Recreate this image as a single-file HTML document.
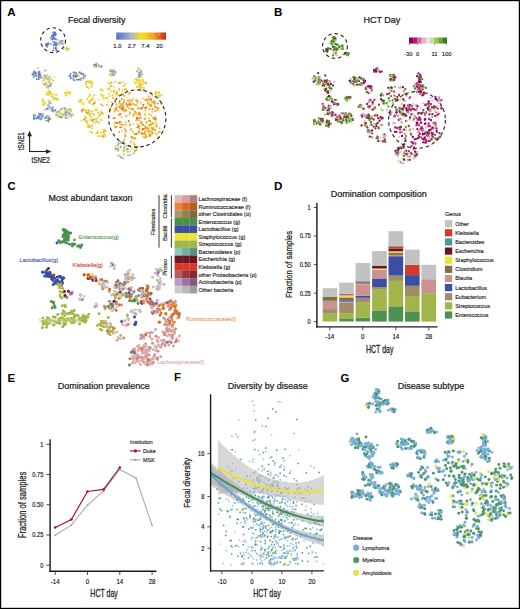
<!DOCTYPE html><html><head><meta charset="utf-8"><style>html,body{margin:0;padding:0;background:#fff;}svg{display:block;font-family:"Liberation Sans",sans-serif;}</style></head><body><svg width="520" height="609" viewBox="0 0 520 609">
<rect x="0.00" y="0.00" width="520.00" height="609.00" fill="#ffffff"/>
<text x="7.20" y="15.80" font-size="11.6" fill="#000" text-anchor="start" font-weight="bold">A</text>
<text x="68.00" y="23.30" font-size="9" fill="#222" text-anchor="start" font-weight="normal" stroke="#222" stroke-width="0.24">Fecal diversity</text>
<defs><linearGradient id="divg" x1="0" x2="1" y1="0" y2="0"><stop offset="0" stop-color="#4e72c2"/><stop offset="0.3" stop-color="#a9b4c4"/><stop offset="0.5" stop-color="#f3e21e"/><stop offset="0.75" stop-color="#f0a422"/><stop offset="1" stop-color="#d0201f"/></linearGradient></defs>
<rect x="116.20" y="32.50" width="49.80" height="7.20" fill="url(#divg)"/>
<line x1="116.80" y1="34.00" x2="116.80" y2="35.00" stroke="#ffffff" stroke-width="0.8" opacity="0.7"/>
<line x1="131.50" y1="34.00" x2="131.50" y2="35.00" stroke="#ffffff" stroke-width="0.8" opacity="0.7"/>
<line x1="145.50" y1="34.00" x2="145.50" y2="35.00" stroke="#ffffff" stroke-width="0.8" opacity="0.7"/>
<line x1="159.50" y1="34.00" x2="159.50" y2="35.00" stroke="#ffffff" stroke-width="0.8" opacity="0.7"/>
<text x="117.40" y="48.20" font-size="5.8" fill="#222" text-anchor="middle" font-weight="normal" stroke="#222" stroke-width="0.15">1.0</text>
<text x="131.70" y="48.20" font-size="5.8" fill="#222" text-anchor="middle" font-weight="normal" stroke="#222" stroke-width="0.15">2.7</text>
<text x="145.40" y="48.20" font-size="5.8" fill="#222" text-anchor="middle" font-weight="normal" stroke="#222" stroke-width="0.15">7.4</text>
<text x="159.50" y="48.20" font-size="5.8" fill="#222" text-anchor="middle" font-weight="normal" stroke="#222" stroke-width="0.15">20</text>
<g>
<circle cx="52.29" cy="39.56" r="0.95" fill="#5d7cc2"/>
<circle cx="52.99" cy="35.36" r="0.95" fill="#6683c2"/>
<circle cx="55.84" cy="34.17" r="0.95" fill="#5d7dc2"/>
<circle cx="53.22" cy="38.41" r="0.95" fill="#5c7cc2"/>
<circle cx="56.69" cy="50.15" r="0.95" fill="#5477c2"/>
<circle cx="52.67" cy="35.46" r="0.95" fill="#5d7dc2"/>
<circle cx="50.91" cy="38.29" r="0.95" fill="#6d88c2"/>
<circle cx="55.67" cy="48.81" r="0.95" fill="#6582c2"/>
<circle cx="53.43" cy="35.48" r="0.95" fill="#6c88c2"/>
<circle cx="56.07" cy="45.76" r="0.95" fill="#6381c2"/>
<circle cx="53.38" cy="45.07" r="0.95" fill="#6482c2"/>
<circle cx="51.94" cy="35.56" r="0.95" fill="#6280c2"/>
<circle cx="55.36" cy="35.23" r="0.95" fill="#4e72c2"/>
<circle cx="54.96" cy="34.75" r="0.95" fill="#6a86c2"/>
<circle cx="54.44" cy="34.73" r="0.95" fill="#6683c2"/>
<circle cx="53.18" cy="32.62" r="0.95" fill="#6683c2"/>
<circle cx="53.06" cy="50.39" r="0.95" fill="#4e72c2"/>
<circle cx="56.08" cy="43.92" r="0.95" fill="#4e72c2"/>
<circle cx="54.71" cy="32.60" r="0.95" fill="#5577c2"/>
<circle cx="56.20" cy="49.91" r="0.95" fill="#5a7bc2"/>
<circle cx="55.33" cy="45.13" r="0.95" fill="#6381c2"/>
<circle cx="51.68" cy="36.46" r="0.95" fill="#5f7ec2"/>
<circle cx="54.81" cy="42.11" r="0.95" fill="#6683c2"/>
<circle cx="53.81" cy="34.84" r="0.95" fill="#5879c2"/>
<circle cx="55.44" cy="33.67" r="0.95" fill="#6381c2"/>
<circle cx="57.59" cy="39.97" r="0.95" fill="#aab4c0"/>
<circle cx="54.98" cy="32.45" r="0.95" fill="#5879c2"/>
<circle cx="53.00" cy="41.83" r="0.95" fill="#758ec2"/>
<circle cx="55.21" cy="44.39" r="0.95" fill="#6684c2"/>
<circle cx="54.66" cy="43.48" r="0.95" fill="#6e89c2"/>
<circle cx="55.87" cy="47.84" r="0.95" fill="#5879c2"/>
<circle cx="55.40" cy="43.95" r="0.95" fill="#5778c2"/>
<circle cx="55.85" cy="39.22" r="0.95" fill="#5c7cc2"/>
<circle cx="54.59" cy="33.35" r="0.95" fill="#5e7ec2"/>
<circle cx="53.67" cy="32.14" r="0.95" fill="#6784c2"/>
<circle cx="53.57" cy="36.36" r="0.95" fill="#6381c2"/>
<circle cx="53.31" cy="37.19" r="0.95" fill="#5a7bc2"/>
<circle cx="55.78" cy="43.29" r="0.95" fill="#5476c2"/>
<circle cx="54.61" cy="43.10" r="0.95" fill="#597ac2"/>
<circle cx="54.00" cy="47.95" r="0.95" fill="#6f89c2"/>
<circle cx="55.37" cy="33.33" r="0.95" fill="#5678c2"/>
<circle cx="54.06" cy="33.09" r="0.95" fill="#6381c2"/>
<circle cx="53.98" cy="39.12" r="0.95" fill="#6582c2"/>
<circle cx="54.63" cy="38.17" r="0.95" fill="#4e72c2"/>
<circle cx="53.86" cy="33.38" r="0.95" fill="#607fc2"/>
<circle cx="50.54" cy="43.84" r="0.95" fill="#708ac2"/>
<circle cx="46.17" cy="43.86" r="0.95" fill="#4e72c2"/>
<circle cx="48.43" cy="43.44" r="0.95" fill="#5c7cc2"/>
<circle cx="47.99" cy="43.33" r="0.95" fill="#5e7ec2"/>
<circle cx="46.08" cy="45.12" r="0.95" fill="#5678c2"/>
<circle cx="47.50" cy="45.30" r="0.95" fill="#6683c2"/>
<circle cx="46.12" cy="45.63" r="0.95" fill="#5f7ec2"/>
<circle cx="46.58" cy="45.27" r="0.95" fill="#4e72c2"/>
<circle cx="47.27" cy="46.73" r="0.95" fill="#6a86c2"/>
<circle cx="47.73" cy="44.54" r="0.95" fill="#6885c2"/>
<circle cx="60.30" cy="41.14" r="0.95" fill="#b6bca5"/>
<circle cx="62.82" cy="40.90" r="0.95" fill="#c1c38c"/>
<circle cx="62.06" cy="41.22" r="0.95" fill="#a9b4c2"/>
<circle cx="61.90" cy="44.00" r="0.95" fill="#a5b1c3"/>
<circle cx="62.31" cy="40.88" r="0.95" fill="#8b9ec3"/>
<circle cx="62.75" cy="43.67" r="0.95" fill="#afb7b5"/>
<circle cx="63.00" cy="43.34" r="0.95" fill="#97a7c3"/>
<circle cx="61.93" cy="40.74" r="0.95" fill="#9aa9c3"/>
<circle cx="60.52" cy="41.19" r="0.95" fill="#8b9ec3"/>
<circle cx="61.02" cy="43.02" r="0.95" fill="#91a2c3"/>
<circle cx="66.52" cy="48.66" r="0.95" fill="#e6da38"/>
<circle cx="67.62" cy="50.23" r="0.95" fill="#f1c51f"/>
<circle cx="67.68" cy="49.86" r="0.95" fill="#babe9c"/>
<circle cx="67.24" cy="48.59" r="0.95" fill="#cbc976"/>
<circle cx="66.50" cy="49.69" r="0.95" fill="#f2da1e"/>
<circle cx="68.86" cy="48.41" r="0.95" fill="#f1c220"/>
<circle cx="66.71" cy="47.79" r="0.95" fill="#edde2a"/>
<circle cx="63.27" cy="48.84" r="0.95" fill="#b6bca6"/>
<circle cx="67.29" cy="48.38" r="0.95" fill="#acb5bc"/>
<circle cx="65.11" cy="47.93" r="0.95" fill="#e8db35"/>
<circle cx="56.21" cy="44.59" r="0.95" fill="#5778c2"/>
<circle cx="57.47" cy="44.11" r="0.95" fill="#8ea0c3"/>
<circle cx="58.18" cy="44.47" r="0.95" fill="#b7bca3"/>
<circle cx="56.34" cy="42.59" r="0.95" fill="#6d88c2"/>
<circle cx="59.08" cy="44.11" r="0.95" fill="#a5b1c3"/>
<circle cx="60.39" cy="42.46" r="0.95" fill="#a7b2c3"/>
<circle cx="58.95" cy="42.09" r="0.95" fill="#abb5be"/>
<circle cx="56.72" cy="43.64" r="0.95" fill="#738dc2"/>
<circle cx="35.66" cy="72.93" r="0.95" fill="#6c88c2"/>
<circle cx="34.32" cy="71.34" r="0.95" fill="#4e72c2"/>
<circle cx="38.87" cy="73.51" r="0.95" fill="#768fc2"/>
<circle cx="32.63" cy="74.57" r="0.95" fill="#4e72c2"/>
<circle cx="35.61" cy="72.85" r="0.95" fill="#597ac2"/>
<circle cx="33.32" cy="72.81" r="0.95" fill="#c8c77d"/>
<circle cx="36.51" cy="74.99" r="0.95" fill="#728cc2"/>
<circle cx="35.99" cy="73.78" r="0.95" fill="#ded54c"/>
<circle cx="34.33" cy="71.59" r="0.95" fill="#607fc2"/>
<circle cx="40.45" cy="75.95" r="0.95" fill="#6582c2"/>
<circle cx="36.79" cy="76.08" r="0.95" fill="#748ec2"/>
<circle cx="41.20" cy="75.46" r="0.95" fill="#bec192"/>
<circle cx="38.94" cy="75.16" r="0.95" fill="#6482c2"/>
<circle cx="39.95" cy="75.84" r="0.95" fill="#4e72c2"/>
<circle cx="35.39" cy="73.68" r="0.95" fill="#5476c2"/>
<circle cx="36.74" cy="79.09" r="0.95" fill="#5275c2"/>
<circle cx="32.54" cy="74.56" r="0.95" fill="#5376c2"/>
<circle cx="38.80" cy="74.85" r="0.95" fill="#d9d257"/>
<circle cx="38.21" cy="72.39" r="0.95" fill="#4e72c2"/>
<circle cx="33.76" cy="76.79" r="0.95" fill="#5d7dc2"/>
<circle cx="40.95" cy="76.77" r="0.95" fill="#6784c2"/>
<circle cx="41.52" cy="76.66" r="0.95" fill="#cfcc6c"/>
<circle cx="38.75" cy="75.26" r="0.95" fill="#6582c2"/>
<circle cx="39.57" cy="73.56" r="0.95" fill="#607fc2"/>
<circle cx="39.64" cy="77.08" r="0.95" fill="#6784c2"/>
<circle cx="35.35" cy="75.49" r="0.95" fill="#6e89c2"/>
<circle cx="35.53" cy="75.13" r="0.95" fill="#6b87c2"/>
<circle cx="37.59" cy="72.45" r="0.95" fill="#c1c38d"/>
<circle cx="33.99" cy="73.55" r="0.95" fill="#5d7dc2"/>
<circle cx="39.63" cy="73.21" r="0.95" fill="#5e7dc2"/>
<circle cx="39.12" cy="74.64" r="0.95" fill="#6985c2"/>
<circle cx="36.44" cy="74.83" r="0.95" fill="#acb6bb"/>
<circle cx="34.60" cy="72.12" r="0.95" fill="#6684c2"/>
<circle cx="39.42" cy="71.80" r="0.95" fill="#5c7cc2"/>
<circle cx="38.54" cy="77.46" r="0.95" fill="#6d88c2"/>
<circle cx="43.44" cy="78.47" r="0.95" fill="#c4c585"/>
<circle cx="49.64" cy="76.18" r="0.95" fill="#c8c77e"/>
<circle cx="50.91" cy="78.03" r="0.95" fill="#f2df1e"/>
<circle cx="48.50" cy="77.79" r="0.95" fill="#adb6ba"/>
<circle cx="45.56" cy="75.94" r="0.95" fill="#e3d840"/>
<circle cx="47.18" cy="75.41" r="0.95" fill="#efdf26"/>
<circle cx="47.04" cy="75.31" r="0.95" fill="#f2dd1e"/>
<circle cx="52.98" cy="80.52" r="0.95" fill="#c9c77b"/>
<circle cx="49.56" cy="81.13" r="0.95" fill="#f1c41f"/>
<circle cx="48.36" cy="79.76" r="0.95" fill="#b2b9af"/>
<circle cx="38.81" cy="79.19" r="0.95" fill="#6280c2"/>
<circle cx="42.85" cy="80.43" r="0.95" fill="#edde2b"/>
<circle cx="48.54" cy="79.63" r="0.95" fill="#e8db35"/>
<circle cx="41.49" cy="76.35" r="0.95" fill="#f2d41e"/>
<circle cx="45.24" cy="77.94" r="0.95" fill="#7890c2"/>
<circle cx="47.75" cy="79.32" r="0.95" fill="#aeb7b8"/>
<circle cx="45.38" cy="78.90" r="0.95" fill="#aeb7b6"/>
<circle cx="44.32" cy="80.92" r="0.95" fill="#ddd44e"/>
<circle cx="54.31" cy="77.04" r="0.95" fill="#f2e11e"/>
<circle cx="40.72" cy="77.76" r="0.95" fill="#869ac3"/>
<circle cx="46.47" cy="76.40" r="0.95" fill="#ddd44d"/>
<circle cx="44.57" cy="75.76" r="0.95" fill="#768fc2"/>
<circle cx="44.84" cy="78.39" r="0.95" fill="#bdc097"/>
<circle cx="47.70" cy="78.95" r="0.95" fill="#9eacc3"/>
<circle cx="45.92" cy="77.46" r="0.95" fill="#96a6c3"/>
<circle cx="51.51" cy="83.10" r="0.95" fill="#babe9d"/>
<circle cx="40.20" cy="75.18" r="0.95" fill="#6f8ac2"/>
<circle cx="50.85" cy="79.11" r="0.95" fill="#c6c682"/>
<circle cx="41.77" cy="77.57" r="0.95" fill="#babf9b"/>
<circle cx="46.45" cy="82.20" r="0.95" fill="#f2d31e"/>
<circle cx="45.07" cy="78.37" r="0.95" fill="#f1e121"/>
<circle cx="45.30" cy="77.00" r="0.95" fill="#b1b9b1"/>
<circle cx="48.38" cy="86.49" r="0.95" fill="#f0ac21"/>
<circle cx="49.18" cy="82.35" r="0.95" fill="#8da0c3"/>
<circle cx="46.27" cy="83.84" r="0.95" fill="#ebdd2f"/>
<circle cx="51.19" cy="84.01" r="0.95" fill="#b2b9ae"/>
<circle cx="50.31" cy="85.20" r="0.95" fill="#c5c583"/>
<circle cx="50.33" cy="83.96" r="0.95" fill="#e1d646"/>
<circle cx="48.10" cy="87.96" r="0.95" fill="#c9c87a"/>
<circle cx="50.70" cy="85.48" r="0.95" fill="#ddd44d"/>
<circle cx="47.79" cy="86.20" r="0.95" fill="#7e95c3"/>
<circle cx="46.02" cy="84.05" r="0.95" fill="#7f96c3"/>
<circle cx="46.76" cy="87.06" r="0.95" fill="#dcd44f"/>
<circle cx="43.93" cy="84.05" r="0.95" fill="#95a5c3"/>
<circle cx="50.23" cy="84.60" r="0.95" fill="#92a3c3"/>
<circle cx="50.08" cy="86.07" r="0.95" fill="#8197c3"/>
<circle cx="45.07" cy="85.55" r="0.95" fill="#f2db1e"/>
<circle cx="49.71" cy="83.03" r="0.95" fill="#e3d841"/>
<circle cx="38.12" cy="68.06" r="0.95" fill="#d7d15a"/>
<circle cx="45.30" cy="70.48" r="0.95" fill="#7a92c2"/>
<circle cx="46.90" cy="94.86" r="0.95" fill="#e4d83e"/>
<circle cx="47.83" cy="92.30" r="0.95" fill="#f2dd1e"/>
<circle cx="51.78" cy="94.49" r="0.95" fill="#f2db1e"/>
<circle cx="49.94" cy="91.77" r="0.95" fill="#dcd44f"/>
<circle cx="52.08" cy="94.21" r="0.95" fill="#f2ce1f"/>
<circle cx="49.02" cy="91.30" r="0.95" fill="#abb5be"/>
<circle cx="49.41" cy="95.24" r="0.95" fill="#ded54b"/>
<circle cx="50.19" cy="92.20" r="0.95" fill="#f2d31e"/>
<circle cx="46.27" cy="94.08" r="0.95" fill="#f1c120"/>
<circle cx="47.91" cy="92.75" r="0.95" fill="#e7da38"/>
<circle cx="50.51" cy="92.33" r="0.95" fill="#f2da1e"/>
<circle cx="48.37" cy="92.71" r="0.95" fill="#f2d61e"/>
<circle cx="48.84" cy="91.21" r="0.95" fill="#f1c61f"/>
<circle cx="50.41" cy="93.34" r="0.95" fill="#f1bc20"/>
<circle cx="48.01" cy="94.42" r="0.95" fill="#f2db1e"/>
<circle cx="49.33" cy="93.39" r="0.95" fill="#e7da38"/>
<circle cx="57.37" cy="98.92" r="0.95" fill="#f1c51f"/>
<circle cx="53.39" cy="97.43" r="0.95" fill="#adb6ba"/>
<circle cx="57.74" cy="99.66" r="0.95" fill="#e7da37"/>
<circle cx="58.18" cy="99.19" r="0.95" fill="#dfd649"/>
<circle cx="56.52" cy="94.82" r="0.95" fill="#e7db37"/>
<circle cx="54.19" cy="98.68" r="0.95" fill="#f1e120"/>
<circle cx="56.01" cy="99.01" r="0.95" fill="#f0aa21"/>
<circle cx="54.85" cy="94.86" r="0.95" fill="#f2da1e"/>
<circle cx="56.70" cy="99.72" r="0.95" fill="#e1d745"/>
<circle cx="55.41" cy="97.85" r="0.95" fill="#d9d257"/>
<circle cx="52.01" cy="96.49" r="0.95" fill="#f1cc1f"/>
<circle cx="56.00" cy="99.21" r="0.95" fill="#e9dc32"/>
<circle cx="53.86" cy="99.37" r="0.95" fill="#f1c51f"/>
<circle cx="43.43" cy="102.33" r="0.95" fill="#cecb6f"/>
<circle cx="43.63" cy="100.90" r="0.95" fill="#f2db1e"/>
<circle cx="43.72" cy="104.75" r="0.95" fill="#f2d01f"/>
<circle cx="44.27" cy="104.25" r="0.95" fill="#f0e022"/>
<circle cx="43.13" cy="100.92" r="0.95" fill="#f2d11f"/>
<circle cx="45.39" cy="102.96" r="0.95" fill="#e3d841"/>
<circle cx="42.58" cy="104.46" r="0.95" fill="#eadc30"/>
<circle cx="43.56" cy="104.70" r="0.95" fill="#e8db34"/>
<circle cx="42.65" cy="98.97" r="0.95" fill="#f2da1e"/>
<circle cx="42.66" cy="100.54" r="0.95" fill="#f2cf1f"/>
<circle cx="43.72" cy="104.37" r="0.95" fill="#e7db36"/>
<circle cx="52.49" cy="109.08" r="0.95" fill="#738cc2"/>
<circle cx="49.03" cy="104.99" r="0.95" fill="#a4b0c3"/>
<circle cx="48.59" cy="102.63" r="0.95" fill="#b6bca5"/>
<circle cx="52.19" cy="110.80" r="0.95" fill="#879bc3"/>
<circle cx="51.44" cy="110.63" r="0.95" fill="#bcc098"/>
<circle cx="52.86" cy="111.34" r="0.95" fill="#889cc3"/>
<circle cx="51.53" cy="108.61" r="0.95" fill="#758ec2"/>
<circle cx="53.02" cy="107.55" r="0.95" fill="#92a3c3"/>
<circle cx="52.23" cy="110.26" r="0.95" fill="#bec194"/>
<circle cx="51.59" cy="108.44" r="0.95" fill="#9dabc3"/>
<circle cx="50.06" cy="103.21" r="0.95" fill="#9aa9c3"/>
<circle cx="50.82" cy="103.13" r="0.95" fill="#9caac3"/>
<circle cx="51.92" cy="109.66" r="0.95" fill="#9fadc3"/>
<circle cx="50.64" cy="100.86" r="0.95" fill="#e5d93c"/>
<circle cx="49.69" cy="101.93" r="0.95" fill="#c7c77e"/>
<circle cx="52.23" cy="107.03" r="0.95" fill="#a1aec3"/>
<circle cx="48.72" cy="100.71" r="0.95" fill="#ded44d"/>
<circle cx="52.82" cy="111.22" r="0.95" fill="#90a2c3"/>
<circle cx="52.43" cy="109.80" r="0.95" fill="#738dc2"/>
<circle cx="48.61" cy="121.59" r="0.95" fill="#6481c2"/>
<circle cx="50.58" cy="118.70" r="0.95" fill="#f1cb1f"/>
<circle cx="46.12" cy="120.60" r="0.95" fill="#728cc2"/>
<circle cx="37.86" cy="116.67" r="0.95" fill="#6885c2"/>
<circle cx="40.49" cy="113.99" r="0.95" fill="#5476c2"/>
<circle cx="38.82" cy="113.52" r="0.95" fill="#748dc2"/>
<circle cx="35.22" cy="115.90" r="0.95" fill="#5d7dc2"/>
<circle cx="45.41" cy="117.67" r="0.95" fill="#4f72c2"/>
<circle cx="46.62" cy="117.41" r="0.95" fill="#6482c2"/>
<circle cx="48.97" cy="118.12" r="0.95" fill="#4e72c2"/>
<circle cx="41.33" cy="117.81" r="0.95" fill="#6b87c2"/>
<circle cx="40.15" cy="119.51" r="0.95" fill="#718bc2"/>
<circle cx="36.91" cy="118.26" r="0.95" fill="#6280c2"/>
<circle cx="48.30" cy="121.13" r="0.95" fill="#bbbf9a"/>
<circle cx="34.16" cy="117.65" r="0.95" fill="#6b87c2"/>
<circle cx="38.30" cy="118.16" r="0.95" fill="#6c87c2"/>
<circle cx="45.06" cy="117.92" r="0.95" fill="#6683c2"/>
<circle cx="37.78" cy="116.95" r="0.95" fill="#6c87c2"/>
<circle cx="43.01" cy="116.09" r="0.95" fill="#6d88c2"/>
<circle cx="36.36" cy="118.60" r="0.95" fill="#607fc2"/>
<circle cx="46.87" cy="115.98" r="0.95" fill="#7991c2"/>
<circle cx="47.01" cy="115.66" r="0.95" fill="#bbbf9a"/>
<circle cx="39.34" cy="116.46" r="0.95" fill="#7e95c3"/>
<circle cx="48.38" cy="118.22" r="0.95" fill="#bbbf9a"/>
<circle cx="39.07" cy="117.54" r="0.95" fill="#4e72c2"/>
<circle cx="39.08" cy="115.16" r="0.95" fill="#6986c2"/>
<circle cx="49.69" cy="118.84" r="0.95" fill="#5577c2"/>
<circle cx="49.17" cy="119.49" r="0.95" fill="#6d89c2"/>
<circle cx="48.12" cy="120.30" r="0.95" fill="#5c7cc2"/>
<circle cx="48.53" cy="117.46" r="0.95" fill="#7c93c3"/>
<circle cx="34.47" cy="118.50" r="0.95" fill="#6381c2"/>
<circle cx="38.00" cy="117.43" r="0.95" fill="#6784c2"/>
<circle cx="41.78" cy="118.87" r="0.95" fill="#607fc2"/>
<circle cx="49.10" cy="116.04" r="0.95" fill="#bbbf9a"/>
<circle cx="33.98" cy="115.00" r="0.95" fill="#6583c2"/>
<circle cx="40.28" cy="116.70" r="0.95" fill="#bbbf9a"/>
<circle cx="33.98" cy="115.78" r="0.95" fill="#6583c2"/>
<circle cx="41.05" cy="115.32" r="0.95" fill="#6a86c2"/>
<circle cx="42.78" cy="116.17" r="0.95" fill="#718bc2"/>
<circle cx="34.79" cy="114.81" r="0.95" fill="#bbbf9a"/>
<circle cx="33.95" cy="119.31" r="0.95" fill="#718bc2"/>
<circle cx="42.67" cy="113.80" r="0.95" fill="#7a92c2"/>
<circle cx="56.07" cy="114.91" r="0.95" fill="#d9d257"/>
<circle cx="65.57" cy="117.72" r="0.95" fill="#8399c3"/>
<circle cx="59.91" cy="109.95" r="0.95" fill="#a0aec3"/>
<circle cx="68.60" cy="116.55" r="0.95" fill="#cdca72"/>
<circle cx="72.89" cy="114.95" r="0.95" fill="#c8c77e"/>
<circle cx="60.34" cy="113.94" r="0.95" fill="#acb5bd"/>
<circle cx="65.42" cy="109.22" r="0.95" fill="#94a5c3"/>
<circle cx="64.66" cy="113.85" r="0.95" fill="#f1c020"/>
<circle cx="69.26" cy="109.74" r="0.95" fill="#f1e022"/>
<circle cx="65.42" cy="108.14" r="0.95" fill="#8c9fc3"/>
<circle cx="65.22" cy="109.55" r="0.95" fill="#869ac3"/>
<circle cx="60.12" cy="112.12" r="0.95" fill="#f2cd1f"/>
<circle cx="59.71" cy="110.53" r="0.95" fill="#eedf27"/>
<circle cx="60.77" cy="113.22" r="0.95" fill="#f1ca1f"/>
<circle cx="70.76" cy="109.27" r="0.95" fill="#e6da3a"/>
<circle cx="63.31" cy="115.16" r="0.95" fill="#98a8c3"/>
<circle cx="65.03" cy="115.85" r="0.95" fill="#cbc976"/>
<circle cx="66.19" cy="114.49" r="0.95" fill="#6683c2"/>
<circle cx="66.08" cy="112.58" r="0.95" fill="#9dabc3"/>
<circle cx="64.07" cy="108.51" r="0.95" fill="#bcc098"/>
<circle cx="66.25" cy="109.73" r="0.95" fill="#d8d159"/>
<circle cx="67.97" cy="112.15" r="0.95" fill="#9eacc3"/>
<circle cx="67.45" cy="110.54" r="0.95" fill="#b9be9f"/>
<circle cx="57.25" cy="115.08" r="0.95" fill="#d5cf60"/>
<circle cx="70.66" cy="109.96" r="0.95" fill="#d1cd69"/>
<circle cx="69.28" cy="116.24" r="0.95" fill="#ddd44d"/>
<circle cx="70.00" cy="112.29" r="0.95" fill="#c9c87b"/>
<circle cx="72.24" cy="113.96" r="0.95" fill="#afb8b5"/>
<circle cx="55.95" cy="114.24" r="0.95" fill="#b3baab"/>
<circle cx="64.35" cy="107.77" r="0.95" fill="#c1c38c"/>
<circle cx="60.88" cy="116.84" r="0.95" fill="#9aa9c3"/>
<circle cx="66.82" cy="118.08" r="0.95" fill="#a2afc3"/>
<circle cx="69.33" cy="109.68" r="0.95" fill="#bfc192"/>
<circle cx="71.50" cy="110.90" r="0.95" fill="#b9be9e"/>
<circle cx="69.07" cy="108.72" r="0.95" fill="#c6c681"/>
<circle cx="71.38" cy="116.81" r="0.95" fill="#bfc192"/>
<circle cx="64.67" cy="113.94" r="0.95" fill="#c7c77f"/>
<circle cx="59.07" cy="111.70" r="0.95" fill="#b8bda0"/>
<circle cx="57.70" cy="112.02" r="0.95" fill="#738dc2"/>
<circle cx="57.50" cy="114.74" r="0.95" fill="#a6b2c3"/>
<circle cx="64.30" cy="111.59" r="0.95" fill="#f1e120"/>
<circle cx="61.49" cy="118.33" r="0.95" fill="#d4ce63"/>
<circle cx="61.80" cy="108.51" r="0.95" fill="#b6bca6"/>
<circle cx="57.98" cy="117.30" r="0.95" fill="#d4cf62"/>
<circle cx="61.58" cy="109.24" r="0.95" fill="#95a5c3"/>
<circle cx="65.59" cy="112.25" r="0.95" fill="#708ac2"/>
<circle cx="57.51" cy="111.78" r="0.95" fill="#9baac3"/>
<circle cx="69.95" cy="113.71" r="0.95" fill="#96a6c3"/>
<circle cx="56.93" cy="112.46" r="0.95" fill="#b1b9b0"/>
<circle cx="67.15" cy="112.23" r="0.95" fill="#90a2c3"/>
<circle cx="60.15" cy="116.77" r="0.95" fill="#5376c2"/>
<circle cx="71.19" cy="114.91" r="0.95" fill="#92a3c3"/>
<circle cx="57.40" cy="115.95" r="0.95" fill="#f2d11f"/>
<circle cx="66.49" cy="115.88" r="0.95" fill="#acb6bb"/>
<circle cx="68.94" cy="113.94" r="0.95" fill="#859ac3"/>
<circle cx="62.22" cy="117.04" r="0.95" fill="#9dabc3"/>
<circle cx="60.67" cy="109.97" r="0.95" fill="#d8d159"/>
<circle cx="58.55" cy="115.27" r="0.95" fill="#d7d05c"/>
<circle cx="63.46" cy="113.74" r="0.95" fill="#c7c77f"/>
<circle cx="62.84" cy="113.78" r="0.95" fill="#f2d41e"/>
<circle cx="61.96" cy="114.21" r="0.95" fill="#e1d645"/>
<circle cx="55.33" cy="110.07" r="0.95" fill="#99a8c3"/>
<circle cx="46.91" cy="108.95" r="0.95" fill="#6f8ac2"/>
<circle cx="47.41" cy="105.29" r="0.95" fill="#bfc192"/>
<circle cx="55.15" cy="110.14" r="0.95" fill="#6683c2"/>
<circle cx="54.09" cy="110.46" r="0.95" fill="#8ea0c3"/>
<circle cx="47.01" cy="108.39" r="0.95" fill="#5b7bc2"/>
<circle cx="49.07" cy="106.84" r="0.95" fill="#90a2c3"/>
<circle cx="47.63" cy="108.77" r="0.95" fill="#768fc2"/>
<circle cx="55.47" cy="109.68" r="0.95" fill="#8398c3"/>
<circle cx="54.55" cy="111.55" r="0.95" fill="#a1aec3"/>
<circle cx="44.75" cy="109.69" r="0.95" fill="#bbbf9a"/>
<circle cx="48.34" cy="109.22" r="0.95" fill="#bbbf9a"/>
<circle cx="49.80" cy="107.55" r="0.95" fill="#8499c3"/>
<circle cx="69.59" cy="94.18" r="0.95" fill="#f0e024"/>
<circle cx="69.68" cy="91.86" r="0.95" fill="#f2ce1f"/>
<circle cx="67.03" cy="95.72" r="0.95" fill="#f1e021"/>
<circle cx="70.11" cy="92.98" r="0.95" fill="#f2e01e"/>
<circle cx="67.19" cy="92.13" r="0.95" fill="#f2de1e"/>
<circle cx="65.76" cy="95.33" r="0.95" fill="#ddd44d"/>
<circle cx="65.71" cy="93.65" r="0.95" fill="#f2d01f"/>
<circle cx="68.34" cy="92.35" r="0.95" fill="#e2d742"/>
<circle cx="66.45" cy="92.13" r="0.95" fill="#f2df1e"/>
<circle cx="70.46" cy="92.52" r="0.95" fill="#f2e11e"/>
<circle cx="67.54" cy="93.36" r="0.95" fill="#f2df1e"/>
<circle cx="68.13" cy="92.49" r="0.95" fill="#f2e01e"/>
<circle cx="64.77" cy="93.05" r="0.95" fill="#f2d61e"/>
<circle cx="84.84" cy="76.91" r="0.95" fill="#708ac2"/>
<circle cx="76.43" cy="74.14" r="0.95" fill="#6d88c2"/>
<circle cx="80.65" cy="72.72" r="0.95" fill="#597ac2"/>
<circle cx="79.01" cy="76.12" r="0.95" fill="#dfd648"/>
<circle cx="70.31" cy="76.14" r="0.95" fill="#6482c2"/>
<circle cx="76.39" cy="73.26" r="0.95" fill="#4e72c2"/>
<circle cx="70.92" cy="77.93" r="0.95" fill="#768fc2"/>
<circle cx="78.05" cy="75.07" r="0.95" fill="#eadc30"/>
<circle cx="80.45" cy="79.77" r="0.95" fill="#8da0c3"/>
<circle cx="75.05" cy="76.38" r="0.95" fill="#f2e01e"/>
<circle cx="83.43" cy="73.87" r="0.95" fill="#6885c2"/>
<circle cx="76.42" cy="76.00" r="0.95" fill="#4e72c2"/>
<circle cx="74.97" cy="76.71" r="0.95" fill="#4e72c2"/>
<circle cx="81.78" cy="79.73" r="0.95" fill="#eadc30"/>
<circle cx="75.80" cy="74.03" r="0.95" fill="#c9c87a"/>
<circle cx="81.46" cy="78.10" r="0.95" fill="#5879c2"/>
<circle cx="73.59" cy="75.58" r="0.95" fill="#6c88c2"/>
<circle cx="73.16" cy="76.36" r="0.95" fill="#708bc2"/>
<circle cx="73.44" cy="72.13" r="0.95" fill="#879bc3"/>
<circle cx="74.00" cy="74.47" r="0.95" fill="#8197c3"/>
<circle cx="74.17" cy="80.29" r="0.95" fill="#597ac2"/>
<circle cx="81.40" cy="73.82" r="0.95" fill="#5879c2"/>
<circle cx="83.65" cy="75.96" r="0.95" fill="#758ec2"/>
<circle cx="69.46" cy="75.83" r="0.95" fill="#4f73c2"/>
<circle cx="70.56" cy="73.95" r="0.95" fill="#6885c2"/>
<circle cx="84.54" cy="76.44" r="0.95" fill="#e5d93b"/>
<circle cx="84.93" cy="75.57" r="0.95" fill="#7991c2"/>
<circle cx="74.54" cy="73.51" r="0.95" fill="#f2e11f"/>
<circle cx="73.17" cy="78.76" r="0.95" fill="#6985c2"/>
<circle cx="78.64" cy="79.62" r="0.95" fill="#4e72c2"/>
<circle cx="76.87" cy="79.71" r="0.95" fill="#5074c2"/>
<circle cx="79.88" cy="72.01" r="0.95" fill="#efdf26"/>
<circle cx="74.85" cy="72.52" r="0.95" fill="#6784c2"/>
<circle cx="79.31" cy="72.49" r="0.95" fill="#6683c2"/>
<circle cx="70.62" cy="78.41" r="0.95" fill="#6b87c2"/>
<circle cx="80.04" cy="79.48" r="0.95" fill="#5c7cc2"/>
<circle cx="83.71" cy="78.19" r="0.95" fill="#7991c2"/>
<circle cx="82.44" cy="74.08" r="0.95" fill="#718bc2"/>
<circle cx="76.52" cy="76.57" r="0.95" fill="#6583c2"/>
<circle cx="75.56" cy="75.76" r="0.95" fill="#5e7ec2"/>
<circle cx="76.90" cy="76.30" r="0.95" fill="#6381c2"/>
<circle cx="81.53" cy="79.66" r="0.95" fill="#edde2a"/>
<circle cx="86.35" cy="81.78" r="0.95" fill="#96a6c3"/>
<circle cx="86.61" cy="87.35" r="0.95" fill="#edde2b"/>
<circle cx="88.61" cy="88.08" r="0.95" fill="#f1c91f"/>
<circle cx="89.12" cy="81.81" r="0.95" fill="#f2dd1e"/>
<circle cx="91.69" cy="81.84" r="0.95" fill="#f1c91f"/>
<circle cx="91.49" cy="86.87" r="0.95" fill="#b0b8b3"/>
<circle cx="88.44" cy="81.42" r="0.95" fill="#e0d647"/>
<circle cx="86.53" cy="87.20" r="0.95" fill="#f2da1e"/>
<circle cx="91.92" cy="85.14" r="0.95" fill="#f2d31e"/>
<circle cx="86.30" cy="84.44" r="0.95" fill="#f0b121"/>
<circle cx="92.55" cy="83.25" r="0.95" fill="#f2d91e"/>
<circle cx="89.65" cy="81.29" r="0.95" fill="#f1c61f"/>
<circle cx="87.26" cy="87.05" r="0.95" fill="#f2d01f"/>
<circle cx="90.75" cy="82.93" r="0.95" fill="#f1cc1f"/>
<circle cx="91.21" cy="81.44" r="0.95" fill="#f2d51e"/>
<circle cx="85.65" cy="83.26" r="0.95" fill="#f2e120"/>
<circle cx="89.33" cy="82.71" r="0.95" fill="#f2d51e"/>
<circle cx="87.88" cy="81.42" r="0.95" fill="#d7d15b"/>
<circle cx="89.55" cy="81.18" r="0.95" fill="#f0e023"/>
<circle cx="81.69" cy="102.87" r="0.95" fill="#f2e11e"/>
<circle cx="80.21" cy="99.94" r="0.95" fill="#f0b420"/>
<circle cx="78.67" cy="101.43" r="0.95" fill="#f2e11e"/>
<circle cx="81.70" cy="100.15" r="0.95" fill="#f1cb1f"/>
<circle cx="78.82" cy="102.09" r="0.95" fill="#f2cd1f"/>
<circle cx="83.51" cy="104.29" r="0.95" fill="#e4d83f"/>
<circle cx="80.79" cy="101.84" r="0.95" fill="#f1cc1f"/>
<circle cx="83.52" cy="103.54" r="0.95" fill="#f2d21e"/>
<circle cx="85.08" cy="110.05" r="0.95" fill="#f1bf20"/>
<circle cx="82.57" cy="109.92" r="0.95" fill="#f2db1e"/>
<circle cx="89.65" cy="111.02" r="0.95" fill="#f1ba20"/>
<circle cx="83.02" cy="110.15" r="0.95" fill="#f1cd1f"/>
<circle cx="88.65" cy="112.20" r="0.95" fill="#f2cf1f"/>
<circle cx="85.36" cy="110.73" r="0.95" fill="#f2cd1f"/>
<circle cx="87.42" cy="112.69" r="0.95" fill="#c2c48a"/>
<circle cx="87.24" cy="112.97" r="0.95" fill="#ee9d21"/>
<circle cx="86.15" cy="112.45" r="0.95" fill="#efa221"/>
<circle cx="86.19" cy="111.05" r="0.95" fill="#f2db1e"/>
<circle cx="88.24" cy="110.55" r="0.95" fill="#bbbf9a"/>
<circle cx="88.46" cy="109.63" r="0.95" fill="#f2d41e"/>
<circle cx="82.25" cy="111.70" r="0.95" fill="#f0b420"/>
<circle cx="83.15" cy="108.86" r="0.95" fill="#9eacc3"/>
<circle cx="81.65" cy="110.48" r="0.95" fill="#e57921"/>
<circle cx="85.58" cy="110.51" r="0.95" fill="#efe024"/>
<circle cx="88.39" cy="101.72" r="0.95" fill="#f2db1e"/>
<circle cx="89.67" cy="94.38" r="0.95" fill="#e1d745"/>
<circle cx="94.89" cy="102.47" r="0.95" fill="#f1c41f"/>
<circle cx="87.21" cy="98.98" r="0.95" fill="#f1c220"/>
<circle cx="89.81" cy="101.28" r="0.95" fill="#f1ca1f"/>
<circle cx="89.76" cy="101.77" r="0.95" fill="#f1c220"/>
<circle cx="92.95" cy="98.37" r="0.95" fill="#f2e11e"/>
<circle cx="94.59" cy="102.23" r="0.95" fill="#f1bb20"/>
<circle cx="89.76" cy="94.89" r="0.95" fill="#edde29"/>
<circle cx="92.87" cy="98.66" r="0.95" fill="#f2d11f"/>
<circle cx="94.71" cy="103.40" r="0.95" fill="#f0ad21"/>
<circle cx="88.72" cy="96.76" r="0.95" fill="#f2d81e"/>
<circle cx="92.64" cy="97.08" r="0.95" fill="#f2cd1f"/>
<circle cx="91.42" cy="99.89" r="0.95" fill="#e98921"/>
<circle cx="90.52" cy="95.27" r="0.95" fill="#e5d93b"/>
<circle cx="89.48" cy="103.03" r="0.95" fill="#f1bf20"/>
<circle cx="94.41" cy="95.02" r="0.95" fill="#d0cc6c"/>
<circle cx="93.40" cy="103.80" r="0.95" fill="#e98721"/>
<circle cx="92.61" cy="104.72" r="0.95" fill="#ded54b"/>
<circle cx="98.78" cy="65.49" r="0.95" fill="#7a91c2"/>
<circle cx="96.98" cy="66.05" r="0.95" fill="#e5d93b"/>
<circle cx="94.57" cy="64.80" r="0.95" fill="#7c93c3"/>
<circle cx="101.69" cy="66.55" r="0.95" fill="#5879c2"/>
<circle cx="96.09" cy="65.95" r="0.95" fill="#869bc3"/>
<circle cx="94.44" cy="65.03" r="0.95" fill="#758ec2"/>
<circle cx="96.29" cy="66.60" r="0.95" fill="#6f8ac2"/>
<circle cx="94.79" cy="65.97" r="0.95" fill="#f2d31e"/>
<circle cx="96.53" cy="63.59" r="0.95" fill="#708ac2"/>
<circle cx="95.88" cy="64.51" r="0.95" fill="#6a86c2"/>
<circle cx="100.10" cy="66.68" r="0.95" fill="#8298c3"/>
<circle cx="94.16" cy="65.16" r="0.95" fill="#889cc3"/>
<circle cx="97.20" cy="63.37" r="0.95" fill="#ded54b"/>
<circle cx="94.17" cy="66.82" r="0.95" fill="#ebdd2e"/>
<circle cx="99.73" cy="67.04" r="0.95" fill="#e1d744"/>
<circle cx="96.02" cy="66.40" r="0.95" fill="#7f95c3"/>
<circle cx="113.15" cy="70.74" r="0.95" fill="#8398c3"/>
<circle cx="113.95" cy="75.14" r="0.95" fill="#95a6c3"/>
<circle cx="112.61" cy="74.32" r="0.95" fill="#5174c2"/>
<circle cx="110.14" cy="74.72" r="0.95" fill="#6f8ac2"/>
<circle cx="110.53" cy="71.24" r="0.95" fill="#6a87c2"/>
<circle cx="112.39" cy="73.22" r="0.95" fill="#9dabc3"/>
<circle cx="111.61" cy="74.64" r="0.95" fill="#a1aec3"/>
<circle cx="113.91" cy="72.66" r="0.95" fill="#f1e021"/>
<circle cx="114.94" cy="71.86" r="0.95" fill="#5f7ec2"/>
<circle cx="111.00" cy="75.60" r="0.95" fill="#ebdd2f"/>
<circle cx="110.40" cy="70.13" r="0.95" fill="#879bc3"/>
<circle cx="114.71" cy="73.72" r="0.95" fill="#a1aec3"/>
<circle cx="110.45" cy="74.48" r="0.95" fill="#c8c77c"/>
<circle cx="113.30" cy="72.19" r="0.95" fill="#e1d745"/>
<circle cx="112.12" cy="75.40" r="0.95" fill="#bcc097"/>
<circle cx="112.20" cy="69.94" r="0.95" fill="#f1e121"/>
<circle cx="111.40" cy="71.23" r="0.95" fill="#8a9dc3"/>
<circle cx="115.54" cy="72.10" r="0.95" fill="#8a9dc3"/>
<circle cx="111.08" cy="74.21" r="0.95" fill="#f2db1e"/>
<circle cx="114.00" cy="69.79" r="0.95" fill="#cbc977"/>
<circle cx="113.32" cy="75.30" r="0.95" fill="#98a7c3"/>
<circle cx="112.53" cy="71.06" r="0.95" fill="#95a6c3"/>
<circle cx="111.80" cy="70.55" r="0.95" fill="#bbbf9b"/>
<circle cx="112.32" cy="71.86" r="0.95" fill="#7991c2"/>
<circle cx="140.51" cy="76.68" r="0.95" fill="#d5cf61"/>
<circle cx="137.07" cy="71.13" r="0.95" fill="#8ea0c3"/>
<circle cx="139.87" cy="73.02" r="0.95" fill="#f0e024"/>
<circle cx="138.08" cy="71.72" r="0.95" fill="#cfcb6e"/>
<circle cx="140.87" cy="70.57" r="0.95" fill="#94a5c3"/>
<circle cx="138.49" cy="68.43" r="0.95" fill="#95a5c3"/>
<circle cx="140.62" cy="75.27" r="0.95" fill="#8da0c3"/>
<circle cx="138.84" cy="77.08" r="0.95" fill="#f2da1e"/>
<circle cx="140.91" cy="71.93" r="0.95" fill="#6a86c2"/>
<circle cx="142.32" cy="74.10" r="0.95" fill="#758ec2"/>
<circle cx="139.67" cy="75.76" r="0.95" fill="#9eacc3"/>
<circle cx="140.84" cy="77.27" r="0.95" fill="#f2de1e"/>
<circle cx="139.17" cy="77.18" r="0.95" fill="#aeb7b8"/>
<circle cx="140.39" cy="74.68" r="0.95" fill="#97a7c3"/>
<circle cx="140.01" cy="70.40" r="0.95" fill="#ded54c"/>
<circle cx="139.11" cy="76.09" r="0.95" fill="#889cc3"/>
<circle cx="140.28" cy="69.65" r="0.95" fill="#e7da38"/>
<circle cx="139.12" cy="73.16" r="0.95" fill="#6b87c2"/>
<circle cx="138.99" cy="75.18" r="0.95" fill="#768fc2"/>
<circle cx="142.19" cy="90.40" r="0.95" fill="#f2ce1f"/>
<circle cx="143.37" cy="89.75" r="0.95" fill="#f2cf1f"/>
<circle cx="140.28" cy="86.10" r="0.95" fill="#f0a921"/>
<circle cx="139.76" cy="81.82" r="0.95" fill="#f1be20"/>
<circle cx="137.67" cy="82.44" r="0.95" fill="#f2d61e"/>
<circle cx="136.72" cy="80.02" r="0.95" fill="#f0b820"/>
<circle cx="140.19" cy="88.64" r="0.95" fill="#f1c91f"/>
<circle cx="135.38" cy="79.24" r="0.95" fill="#dfd549"/>
<circle cx="140.94" cy="88.01" r="0.95" fill="#f1bc20"/>
<circle cx="137.11" cy="86.85" r="0.95" fill="#f1bf20"/>
<circle cx="140.03" cy="83.39" r="0.95" fill="#f0a421"/>
<circle cx="133.93" cy="81.37" r="0.95" fill="#f2d01f"/>
<circle cx="137.18" cy="78.41" r="0.95" fill="#d3ce64"/>
<circle cx="143.69" cy="81.83" r="0.95" fill="#f1bb20"/>
<circle cx="145.80" cy="82.91" r="0.95" fill="#e57720"/>
<circle cx="142.10" cy="81.49" r="0.95" fill="#f2df1e"/>
<circle cx="142.73" cy="84.28" r="0.95" fill="#efa321"/>
<circle cx="138.82" cy="86.95" r="0.95" fill="#f1cc1f"/>
<circle cx="143.62" cy="87.65" r="0.95" fill="#f1bc20"/>
<circle cx="136.84" cy="86.65" r="0.95" fill="#f1cc1f"/>
<circle cx="136.87" cy="81.54" r="0.95" fill="#f1e120"/>
<circle cx="141.01" cy="86.42" r="0.95" fill="#f0b221"/>
<circle cx="140.71" cy="80.09" r="0.95" fill="#f2d61e"/>
<circle cx="137.34" cy="86.42" r="0.95" fill="#f1c71f"/>
<circle cx="140.25" cy="85.48" r="0.95" fill="#f1bd20"/>
<circle cx="135.68" cy="82.66" r="0.95" fill="#e1d646"/>
<circle cx="140.54" cy="84.08" r="0.95" fill="#f1bb20"/>
<circle cx="143.71" cy="89.17" r="0.95" fill="#f1c020"/>
<circle cx="138.31" cy="84.34" r="0.95" fill="#f2d21e"/>
<circle cx="135.00" cy="83.68" r="0.95" fill="#f2db1e"/>
<circle cx="138.71" cy="80.01" r="0.95" fill="#f1c31f"/>
<circle cx="142.84" cy="80.06" r="0.95" fill="#f1c020"/>
<circle cx="116.04" cy="107.52" r="0.95" fill="#f0b520"/>
<circle cx="129.80" cy="99.82" r="0.95" fill="#f0a721"/>
<circle cx="115.31" cy="110.23" r="0.95" fill="#f0af21"/>
<circle cx="114.29" cy="90.75" r="0.95" fill="#d2cd66"/>
<circle cx="115.50" cy="102.30" r="0.95" fill="#e57921"/>
<circle cx="106.96" cy="105.00" r="0.95" fill="#f0ad21"/>
<circle cx="111.84" cy="82.90" r="0.95" fill="#d6d05d"/>
<circle cx="123.21" cy="109.52" r="0.95" fill="#d5351f"/>
<circle cx="108.39" cy="82.81" r="0.95" fill="#f2e01e"/>
<circle cx="119.33" cy="103.30" r="0.95" fill="#f1ba20"/>
<circle cx="117.43" cy="94.25" r="0.95" fill="#f1c020"/>
<circle cx="101.11" cy="104.30" r="0.95" fill="#f0a421"/>
<circle cx="99.02" cy="99.65" r="0.95" fill="#f2df1e"/>
<circle cx="102.15" cy="95.66" r="0.95" fill="#f1c220"/>
<circle cx="119.15" cy="88.91" r="0.95" fill="#f1c61f"/>
<circle cx="125.20" cy="89.23" r="0.95" fill="#f2df1e"/>
<circle cx="129.11" cy="93.64" r="0.95" fill="#ee9f21"/>
<circle cx="122.83" cy="95.52" r="0.95" fill="#f1bc20"/>
<circle cx="109.95" cy="83.96" r="0.95" fill="#f2d41e"/>
<circle cx="120.19" cy="82.63" r="0.95" fill="#f1ba20"/>
<circle cx="115.16" cy="94.07" r="0.95" fill="#f2cd1f"/>
<circle cx="108.97" cy="89.08" r="0.95" fill="#cac878"/>
<circle cx="115.82" cy="109.39" r="0.95" fill="#db4e20"/>
<circle cx="126.59" cy="90.88" r="0.95" fill="#ee9c21"/>
<circle cx="119.59" cy="101.31" r="0.95" fill="#de5b20"/>
<circle cx="124.07" cy="101.13" r="0.95" fill="#f0aa21"/>
<circle cx="126.39" cy="89.43" r="0.95" fill="#f0b720"/>
<circle cx="118.67" cy="82.69" r="0.95" fill="#f2cf1f"/>
<circle cx="119.12" cy="90.26" r="0.95" fill="#d2cd66"/>
<circle cx="107.10" cy="97.61" r="0.95" fill="#f2d51e"/>
<circle cx="116.53" cy="91.78" r="0.95" fill="#f1ca1f"/>
<circle cx="120.03" cy="103.60" r="0.95" fill="#f1cc1f"/>
<circle cx="101.68" cy="88.95" r="0.95" fill="#f2dc1e"/>
<circle cx="129.21" cy="102.38" r="0.95" fill="#ed9b21"/>
<circle cx="104.58" cy="98.32" r="0.95" fill="#f2d61e"/>
<circle cx="111.48" cy="85.95" r="0.95" fill="#cdca72"/>
<circle cx="112.98" cy="98.08" r="0.95" fill="#f0a621"/>
<circle cx="121.78" cy="109.45" r="0.95" fill="#e78221"/>
<circle cx="111.63" cy="101.86" r="0.95" fill="#f1c81f"/>
<circle cx="112.60" cy="95.45" r="0.95" fill="#f1be20"/>
<circle cx="122.84" cy="104.90" r="0.95" fill="#f2db1e"/>
<circle cx="110.91" cy="91.21" r="0.95" fill="#f1c71f"/>
<circle cx="114.37" cy="111.45" r="0.95" fill="#f0b021"/>
<circle cx="109.28" cy="88.30" r="0.95" fill="#f0b620"/>
<circle cx="113.85" cy="91.71" r="0.95" fill="#f1b820"/>
<circle cx="113.17" cy="97.93" r="0.95" fill="#f2cf1f"/>
<circle cx="102.70" cy="105.37" r="0.95" fill="#ee9d21"/>
<circle cx="120.94" cy="105.28" r="0.95" fill="#ec9521"/>
<circle cx="114.18" cy="86.63" r="0.95" fill="#f2db1e"/>
<circle cx="124.78" cy="109.11" r="0.95" fill="#f0b820"/>
<circle cx="130.02" cy="104.26" r="0.95" fill="#d22a1f"/>
<circle cx="103.13" cy="90.42" r="0.95" fill="#e5d93c"/>
<circle cx="122.95" cy="82.26" r="0.95" fill="#f2db1e"/>
<circle cx="108.66" cy="93.44" r="0.95" fill="#f2d21e"/>
<circle cx="108.33" cy="101.52" r="0.95" fill="#edde29"/>
<circle cx="124.55" cy="95.97" r="0.95" fill="#f0b420"/>
<circle cx="124.77" cy="88.89" r="0.95" fill="#f1cc1f"/>
<circle cx="123.76" cy="86.03" r="0.95" fill="#f1cc1f"/>
<circle cx="120.81" cy="106.44" r="0.95" fill="#e1d745"/>
<circle cx="100.92" cy="90.03" r="0.95" fill="#c7c67f"/>
<circle cx="110.34" cy="109.48" r="0.95" fill="#edde2a"/>
<circle cx="101.14" cy="94.23" r="0.95" fill="#f2d11f"/>
<circle cx="117.79" cy="95.46" r="0.95" fill="#f1cb1f"/>
<circle cx="122.70" cy="90.18" r="0.95" fill="#b4bba9"/>
<circle cx="115.27" cy="108.93" r="0.95" fill="#f0a821"/>
<circle cx="106.58" cy="98.32" r="0.95" fill="#f0b420"/>
<circle cx="109.61" cy="96.14" r="0.95" fill="#f2d51e"/>
<circle cx="100.81" cy="90.69" r="0.95" fill="#f2df1e"/>
<circle cx="121.82" cy="98.94" r="0.95" fill="#e88621"/>
<circle cx="114.94" cy="81.79" r="0.95" fill="#b2baad"/>
<circle cx="125.34" cy="84.13" r="0.95" fill="#f1cb1f"/>
<circle cx="123.25" cy="94.09" r="0.95" fill="#ee9d21"/>
<circle cx="111.05" cy="82.32" r="0.95" fill="#f1be20"/>
<circle cx="131.61" cy="100.82" r="0.95" fill="#f0b320"/>
<circle cx="110.61" cy="86.17" r="0.95" fill="#bfc290"/>
<circle cx="129.99" cy="92.43" r="0.95" fill="#f0af21"/>
<circle cx="103.14" cy="96.09" r="0.95" fill="#cecb6f"/>
<circle cx="111.48" cy="107.38" r="0.95" fill="#f1c020"/>
<circle cx="122.57" cy="104.39" r="0.95" fill="#eb9221"/>
<circle cx="125.32" cy="108.98" r="0.95" fill="#f1cd1f"/>
<circle cx="115.12" cy="101.84" r="0.95" fill="#e57a21"/>
<circle cx="119.32" cy="95.20" r="0.95" fill="#f1bf20"/>
<circle cx="103.42" cy="98.48" r="0.95" fill="#f1c51f"/>
<circle cx="117.21" cy="92.12" r="0.95" fill="#f2cd1f"/>
<circle cx="124.32" cy="109.58" r="0.95" fill="#f1c31f"/>
<circle cx="116.59" cy="93.18" r="0.95" fill="#f1c81f"/>
<circle cx="116.59" cy="104.76" r="0.95" fill="#f0b021"/>
<circle cx="109.31" cy="107.59" r="0.95" fill="#eedf28"/>
<circle cx="121.91" cy="103.64" r="0.95" fill="#f1b920"/>
<circle cx="119.62" cy="83.14" r="0.95" fill="#eb9121"/>
<circle cx="121.42" cy="108.93" r="0.95" fill="#f0b620"/>
<circle cx="122.18" cy="108.13" r="0.95" fill="#eb8f21"/>
<circle cx="103.83" cy="95.64" r="0.95" fill="#f2e01e"/>
<circle cx="123.91" cy="111.51" r="0.95" fill="#efa321"/>
<circle cx="107.11" cy="89.17" r="0.95" fill="#f2db1e"/>
<circle cx="121.46" cy="94.21" r="0.95" fill="#d6d05e"/>
<circle cx="161.42" cy="103.99" r="0.95" fill="#f0b420"/>
<circle cx="158.15" cy="108.84" r="0.95" fill="#f1c51f"/>
<circle cx="154.25" cy="103.47" r="0.95" fill="#f0ab21"/>
<circle cx="158.55" cy="108.79" r="0.95" fill="#f2d31e"/>
<circle cx="151.11" cy="100.23" r="0.95" fill="#ed9921"/>
<circle cx="148.78" cy="98.74" r="0.95" fill="#f1c61f"/>
<circle cx="153.82" cy="103.16" r="0.95" fill="#f2da1e"/>
<circle cx="157.42" cy="107.80" r="0.95" fill="#eb9121"/>
<circle cx="152.21" cy="95.64" r="0.95" fill="#f2d51e"/>
<circle cx="156.71" cy="92.70" r="0.95" fill="#f0ab21"/>
<circle cx="159.06" cy="92.28" r="0.95" fill="#f0ad21"/>
<circle cx="160.17" cy="95.95" r="0.95" fill="#f2d61e"/>
<circle cx="161.53" cy="103.08" r="0.95" fill="#e78021"/>
<circle cx="159.22" cy="94.09" r="0.95" fill="#e6da3a"/>
<circle cx="157.81" cy="103.61" r="0.95" fill="#e78021"/>
<circle cx="153.91" cy="101.47" r="0.95" fill="#f0ac21"/>
<circle cx="155.87" cy="107.49" r="0.95" fill="#ec9721"/>
<circle cx="155.32" cy="91.96" r="0.95" fill="#f2cd1f"/>
<circle cx="157.24" cy="110.24" r="0.95" fill="#ee9f21"/>
<circle cx="151.25" cy="92.67" r="0.95" fill="#f0b520"/>
<circle cx="155.52" cy="94.06" r="0.95" fill="#f0e024"/>
<circle cx="160.67" cy="101.00" r="0.95" fill="#f2d91e"/>
<circle cx="154.60" cy="103.82" r="0.95" fill="#ea8e21"/>
<circle cx="153.99" cy="101.66" r="0.95" fill="#e67e21"/>
<circle cx="149.06" cy="101.36" r="0.95" fill="#f0b221"/>
<circle cx="156.21" cy="94.39" r="0.95" fill="#f1c81f"/>
<circle cx="150.75" cy="99.01" r="0.95" fill="#de5a20"/>
<circle cx="158.34" cy="96.73" r="0.95" fill="#cfcc6c"/>
<circle cx="152.89" cy="109.25" r="0.95" fill="#d7d05b"/>
<circle cx="151.99" cy="102.38" r="0.95" fill="#ea8c21"/>
<circle cx="158.53" cy="95.75" r="0.95" fill="#f1bd20"/>
<circle cx="161.47" cy="95.09" r="0.95" fill="#f1ba20"/>
<circle cx="155.74" cy="101.94" r="0.95" fill="#f2e120"/>
<circle cx="148.78" cy="96.51" r="0.95" fill="#f0ac21"/>
<circle cx="148.30" cy="98.69" r="0.95" fill="#f0b620"/>
<circle cx="99.61" cy="114.49" r="0.95" fill="#f2d11f"/>
<circle cx="97.33" cy="110.48" r="0.95" fill="#f1c020"/>
<circle cx="91.63" cy="113.47" r="0.95" fill="#f0b221"/>
<circle cx="92.43" cy="120.23" r="0.95" fill="#e26c20"/>
<circle cx="100.80" cy="113.06" r="0.95" fill="#bfc192"/>
<circle cx="101.72" cy="113.80" r="0.95" fill="#e1d744"/>
<circle cx="101.63" cy="120.03" r="0.95" fill="#d7d15a"/>
<circle cx="96.34" cy="121.22" r="0.95" fill="#f0a621"/>
<circle cx="100.94" cy="111.49" r="0.95" fill="#f2e11e"/>
<circle cx="102.69" cy="113.65" r="0.95" fill="#f1c71f"/>
<circle cx="100.82" cy="119.85" r="0.95" fill="#f1c220"/>
<circle cx="98.36" cy="122.00" r="0.95" fill="#afb8b4"/>
<circle cx="94.19" cy="114.79" r="0.95" fill="#f0b121"/>
<circle cx="98.20" cy="113.04" r="0.95" fill="#f0b720"/>
<circle cx="98.80" cy="123.24" r="0.95" fill="#f2dc1e"/>
<circle cx="95.50" cy="123.37" r="0.95" fill="#f2db1e"/>
<circle cx="100.54" cy="112.21" r="0.95" fill="#f2d81e"/>
<circle cx="89.44" cy="113.19" r="0.95" fill="#f1c31f"/>
<circle cx="97.86" cy="117.89" r="0.95" fill="#f1c81f"/>
<circle cx="90.94" cy="119.74" r="0.95" fill="#f1ba20"/>
<circle cx="93.44" cy="114.39" r="0.95" fill="#e0d647"/>
<circle cx="90.16" cy="120.18" r="0.95" fill="#eede29"/>
<circle cx="92.33" cy="111.18" r="0.95" fill="#f1cc1f"/>
<circle cx="102.64" cy="113.50" r="0.95" fill="#f1ca1f"/>
<circle cx="96.40" cy="119.04" r="0.95" fill="#f2e11e"/>
<circle cx="99.59" cy="115.82" r="0.95" fill="#f0a921"/>
<circle cx="91.11" cy="117.22" r="0.95" fill="#f1c41f"/>
<circle cx="102.45" cy="112.81" r="0.95" fill="#f0b820"/>
<circle cx="94.84" cy="119.36" r="0.95" fill="#f1c020"/>
<circle cx="93.96" cy="119.10" r="0.95" fill="#ed9a21"/>
<circle cx="95.01" cy="110.49" r="0.95" fill="#f2d71e"/>
<circle cx="95.98" cy="108.68" r="0.95" fill="#f2d11f"/>
<circle cx="89.63" cy="115.21" r="0.95" fill="#f0b820"/>
<circle cx="93.80" cy="121.82" r="0.95" fill="#f1bd20"/>
<circle cx="89.21" cy="113.73" r="0.95" fill="#d9d257"/>
<circle cx="140.94" cy="121.92" r="0.95" fill="#f0b520"/>
<circle cx="141.75" cy="122.21" r="0.95" fill="#eb9221"/>
<circle cx="136.48" cy="100.38" r="0.95" fill="#f0a621"/>
<circle cx="148.41" cy="120.98" r="0.95" fill="#f0b520"/>
<circle cx="137.96" cy="108.77" r="0.95" fill="#f1c51f"/>
<circle cx="132.50" cy="137.50" r="0.95" fill="#f0b520"/>
<circle cx="123.71" cy="102.87" r="0.95" fill="#ea8f21"/>
<circle cx="131.75" cy="108.90" r="0.95" fill="#e88521"/>
<circle cx="148.69" cy="128.14" r="0.95" fill="#f0b420"/>
<circle cx="125.26" cy="133.63" r="0.95" fill="#f1c71f"/>
<circle cx="120.96" cy="122.22" r="0.95" fill="#f1b920"/>
<circle cx="148.83" cy="128.33" r="0.95" fill="#f2dd1e"/>
<circle cx="120.50" cy="114.20" r="0.95" fill="#e78221"/>
<circle cx="150.97" cy="124.71" r="0.95" fill="#e78221"/>
<circle cx="148.58" cy="103.74" r="0.95" fill="#f0b021"/>
<circle cx="150.18" cy="104.55" r="0.95" fill="#ee9f21"/>
<circle cx="114.50" cy="117.99" r="0.95" fill="#e16920"/>
<circle cx="142.96" cy="124.70" r="0.95" fill="#f0a921"/>
<circle cx="135.56" cy="105.04" r="0.95" fill="#f0aa21"/>
<circle cx="139.30" cy="117.74" r="0.95" fill="#e57921"/>
<circle cx="130.84" cy="128.99" r="0.95" fill="#f1bd20"/>
<circle cx="139.34" cy="112.47" r="0.95" fill="#ec9621"/>
<circle cx="152.74" cy="131.93" r="0.95" fill="#f1ca1f"/>
<circle cx="142.90" cy="107.30" r="0.95" fill="#e88721"/>
<circle cx="145.00" cy="137.43" r="0.95" fill="#f1c51f"/>
<circle cx="150.21" cy="106.39" r="0.95" fill="#f0ad21"/>
<circle cx="122.90" cy="107.51" r="0.95" fill="#f0ab21"/>
<circle cx="135.08" cy="104.92" r="0.95" fill="#f2d21e"/>
<circle cx="128.89" cy="108.26" r="0.95" fill="#f1b920"/>
<circle cx="119.36" cy="106.10" r="0.95" fill="#f0a721"/>
<circle cx="125.71" cy="110.77" r="0.95" fill="#f0b320"/>
<circle cx="145.62" cy="99.72" r="0.95" fill="#f1c31f"/>
<circle cx="138.91" cy="132.34" r="0.95" fill="#f1bf20"/>
<circle cx="124.24" cy="124.63" r="0.95" fill="#f1bd20"/>
<circle cx="125.27" cy="136.06" r="0.95" fill="#f0b121"/>
<circle cx="136.23" cy="113.07" r="0.95" fill="#f0b021"/>
<circle cx="155.75" cy="119.46" r="0.95" fill="#e57821"/>
<circle cx="130.80" cy="105.24" r="0.95" fill="#efa021"/>
<circle cx="118.14" cy="110.73" r="0.95" fill="#f0b620"/>
<circle cx="135.38" cy="112.49" r="0.95" fill="#f2da1e"/>
<circle cx="126.38" cy="103.07" r="0.95" fill="#f0ad21"/>
<circle cx="126.39" cy="110.58" r="0.95" fill="#eb9221"/>
<circle cx="136.36" cy="105.37" r="0.95" fill="#f0b021"/>
<circle cx="137.34" cy="118.78" r="0.95" fill="#d9481f"/>
<circle cx="119.58" cy="122.29" r="0.95" fill="#dd5920"/>
<circle cx="154.97" cy="129.97" r="0.95" fill="#e67e21"/>
<circle cx="138.13" cy="107.85" r="0.95" fill="#f0b021"/>
<circle cx="146.21" cy="107.50" r="0.95" fill="#d63b1f"/>
<circle cx="152.31" cy="109.18" r="0.95" fill="#eb9021"/>
<circle cx="122.04" cy="130.99" r="0.95" fill="#f2dd1e"/>
<circle cx="122.82" cy="109.26" r="0.95" fill="#e26a20"/>
<circle cx="145.31" cy="113.78" r="0.95" fill="#f2d01f"/>
<circle cx="131.31" cy="136.94" r="0.95" fill="#f2d31e"/>
<circle cx="138.92" cy="113.56" r="0.95" fill="#e57821"/>
<circle cx="140.36" cy="114.90" r="0.95" fill="#dd5820"/>
<circle cx="151.31" cy="131.37" r="0.95" fill="#f0ab21"/>
<circle cx="125.98" cy="131.07" r="0.95" fill="#e78121"/>
<circle cx="145.11" cy="131.80" r="0.95" fill="#e67b21"/>
<circle cx="136.97" cy="103.31" r="0.95" fill="#f2d81e"/>
<circle cx="135.40" cy="138.68" r="0.95" fill="#f0a921"/>
<circle cx="155.03" cy="111.01" r="0.95" fill="#ed9921"/>
<circle cx="143.08" cy="98.35" r="0.95" fill="#f1cb1f"/>
<circle cx="146.40" cy="122.46" r="0.95" fill="#e98a21"/>
<circle cx="131.05" cy="108.91" r="0.95" fill="#f0b620"/>
<circle cx="116.92" cy="107.49" r="0.95" fill="#f0a921"/>
<circle cx="132.90" cy="115.59" r="0.95" fill="#f0a821"/>
<circle cx="120.22" cy="127.35" r="0.95" fill="#df6120"/>
<circle cx="126.22" cy="104.79" r="0.95" fill="#f0a921"/>
<circle cx="134.83" cy="111.69" r="0.95" fill="#f0ae21"/>
<circle cx="152.08" cy="130.08" r="0.95" fill="#f2da1e"/>
<circle cx="143.16" cy="137.30" r="0.95" fill="#f1c220"/>
<circle cx="116.50" cy="122.88" r="0.95" fill="#dc5420"/>
<circle cx="154.00" cy="119.13" r="0.95" fill="#efa121"/>
<circle cx="154.69" cy="117.49" r="0.95" fill="#e78221"/>
<circle cx="121.99" cy="124.65" r="0.95" fill="#e88621"/>
<circle cx="144.83" cy="108.65" r="0.95" fill="#f2d11f"/>
<circle cx="130.28" cy="123.85" r="0.95" fill="#f0b620"/>
<circle cx="148.68" cy="118.66" r="0.95" fill="#f0b620"/>
<circle cx="156.11" cy="125.59" r="0.95" fill="#e88621"/>
<circle cx="114.71" cy="123.87" r="0.95" fill="#f1cb1f"/>
<circle cx="137.82" cy="114.90" r="0.95" fill="#f0b620"/>
<circle cx="144.81" cy="114.86" r="0.95" fill="#f1ba20"/>
<circle cx="150.53" cy="121.18" r="0.95" fill="#f1c61f"/>
<circle cx="140.50" cy="123.86" r="0.95" fill="#f0af21"/>
<circle cx="136.31" cy="120.30" r="0.95" fill="#f0a521"/>
<circle cx="127.53" cy="107.04" r="0.95" fill="#f1c51f"/>
<circle cx="121.96" cy="127.25" r="0.95" fill="#f1c51f"/>
<circle cx="133.54" cy="104.13" r="0.95" fill="#f0a921"/>
<circle cx="143.37" cy="104.78" r="0.95" fill="#dd5720"/>
<circle cx="126.94" cy="105.83" r="0.95" fill="#f0a921"/>
<circle cx="144.43" cy="119.05" r="0.95" fill="#f1c71f"/>
<circle cx="121.38" cy="108.48" r="0.95" fill="#efa121"/>
<circle cx="117.84" cy="123.06" r="0.95" fill="#e88321"/>
<circle cx="138.82" cy="108.04" r="0.95" fill="#ee9d21"/>
<circle cx="119.25" cy="131.97" r="0.95" fill="#f0a921"/>
<circle cx="136.78" cy="117.36" r="0.95" fill="#f0b121"/>
<circle cx="141.09" cy="117.72" r="0.95" fill="#efa221"/>
<circle cx="133.10" cy="99.00" r="0.95" fill="#f2cf1f"/>
<circle cx="149.98" cy="121.07" r="0.95" fill="#ee9e21"/>
<circle cx="146.08" cy="99.65" r="0.95" fill="#e37020"/>
<circle cx="134.94" cy="112.01" r="0.95" fill="#ee9b21"/>
<circle cx="137.40" cy="127.36" r="0.95" fill="#df6020"/>
<circle cx="124.93" cy="129.09" r="0.95" fill="#ea8c21"/>
<circle cx="145.25" cy="100.19" r="0.95" fill="#f0ab21"/>
<circle cx="152.79" cy="124.33" r="0.95" fill="#f2cf1f"/>
<circle cx="125.52" cy="135.98" r="0.95" fill="#e77f21"/>
<circle cx="115.12" cy="122.11" r="0.95" fill="#f0a721"/>
<circle cx="152.53" cy="128.66" r="0.95" fill="#f2e01e"/>
<circle cx="155.31" cy="118.25" r="0.95" fill="#de5920"/>
<circle cx="151.27" cy="105.46" r="0.95" fill="#e47320"/>
<circle cx="136.15" cy="133.93" r="0.95" fill="#e06320"/>
<circle cx="144.61" cy="133.91" r="0.95" fill="#de5d20"/>
<circle cx="113.26" cy="118.28" r="0.95" fill="#f0b320"/>
<circle cx="143.16" cy="128.68" r="0.95" fill="#f0a521"/>
<circle cx="137.31" cy="124.18" r="0.95" fill="#f1b920"/>
<circle cx="131.53" cy="137.08" r="0.95" fill="#e67b21"/>
<circle cx="136.40" cy="100.31" r="0.95" fill="#f0b321"/>
<circle cx="142.74" cy="129.54" r="0.95" fill="#d63a1f"/>
<circle cx="145.42" cy="118.40" r="0.95" fill="#f1ba20"/>
<circle cx="134.71" cy="134.30" r="0.95" fill="#e88621"/>
<circle cx="145.56" cy="127.80" r="0.95" fill="#df5e20"/>
<circle cx="145.45" cy="134.35" r="0.95" fill="#f0a621"/>
<circle cx="131.36" cy="130.01" r="0.95" fill="#f0b121"/>
<circle cx="148.47" cy="129.63" r="0.95" fill="#f1c91f"/>
<circle cx="136.86" cy="118.08" r="0.95" fill="#de5b20"/>
<circle cx="127.76" cy="104.45" r="0.95" fill="#e57821"/>
<circle cx="152.14" cy="133.49" r="0.95" fill="#dd5820"/>
<circle cx="129.58" cy="114.52" r="0.95" fill="#f0b221"/>
<circle cx="149.54" cy="124.96" r="0.95" fill="#db4e20"/>
<circle cx="133.02" cy="138.52" r="0.95" fill="#ec9521"/>
<circle cx="137.61" cy="101.19" r="0.95" fill="#e88621"/>
<circle cx="130.08" cy="112.48" r="0.95" fill="#eb9021"/>
<circle cx="120.07" cy="124.36" r="0.95" fill="#f1b820"/>
<circle cx="138.65" cy="127.73" r="0.95" fill="#f0ad21"/>
<circle cx="155.05" cy="106.33" r="0.95" fill="#e67c21"/>
<circle cx="125.91" cy="124.88" r="0.95" fill="#f0b021"/>
<circle cx="147.21" cy="127.13" r="0.95" fill="#f0a621"/>
<circle cx="124.30" cy="100.27" r="0.95" fill="#f0ab21"/>
<circle cx="114.90" cy="126.81" r="0.95" fill="#f0a421"/>
<circle cx="133.16" cy="109.15" r="0.95" fill="#e06320"/>
<circle cx="132.82" cy="132.02" r="0.95" fill="#f1bd20"/>
<circle cx="134.65" cy="137.65" r="0.95" fill="#efa221"/>
<circle cx="156.43" cy="123.44" r="0.95" fill="#f1ba20"/>
<circle cx="138.00" cy="133.15" r="0.95" fill="#f0ab21"/>
<circle cx="140.46" cy="102.65" r="0.95" fill="#f1bb20"/>
<circle cx="145.51" cy="137.95" r="0.95" fill="#f2d71e"/>
<circle cx="125.74" cy="122.09" r="0.95" fill="#f0b420"/>
<circle cx="142.15" cy="123.43" r="0.95" fill="#f1cd1f"/>
<circle cx="128.67" cy="121.02" r="0.95" fill="#dd5820"/>
<circle cx="155.68" cy="121.11" r="0.95" fill="#f2d11f"/>
<circle cx="120.87" cy="121.98" r="0.95" fill="#f1bb20"/>
<circle cx="147.53" cy="100.47" r="0.95" fill="#f0a721"/>
<circle cx="152.96" cy="117.81" r="0.95" fill="#f0b720"/>
<circle cx="123.00" cy="106.80" r="0.95" fill="#e26b20"/>
<circle cx="150.97" cy="115.14" r="0.95" fill="#f0af21"/>
<circle cx="148.26" cy="105.01" r="0.95" fill="#f2d51e"/>
<circle cx="127.85" cy="100.59" r="0.95" fill="#e77f21"/>
<circle cx="138.83" cy="120.26" r="0.95" fill="#f0af21"/>
<circle cx="142.32" cy="133.79" r="0.95" fill="#d0201f"/>
<circle cx="152.26" cy="112.05" r="0.95" fill="#f1c51f"/>
<circle cx="132.49" cy="103.73" r="0.95" fill="#f1ba20"/>
<circle cx="140.09" cy="113.98" r="0.95" fill="#f0a621"/>
<circle cx="145.26" cy="110.33" r="0.95" fill="#f1c91f"/>
<circle cx="129.75" cy="125.42" r="0.95" fill="#e98921"/>
<circle cx="120.02" cy="107.40" r="0.95" fill="#e16920"/>
<circle cx="138.88" cy="126.05" r="0.95" fill="#da4b1f"/>
<circle cx="118.71" cy="114.97" r="0.95" fill="#ee9d21"/>
<circle cx="134.03" cy="114.78" r="0.95" fill="#f0a921"/>
<circle cx="116.25" cy="126.97" r="0.95" fill="#e36f20"/>
<circle cx="145.37" cy="107.83" r="0.95" fill="#e26b20"/>
<circle cx="137.87" cy="133.14" r="0.95" fill="#f0b121"/>
<circle cx="127.78" cy="106.74" r="0.95" fill="#f1ba20"/>
<circle cx="153.26" cy="127.54" r="0.95" fill="#f1c41f"/>
<circle cx="147.55" cy="103.27" r="0.95" fill="#f0a821"/>
<circle cx="121.61" cy="117.32" r="0.95" fill="#f0ae21"/>
<circle cx="141.19" cy="108.16" r="0.95" fill="#e88521"/>
<circle cx="152.95" cy="128.90" r="0.95" fill="#e67c21"/>
<circle cx="134.87" cy="113.07" r="0.95" fill="#f1c71f"/>
<circle cx="131.42" cy="101.45" r="0.95" fill="#efa021"/>
<circle cx="149.68" cy="134.95" r="0.95" fill="#f0a521"/>
<circle cx="128.04" cy="105.39" r="0.95" fill="#f0b720"/>
<circle cx="126.05" cy="115.89" r="0.95" fill="#f0a621"/>
<circle cx="141.45" cy="108.68" r="0.95" fill="#df6120"/>
<circle cx="147.31" cy="129.11" r="0.95" fill="#f0ac21"/>
<circle cx="149.14" cy="113.94" r="0.95" fill="#f0ac21"/>
<circle cx="156.78" cy="125.90" r="0.95" fill="#f1b920"/>
<circle cx="149.42" cy="109.30" r="0.95" fill="#f0a421"/>
<circle cx="126.72" cy="116.09" r="0.95" fill="#f0b820"/>
<circle cx="151.64" cy="127.94" r="0.95" fill="#ed9b21"/>
<circle cx="133.28" cy="124.04" r="0.95" fill="#f1c91f"/>
<circle cx="133.79" cy="114.05" r="0.95" fill="#f1bb20"/>
<circle cx="154.59" cy="119.26" r="0.95" fill="#f0a421"/>
<circle cx="120.12" cy="113.98" r="0.95" fill="#e36e20"/>
<circle cx="131.42" cy="109.54" r="0.95" fill="#f1ba20"/>
<circle cx="144.96" cy="118.82" r="0.95" fill="#f0a821"/>
<circle cx="159.16" cy="132.01" r="0.95" fill="#ee9d21"/>
<circle cx="149.41" cy="125.52" r="0.95" fill="#f0b520"/>
<circle cx="146.28" cy="136.34" r="0.95" fill="#f0a921"/>
<circle cx="147.93" cy="128.46" r="0.95" fill="#f0a421"/>
<circle cx="143.53" cy="134.54" r="0.95" fill="#f2d21e"/>
<circle cx="142.20" cy="125.55" r="0.95" fill="#f2d51e"/>
<circle cx="144.75" cy="128.98" r="0.95" fill="#f0a721"/>
<circle cx="151.60" cy="134.18" r="0.95" fill="#f1cc1f"/>
<circle cx="149.36" cy="132.98" r="0.95" fill="#f0b021"/>
<circle cx="139.49" cy="132.03" r="0.95" fill="#f0a921"/>
<circle cx="151.64" cy="123.30" r="0.95" fill="#f1c31f"/>
<circle cx="160.23" cy="131.73" r="0.95" fill="#f2cf1f"/>
<circle cx="149.32" cy="125.48" r="0.95" fill="#f1c41f"/>
<circle cx="150.21" cy="135.79" r="0.95" fill="#e67d21"/>
<circle cx="154.16" cy="123.49" r="0.95" fill="#e4d83e"/>
<circle cx="145.60" cy="136.95" r="0.95" fill="#eb9021"/>
<circle cx="141.01" cy="132.21" r="0.95" fill="#f0af21"/>
<circle cx="157.99" cy="133.09" r="0.95" fill="#f1c71f"/>
<circle cx="152.75" cy="122.71" r="0.95" fill="#f0a721"/>
<circle cx="144.94" cy="125.92" r="0.95" fill="#f0b021"/>
<circle cx="144.40" cy="132.78" r="0.95" fill="#f1c91f"/>
<circle cx="139.77" cy="128.74" r="0.95" fill="#f0b121"/>
<circle cx="148.24" cy="131.08" r="0.95" fill="#f0ae21"/>
<circle cx="145.65" cy="135.00" r="0.95" fill="#f0a621"/>
<circle cx="159.61" cy="128.19" r="0.95" fill="#f0b221"/>
<circle cx="148.59" cy="136.21" r="0.95" fill="#f0b520"/>
<circle cx="156.82" cy="127.05" r="0.95" fill="#dfd549"/>
<circle cx="138.67" cy="130.62" r="0.95" fill="#f1c120"/>
<circle cx="142.99" cy="125.12" r="0.95" fill="#ed9a21"/>
<circle cx="147.15" cy="128.65" r="0.95" fill="#ed9a21"/>
<circle cx="155.22" cy="133.32" r="0.95" fill="#f1cb1f"/>
<circle cx="156.57" cy="134.65" r="0.95" fill="#f1c71f"/>
<circle cx="147.53" cy="127.73" r="0.95" fill="#f1cd1f"/>
<circle cx="147.09" cy="130.55" r="0.95" fill="#f2d51e"/>
<circle cx="149.38" cy="131.26" r="0.95" fill="#f0a421"/>
<circle cx="134.09" cy="142.45" r="0.95" fill="#e4d83f"/>
<circle cx="124.49" cy="142.56" r="0.95" fill="#babe9c"/>
<circle cx="127.25" cy="149.59" r="0.95" fill="#cdca71"/>
<circle cx="128.94" cy="146.25" r="0.95" fill="#f2d91e"/>
<circle cx="115.38" cy="149.19" r="0.95" fill="#8fa1c3"/>
<circle cx="117.60" cy="145.01" r="0.95" fill="#bec194"/>
<circle cx="136.57" cy="148.63" r="0.95" fill="#f2d01f"/>
<circle cx="118.30" cy="147.15" r="0.95" fill="#ebdd2e"/>
<circle cx="124.34" cy="147.06" r="0.95" fill="#8599c3"/>
<circle cx="120.39" cy="141.86" r="0.95" fill="#7b93c3"/>
<circle cx="126.24" cy="145.77" r="0.95" fill="#d0cc6b"/>
<circle cx="127.63" cy="148.57" r="0.95" fill="#a0adc3"/>
<circle cx="123.63" cy="153.93" r="0.95" fill="#c9c87b"/>
<circle cx="118.30" cy="148.40" r="0.95" fill="#dad254"/>
<circle cx="134.34" cy="149.75" r="0.95" fill="#d4cf62"/>
<circle cx="116.76" cy="148.34" r="0.95" fill="#e9dc33"/>
<circle cx="123.28" cy="142.34" r="0.95" fill="#c9c87a"/>
<circle cx="131.58" cy="148.79" r="0.95" fill="#bfc192"/>
<circle cx="120.68" cy="146.82" r="0.95" fill="#7e95c3"/>
<circle cx="115.53" cy="145.90" r="0.95" fill="#e9dc32"/>
<circle cx="127.05" cy="148.87" r="0.95" fill="#879bc3"/>
<circle cx="135.18" cy="151.16" r="0.95" fill="#b9bd9f"/>
<circle cx="131.08" cy="148.12" r="0.95" fill="#f2db1e"/>
<circle cx="118.32" cy="149.97" r="0.95" fill="#7b92c2"/>
<circle cx="136.36" cy="150.37" r="0.95" fill="#f1bd20"/>
<circle cx="133.44" cy="153.54" r="0.95" fill="#9caac3"/>
<circle cx="131.51" cy="141.27" r="0.95" fill="#b9be9e"/>
<circle cx="127.73" cy="149.33" r="0.95" fill="#7b92c2"/>
<circle cx="135.02" cy="151.32" r="0.95" fill="#6b87c2"/>
<circle cx="134.40" cy="144.61" r="0.95" fill="#d3ce64"/>
<circle cx="133.53" cy="144.36" r="0.95" fill="#f1c31f"/>
<circle cx="123.67" cy="149.10" r="0.95" fill="#e4d83e"/>
<circle cx="124.28" cy="139.26" r="0.95" fill="#f0b121"/>
<circle cx="120.82" cy="157.42" r="0.95" fill="#c6c682"/>
<circle cx="135.05" cy="144.34" r="0.95" fill="#f2cf1f"/>
<circle cx="124.06" cy="154.75" r="0.95" fill="#f2d21e"/>
<circle cx="117.34" cy="149.40" r="0.95" fill="#a4b1c3"/>
<circle cx="115.95" cy="148.09" r="0.95" fill="#95a5c3"/>
<circle cx="137.36" cy="147.00" r="0.95" fill="#df5e20"/>
<circle cx="118.22" cy="142.89" r="0.95" fill="#aeb7b7"/>
<circle cx="130.77" cy="142.58" r="0.95" fill="#ded54b"/>
<circle cx="117.69" cy="151.25" r="0.95" fill="#f2de1e"/>
<circle cx="123.21" cy="158.24" r="0.95" fill="#9cabc3"/>
<circle cx="115.80" cy="149.33" r="0.95" fill="#a6b2c3"/>
<circle cx="118.47" cy="155.61" r="0.95" fill="#8499c3"/>
<circle cx="124.79" cy="148.54" r="0.95" fill="#f2e01e"/>
<circle cx="135.21" cy="146.82" r="0.95" fill="#b8bda2"/>
<circle cx="127.69" cy="155.18" r="0.95" fill="#e6da39"/>
<circle cx="129.76" cy="155.20" r="0.95" fill="#879bc3"/>
<circle cx="129.98" cy="151.52" r="0.95" fill="#dfd549"/>
<circle cx="123.20" cy="141.43" r="0.95" fill="#9aa9c3"/>
<circle cx="129.53" cy="154.83" r="0.95" fill="#b5bba8"/>
<circle cx="121.54" cy="157.42" r="0.95" fill="#889cc3"/>
<circle cx="120.30" cy="156.30" r="0.95" fill="#b3baac"/>
<circle cx="127.71" cy="155.43" r="0.95" fill="#ded54c"/>
<circle cx="119.44" cy="143.56" r="0.95" fill="#b1b9b1"/>
<circle cx="117.94" cy="144.98" r="0.95" fill="#b1b9b0"/>
<circle cx="126.48" cy="149.26" r="0.95" fill="#d5cf5f"/>
<circle cx="127.86" cy="151.74" r="0.95" fill="#b0b8b2"/>
<circle cx="135.12" cy="151.70" r="0.95" fill="#d5cf5f"/>
<circle cx="123.75" cy="149.22" r="0.95" fill="#c3c489"/>
<circle cx="122.00" cy="142.90" r="0.95" fill="#e7da38"/>
<circle cx="121.49" cy="143.28" r="0.95" fill="#acb5bd"/>
<circle cx="123.83" cy="150.63" r="0.95" fill="#c6c681"/>
<circle cx="136.73" cy="149.73" r="0.95" fill="#f1c91f"/>
<circle cx="123.29" cy="151.12" r="0.95" fill="#f2d41e"/>
<circle cx="124.17" cy="150.89" r="0.95" fill="#d2cd67"/>
<circle cx="105.27" cy="136.77" r="0.95" fill="#e6da39"/>
<circle cx="100.70" cy="132.53" r="0.95" fill="#e1d744"/>
<circle cx="97.56" cy="131.62" r="0.95" fill="#f2ce1f"/>
<circle cx="98.26" cy="136.00" r="0.95" fill="#f2d81e"/>
<circle cx="104.47" cy="135.71" r="0.95" fill="#f0e024"/>
<circle cx="96.46" cy="133.20" r="0.95" fill="#f2dc1e"/>
<circle cx="104.91" cy="131.14" r="0.95" fill="#f1b920"/>
<circle cx="103.20" cy="129.68" r="0.95" fill="#cbc975"/>
<circle cx="104.82" cy="134.21" r="0.95" fill="#f1c61f"/>
<circle cx="104.79" cy="129.68" r="0.95" fill="#f2d41e"/>
<circle cx="103.37" cy="132.28" r="0.95" fill="#f0a521"/>
<circle cx="103.05" cy="135.06" r="0.95" fill="#cdca71"/>
<circle cx="102.62" cy="136.54" r="0.95" fill="#f1c120"/>
<circle cx="97.90" cy="133.27" r="0.95" fill="#f2d21e"/>
<circle cx="105.60" cy="130.75" r="0.95" fill="#f1ca1f"/>
<circle cx="97.60" cy="133.30" r="0.95" fill="#f1c120"/>
<circle cx="103.24" cy="136.39" r="0.95" fill="#eb8f21"/>
<circle cx="104.76" cy="131.25" r="0.95" fill="#f1c220"/>
<circle cx="100.25" cy="136.07" r="0.95" fill="#f1bf20"/>
<circle cx="85.94" cy="118.25" r="0.95" fill="#dbd353"/>
<circle cx="85.76" cy="118.27" r="0.95" fill="#f1bc20"/>
<circle cx="88.36" cy="127.34" r="0.95" fill="#ddd44e"/>
<circle cx="86.34" cy="121.08" r="0.95" fill="#f2d11f"/>
<circle cx="86.01" cy="120.89" r="0.95" fill="#f1c120"/>
<circle cx="87.36" cy="122.45" r="0.95" fill="#f0a821"/>
<circle cx="89.25" cy="126.55" r="0.95" fill="#f0b320"/>
<circle cx="86.56" cy="120.58" r="0.95" fill="#f1c71f"/>
<circle cx="92.14" cy="128.31" r="0.95" fill="#f0b720"/>
<circle cx="87.47" cy="126.76" r="0.95" fill="#f2d31e"/>
<circle cx="88.08" cy="124.94" r="0.95" fill="#f1cb1f"/>
<circle cx="86.01" cy="121.17" r="0.95" fill="#f2cf1f"/>
<circle cx="91.99" cy="125.51" r="0.95" fill="#f0b720"/>
<circle cx="89.79" cy="131.67" r="0.95" fill="#f2d31e"/>
<circle cx="92.27" cy="132.92" r="0.95" fill="#eadc31"/>
<circle cx="86.71" cy="121.18" r="0.95" fill="#e3d840"/>
<circle cx="84.17" cy="119.54" r="0.95" fill="#e47620"/>
<circle cx="90.05" cy="127.36" r="0.95" fill="#c1c38d"/>
<circle cx="85.35" cy="117.90" r="0.95" fill="#f2cf1f"/>
<circle cx="91.91" cy="132.07" r="0.95" fill="#f2d31e"/>
<circle cx="81.55" cy="120.49" r="0.95" fill="#f2d21e"/>
<circle cx="85.11" cy="120.57" r="0.95" fill="#ebdd2f"/>
<circle cx="89.65" cy="125.65" r="0.95" fill="#f1be20"/>
<circle cx="84.93" cy="116.70" r="0.95" fill="#f1ca1f"/>
</g>
<circle cx="53.1" cy="40.2" r="12.4" fill="none" stroke="#222" stroke-width="1.1" stroke-dasharray="3.5 2.9"/>
<circle cx="137.3" cy="118.5" r="28.6" fill="none" stroke="#222" stroke-width="1.1" stroke-dasharray="3.6 2.8"/>
<line x1="29.60" y1="151.50" x2="29.60" y2="135.50" stroke="#222" stroke-width="1.1"/>
<line x1="29.10" y1="151.50" x2="47.00" y2="151.50" stroke="#222" stroke-width="1.1"/>
<path d="M29.6 130.8 L32 136.3 L27.2 136.3 Z" fill="#222"/>
<path d="M51.4 151.5 L46 149.2 L46 153.8 Z" fill="#222"/>
<text x="0.00" y="0.00" font-size="9.5" fill="#222" text-anchor="middle" font-weight="normal" stroke="#222" stroke-width="0.25" transform="translate(24.10,141.20) rotate(-90) scale(0.66,1)">tSNE1</text>
<text x="0.00" y="0.00" font-size="9.5" fill="#222" text-anchor="middle" font-weight="normal" stroke="#222" stroke-width="0.25" transform="translate(40.60,163.40) rotate(0) scale(0.67,1)">tSNE2</text>
<text x="274.00" y="15.80" font-size="11.6" fill="#000" text-anchor="start" font-weight="bold">B</text>
<text x="363.50" y="23.30" font-size="9" fill="#222" text-anchor="start" font-weight="normal" stroke="#222" stroke-width="0.24">HCT Day</text>
<rect x="409.00" y="37.50" width="4.40" height="6.10" fill="#8e0152"/>
<rect x="413.20" y="37.50" width="4.40" height="6.10" fill="#b5136f"/>
<rect x="417.40" y="37.50" width="4.40" height="6.10" fill="#cf6aa5"/>
<rect x="421.60" y="37.50" width="4.40" height="6.10" fill="#e4b1d3"/>
<rect x="425.80" y="37.50" width="4.40" height="6.10" fill="#f6dded"/>
<rect x="430.00" y="37.50" width="4.40" height="6.10" fill="#c6e09a"/>
<rect x="434.20" y="37.50" width="4.40" height="6.10" fill="#92c450"/>
<rect x="438.40" y="37.50" width="4.40" height="6.10" fill="#6ca43a"/>
<rect x="442.60" y="37.50" width="4.40" height="6.10" fill="#3f7a22"/>
<line x1="409.20" y1="43.60" x2="409.20" y2="45.20" stroke="#444" stroke-width="0.6"/>
<line x1="417.50" y1="43.60" x2="417.50" y2="45.20" stroke="#444" stroke-width="0.6"/>
<line x1="434.50" y1="43.60" x2="434.50" y2="45.20" stroke="#444" stroke-width="0.6"/>
<line x1="446.60" y1="43.60" x2="446.60" y2="45.20" stroke="#444" stroke-width="0.6"/>
<text x="408.30" y="56.00" font-size="5.8" fill="#222" text-anchor="middle" font-weight="normal" stroke="#222" stroke-width="0.15">-30</text>
<text x="417.50" y="56.00" font-size="5.8" fill="#222" text-anchor="middle" font-weight="normal" stroke="#222" stroke-width="0.15">0</text>
<text x="434.60" y="56.00" font-size="5.8" fill="#222" text-anchor="middle" font-weight="normal" stroke="#222" stroke-width="0.15">11</text>
<text x="446.70" y="56.00" font-size="5.8" fill="#222" text-anchor="middle" font-weight="normal" stroke="#222" stroke-width="0.15">100</text>
<g>
<circle cx="332.29" cy="44.56" r="1.15" fill="#3f7a22"/>
<circle cx="332.99" cy="40.36" r="1.15" fill="#3f7a22"/>
<circle cx="335.84" cy="39.17" r="1.15" fill="#c6e09a"/>
<circle cx="333.22" cy="43.41" r="1.15" fill="#de77ae"/>
<circle cx="336.69" cy="55.15" r="1.15" fill="#a6d068"/>
<circle cx="332.67" cy="40.46" r="1.15" fill="#7fbc41"/>
<circle cx="330.91" cy="43.29" r="1.15" fill="#6ca43a"/>
<circle cx="335.67" cy="53.81" r="1.15" fill="#7fbc41"/>
<circle cx="333.43" cy="40.48" r="1.15" fill="#c6e09a"/>
<circle cx="336.07" cy="50.76" r="1.15" fill="#6ca43a"/>
<circle cx="333.38" cy="50.07" r="1.15" fill="#3f7a22"/>
<circle cx="331.94" cy="40.56" r="1.15" fill="#a6d068"/>
<circle cx="335.36" cy="40.23" r="1.15" fill="#7fbc41"/>
<circle cx="334.96" cy="39.75" r="1.15" fill="#a6d068"/>
<circle cx="334.44" cy="39.73" r="1.15" fill="#c6e09a"/>
<circle cx="333.18" cy="37.62" r="1.15" fill="#c51b7d"/>
<circle cx="333.06" cy="55.39" r="1.15" fill="#4d9221"/>
<circle cx="336.08" cy="48.92" r="1.15" fill="#6ca43a"/>
<circle cx="334.71" cy="37.60" r="1.15" fill="#7fbc41"/>
<circle cx="336.20" cy="54.91" r="1.15" fill="#f1b6da"/>
<circle cx="335.33" cy="50.13" r="1.15" fill="#7fbc41"/>
<circle cx="331.68" cy="41.46" r="1.15" fill="#276419"/>
<circle cx="334.81" cy="47.11" r="1.15" fill="#3f7a22"/>
<circle cx="333.81" cy="39.84" r="1.15" fill="#a6d068"/>
<circle cx="335.44" cy="38.67" r="1.15" fill="#c6e09a"/>
<circle cx="337.59" cy="44.97" r="1.15" fill="#3f7a22"/>
<circle cx="334.98" cy="37.45" r="1.15" fill="#a6d068"/>
<circle cx="333.00" cy="46.83" r="1.15" fill="#276419"/>
<circle cx="335.21" cy="49.39" r="1.15" fill="#e9a8cf"/>
<circle cx="334.66" cy="48.48" r="1.15" fill="#6ca43a"/>
<circle cx="335.87" cy="52.84" r="1.15" fill="#de77ae"/>
<circle cx="335.40" cy="48.95" r="1.15" fill="#3f7a22"/>
<circle cx="335.85" cy="44.22" r="1.15" fill="#276419"/>
<circle cx="334.59" cy="38.35" r="1.15" fill="#3f7a22"/>
<circle cx="333.67" cy="37.14" r="1.15" fill="#3f7a22"/>
<circle cx="333.57" cy="41.36" r="1.15" fill="#276419"/>
<circle cx="333.31" cy="42.19" r="1.15" fill="#6ca43a"/>
<circle cx="335.78" cy="48.29" r="1.15" fill="#6ca43a"/>
<circle cx="334.61" cy="48.10" r="1.15" fill="#3f7a22"/>
<circle cx="334.00" cy="52.95" r="1.15" fill="#a6d068"/>
<circle cx="335.37" cy="38.33" r="1.15" fill="#276419"/>
<circle cx="334.06" cy="38.09" r="1.15" fill="#c6e09a"/>
<circle cx="333.98" cy="44.12" r="1.15" fill="#c6e09a"/>
<circle cx="334.63" cy="43.17" r="1.15" fill="#7fbc41"/>
<circle cx="333.86" cy="38.38" r="1.15" fill="#276419"/>
<circle cx="330.54" cy="48.84" r="1.15" fill="#9b0a5c"/>
<circle cx="326.17" cy="48.86" r="1.15" fill="#3f7a22"/>
<circle cx="328.43" cy="48.44" r="1.15" fill="#3f7a22"/>
<circle cx="327.99" cy="48.33" r="1.15" fill="#4d9221"/>
<circle cx="326.08" cy="50.12" r="1.15" fill="#c6e09a"/>
<circle cx="327.50" cy="50.30" r="1.15" fill="#4d9221"/>
<circle cx="326.12" cy="50.63" r="1.15" fill="#c51b7d"/>
<circle cx="326.58" cy="50.27" r="1.15" fill="#276419"/>
<circle cx="327.27" cy="51.73" r="1.15" fill="#276419"/>
<circle cx="327.73" cy="49.54" r="1.15" fill="#276419"/>
<circle cx="340.30" cy="46.14" r="1.15" fill="#6ca43a"/>
<circle cx="342.82" cy="45.90" r="1.15" fill="#c6e09a"/>
<circle cx="342.06" cy="46.22" r="1.15" fill="#6ca43a"/>
<circle cx="341.90" cy="49.00" r="1.15" fill="#4d9221"/>
<circle cx="342.31" cy="45.88" r="1.15" fill="#3f7a22"/>
<circle cx="342.75" cy="48.67" r="1.15" fill="#4d9221"/>
<circle cx="343.00" cy="48.34" r="1.15" fill="#6ca43a"/>
<circle cx="341.93" cy="45.74" r="1.15" fill="#3f7a22"/>
<circle cx="340.52" cy="46.19" r="1.15" fill="#a6d068"/>
<circle cx="341.02" cy="48.02" r="1.15" fill="#a6d068"/>
<circle cx="346.52" cy="53.66" r="1.15" fill="#c51b7d"/>
<circle cx="347.62" cy="55.23" r="1.15" fill="#b5136f"/>
<circle cx="347.68" cy="54.86" r="1.15" fill="#6ca43a"/>
<circle cx="347.24" cy="53.59" r="1.15" fill="#276419"/>
<circle cx="346.50" cy="54.69" r="1.15" fill="#6ca43a"/>
<circle cx="348.86" cy="53.41" r="1.15" fill="#4d9221"/>
<circle cx="346.71" cy="52.79" r="1.15" fill="#c51b7d"/>
<circle cx="343.27" cy="53.84" r="1.15" fill="#c6e09a"/>
<circle cx="347.29" cy="53.38" r="1.15" fill="#6ca43a"/>
<circle cx="345.11" cy="52.93" r="1.15" fill="#4d9221"/>
<circle cx="336.21" cy="49.59" r="1.15" fill="#4d9221"/>
<circle cx="337.47" cy="49.11" r="1.15" fill="#a6d068"/>
<circle cx="338.18" cy="49.47" r="1.15" fill="#3f7a22"/>
<circle cx="336.34" cy="47.59" r="1.15" fill="#a6d068"/>
<circle cx="339.08" cy="49.11" r="1.15" fill="#c6e09a"/>
<circle cx="340.39" cy="47.46" r="1.15" fill="#a6d068"/>
<circle cx="338.95" cy="47.09" r="1.15" fill="#3f7a22"/>
<circle cx="336.72" cy="48.64" r="1.15" fill="#3f7a22"/>
<circle cx="315.66" cy="77.93" r="1.15" fill="#a6d068"/>
<circle cx="314.32" cy="76.34" r="1.15" fill="#4d9221"/>
<circle cx="318.87" cy="78.51" r="1.15" fill="#3f7a22"/>
<circle cx="312.63" cy="79.57" r="1.15" fill="#a6d068"/>
<circle cx="315.61" cy="77.85" r="1.15" fill="#c51b7d"/>
<circle cx="313.32" cy="77.81" r="1.15" fill="#a6d068"/>
<circle cx="316.51" cy="79.99" r="1.15" fill="#a6d068"/>
<circle cx="315.99" cy="78.78" r="1.15" fill="#c51b7d"/>
<circle cx="314.33" cy="76.59" r="1.15" fill="#276419"/>
<circle cx="320.45" cy="80.95" r="1.15" fill="#f1b6da"/>
<circle cx="316.79" cy="81.08" r="1.15" fill="#f1b6da"/>
<circle cx="321.20" cy="80.46" r="1.15" fill="#9b0a5c"/>
<circle cx="318.94" cy="80.16" r="1.15" fill="#c6e09a"/>
<circle cx="319.95" cy="80.84" r="1.15" fill="#3f7a22"/>
<circle cx="315.39" cy="78.68" r="1.15" fill="#de77ae"/>
<circle cx="316.74" cy="84.09" r="1.15" fill="#7fbc41"/>
<circle cx="312.54" cy="79.56" r="1.15" fill="#c6e09a"/>
<circle cx="318.80" cy="79.85" r="1.15" fill="#c6e09a"/>
<circle cx="318.21" cy="77.39" r="1.15" fill="#4d9221"/>
<circle cx="313.76" cy="81.79" r="1.15" fill="#8e0152"/>
<circle cx="320.95" cy="81.77" r="1.15" fill="#c6e09a"/>
<circle cx="321.52" cy="81.66" r="1.15" fill="#8e0152"/>
<circle cx="318.75" cy="80.26" r="1.15" fill="#6ca43a"/>
<circle cx="319.57" cy="78.56" r="1.15" fill="#f1b6da"/>
<circle cx="319.64" cy="82.08" r="1.15" fill="#a6d068"/>
<circle cx="315.35" cy="80.49" r="1.15" fill="#4d9221"/>
<circle cx="315.53" cy="80.13" r="1.15" fill="#8e0152"/>
<circle cx="317.59" cy="77.45" r="1.15" fill="#c6e09a"/>
<circle cx="313.99" cy="78.55" r="1.15" fill="#c6e09a"/>
<circle cx="319.63" cy="78.21" r="1.15" fill="#e9a8cf"/>
<circle cx="319.12" cy="79.64" r="1.15" fill="#3f7a22"/>
<circle cx="316.44" cy="79.83" r="1.15" fill="#c6e09a"/>
<circle cx="314.60" cy="77.12" r="1.15" fill="#a6d068"/>
<circle cx="319.42" cy="76.80" r="1.15" fill="#7fbc41"/>
<circle cx="318.54" cy="82.46" r="1.15" fill="#3f7a22"/>
<circle cx="323.44" cy="83.47" r="1.15" fill="#3f7a22"/>
<circle cx="329.64" cy="81.18" r="1.15" fill="#de77ae"/>
<circle cx="330.91" cy="83.03" r="1.15" fill="#e9a8cf"/>
<circle cx="328.50" cy="82.79" r="1.15" fill="#a6d068"/>
<circle cx="325.56" cy="80.94" r="1.15" fill="#6ca43a"/>
<circle cx="327.18" cy="80.41" r="1.15" fill="#276419"/>
<circle cx="327.04" cy="80.31" r="1.15" fill="#6ca43a"/>
<circle cx="332.98" cy="85.52" r="1.15" fill="#276419"/>
<circle cx="329.56" cy="86.13" r="1.15" fill="#6ca43a"/>
<circle cx="328.36" cy="84.76" r="1.15" fill="#8e0152"/>
<circle cx="318.81" cy="84.19" r="1.15" fill="#7fbc41"/>
<circle cx="322.85" cy="85.43" r="1.15" fill="#8e0152"/>
<circle cx="328.54" cy="84.63" r="1.15" fill="#6ca43a"/>
<circle cx="321.49" cy="81.35" r="1.15" fill="#9b0a5c"/>
<circle cx="325.24" cy="82.94" r="1.15" fill="#276419"/>
<circle cx="327.75" cy="84.32" r="1.15" fill="#276419"/>
<circle cx="325.38" cy="83.90" r="1.15" fill="#3f7a22"/>
<circle cx="324.32" cy="85.92" r="1.15" fill="#4d9221"/>
<circle cx="334.31" cy="82.04" r="1.15" fill="#e9a8cf"/>
<circle cx="320.72" cy="82.76" r="1.15" fill="#de77ae"/>
<circle cx="326.47" cy="81.40" r="1.15" fill="#b5136f"/>
<circle cx="324.57" cy="80.76" r="1.15" fill="#9b0a5c"/>
<circle cx="324.84" cy="83.39" r="1.15" fill="#c51b7d"/>
<circle cx="327.70" cy="83.95" r="1.15" fill="#b5136f"/>
<circle cx="325.92" cy="82.46" r="1.15" fill="#3f7a22"/>
<circle cx="331.51" cy="88.10" r="1.15" fill="#a6d068"/>
<circle cx="320.20" cy="80.18" r="1.15" fill="#7fbc41"/>
<circle cx="330.85" cy="84.11" r="1.15" fill="#8e0152"/>
<circle cx="321.77" cy="82.57" r="1.15" fill="#c6e09a"/>
<circle cx="326.45" cy="87.20" r="1.15" fill="#f1b6da"/>
<circle cx="325.07" cy="83.37" r="1.15" fill="#f1b6da"/>
<circle cx="325.30" cy="82.00" r="1.15" fill="#3f7a22"/>
<circle cx="328.38" cy="91.49" r="1.15" fill="#c6e09a"/>
<circle cx="329.18" cy="87.35" r="1.15" fill="#7fbc41"/>
<circle cx="326.27" cy="88.84" r="1.15" fill="#7fbc41"/>
<circle cx="331.19" cy="89.01" r="1.15" fill="#8e0152"/>
<circle cx="330.31" cy="90.20" r="1.15" fill="#c6e09a"/>
<circle cx="330.33" cy="88.96" r="1.15" fill="#3f7a22"/>
<circle cx="328.10" cy="92.96" r="1.15" fill="#8e0152"/>
<circle cx="330.70" cy="90.48" r="1.15" fill="#f1b6da"/>
<circle cx="327.79" cy="91.20" r="1.15" fill="#276419"/>
<circle cx="326.02" cy="89.05" r="1.15" fill="#8e0152"/>
<circle cx="326.76" cy="92.06" r="1.15" fill="#3f7a22"/>
<circle cx="323.93" cy="89.05" r="1.15" fill="#a6d068"/>
<circle cx="330.23" cy="89.60" r="1.15" fill="#c6e09a"/>
<circle cx="330.08" cy="91.07" r="1.15" fill="#c6e09a"/>
<circle cx="325.07" cy="90.55" r="1.15" fill="#9b0a5c"/>
<circle cx="329.71" cy="88.03" r="1.15" fill="#4d9221"/>
<circle cx="318.12" cy="73.06" r="1.15" fill="#8e0152"/>
<circle cx="325.30" cy="75.48" r="1.15" fill="#276419"/>
<circle cx="326.90" cy="99.86" r="1.15" fill="#9b0a5c"/>
<circle cx="327.83" cy="97.30" r="1.15" fill="#8e0152"/>
<circle cx="331.78" cy="99.49" r="1.15" fill="#c6e09a"/>
<circle cx="329.94" cy="96.77" r="1.15" fill="#4d9221"/>
<circle cx="332.08" cy="99.21" r="1.15" fill="#de77ae"/>
<circle cx="329.02" cy="96.30" r="1.15" fill="#276419"/>
<circle cx="329.41" cy="100.24" r="1.15" fill="#7fbc41"/>
<circle cx="330.19" cy="97.20" r="1.15" fill="#c6e09a"/>
<circle cx="326.27" cy="99.08" r="1.15" fill="#4d9221"/>
<circle cx="327.91" cy="97.75" r="1.15" fill="#276419"/>
<circle cx="330.51" cy="97.33" r="1.15" fill="#4d9221"/>
<circle cx="328.37" cy="97.71" r="1.15" fill="#7fbc41"/>
<circle cx="328.84" cy="96.21" r="1.15" fill="#8e0152"/>
<circle cx="330.41" cy="98.34" r="1.15" fill="#4d9221"/>
<circle cx="328.01" cy="99.42" r="1.15" fill="#6ca43a"/>
<circle cx="329.33" cy="98.39" r="1.15" fill="#c6e09a"/>
<circle cx="337.37" cy="103.92" r="1.15" fill="#f1b6da"/>
<circle cx="333.39" cy="102.43" r="1.15" fill="#276419"/>
<circle cx="337.74" cy="104.66" r="1.15" fill="#c51b7d"/>
<circle cx="338.18" cy="104.19" r="1.15" fill="#8e0152"/>
<circle cx="336.52" cy="99.82" r="1.15" fill="#7fbc41"/>
<circle cx="334.19" cy="103.68" r="1.15" fill="#c6e09a"/>
<circle cx="336.01" cy="104.01" r="1.15" fill="#9b0a5c"/>
<circle cx="334.85" cy="99.86" r="1.15" fill="#276419"/>
<circle cx="336.70" cy="104.72" r="1.15" fill="#4d9221"/>
<circle cx="335.41" cy="102.85" r="1.15" fill="#de77ae"/>
<circle cx="332.01" cy="101.49" r="1.15" fill="#8e0152"/>
<circle cx="336.00" cy="104.21" r="1.15" fill="#6ca43a"/>
<circle cx="333.86" cy="104.37" r="1.15" fill="#b5136f"/>
<circle cx="323.43" cy="107.33" r="1.15" fill="#3f7a22"/>
<circle cx="323.63" cy="105.90" r="1.15" fill="#7fbc41"/>
<circle cx="323.72" cy="109.75" r="1.15" fill="#f1b6da"/>
<circle cx="324.27" cy="109.25" r="1.15" fill="#e9a8cf"/>
<circle cx="323.13" cy="105.92" r="1.15" fill="#8e0152"/>
<circle cx="325.39" cy="107.96" r="1.15" fill="#3f7a22"/>
<circle cx="322.58" cy="109.46" r="1.15" fill="#3f7a22"/>
<circle cx="323.56" cy="109.70" r="1.15" fill="#b5136f"/>
<circle cx="322.65" cy="103.97" r="1.15" fill="#c51b7d"/>
<circle cx="322.66" cy="105.54" r="1.15" fill="#f1b6da"/>
<circle cx="323.72" cy="109.37" r="1.15" fill="#7fbc41"/>
<circle cx="332.49" cy="114.08" r="1.15" fill="#c6e09a"/>
<circle cx="329.03" cy="109.99" r="1.15" fill="#3f7a22"/>
<circle cx="328.59" cy="107.63" r="1.15" fill="#b5136f"/>
<circle cx="332.19" cy="115.80" r="1.15" fill="#6ca43a"/>
<circle cx="331.44" cy="115.63" r="1.15" fill="#7fbc41"/>
<circle cx="332.86" cy="116.34" r="1.15" fill="#c51b7d"/>
<circle cx="331.53" cy="113.61" r="1.15" fill="#7fbc41"/>
<circle cx="333.02" cy="112.55" r="1.15" fill="#3f7a22"/>
<circle cx="332.23" cy="115.26" r="1.15" fill="#8e0152"/>
<circle cx="331.59" cy="113.44" r="1.15" fill="#6ca43a"/>
<circle cx="330.06" cy="108.21" r="1.15" fill="#b5136f"/>
<circle cx="330.82" cy="108.13" r="1.15" fill="#a6d068"/>
<circle cx="331.92" cy="114.66" r="1.15" fill="#c51b7d"/>
<circle cx="330.64" cy="105.86" r="1.15" fill="#a6d068"/>
<circle cx="329.69" cy="106.93" r="1.15" fill="#f1b6da"/>
<circle cx="332.23" cy="112.03" r="1.15" fill="#c51b7d"/>
<circle cx="328.72" cy="105.71" r="1.15" fill="#c51b7d"/>
<circle cx="332.82" cy="116.22" r="1.15" fill="#a6d068"/>
<circle cx="332.43" cy="114.80" r="1.15" fill="#c51b7d"/>
<circle cx="328.61" cy="126.59" r="1.15" fill="#8e0152"/>
<circle cx="330.58" cy="123.70" r="1.15" fill="#276419"/>
<circle cx="326.12" cy="125.60" r="1.15" fill="#3f7a22"/>
<circle cx="317.86" cy="121.67" r="1.15" fill="#c6e09a"/>
<circle cx="320.49" cy="118.99" r="1.15" fill="#276419"/>
<circle cx="318.82" cy="118.52" r="1.15" fill="#4d9221"/>
<circle cx="315.22" cy="120.90" r="1.15" fill="#3f7a22"/>
<circle cx="325.41" cy="122.67" r="1.15" fill="#c6e09a"/>
<circle cx="326.62" cy="122.41" r="1.15" fill="#8e0152"/>
<circle cx="328.97" cy="123.12" r="1.15" fill="#b5136f"/>
<circle cx="321.33" cy="122.81" r="1.15" fill="#4d9221"/>
<circle cx="320.15" cy="124.51" r="1.15" fill="#276419"/>
<circle cx="316.91" cy="123.26" r="1.15" fill="#6ca43a"/>
<circle cx="328.30" cy="126.13" r="1.15" fill="#de77ae"/>
<circle cx="314.16" cy="122.65" r="1.15" fill="#c51b7d"/>
<circle cx="318.30" cy="123.16" r="1.15" fill="#7fbc41"/>
<circle cx="325.06" cy="122.92" r="1.15" fill="#c6e09a"/>
<circle cx="317.78" cy="121.95" r="1.15" fill="#a6d068"/>
<circle cx="323.01" cy="121.09" r="1.15" fill="#c51b7d"/>
<circle cx="316.36" cy="123.60" r="1.15" fill="#4d9221"/>
<circle cx="326.87" cy="120.98" r="1.15" fill="#276419"/>
<circle cx="327.01" cy="120.66" r="1.15" fill="#3f7a22"/>
<circle cx="319.34" cy="121.46" r="1.15" fill="#8e0152"/>
<circle cx="328.38" cy="123.22" r="1.15" fill="#c51b7d"/>
<circle cx="319.07" cy="122.54" r="1.15" fill="#3f7a22"/>
<circle cx="319.08" cy="120.16" r="1.15" fill="#e9a8cf"/>
<circle cx="329.69" cy="123.84" r="1.15" fill="#7fbc41"/>
<circle cx="329.17" cy="124.49" r="1.15" fill="#276419"/>
<circle cx="328.12" cy="125.30" r="1.15" fill="#276419"/>
<circle cx="328.53" cy="122.46" r="1.15" fill="#4d9221"/>
<circle cx="314.47" cy="123.50" r="1.15" fill="#c6e09a"/>
<circle cx="318.00" cy="122.43" r="1.15" fill="#6ca43a"/>
<circle cx="321.78" cy="123.87" r="1.15" fill="#c6e09a"/>
<circle cx="329.10" cy="121.04" r="1.15" fill="#3f7a22"/>
<circle cx="313.98" cy="120.00" r="1.15" fill="#7fbc41"/>
<circle cx="320.28" cy="121.70" r="1.15" fill="#c6e09a"/>
<circle cx="313.98" cy="120.78" r="1.15" fill="#c51b7d"/>
<circle cx="321.05" cy="120.32" r="1.15" fill="#3f7a22"/>
<circle cx="322.78" cy="121.17" r="1.15" fill="#c51b7d"/>
<circle cx="314.79" cy="119.81" r="1.15" fill="#6ca43a"/>
<circle cx="313.95" cy="124.31" r="1.15" fill="#7fbc41"/>
<circle cx="322.67" cy="118.80" r="1.15" fill="#8e0152"/>
<circle cx="336.07" cy="119.91" r="1.15" fill="#8e0152"/>
<circle cx="345.57" cy="122.72" r="1.15" fill="#c6e09a"/>
<circle cx="339.91" cy="114.95" r="1.15" fill="#6ca43a"/>
<circle cx="348.60" cy="121.55" r="1.15" fill="#a6d068"/>
<circle cx="352.89" cy="119.95" r="1.15" fill="#276419"/>
<circle cx="340.34" cy="118.94" r="1.15" fill="#c51b7d"/>
<circle cx="345.42" cy="114.22" r="1.15" fill="#8e0152"/>
<circle cx="344.66" cy="118.85" r="1.15" fill="#de77ae"/>
<circle cx="349.26" cy="114.74" r="1.15" fill="#4d9221"/>
<circle cx="345.42" cy="113.14" r="1.15" fill="#9b0a5c"/>
<circle cx="345.22" cy="114.55" r="1.15" fill="#a6d068"/>
<circle cx="340.12" cy="117.12" r="1.15" fill="#9b0a5c"/>
<circle cx="339.71" cy="115.53" r="1.15" fill="#276419"/>
<circle cx="340.77" cy="118.22" r="1.15" fill="#9b0a5c"/>
<circle cx="350.76" cy="114.27" r="1.15" fill="#6ca43a"/>
<circle cx="343.31" cy="120.16" r="1.15" fill="#276419"/>
<circle cx="345.03" cy="120.85" r="1.15" fill="#f1b6da"/>
<circle cx="346.19" cy="119.49" r="1.15" fill="#9b0a5c"/>
<circle cx="346.08" cy="117.58" r="1.15" fill="#a6d068"/>
<circle cx="344.07" cy="113.51" r="1.15" fill="#8e0152"/>
<circle cx="346.25" cy="114.73" r="1.15" fill="#de77ae"/>
<circle cx="347.97" cy="117.15" r="1.15" fill="#c51b7d"/>
<circle cx="347.45" cy="115.54" r="1.15" fill="#3f7a22"/>
<circle cx="337.25" cy="120.08" r="1.15" fill="#c6e09a"/>
<circle cx="350.66" cy="114.96" r="1.15" fill="#4d9221"/>
<circle cx="349.28" cy="121.24" r="1.15" fill="#4d9221"/>
<circle cx="350.00" cy="117.29" r="1.15" fill="#a6d068"/>
<circle cx="352.24" cy="118.96" r="1.15" fill="#c51b7d"/>
<circle cx="335.95" cy="119.24" r="1.15" fill="#c51b7d"/>
<circle cx="344.35" cy="112.77" r="1.15" fill="#c6e09a"/>
<circle cx="340.88" cy="121.84" r="1.15" fill="#7fbc41"/>
<circle cx="346.82" cy="123.08" r="1.15" fill="#7fbc41"/>
<circle cx="349.33" cy="114.68" r="1.15" fill="#f1b6da"/>
<circle cx="351.50" cy="115.90" r="1.15" fill="#3f7a22"/>
<circle cx="349.07" cy="113.72" r="1.15" fill="#4d9221"/>
<circle cx="351.38" cy="121.81" r="1.15" fill="#a6d068"/>
<circle cx="344.67" cy="118.94" r="1.15" fill="#c6e09a"/>
<circle cx="339.07" cy="116.70" r="1.15" fill="#de77ae"/>
<circle cx="337.70" cy="117.02" r="1.15" fill="#e9a8cf"/>
<circle cx="337.50" cy="119.74" r="1.15" fill="#8e0152"/>
<circle cx="344.30" cy="116.59" r="1.15" fill="#8e0152"/>
<circle cx="341.49" cy="123.33" r="1.15" fill="#4d9221"/>
<circle cx="341.80" cy="113.51" r="1.15" fill="#9b0a5c"/>
<circle cx="337.98" cy="122.30" r="1.15" fill="#a6d068"/>
<circle cx="341.58" cy="114.24" r="1.15" fill="#f1b6da"/>
<circle cx="345.59" cy="117.25" r="1.15" fill="#3f7a22"/>
<circle cx="337.51" cy="116.78" r="1.15" fill="#8e0152"/>
<circle cx="349.95" cy="118.71" r="1.15" fill="#c6e09a"/>
<circle cx="336.93" cy="117.46" r="1.15" fill="#de77ae"/>
<circle cx="347.15" cy="117.23" r="1.15" fill="#276419"/>
<circle cx="340.15" cy="121.77" r="1.15" fill="#4d9221"/>
<circle cx="351.19" cy="119.91" r="1.15" fill="#7fbc41"/>
<circle cx="337.40" cy="120.95" r="1.15" fill="#4d9221"/>
<circle cx="346.49" cy="120.88" r="1.15" fill="#c51b7d"/>
<circle cx="348.94" cy="118.94" r="1.15" fill="#7fbc41"/>
<circle cx="342.22" cy="122.04" r="1.15" fill="#3f7a22"/>
<circle cx="340.67" cy="114.97" r="1.15" fill="#c6e09a"/>
<circle cx="338.55" cy="120.27" r="1.15" fill="#7fbc41"/>
<circle cx="343.46" cy="118.74" r="1.15" fill="#a6d068"/>
<circle cx="342.84" cy="118.78" r="1.15" fill="#3f7a22"/>
<circle cx="341.96" cy="119.21" r="1.15" fill="#7fbc41"/>
<circle cx="335.33" cy="115.07" r="1.15" fill="#f1b6da"/>
<circle cx="326.91" cy="113.95" r="1.15" fill="#7fbc41"/>
<circle cx="327.41" cy="110.29" r="1.15" fill="#8e0152"/>
<circle cx="335.15" cy="115.14" r="1.15" fill="#4d9221"/>
<circle cx="334.09" cy="115.46" r="1.15" fill="#de77ae"/>
<circle cx="327.01" cy="113.39" r="1.15" fill="#f1b6da"/>
<circle cx="329.07" cy="111.84" r="1.15" fill="#f1b6da"/>
<circle cx="327.63" cy="113.77" r="1.15" fill="#c51b7d"/>
<circle cx="335.47" cy="114.68" r="1.15" fill="#c51b7d"/>
<circle cx="334.55" cy="116.55" r="1.15" fill="#c6e09a"/>
<circle cx="324.75" cy="114.69" r="1.15" fill="#a6d068"/>
<circle cx="328.34" cy="114.22" r="1.15" fill="#276419"/>
<circle cx="329.80" cy="112.55" r="1.15" fill="#4d9221"/>
<circle cx="349.59" cy="99.18" r="1.15" fill="#a6d068"/>
<circle cx="349.68" cy="96.86" r="1.15" fill="#9b0a5c"/>
<circle cx="347.03" cy="100.72" r="1.15" fill="#6ca43a"/>
<circle cx="350.11" cy="97.98" r="1.15" fill="#c6e09a"/>
<circle cx="347.19" cy="97.13" r="1.15" fill="#6ca43a"/>
<circle cx="345.76" cy="100.33" r="1.15" fill="#a6d068"/>
<circle cx="345.71" cy="98.65" r="1.15" fill="#6ca43a"/>
<circle cx="348.34" cy="97.35" r="1.15" fill="#b5136f"/>
<circle cx="346.45" cy="97.13" r="1.15" fill="#4d9221"/>
<circle cx="350.46" cy="97.52" r="1.15" fill="#c51b7d"/>
<circle cx="347.54" cy="98.36" r="1.15" fill="#276419"/>
<circle cx="348.13" cy="97.49" r="1.15" fill="#4d9221"/>
<circle cx="344.77" cy="98.05" r="1.15" fill="#7fbc41"/>
<circle cx="364.84" cy="81.91" r="1.15" fill="#c51b7d"/>
<circle cx="356.43" cy="79.14" r="1.15" fill="#4d9221"/>
<circle cx="360.65" cy="77.72" r="1.15" fill="#9b0a5c"/>
<circle cx="359.01" cy="81.12" r="1.15" fill="#9b0a5c"/>
<circle cx="350.31" cy="81.14" r="1.15" fill="#8e0152"/>
<circle cx="356.39" cy="78.26" r="1.15" fill="#7fbc41"/>
<circle cx="350.92" cy="82.93" r="1.15" fill="#b5136f"/>
<circle cx="358.05" cy="80.07" r="1.15" fill="#7fbc41"/>
<circle cx="360.45" cy="84.77" r="1.15" fill="#c51b7d"/>
<circle cx="355.05" cy="81.38" r="1.15" fill="#6ca43a"/>
<circle cx="363.43" cy="78.87" r="1.15" fill="#c51b7d"/>
<circle cx="356.42" cy="81.00" r="1.15" fill="#e9a8cf"/>
<circle cx="354.97" cy="81.71" r="1.15" fill="#8e0152"/>
<circle cx="361.78" cy="84.73" r="1.15" fill="#c51b7d"/>
<circle cx="355.80" cy="79.03" r="1.15" fill="#f1b6da"/>
<circle cx="361.46" cy="83.10" r="1.15" fill="#3f7a22"/>
<circle cx="353.59" cy="80.58" r="1.15" fill="#c6e09a"/>
<circle cx="353.16" cy="81.36" r="1.15" fill="#c51b7d"/>
<circle cx="353.44" cy="77.13" r="1.15" fill="#3f7a22"/>
<circle cx="354.00" cy="79.47" r="1.15" fill="#4d9221"/>
<circle cx="354.17" cy="85.29" r="1.15" fill="#7fbc41"/>
<circle cx="361.40" cy="78.82" r="1.15" fill="#276419"/>
<circle cx="363.65" cy="80.96" r="1.15" fill="#b5136f"/>
<circle cx="349.46" cy="80.83" r="1.15" fill="#276419"/>
<circle cx="350.56" cy="78.95" r="1.15" fill="#a6d068"/>
<circle cx="364.54" cy="81.44" r="1.15" fill="#6ca43a"/>
<circle cx="364.93" cy="80.57" r="1.15" fill="#8e0152"/>
<circle cx="354.54" cy="78.51" r="1.15" fill="#8e0152"/>
<circle cx="353.17" cy="83.76" r="1.15" fill="#3f7a22"/>
<circle cx="358.64" cy="84.62" r="1.15" fill="#6ca43a"/>
<circle cx="356.87" cy="84.71" r="1.15" fill="#9b0a5c"/>
<circle cx="359.88" cy="77.01" r="1.15" fill="#c6e09a"/>
<circle cx="354.85" cy="77.52" r="1.15" fill="#4d9221"/>
<circle cx="359.31" cy="77.49" r="1.15" fill="#276419"/>
<circle cx="350.62" cy="83.41" r="1.15" fill="#a6d068"/>
<circle cx="360.04" cy="84.48" r="1.15" fill="#4d9221"/>
<circle cx="363.71" cy="83.19" r="1.15" fill="#8e0152"/>
<circle cx="362.44" cy="79.08" r="1.15" fill="#7fbc41"/>
<circle cx="356.52" cy="81.57" r="1.15" fill="#4d9221"/>
<circle cx="355.56" cy="80.76" r="1.15" fill="#6ca43a"/>
<circle cx="356.90" cy="81.30" r="1.15" fill="#4d9221"/>
<circle cx="361.53" cy="84.66" r="1.15" fill="#a6d068"/>
<circle cx="366.35" cy="86.78" r="1.15" fill="#a6d068"/>
<circle cx="366.61" cy="92.35" r="1.15" fill="#c6e09a"/>
<circle cx="368.61" cy="93.08" r="1.15" fill="#c51b7d"/>
<circle cx="369.12" cy="86.81" r="1.15" fill="#3f7a22"/>
<circle cx="371.69" cy="86.84" r="1.15" fill="#a6d068"/>
<circle cx="371.49" cy="91.87" r="1.15" fill="#f1b6da"/>
<circle cx="368.44" cy="86.42" r="1.15" fill="#8e0152"/>
<circle cx="366.53" cy="92.20" r="1.15" fill="#de77ae"/>
<circle cx="371.92" cy="90.14" r="1.15" fill="#4d9221"/>
<circle cx="366.30" cy="89.44" r="1.15" fill="#4d9221"/>
<circle cx="372.55" cy="88.25" r="1.15" fill="#f1b6da"/>
<circle cx="369.65" cy="86.29" r="1.15" fill="#8e0152"/>
<circle cx="367.26" cy="92.05" r="1.15" fill="#3f7a22"/>
<circle cx="370.75" cy="87.93" r="1.15" fill="#8e0152"/>
<circle cx="371.21" cy="86.44" r="1.15" fill="#b5136f"/>
<circle cx="365.65" cy="88.26" r="1.15" fill="#c51b7d"/>
<circle cx="369.33" cy="87.71" r="1.15" fill="#de77ae"/>
<circle cx="367.88" cy="86.42" r="1.15" fill="#c51b7d"/>
<circle cx="369.55" cy="86.18" r="1.15" fill="#9b0a5c"/>
<circle cx="361.69" cy="107.87" r="1.15" fill="#f1b6da"/>
<circle cx="360.21" cy="104.94" r="1.15" fill="#c51b7d"/>
<circle cx="358.67" cy="106.43" r="1.15" fill="#6ca43a"/>
<circle cx="361.70" cy="105.15" r="1.15" fill="#a6d068"/>
<circle cx="358.82" cy="107.09" r="1.15" fill="#4d9221"/>
<circle cx="363.51" cy="109.29" r="1.15" fill="#a6d068"/>
<circle cx="360.79" cy="106.84" r="1.15" fill="#7fbc41"/>
<circle cx="363.52" cy="108.54" r="1.15" fill="#9b0a5c"/>
<circle cx="365.08" cy="115.05" r="1.15" fill="#6ca43a"/>
<circle cx="362.57" cy="114.92" r="1.15" fill="#8e0152"/>
<circle cx="369.65" cy="116.02" r="1.15" fill="#6ca43a"/>
<circle cx="363.02" cy="115.15" r="1.15" fill="#c6e09a"/>
<circle cx="368.65" cy="117.20" r="1.15" fill="#c51b7d"/>
<circle cx="365.36" cy="115.73" r="1.15" fill="#b5136f"/>
<circle cx="367.42" cy="117.69" r="1.15" fill="#276419"/>
<circle cx="367.24" cy="117.97" r="1.15" fill="#b5136f"/>
<circle cx="366.15" cy="117.45" r="1.15" fill="#6ca43a"/>
<circle cx="366.19" cy="116.05" r="1.15" fill="#b5136f"/>
<circle cx="368.24" cy="115.55" r="1.15" fill="#3f7a22"/>
<circle cx="368.46" cy="114.63" r="1.15" fill="#9b0a5c"/>
<circle cx="362.25" cy="116.70" r="1.15" fill="#8e0152"/>
<circle cx="363.15" cy="113.86" r="1.15" fill="#e9a8cf"/>
<circle cx="361.65" cy="115.48" r="1.15" fill="#c51b7d"/>
<circle cx="365.58" cy="115.51" r="1.15" fill="#f1b6da"/>
<circle cx="368.39" cy="106.72" r="1.15" fill="#9b0a5c"/>
<circle cx="369.67" cy="99.38" r="1.15" fill="#a6d068"/>
<circle cx="374.89" cy="107.47" r="1.15" fill="#de77ae"/>
<circle cx="367.21" cy="103.98" r="1.15" fill="#9b0a5c"/>
<circle cx="369.81" cy="106.28" r="1.15" fill="#3f7a22"/>
<circle cx="369.76" cy="106.77" r="1.15" fill="#c51b7d"/>
<circle cx="372.95" cy="103.37" r="1.15" fill="#3f7a22"/>
<circle cx="374.59" cy="107.23" r="1.15" fill="#6ca43a"/>
<circle cx="369.76" cy="99.89" r="1.15" fill="#e9a8cf"/>
<circle cx="372.87" cy="103.66" r="1.15" fill="#6ca43a"/>
<circle cx="374.71" cy="108.40" r="1.15" fill="#4d9221"/>
<circle cx="368.72" cy="101.76" r="1.15" fill="#7fbc41"/>
<circle cx="372.64" cy="102.08" r="1.15" fill="#8e0152"/>
<circle cx="371.42" cy="104.89" r="1.15" fill="#e9a8cf"/>
<circle cx="370.52" cy="100.27" r="1.15" fill="#c51b7d"/>
<circle cx="369.48" cy="108.03" r="1.15" fill="#de77ae"/>
<circle cx="374.41" cy="100.02" r="1.15" fill="#c51b7d"/>
<circle cx="373.40" cy="108.80" r="1.15" fill="#a6d068"/>
<circle cx="372.61" cy="109.72" r="1.15" fill="#8e0152"/>
<circle cx="378.78" cy="70.49" r="1.15" fill="#7fbc41"/>
<circle cx="376.98" cy="71.05" r="1.15" fill="#f1b6da"/>
<circle cx="374.57" cy="69.80" r="1.15" fill="#c6e09a"/>
<circle cx="381.69" cy="71.55" r="1.15" fill="#9b0a5c"/>
<circle cx="376.09" cy="70.95" r="1.15" fill="#3f7a22"/>
<circle cx="374.44" cy="70.03" r="1.15" fill="#b5136f"/>
<circle cx="376.29" cy="71.60" r="1.15" fill="#4d9221"/>
<circle cx="374.79" cy="70.97" r="1.15" fill="#8e0152"/>
<circle cx="376.53" cy="68.59" r="1.15" fill="#c6e09a"/>
<circle cx="375.88" cy="69.51" r="1.15" fill="#b5136f"/>
<circle cx="380.10" cy="71.68" r="1.15" fill="#b5136f"/>
<circle cx="374.16" cy="70.16" r="1.15" fill="#8e0152"/>
<circle cx="377.20" cy="68.37" r="1.15" fill="#c51b7d"/>
<circle cx="374.17" cy="71.82" r="1.15" fill="#c51b7d"/>
<circle cx="379.73" cy="72.04" r="1.15" fill="#c51b7d"/>
<circle cx="376.02" cy="71.40" r="1.15" fill="#8e0152"/>
<circle cx="393.15" cy="75.74" r="1.15" fill="#276419"/>
<circle cx="393.95" cy="80.14" r="1.15" fill="#8e0152"/>
<circle cx="392.61" cy="79.32" r="1.15" fill="#3f7a22"/>
<circle cx="390.14" cy="79.72" r="1.15" fill="#6ca43a"/>
<circle cx="390.53" cy="76.24" r="1.15" fill="#4d9221"/>
<circle cx="392.39" cy="78.22" r="1.15" fill="#c6e09a"/>
<circle cx="391.61" cy="79.64" r="1.15" fill="#9b0a5c"/>
<circle cx="393.91" cy="77.66" r="1.15" fill="#6ca43a"/>
<circle cx="394.94" cy="76.86" r="1.15" fill="#c51b7d"/>
<circle cx="391.00" cy="80.60" r="1.15" fill="#6ca43a"/>
<circle cx="390.40" cy="75.13" r="1.15" fill="#276419"/>
<circle cx="394.71" cy="78.72" r="1.15" fill="#c51b7d"/>
<circle cx="390.45" cy="79.48" r="1.15" fill="#276419"/>
<circle cx="393.30" cy="77.19" r="1.15" fill="#8e0152"/>
<circle cx="392.12" cy="80.40" r="1.15" fill="#a6d068"/>
<circle cx="392.20" cy="74.94" r="1.15" fill="#4d9221"/>
<circle cx="391.40" cy="76.23" r="1.15" fill="#a6d068"/>
<circle cx="395.54" cy="77.10" r="1.15" fill="#c51b7d"/>
<circle cx="391.08" cy="79.21" r="1.15" fill="#c51b7d"/>
<circle cx="394.00" cy="74.79" r="1.15" fill="#4d9221"/>
<circle cx="393.32" cy="80.30" r="1.15" fill="#4d9221"/>
<circle cx="392.53" cy="76.06" r="1.15" fill="#b5136f"/>
<circle cx="391.80" cy="75.55" r="1.15" fill="#c6e09a"/>
<circle cx="392.32" cy="76.86" r="1.15" fill="#7fbc41"/>
<circle cx="420.51" cy="81.68" r="1.15" fill="#e9a8cf"/>
<circle cx="417.07" cy="76.13" r="1.15" fill="#8e0152"/>
<circle cx="419.87" cy="78.02" r="1.15" fill="#276419"/>
<circle cx="418.08" cy="76.72" r="1.15" fill="#c51b7d"/>
<circle cx="420.87" cy="75.57" r="1.15" fill="#c6e09a"/>
<circle cx="418.49" cy="73.43" r="1.15" fill="#9b0a5c"/>
<circle cx="420.62" cy="80.27" r="1.15" fill="#c6e09a"/>
<circle cx="418.84" cy="82.08" r="1.15" fill="#3f7a22"/>
<circle cx="420.91" cy="76.93" r="1.15" fill="#276419"/>
<circle cx="422.32" cy="79.10" r="1.15" fill="#4d9221"/>
<circle cx="419.67" cy="80.76" r="1.15" fill="#c51b7d"/>
<circle cx="420.84" cy="82.27" r="1.15" fill="#9b0a5c"/>
<circle cx="419.17" cy="82.18" r="1.15" fill="#8e0152"/>
<circle cx="420.39" cy="79.68" r="1.15" fill="#3f7a22"/>
<circle cx="420.01" cy="75.40" r="1.15" fill="#c51b7d"/>
<circle cx="419.11" cy="81.09" r="1.15" fill="#8e0152"/>
<circle cx="420.28" cy="74.65" r="1.15" fill="#c51b7d"/>
<circle cx="419.12" cy="78.16" r="1.15" fill="#3f7a22"/>
<circle cx="418.99" cy="80.18" r="1.15" fill="#b5136f"/>
<circle cx="422.19" cy="95.40" r="1.15" fill="#c51b7d"/>
<circle cx="423.37" cy="94.75" r="1.15" fill="#8e0152"/>
<circle cx="420.28" cy="91.10" r="1.15" fill="#276419"/>
<circle cx="419.76" cy="86.82" r="1.15" fill="#3f7a22"/>
<circle cx="417.67" cy="87.44" r="1.15" fill="#b5136f"/>
<circle cx="416.72" cy="85.02" r="1.15" fill="#de77ae"/>
<circle cx="420.19" cy="93.64" r="1.15" fill="#b5136f"/>
<circle cx="415.38" cy="84.24" r="1.15" fill="#de77ae"/>
<circle cx="420.94" cy="93.01" r="1.15" fill="#6ca43a"/>
<circle cx="417.11" cy="91.85" r="1.15" fill="#b5136f"/>
<circle cx="420.03" cy="88.39" r="1.15" fill="#b5136f"/>
<circle cx="413.93" cy="86.37" r="1.15" fill="#4d9221"/>
<circle cx="417.18" cy="83.41" r="1.15" fill="#b5136f"/>
<circle cx="423.69" cy="86.83" r="1.15" fill="#6ca43a"/>
<circle cx="425.80" cy="87.91" r="1.15" fill="#3f7a22"/>
<circle cx="422.10" cy="86.49" r="1.15" fill="#8e0152"/>
<circle cx="422.73" cy="89.28" r="1.15" fill="#b5136f"/>
<circle cx="418.82" cy="91.95" r="1.15" fill="#de77ae"/>
<circle cx="423.62" cy="92.65" r="1.15" fill="#8e0152"/>
<circle cx="416.84" cy="91.65" r="1.15" fill="#b5136f"/>
<circle cx="416.87" cy="86.54" r="1.15" fill="#8e0152"/>
<circle cx="421.01" cy="91.42" r="1.15" fill="#8e0152"/>
<circle cx="420.71" cy="85.09" r="1.15" fill="#4d9221"/>
<circle cx="417.34" cy="91.42" r="1.15" fill="#c6e09a"/>
<circle cx="420.25" cy="90.48" r="1.15" fill="#c51b7d"/>
<circle cx="415.68" cy="87.66" r="1.15" fill="#de77ae"/>
<circle cx="420.54" cy="89.08" r="1.15" fill="#6ca43a"/>
<circle cx="423.71" cy="94.17" r="1.15" fill="#b5136f"/>
<circle cx="418.31" cy="89.34" r="1.15" fill="#c51b7d"/>
<circle cx="415.00" cy="88.68" r="1.15" fill="#4d9221"/>
<circle cx="418.71" cy="85.01" r="1.15" fill="#c51b7d"/>
<circle cx="422.84" cy="85.06" r="1.15" fill="#4d9221"/>
<circle cx="396.04" cy="112.52" r="1.15" fill="#b5136f"/>
<circle cx="409.80" cy="104.82" r="1.15" fill="#8e0152"/>
<circle cx="395.31" cy="115.23" r="1.15" fill="#c51b7d"/>
<circle cx="394.29" cy="95.75" r="1.15" fill="#3f7a22"/>
<circle cx="395.50" cy="107.30" r="1.15" fill="#8e0152"/>
<circle cx="386.96" cy="110.00" r="1.15" fill="#f1b6da"/>
<circle cx="391.84" cy="87.90" r="1.15" fill="#b5136f"/>
<circle cx="403.21" cy="114.52" r="1.15" fill="#9b0a5c"/>
<circle cx="388.39" cy="87.81" r="1.15" fill="#8e0152"/>
<circle cx="399.33" cy="108.30" r="1.15" fill="#3f7a22"/>
<circle cx="397.43" cy="99.25" r="1.15" fill="#9b0a5c"/>
<circle cx="381.11" cy="109.30" r="1.15" fill="#c6e09a"/>
<circle cx="379.02" cy="104.65" r="1.15" fill="#c51b7d"/>
<circle cx="382.15" cy="100.66" r="1.15" fill="#b5136f"/>
<circle cx="399.15" cy="93.91" r="1.15" fill="#f1b6da"/>
<circle cx="405.20" cy="94.23" r="1.15" fill="#7fbc41"/>
<circle cx="409.11" cy="98.64" r="1.15" fill="#e9a8cf"/>
<circle cx="402.83" cy="100.52" r="1.15" fill="#e9a8cf"/>
<circle cx="389.95" cy="88.96" r="1.15" fill="#a6d068"/>
<circle cx="400.19" cy="87.63" r="1.15" fill="#4d9221"/>
<circle cx="395.16" cy="99.07" r="1.15" fill="#9b0a5c"/>
<circle cx="388.97" cy="94.08" r="1.15" fill="#a6d068"/>
<circle cx="395.82" cy="114.39" r="1.15" fill="#7fbc41"/>
<circle cx="406.59" cy="95.88" r="1.15" fill="#e9a8cf"/>
<circle cx="399.59" cy="106.31" r="1.15" fill="#c6e09a"/>
<circle cx="404.07" cy="106.13" r="1.15" fill="#8e0152"/>
<circle cx="406.39" cy="94.43" r="1.15" fill="#276419"/>
<circle cx="398.67" cy="87.69" r="1.15" fill="#a6d068"/>
<circle cx="399.12" cy="95.26" r="1.15" fill="#b5136f"/>
<circle cx="387.10" cy="102.61" r="1.15" fill="#7fbc41"/>
<circle cx="396.53" cy="96.78" r="1.15" fill="#de77ae"/>
<circle cx="400.03" cy="108.60" r="1.15" fill="#4d9221"/>
<circle cx="381.68" cy="93.95" r="1.15" fill="#4d9221"/>
<circle cx="409.21" cy="107.38" r="1.15" fill="#c51b7d"/>
<circle cx="384.58" cy="103.32" r="1.15" fill="#7fbc41"/>
<circle cx="391.48" cy="90.95" r="1.15" fill="#b5136f"/>
<circle cx="392.98" cy="103.08" r="1.15" fill="#a6d068"/>
<circle cx="401.78" cy="114.45" r="1.15" fill="#9b0a5c"/>
<circle cx="391.63" cy="106.86" r="1.15" fill="#a6d068"/>
<circle cx="392.60" cy="100.45" r="1.15" fill="#4d9221"/>
<circle cx="402.84" cy="109.90" r="1.15" fill="#e9a8cf"/>
<circle cx="390.91" cy="96.21" r="1.15" fill="#4d9221"/>
<circle cx="394.37" cy="116.45" r="1.15" fill="#b5136f"/>
<circle cx="389.28" cy="93.30" r="1.15" fill="#c51b7d"/>
<circle cx="393.85" cy="96.71" r="1.15" fill="#f1b6da"/>
<circle cx="393.17" cy="102.93" r="1.15" fill="#a6d068"/>
<circle cx="382.70" cy="110.37" r="1.15" fill="#a6d068"/>
<circle cx="400.94" cy="110.28" r="1.15" fill="#e9a8cf"/>
<circle cx="394.18" cy="91.63" r="1.15" fill="#c51b7d"/>
<circle cx="404.78" cy="114.11" r="1.15" fill="#9b0a5c"/>
<circle cx="410.02" cy="109.26" r="1.15" fill="#c51b7d"/>
<circle cx="383.13" cy="95.42" r="1.15" fill="#7fbc41"/>
<circle cx="402.95" cy="87.26" r="1.15" fill="#8e0152"/>
<circle cx="388.66" cy="98.44" r="1.15" fill="#276419"/>
<circle cx="388.33" cy="106.52" r="1.15" fill="#6ca43a"/>
<circle cx="404.55" cy="100.97" r="1.15" fill="#7fbc41"/>
<circle cx="404.77" cy="93.89" r="1.15" fill="#7fbc41"/>
<circle cx="403.76" cy="91.03" r="1.15" fill="#de77ae"/>
<circle cx="400.81" cy="111.44" r="1.15" fill="#c6e09a"/>
<circle cx="380.92" cy="95.03" r="1.15" fill="#3f7a22"/>
<circle cx="390.34" cy="114.48" r="1.15" fill="#b5136f"/>
<circle cx="381.14" cy="99.23" r="1.15" fill="#8e0152"/>
<circle cx="397.79" cy="100.46" r="1.15" fill="#276419"/>
<circle cx="402.70" cy="95.18" r="1.15" fill="#de77ae"/>
<circle cx="395.27" cy="113.93" r="1.15" fill="#f1b6da"/>
<circle cx="386.58" cy="103.32" r="1.15" fill="#6ca43a"/>
<circle cx="389.61" cy="101.14" r="1.15" fill="#7fbc41"/>
<circle cx="380.81" cy="95.69" r="1.15" fill="#276419"/>
<circle cx="401.82" cy="103.94" r="1.15" fill="#e9a8cf"/>
<circle cx="394.94" cy="86.79" r="1.15" fill="#7fbc41"/>
<circle cx="405.34" cy="89.13" r="1.15" fill="#3f7a22"/>
<circle cx="403.25" cy="99.09" r="1.15" fill="#8e0152"/>
<circle cx="391.05" cy="87.32" r="1.15" fill="#276419"/>
<circle cx="411.61" cy="105.82" r="1.15" fill="#8e0152"/>
<circle cx="390.61" cy="91.17" r="1.15" fill="#a6d068"/>
<circle cx="409.99" cy="97.43" r="1.15" fill="#c51b7d"/>
<circle cx="383.14" cy="101.09" r="1.15" fill="#3f7a22"/>
<circle cx="391.48" cy="112.38" r="1.15" fill="#7fbc41"/>
<circle cx="402.57" cy="109.39" r="1.15" fill="#8e0152"/>
<circle cx="405.32" cy="113.98" r="1.15" fill="#de77ae"/>
<circle cx="395.12" cy="106.84" r="1.15" fill="#6ca43a"/>
<circle cx="399.32" cy="100.20" r="1.15" fill="#c6e09a"/>
<circle cx="383.42" cy="103.48" r="1.15" fill="#3f7a22"/>
<circle cx="397.21" cy="97.12" r="1.15" fill="#8e0152"/>
<circle cx="404.32" cy="114.58" r="1.15" fill="#9b0a5c"/>
<circle cx="396.59" cy="98.18" r="1.15" fill="#a6d068"/>
<circle cx="396.59" cy="109.76" r="1.15" fill="#b5136f"/>
<circle cx="389.31" cy="112.59" r="1.15" fill="#c51b7d"/>
<circle cx="401.91" cy="108.64" r="1.15" fill="#276419"/>
<circle cx="399.62" cy="88.14" r="1.15" fill="#c6e09a"/>
<circle cx="401.42" cy="113.93" r="1.15" fill="#e9a8cf"/>
<circle cx="402.18" cy="113.13" r="1.15" fill="#f1b6da"/>
<circle cx="383.83" cy="100.64" r="1.15" fill="#276419"/>
<circle cx="403.91" cy="116.51" r="1.15" fill="#f1b6da"/>
<circle cx="387.11" cy="94.17" r="1.15" fill="#b5136f"/>
<circle cx="401.46" cy="99.21" r="1.15" fill="#c6e09a"/>
<circle cx="441.42" cy="108.99" r="1.15" fill="#7fbc41"/>
<circle cx="438.15" cy="113.84" r="1.15" fill="#c51b7d"/>
<circle cx="434.25" cy="108.47" r="1.15" fill="#6ca43a"/>
<circle cx="438.55" cy="113.79" r="1.15" fill="#b5136f"/>
<circle cx="431.11" cy="105.23" r="1.15" fill="#e9a8cf"/>
<circle cx="428.78" cy="103.74" r="1.15" fill="#c51b7d"/>
<circle cx="433.82" cy="108.16" r="1.15" fill="#c51b7d"/>
<circle cx="437.42" cy="112.80" r="1.15" fill="#f1b6da"/>
<circle cx="432.21" cy="100.64" r="1.15" fill="#e9a8cf"/>
<circle cx="436.71" cy="97.70" r="1.15" fill="#f1b6da"/>
<circle cx="439.06" cy="97.28" r="1.15" fill="#de77ae"/>
<circle cx="440.17" cy="100.95" r="1.15" fill="#a6d068"/>
<circle cx="441.53" cy="108.08" r="1.15" fill="#8e0152"/>
<circle cx="439.22" cy="99.09" r="1.15" fill="#de77ae"/>
<circle cx="437.81" cy="108.61" r="1.15" fill="#b5136f"/>
<circle cx="433.91" cy="106.47" r="1.15" fill="#b5136f"/>
<circle cx="435.87" cy="112.49" r="1.15" fill="#de77ae"/>
<circle cx="435.32" cy="96.96" r="1.15" fill="#b5136f"/>
<circle cx="437.24" cy="115.24" r="1.15" fill="#c51b7d"/>
<circle cx="431.25" cy="97.67" r="1.15" fill="#e9a8cf"/>
<circle cx="435.52" cy="99.06" r="1.15" fill="#b5136f"/>
<circle cx="440.67" cy="106.00" r="1.15" fill="#de77ae"/>
<circle cx="434.60" cy="108.82" r="1.15" fill="#a6d068"/>
<circle cx="433.99" cy="106.66" r="1.15" fill="#c51b7d"/>
<circle cx="429.06" cy="106.36" r="1.15" fill="#b5136f"/>
<circle cx="436.21" cy="99.39" r="1.15" fill="#8e0152"/>
<circle cx="430.75" cy="104.01" r="1.15" fill="#c51b7d"/>
<circle cx="438.34" cy="101.73" r="1.15" fill="#de77ae"/>
<circle cx="432.89" cy="114.25" r="1.15" fill="#a6d068"/>
<circle cx="431.99" cy="107.38" r="1.15" fill="#276419"/>
<circle cx="438.53" cy="100.75" r="1.15" fill="#f1b6da"/>
<circle cx="441.47" cy="100.09" r="1.15" fill="#c51b7d"/>
<circle cx="435.74" cy="106.94" r="1.15" fill="#c51b7d"/>
<circle cx="428.78" cy="101.51" r="1.15" fill="#8e0152"/>
<circle cx="428.30" cy="103.69" r="1.15" fill="#9b0a5c"/>
<circle cx="379.61" cy="119.49" r="1.15" fill="#a6d068"/>
<circle cx="377.33" cy="115.48" r="1.15" fill="#8e0152"/>
<circle cx="371.63" cy="118.47" r="1.15" fill="#c51b7d"/>
<circle cx="372.43" cy="125.23" r="1.15" fill="#7fbc41"/>
<circle cx="380.80" cy="118.06" r="1.15" fill="#a6d068"/>
<circle cx="381.72" cy="118.80" r="1.15" fill="#b5136f"/>
<circle cx="381.63" cy="125.03" r="1.15" fill="#276419"/>
<circle cx="376.34" cy="126.22" r="1.15" fill="#9b0a5c"/>
<circle cx="380.94" cy="116.49" r="1.15" fill="#e9a8cf"/>
<circle cx="382.69" cy="118.65" r="1.15" fill="#e9a8cf"/>
<circle cx="380.82" cy="124.85" r="1.15" fill="#e9a8cf"/>
<circle cx="378.36" cy="127.00" r="1.15" fill="#7fbc41"/>
<circle cx="374.19" cy="119.79" r="1.15" fill="#7fbc41"/>
<circle cx="378.20" cy="118.04" r="1.15" fill="#276419"/>
<circle cx="378.80" cy="128.24" r="1.15" fill="#3f7a22"/>
<circle cx="375.50" cy="128.37" r="1.15" fill="#b5136f"/>
<circle cx="380.54" cy="117.21" r="1.15" fill="#9b0a5c"/>
<circle cx="369.44" cy="118.19" r="1.15" fill="#276419"/>
<circle cx="377.86" cy="122.89" r="1.15" fill="#c51b7d"/>
<circle cx="370.94" cy="124.74" r="1.15" fill="#b5136f"/>
<circle cx="373.44" cy="119.39" r="1.15" fill="#c51b7d"/>
<circle cx="370.16" cy="125.18" r="1.15" fill="#e9a8cf"/>
<circle cx="372.33" cy="116.18" r="1.15" fill="#a6d068"/>
<circle cx="382.64" cy="118.50" r="1.15" fill="#a6d068"/>
<circle cx="376.40" cy="124.04" r="1.15" fill="#9b0a5c"/>
<circle cx="379.59" cy="120.82" r="1.15" fill="#8e0152"/>
<circle cx="371.11" cy="122.22" r="1.15" fill="#3f7a22"/>
<circle cx="382.45" cy="117.81" r="1.15" fill="#8e0152"/>
<circle cx="374.84" cy="124.36" r="1.15" fill="#de77ae"/>
<circle cx="373.96" cy="124.10" r="1.15" fill="#c6e09a"/>
<circle cx="375.01" cy="115.49" r="1.15" fill="#c51b7d"/>
<circle cx="375.98" cy="113.68" r="1.15" fill="#c6e09a"/>
<circle cx="369.63" cy="120.21" r="1.15" fill="#4d9221"/>
<circle cx="373.80" cy="126.82" r="1.15" fill="#3f7a22"/>
<circle cx="369.21" cy="118.73" r="1.15" fill="#3f7a22"/>
<circle cx="420.94" cy="126.92" r="1.15" fill="#c6e09a"/>
<circle cx="421.75" cy="127.21" r="1.15" fill="#c51b7d"/>
<circle cx="416.48" cy="105.38" r="1.15" fill="#c51b7d"/>
<circle cx="428.41" cy="125.98" r="1.15" fill="#c51b7d"/>
<circle cx="417.96" cy="113.77" r="1.15" fill="#3f7a22"/>
<circle cx="412.50" cy="142.50" r="1.15" fill="#3f7a22"/>
<circle cx="403.71" cy="107.87" r="1.15" fill="#c51b7d"/>
<circle cx="411.75" cy="113.90" r="1.15" fill="#8e0152"/>
<circle cx="428.69" cy="133.14" r="1.15" fill="#de77ae"/>
<circle cx="405.26" cy="138.63" r="1.15" fill="#c51b7d"/>
<circle cx="400.96" cy="127.22" r="1.15" fill="#e9a8cf"/>
<circle cx="428.83" cy="133.33" r="1.15" fill="#9b0a5c"/>
<circle cx="400.50" cy="119.20" r="1.15" fill="#4d9221"/>
<circle cx="430.97" cy="129.71" r="1.15" fill="#c51b7d"/>
<circle cx="428.58" cy="108.74" r="1.15" fill="#4d9221"/>
<circle cx="430.18" cy="109.55" r="1.15" fill="#6ca43a"/>
<circle cx="394.50" cy="122.99" r="1.15" fill="#e9a8cf"/>
<circle cx="422.96" cy="129.70" r="1.15" fill="#c51b7d"/>
<circle cx="415.56" cy="110.04" r="1.15" fill="#f1b6da"/>
<circle cx="419.30" cy="122.74" r="1.15" fill="#e9a8cf"/>
<circle cx="410.84" cy="133.99" r="1.15" fill="#276419"/>
<circle cx="419.34" cy="117.47" r="1.15" fill="#9b0a5c"/>
<circle cx="432.74" cy="136.93" r="1.15" fill="#8e0152"/>
<circle cx="422.90" cy="112.30" r="1.15" fill="#4d9221"/>
<circle cx="425.00" cy="142.43" r="1.15" fill="#f1b6da"/>
<circle cx="430.21" cy="111.39" r="1.15" fill="#de77ae"/>
<circle cx="402.90" cy="112.51" r="1.15" fill="#9b0a5c"/>
<circle cx="415.08" cy="109.92" r="1.15" fill="#c51b7d"/>
<circle cx="408.89" cy="113.26" r="1.15" fill="#e9a8cf"/>
<circle cx="399.36" cy="111.10" r="1.15" fill="#276419"/>
<circle cx="405.71" cy="115.77" r="1.15" fill="#276419"/>
<circle cx="425.62" cy="104.72" r="1.15" fill="#c51b7d"/>
<circle cx="418.91" cy="137.34" r="1.15" fill="#4d9221"/>
<circle cx="404.24" cy="129.63" r="1.15" fill="#8e0152"/>
<circle cx="405.27" cy="141.06" r="1.15" fill="#7fbc41"/>
<circle cx="416.23" cy="118.07" r="1.15" fill="#c51b7d"/>
<circle cx="435.75" cy="124.46" r="1.15" fill="#7fbc41"/>
<circle cx="410.80" cy="110.24" r="1.15" fill="#b5136f"/>
<circle cx="398.14" cy="115.73" r="1.15" fill="#de77ae"/>
<circle cx="415.38" cy="117.49" r="1.15" fill="#3f7a22"/>
<circle cx="406.38" cy="108.07" r="1.15" fill="#8e0152"/>
<circle cx="406.39" cy="115.58" r="1.15" fill="#276419"/>
<circle cx="416.36" cy="110.37" r="1.15" fill="#de77ae"/>
<circle cx="417.34" cy="123.78" r="1.15" fill="#c51b7d"/>
<circle cx="399.58" cy="127.29" r="1.15" fill="#b5136f"/>
<circle cx="434.97" cy="134.97" r="1.15" fill="#3f7a22"/>
<circle cx="418.13" cy="112.85" r="1.15" fill="#7fbc41"/>
<circle cx="426.21" cy="112.50" r="1.15" fill="#b5136f"/>
<circle cx="432.31" cy="114.18" r="1.15" fill="#276419"/>
<circle cx="402.04" cy="135.99" r="1.15" fill="#8e0152"/>
<circle cx="402.82" cy="114.26" r="1.15" fill="#8e0152"/>
<circle cx="425.31" cy="118.78" r="1.15" fill="#8e0152"/>
<circle cx="411.31" cy="141.94" r="1.15" fill="#a6d068"/>
<circle cx="418.92" cy="118.56" r="1.15" fill="#b5136f"/>
<circle cx="420.36" cy="119.90" r="1.15" fill="#8e0152"/>
<circle cx="431.31" cy="136.37" r="1.15" fill="#a6d068"/>
<circle cx="405.98" cy="136.07" r="1.15" fill="#4d9221"/>
<circle cx="425.11" cy="136.80" r="1.15" fill="#de77ae"/>
<circle cx="416.97" cy="108.31" r="1.15" fill="#de77ae"/>
<circle cx="415.40" cy="143.68" r="1.15" fill="#c51b7d"/>
<circle cx="435.03" cy="116.01" r="1.15" fill="#c51b7d"/>
<circle cx="423.08" cy="103.35" r="1.15" fill="#f1b6da"/>
<circle cx="426.40" cy="127.46" r="1.15" fill="#e9a8cf"/>
<circle cx="411.05" cy="113.91" r="1.15" fill="#f1b6da"/>
<circle cx="396.92" cy="112.49" r="1.15" fill="#b5136f"/>
<circle cx="412.90" cy="120.59" r="1.15" fill="#f1b6da"/>
<circle cx="400.22" cy="132.35" r="1.15" fill="#c51b7d"/>
<circle cx="406.22" cy="109.79" r="1.15" fill="#c51b7d"/>
<circle cx="414.83" cy="116.69" r="1.15" fill="#c51b7d"/>
<circle cx="432.08" cy="135.08" r="1.15" fill="#c51b7d"/>
<circle cx="423.16" cy="142.30" r="1.15" fill="#8e0152"/>
<circle cx="396.50" cy="127.88" r="1.15" fill="#c51b7d"/>
<circle cx="434.00" cy="124.13" r="1.15" fill="#a6d068"/>
<circle cx="434.69" cy="122.49" r="1.15" fill="#e9a8cf"/>
<circle cx="401.99" cy="129.65" r="1.15" fill="#c6e09a"/>
<circle cx="424.83" cy="113.65" r="1.15" fill="#9b0a5c"/>
<circle cx="410.28" cy="128.85" r="1.15" fill="#e9a8cf"/>
<circle cx="428.68" cy="123.66" r="1.15" fill="#b5136f"/>
<circle cx="436.11" cy="130.59" r="1.15" fill="#f1b6da"/>
<circle cx="394.71" cy="128.87" r="1.15" fill="#f1b6da"/>
<circle cx="417.82" cy="119.90" r="1.15" fill="#b5136f"/>
<circle cx="424.81" cy="119.86" r="1.15" fill="#8e0152"/>
<circle cx="430.53" cy="126.18" r="1.15" fill="#f1b6da"/>
<circle cx="420.50" cy="128.86" r="1.15" fill="#c51b7d"/>
<circle cx="416.31" cy="125.30" r="1.15" fill="#c51b7d"/>
<circle cx="407.53" cy="112.04" r="1.15" fill="#c51b7d"/>
<circle cx="401.96" cy="132.25" r="1.15" fill="#de77ae"/>
<circle cx="413.54" cy="109.13" r="1.15" fill="#8e0152"/>
<circle cx="423.37" cy="109.78" r="1.15" fill="#b5136f"/>
<circle cx="406.94" cy="110.83" r="1.15" fill="#8e0152"/>
<circle cx="424.43" cy="124.05" r="1.15" fill="#f1b6da"/>
<circle cx="401.38" cy="113.48" r="1.15" fill="#7fbc41"/>
<circle cx="397.84" cy="128.06" r="1.15" fill="#c51b7d"/>
<circle cx="418.82" cy="113.04" r="1.15" fill="#9b0a5c"/>
<circle cx="399.25" cy="136.97" r="1.15" fill="#c6e09a"/>
<circle cx="416.78" cy="122.36" r="1.15" fill="#4d9221"/>
<circle cx="421.09" cy="122.72" r="1.15" fill="#8e0152"/>
<circle cx="413.10" cy="104.00" r="1.15" fill="#f1b6da"/>
<circle cx="429.98" cy="126.07" r="1.15" fill="#c51b7d"/>
<circle cx="426.08" cy="104.65" r="1.15" fill="#b5136f"/>
<circle cx="414.94" cy="117.01" r="1.15" fill="#de77ae"/>
<circle cx="417.40" cy="132.36" r="1.15" fill="#f1b6da"/>
<circle cx="404.93" cy="134.09" r="1.15" fill="#de77ae"/>
<circle cx="425.25" cy="105.19" r="1.15" fill="#c51b7d"/>
<circle cx="432.79" cy="129.33" r="1.15" fill="#e9a8cf"/>
<circle cx="405.52" cy="140.98" r="1.15" fill="#276419"/>
<circle cx="395.12" cy="127.11" r="1.15" fill="#3f7a22"/>
<circle cx="432.53" cy="133.66" r="1.15" fill="#de77ae"/>
<circle cx="435.31" cy="123.25" r="1.15" fill="#8e0152"/>
<circle cx="431.27" cy="110.46" r="1.15" fill="#e9a8cf"/>
<circle cx="416.15" cy="138.93" r="1.15" fill="#c51b7d"/>
<circle cx="424.61" cy="138.91" r="1.15" fill="#de77ae"/>
<circle cx="393.26" cy="123.28" r="1.15" fill="#e9a8cf"/>
<circle cx="423.16" cy="133.68" r="1.15" fill="#8e0152"/>
<circle cx="417.31" cy="129.18" r="1.15" fill="#9b0a5c"/>
<circle cx="411.53" cy="142.08" r="1.15" fill="#c51b7d"/>
<circle cx="416.40" cy="105.31" r="1.15" fill="#e9a8cf"/>
<circle cx="422.74" cy="134.54" r="1.15" fill="#8e0152"/>
<circle cx="425.42" cy="123.40" r="1.15" fill="#c51b7d"/>
<circle cx="414.71" cy="139.30" r="1.15" fill="#8e0152"/>
<circle cx="425.56" cy="132.80" r="1.15" fill="#8e0152"/>
<circle cx="425.45" cy="139.35" r="1.15" fill="#c51b7d"/>
<circle cx="411.36" cy="135.01" r="1.15" fill="#de77ae"/>
<circle cx="428.47" cy="134.63" r="1.15" fill="#9b0a5c"/>
<circle cx="416.86" cy="123.08" r="1.15" fill="#8e0152"/>
<circle cx="407.76" cy="109.45" r="1.15" fill="#b5136f"/>
<circle cx="432.14" cy="138.49" r="1.15" fill="#a6d068"/>
<circle cx="409.58" cy="119.52" r="1.15" fill="#e9a8cf"/>
<circle cx="429.54" cy="129.96" r="1.15" fill="#c51b7d"/>
<circle cx="413.02" cy="143.52" r="1.15" fill="#8e0152"/>
<circle cx="417.61" cy="106.19" r="1.15" fill="#9b0a5c"/>
<circle cx="410.08" cy="117.48" r="1.15" fill="#8e0152"/>
<circle cx="400.07" cy="129.36" r="1.15" fill="#b5136f"/>
<circle cx="418.65" cy="132.73" r="1.15" fill="#f1b6da"/>
<circle cx="435.05" cy="111.33" r="1.15" fill="#c6e09a"/>
<circle cx="405.91" cy="129.88" r="1.15" fill="#f1b6da"/>
<circle cx="427.21" cy="132.13" r="1.15" fill="#8e0152"/>
<circle cx="404.30" cy="105.27" r="1.15" fill="#9b0a5c"/>
<circle cx="394.90" cy="131.81" r="1.15" fill="#8e0152"/>
<circle cx="413.16" cy="114.15" r="1.15" fill="#f1b6da"/>
<circle cx="412.82" cy="137.02" r="1.15" fill="#8e0152"/>
<circle cx="414.65" cy="142.65" r="1.15" fill="#de77ae"/>
<circle cx="436.43" cy="128.44" r="1.15" fill="#9b0a5c"/>
<circle cx="418.00" cy="138.15" r="1.15" fill="#c6e09a"/>
<circle cx="420.46" cy="107.65" r="1.15" fill="#c6e09a"/>
<circle cx="425.51" cy="142.95" r="1.15" fill="#b5136f"/>
<circle cx="405.74" cy="127.09" r="1.15" fill="#4d9221"/>
<circle cx="422.15" cy="128.43" r="1.15" fill="#276419"/>
<circle cx="408.67" cy="126.02" r="1.15" fill="#b5136f"/>
<circle cx="435.68" cy="126.11" r="1.15" fill="#de77ae"/>
<circle cx="400.87" cy="126.98" r="1.15" fill="#276419"/>
<circle cx="427.53" cy="105.47" r="1.15" fill="#7fbc41"/>
<circle cx="432.96" cy="122.81" r="1.15" fill="#7fbc41"/>
<circle cx="403.00" cy="111.80" r="1.15" fill="#f1b6da"/>
<circle cx="430.97" cy="120.14" r="1.15" fill="#8e0152"/>
<circle cx="428.26" cy="110.01" r="1.15" fill="#3f7a22"/>
<circle cx="407.85" cy="105.59" r="1.15" fill="#c51b7d"/>
<circle cx="418.83" cy="125.26" r="1.15" fill="#c51b7d"/>
<circle cx="422.32" cy="138.79" r="1.15" fill="#9b0a5c"/>
<circle cx="432.26" cy="117.05" r="1.15" fill="#de77ae"/>
<circle cx="412.49" cy="108.73" r="1.15" fill="#b5136f"/>
<circle cx="420.09" cy="118.98" r="1.15" fill="#b5136f"/>
<circle cx="425.26" cy="115.33" r="1.15" fill="#6ca43a"/>
<circle cx="409.75" cy="130.42" r="1.15" fill="#7fbc41"/>
<circle cx="400.02" cy="112.40" r="1.15" fill="#3f7a22"/>
<circle cx="418.88" cy="131.05" r="1.15" fill="#de77ae"/>
<circle cx="398.71" cy="119.97" r="1.15" fill="#c51b7d"/>
<circle cx="414.03" cy="119.78" r="1.15" fill="#f1b6da"/>
<circle cx="396.25" cy="131.97" r="1.15" fill="#9b0a5c"/>
<circle cx="425.37" cy="112.83" r="1.15" fill="#de77ae"/>
<circle cx="417.87" cy="138.14" r="1.15" fill="#8e0152"/>
<circle cx="407.78" cy="111.74" r="1.15" fill="#de77ae"/>
<circle cx="433.26" cy="132.54" r="1.15" fill="#f1b6da"/>
<circle cx="427.55" cy="108.27" r="1.15" fill="#8e0152"/>
<circle cx="401.61" cy="122.32" r="1.15" fill="#de77ae"/>
<circle cx="421.19" cy="113.16" r="1.15" fill="#276419"/>
<circle cx="432.95" cy="133.90" r="1.15" fill="#b5136f"/>
<circle cx="414.87" cy="118.07" r="1.15" fill="#e9a8cf"/>
<circle cx="411.42" cy="106.45" r="1.15" fill="#6ca43a"/>
<circle cx="429.68" cy="139.95" r="1.15" fill="#f1b6da"/>
<circle cx="408.04" cy="110.39" r="1.15" fill="#3f7a22"/>
<circle cx="406.05" cy="120.89" r="1.15" fill="#8e0152"/>
<circle cx="421.45" cy="113.68" r="1.15" fill="#9b0a5c"/>
<circle cx="427.31" cy="134.11" r="1.15" fill="#c51b7d"/>
<circle cx="429.14" cy="118.94" r="1.15" fill="#b5136f"/>
<circle cx="436.78" cy="130.90" r="1.15" fill="#b5136f"/>
<circle cx="429.42" cy="114.30" r="1.15" fill="#8e0152"/>
<circle cx="406.72" cy="121.09" r="1.15" fill="#a6d068"/>
<circle cx="431.64" cy="132.94" r="1.15" fill="#8e0152"/>
<circle cx="413.28" cy="129.04" r="1.15" fill="#a6d068"/>
<circle cx="413.79" cy="119.05" r="1.15" fill="#6ca43a"/>
<circle cx="434.59" cy="124.26" r="1.15" fill="#de77ae"/>
<circle cx="400.12" cy="118.98" r="1.15" fill="#de77ae"/>
<circle cx="411.42" cy="114.54" r="1.15" fill="#3f7a22"/>
<circle cx="424.96" cy="123.82" r="1.15" fill="#9b0a5c"/>
<circle cx="439.16" cy="137.01" r="1.15" fill="#a6d068"/>
<circle cx="429.41" cy="130.52" r="1.15" fill="#c51b7d"/>
<circle cx="426.28" cy="141.34" r="1.15" fill="#b5136f"/>
<circle cx="427.93" cy="133.46" r="1.15" fill="#8e0152"/>
<circle cx="423.53" cy="139.54" r="1.15" fill="#b5136f"/>
<circle cx="422.20" cy="130.55" r="1.15" fill="#8e0152"/>
<circle cx="424.75" cy="133.98" r="1.15" fill="#b5136f"/>
<circle cx="431.60" cy="139.18" r="1.15" fill="#9b0a5c"/>
<circle cx="429.36" cy="137.98" r="1.15" fill="#f1b6da"/>
<circle cx="419.49" cy="137.03" r="1.15" fill="#276419"/>
<circle cx="431.64" cy="128.30" r="1.15" fill="#3f7a22"/>
<circle cx="440.23" cy="136.73" r="1.15" fill="#c51b7d"/>
<circle cx="429.32" cy="130.48" r="1.15" fill="#8e0152"/>
<circle cx="430.21" cy="140.79" r="1.15" fill="#4d9221"/>
<circle cx="434.16" cy="128.49" r="1.15" fill="#e9a8cf"/>
<circle cx="425.60" cy="141.95" r="1.15" fill="#b5136f"/>
<circle cx="421.01" cy="137.21" r="1.15" fill="#6ca43a"/>
<circle cx="437.99" cy="138.09" r="1.15" fill="#6ca43a"/>
<circle cx="432.75" cy="127.71" r="1.15" fill="#8e0152"/>
<circle cx="424.94" cy="130.92" r="1.15" fill="#f1b6da"/>
<circle cx="424.40" cy="137.78" r="1.15" fill="#8e0152"/>
<circle cx="419.77" cy="133.74" r="1.15" fill="#9b0a5c"/>
<circle cx="428.24" cy="136.08" r="1.15" fill="#c51b7d"/>
<circle cx="425.65" cy="140.00" r="1.15" fill="#c51b7d"/>
<circle cx="439.61" cy="133.19" r="1.15" fill="#276419"/>
<circle cx="428.59" cy="141.21" r="1.15" fill="#9b0a5c"/>
<circle cx="436.82" cy="132.05" r="1.15" fill="#b5136f"/>
<circle cx="418.67" cy="135.62" r="1.15" fill="#c51b7d"/>
<circle cx="422.99" cy="130.12" r="1.15" fill="#de77ae"/>
<circle cx="427.15" cy="133.65" r="1.15" fill="#e9a8cf"/>
<circle cx="435.22" cy="138.32" r="1.15" fill="#3f7a22"/>
<circle cx="436.57" cy="139.65" r="1.15" fill="#c51b7d"/>
<circle cx="427.53" cy="132.73" r="1.15" fill="#276419"/>
<circle cx="427.09" cy="135.55" r="1.15" fill="#3f7a22"/>
<circle cx="429.38" cy="136.26" r="1.15" fill="#c6e09a"/>
<circle cx="414.09" cy="147.45" r="1.15" fill="#c51b7d"/>
<circle cx="404.49" cy="147.56" r="1.15" fill="#de77ae"/>
<circle cx="407.25" cy="154.59" r="1.15" fill="#276419"/>
<circle cx="408.94" cy="151.25" r="1.15" fill="#c51b7d"/>
<circle cx="395.38" cy="154.19" r="1.15" fill="#c6e09a"/>
<circle cx="397.60" cy="150.01" r="1.15" fill="#b5136f"/>
<circle cx="416.57" cy="153.63" r="1.15" fill="#c51b7d"/>
<circle cx="398.30" cy="152.15" r="1.15" fill="#c51b7d"/>
<circle cx="404.34" cy="152.06" r="1.15" fill="#7fbc41"/>
<circle cx="400.39" cy="146.86" r="1.15" fill="#6ca43a"/>
<circle cx="406.24" cy="150.77" r="1.15" fill="#b5136f"/>
<circle cx="407.63" cy="153.57" r="1.15" fill="#e9a8cf"/>
<circle cx="403.63" cy="158.93" r="1.15" fill="#de77ae"/>
<circle cx="398.30" cy="153.40" r="1.15" fill="#6ca43a"/>
<circle cx="414.34" cy="154.75" r="1.15" fill="#7fbc41"/>
<circle cx="396.76" cy="153.34" r="1.15" fill="#4d9221"/>
<circle cx="403.28" cy="147.34" r="1.15" fill="#8e0152"/>
<circle cx="411.58" cy="153.79" r="1.15" fill="#c51b7d"/>
<circle cx="400.68" cy="151.82" r="1.15" fill="#c6e09a"/>
<circle cx="395.53" cy="150.90" r="1.15" fill="#8e0152"/>
<circle cx="407.05" cy="153.87" r="1.15" fill="#276419"/>
<circle cx="415.18" cy="156.16" r="1.15" fill="#8e0152"/>
<circle cx="411.08" cy="153.12" r="1.15" fill="#c51b7d"/>
<circle cx="398.32" cy="154.97" r="1.15" fill="#c6e09a"/>
<circle cx="416.36" cy="155.37" r="1.15" fill="#c51b7d"/>
<circle cx="413.44" cy="158.54" r="1.15" fill="#e9a8cf"/>
<circle cx="411.51" cy="146.27" r="1.15" fill="#c51b7d"/>
<circle cx="407.73" cy="154.33" r="1.15" fill="#f1b6da"/>
<circle cx="415.02" cy="156.32" r="1.15" fill="#9b0a5c"/>
<circle cx="414.40" cy="149.61" r="1.15" fill="#8e0152"/>
<circle cx="413.53" cy="149.36" r="1.15" fill="#6ca43a"/>
<circle cx="403.67" cy="154.10" r="1.15" fill="#b5136f"/>
<circle cx="404.28" cy="144.26" r="1.15" fill="#8e0152"/>
<circle cx="400.82" cy="162.42" r="1.15" fill="#c51b7d"/>
<circle cx="415.05" cy="149.34" r="1.15" fill="#f1b6da"/>
<circle cx="404.06" cy="159.75" r="1.15" fill="#8e0152"/>
<circle cx="397.34" cy="154.40" r="1.15" fill="#4d9221"/>
<circle cx="395.95" cy="153.09" r="1.15" fill="#3f7a22"/>
<circle cx="417.36" cy="152.00" r="1.15" fill="#c6e09a"/>
<circle cx="398.22" cy="147.89" r="1.15" fill="#9b0a5c"/>
<circle cx="410.77" cy="147.58" r="1.15" fill="#7fbc41"/>
<circle cx="397.69" cy="156.25" r="1.15" fill="#e9a8cf"/>
<circle cx="403.21" cy="163.24" r="1.15" fill="#a6d068"/>
<circle cx="395.80" cy="154.33" r="1.15" fill="#f1b6da"/>
<circle cx="398.47" cy="160.61" r="1.15" fill="#c6e09a"/>
<circle cx="404.79" cy="153.54" r="1.15" fill="#3f7a22"/>
<circle cx="415.21" cy="151.82" r="1.15" fill="#8e0152"/>
<circle cx="407.69" cy="160.18" r="1.15" fill="#276419"/>
<circle cx="409.76" cy="160.20" r="1.15" fill="#f1b6da"/>
<circle cx="409.98" cy="156.52" r="1.15" fill="#de77ae"/>
<circle cx="403.20" cy="146.43" r="1.15" fill="#8e0152"/>
<circle cx="409.53" cy="159.83" r="1.15" fill="#8e0152"/>
<circle cx="401.54" cy="162.42" r="1.15" fill="#e9a8cf"/>
<circle cx="400.30" cy="161.30" r="1.15" fill="#c6e09a"/>
<circle cx="407.71" cy="160.43" r="1.15" fill="#c6e09a"/>
<circle cx="399.44" cy="148.56" r="1.15" fill="#9b0a5c"/>
<circle cx="397.94" cy="149.98" r="1.15" fill="#276419"/>
<circle cx="406.48" cy="154.26" r="1.15" fill="#b5136f"/>
<circle cx="407.86" cy="156.74" r="1.15" fill="#a6d068"/>
<circle cx="415.12" cy="156.70" r="1.15" fill="#6ca43a"/>
<circle cx="403.75" cy="154.22" r="1.15" fill="#c6e09a"/>
<circle cx="402.00" cy="147.90" r="1.15" fill="#f1b6da"/>
<circle cx="401.49" cy="148.28" r="1.15" fill="#8e0152"/>
<circle cx="403.83" cy="155.63" r="1.15" fill="#a6d068"/>
<circle cx="416.73" cy="154.73" r="1.15" fill="#c51b7d"/>
<circle cx="403.29" cy="156.12" r="1.15" fill="#c6e09a"/>
<circle cx="404.17" cy="155.89" r="1.15" fill="#4d9221"/>
<circle cx="385.27" cy="141.77" r="1.15" fill="#b5136f"/>
<circle cx="380.70" cy="137.53" r="1.15" fill="#f1b6da"/>
<circle cx="377.56" cy="136.62" r="1.15" fill="#276419"/>
<circle cx="378.26" cy="141.00" r="1.15" fill="#9b0a5c"/>
<circle cx="384.47" cy="140.71" r="1.15" fill="#4d9221"/>
<circle cx="376.46" cy="138.20" r="1.15" fill="#4d9221"/>
<circle cx="384.91" cy="136.14" r="1.15" fill="#a6d068"/>
<circle cx="383.20" cy="134.68" r="1.15" fill="#a6d068"/>
<circle cx="384.82" cy="139.21" r="1.15" fill="#3f7a22"/>
<circle cx="384.79" cy="134.68" r="1.15" fill="#b5136f"/>
<circle cx="383.37" cy="137.28" r="1.15" fill="#a6d068"/>
<circle cx="383.05" cy="140.06" r="1.15" fill="#f1b6da"/>
<circle cx="382.62" cy="141.54" r="1.15" fill="#7fbc41"/>
<circle cx="377.90" cy="138.27" r="1.15" fill="#a6d068"/>
<circle cx="385.60" cy="135.75" r="1.15" fill="#e9a8cf"/>
<circle cx="377.60" cy="138.30" r="1.15" fill="#c51b7d"/>
<circle cx="383.24" cy="141.39" r="1.15" fill="#c51b7d"/>
<circle cx="384.76" cy="136.25" r="1.15" fill="#e9a8cf"/>
<circle cx="380.25" cy="141.07" r="1.15" fill="#a6d068"/>
<circle cx="365.94" cy="123.25" r="1.15" fill="#7fbc41"/>
<circle cx="365.76" cy="123.27" r="1.15" fill="#b5136f"/>
<circle cx="368.36" cy="132.34" r="1.15" fill="#de77ae"/>
<circle cx="366.34" cy="126.08" r="1.15" fill="#c51b7d"/>
<circle cx="366.01" cy="125.89" r="1.15" fill="#e9a8cf"/>
<circle cx="367.36" cy="127.45" r="1.15" fill="#9b0a5c"/>
<circle cx="369.25" cy="131.55" r="1.15" fill="#de77ae"/>
<circle cx="366.56" cy="125.58" r="1.15" fill="#a6d068"/>
<circle cx="372.14" cy="133.31" r="1.15" fill="#c51b7d"/>
<circle cx="367.47" cy="131.76" r="1.15" fill="#de77ae"/>
<circle cx="368.08" cy="129.94" r="1.15" fill="#4d9221"/>
<circle cx="366.01" cy="126.17" r="1.15" fill="#a6d068"/>
<circle cx="371.99" cy="130.51" r="1.15" fill="#9b0a5c"/>
<circle cx="369.79" cy="136.67" r="1.15" fill="#9b0a5c"/>
<circle cx="372.27" cy="137.92" r="1.15" fill="#c6e09a"/>
<circle cx="366.71" cy="126.18" r="1.15" fill="#7fbc41"/>
<circle cx="364.17" cy="124.54" r="1.15" fill="#e9a8cf"/>
<circle cx="370.05" cy="132.36" r="1.15" fill="#a6d068"/>
<circle cx="365.35" cy="122.90" r="1.15" fill="#8e0152"/>
<circle cx="371.91" cy="137.07" r="1.15" fill="#7fbc41"/>
<circle cx="361.55" cy="125.49" r="1.15" fill="#8e0152"/>
<circle cx="365.11" cy="125.57" r="1.15" fill="#6ca43a"/>
<circle cx="369.65" cy="130.65" r="1.15" fill="#6ca43a"/>
<circle cx="364.93" cy="121.70" r="1.15" fill="#a6d068"/>
</g>
<circle cx="335" cy="46" r="12.4" fill="none" stroke="#222" stroke-width="1.1" stroke-dasharray="3.5 2.9"/>
<circle cx="417" cy="120" r="28.4" fill="none" stroke="#222" stroke-width="1.1" stroke-dasharray="3.6 2.8"/>
<text x="7.40" y="189.70" font-size="11.2" fill="#000" text-anchor="start" font-weight="bold">C</text>
<text x="48.50" y="201.00" font-size="9" fill="#222" text-anchor="start" font-weight="normal" stroke="#222" stroke-width="0.24">Most abundant taxon</text>
<g>
<circle cx="65.63" cy="236.15" r="1.45" fill="#4a9050"/>
<circle cx="67.19" cy="239.42" r="1.45" fill="#4a9050"/>
<circle cx="68.02" cy="240.25" r="1.45" fill="#4a9050"/>
<circle cx="70.68" cy="233.02" r="1.45" fill="#4a9050"/>
<circle cx="64.48" cy="239.43" r="1.45" fill="#4a9050"/>
<circle cx="68.29" cy="238.82" r="1.45" fill="#4a9050"/>
<circle cx="66.28" cy="232.11" r="1.45" fill="#4a9050"/>
<circle cx="63.83" cy="230.56" r="1.45" fill="#4a9050"/>
<circle cx="66.68" cy="234.43" r="1.45" fill="#4a9050"/>
<circle cx="65.02" cy="232.21" r="1.45" fill="#4a9050"/>
<circle cx="65.54" cy="230.56" r="1.45" fill="#4a9050"/>
<circle cx="69.29" cy="233.52" r="1.45" fill="#4a9050"/>
<circle cx="63.19" cy="235.07" r="1.45" fill="#4a9050"/>
<circle cx="66.73" cy="243.10" r="1.45" fill="#4a9050"/>
<circle cx="64.98" cy="235.91" r="1.45" fill="#4a9050"/>
<circle cx="65.22" cy="242.23" r="1.45" fill="#4a9050"/>
<circle cx="66.19" cy="231.61" r="1.45" fill="#4a9050"/>
<circle cx="65.27" cy="239.26" r="1.45" fill="#4a9050"/>
<circle cx="64.16" cy="229.53" r="1.45" fill="#4a9050"/>
<circle cx="65.26" cy="240.81" r="1.45" fill="#4a9050"/>
<circle cx="67.72" cy="233.24" r="1.45" fill="#4a9050"/>
<circle cx="65.70" cy="230.65" r="1.45" fill="#4a9050"/>
<circle cx="66.02" cy="238.48" r="1.45" fill="#4a9050"/>
<circle cx="64.10" cy="234.77" r="1.45" fill="#4a9050"/>
<circle cx="66.06" cy="233.43" r="1.45" fill="#4a9050"/>
<circle cx="68.60" cy="236.51" r="1.45" fill="#4a9050"/>
<circle cx="65.40" cy="238.60" r="1.45" fill="#4a9050"/>
<circle cx="63.12" cy="241.73" r="1.45" fill="#4a9050"/>
<circle cx="66.05" cy="236.29" r="1.45" fill="#4a9050"/>
<circle cx="67.52" cy="231.73" r="1.45" fill="#4a9050"/>
<circle cx="62.90" cy="236.77" r="1.45" fill="#4a9050"/>
<circle cx="67.16" cy="236.98" r="1.45" fill="#4a9050"/>
<circle cx="63.06" cy="229.60" r="1.45" fill="#4a9050"/>
<circle cx="67.67" cy="232.51" r="1.45" fill="#4a9050"/>
<circle cx="60.16" cy="242.64" r="1.45" fill="#4a9050"/>
<circle cx="62.46" cy="242.03" r="1.45" fill="#4a9050"/>
<circle cx="58.75" cy="240.82" r="1.45" fill="#4a9050"/>
<circle cx="61.20" cy="242.04" r="1.45" fill="#4a9050"/>
<circle cx="72.38" cy="243.92" r="1.45" fill="#4a9050"/>
<circle cx="73.50" cy="244.23" r="1.45" fill="#4a9050"/>
<circle cx="80.34" cy="247.45" r="1.45" fill="#4a9050"/>
<circle cx="72.87" cy="244.38" r="1.45" fill="#4a9050"/>
<circle cx="74.65" cy="244.18" r="1.45" fill="#4a9050"/>
<circle cx="77.71" cy="246.23" r="1.45" fill="#4a9050"/>
<circle cx="72.13" cy="244.36" r="1.45" fill="#4a9050"/>
<circle cx="81.88" cy="245.04" r="1.45" fill="#4a9050"/>
<circle cx="72.30" cy="246.04" r="1.45" fill="#4a9050"/>
<circle cx="80.81" cy="246.23" r="1.45" fill="#4a9050"/>
<circle cx="69.38" cy="244.25" r="1.45" fill="#4a9050"/>
<circle cx="78.87" cy="245.66" r="1.45" fill="#4a9050"/>
<circle cx="57.00" cy="243.00" r="1.45" fill="#3a4ca6"/>
<circle cx="74.50" cy="240.00" r="1.45" fill="#98865a"/>
<circle cx="46.42" cy="273.72" r="1.45" fill="#3a4ca6"/>
<circle cx="51.51" cy="275.14" r="1.45" fill="#3a4ca6"/>
<circle cx="50.44" cy="276.90" r="1.45" fill="#3a4ca6"/>
<circle cx="42.51" cy="271.92" r="1.45" fill="#3a4ca6"/>
<circle cx="47.46" cy="273.02" r="1.45" fill="#3a4ca6"/>
<circle cx="44.68" cy="275.96" r="1.45" fill="#3a4ca6"/>
<circle cx="47.03" cy="274.62" r="1.45" fill="#3a4ca6"/>
<circle cx="48.98" cy="275.07" r="1.45" fill="#3a4ca6"/>
<circle cx="47.10" cy="275.40" r="1.45" fill="#3a4ca6"/>
<circle cx="46.73" cy="270.09" r="1.45" fill="#3a4ca6"/>
<circle cx="48.80" cy="276.63" r="1.45" fill="#3a4ca6"/>
<circle cx="49.88" cy="276.66" r="1.45" fill="#3a4ca6"/>
<circle cx="46.43" cy="276.42" r="1.45" fill="#3a4ca6"/>
<circle cx="50.08" cy="272.41" r="1.45" fill="#3a4ca6"/>
<circle cx="49.79" cy="273.15" r="1.45" fill="#3a4ca6"/>
<circle cx="48.64" cy="272.66" r="1.45" fill="#3a4ca6"/>
<circle cx="53.10" cy="276.48" r="1.45" fill="#3a4ca6"/>
<circle cx="45.52" cy="272.16" r="1.45" fill="#3a4ca6"/>
<circle cx="42.69" cy="272.62" r="1.45" fill="#3a4ca6"/>
<circle cx="46.78" cy="276.11" r="1.45" fill="#3a4ca6"/>
<circle cx="60.00" cy="283.46" r="1.45" fill="#3a4ca6"/>
<circle cx="56.25" cy="282.55" r="1.45" fill="#3a4ca6"/>
<circle cx="61.02" cy="285.34" r="1.45" fill="#3a4ca6"/>
<circle cx="53.29" cy="277.17" r="1.45" fill="#3a4ca6"/>
<circle cx="51.85" cy="279.18" r="1.45" fill="#3a4ca6"/>
<circle cx="58.22" cy="284.07" r="1.45" fill="#3a4ca6"/>
<circle cx="53.17" cy="284.66" r="1.45" fill="#3a4ca6"/>
<circle cx="62.45" cy="279.45" r="1.45" fill="#3a4ca6"/>
<circle cx="58.33" cy="281.65" r="1.45" fill="#3a4ca6"/>
<circle cx="52.51" cy="278.28" r="1.45" fill="#3a4ca6"/>
<circle cx="58.11" cy="281.42" r="1.45" fill="#3a4ca6"/>
<circle cx="57.23" cy="283.78" r="1.45" fill="#3a4ca6"/>
<circle cx="61.95" cy="282.94" r="1.45" fill="#3a4ca6"/>
<circle cx="63.73" cy="278.17" r="1.45" fill="#3a4ca6"/>
<circle cx="57.14" cy="277.10" r="1.45" fill="#3a4ca6"/>
<circle cx="55.71" cy="281.99" r="1.45" fill="#3a4ca6"/>
<circle cx="61.13" cy="278.02" r="1.45" fill="#3a4ca6"/>
<circle cx="61.60" cy="285.36" r="1.45" fill="#3a4ca6"/>
<circle cx="53.26" cy="280.63" r="1.45" fill="#3a4ca6"/>
<circle cx="63.32" cy="277.68" r="1.45" fill="#3a4ca6"/>
<circle cx="57.59" cy="279.99" r="1.45" fill="#3a4ca6"/>
<circle cx="59.70" cy="276.36" r="1.45" fill="#3a4ca6"/>
<circle cx="60.15" cy="283.84" r="1.45" fill="#3a4ca6"/>
<circle cx="61.53" cy="281.24" r="1.45" fill="#3a4ca6"/>
<circle cx="59.86" cy="283.27" r="1.45" fill="#3a4ca6"/>
<circle cx="54.39" cy="283.66" r="1.45" fill="#3a4ca6"/>
<circle cx="54.86" cy="282.97" r="1.45" fill="#3a4ca6"/>
<circle cx="62.68" cy="283.01" r="1.45" fill="#3a4ca6"/>
<circle cx="56.58" cy="282.99" r="1.45" fill="#3a4ca6"/>
<circle cx="56.40" cy="280.39" r="1.45" fill="#3a4ca6"/>
<circle cx="59.01" cy="276.80" r="1.45" fill="#3a4ca6"/>
<circle cx="54.78" cy="278.38" r="1.45" fill="#3a4ca6"/>
<circle cx="60.33" cy="276.39" r="1.45" fill="#3a4ca6"/>
<circle cx="57.91" cy="281.89" r="1.45" fill="#3a4ca6"/>
<circle cx="48.50" cy="268.50" r="1.45" fill="#6e1428"/>
<circle cx="54.00" cy="275.00" r="1.45" fill="#d83a28"/>
<circle cx="60.32" cy="286.06" r="1.45" fill="#a2b444"/>
<circle cx="62.36" cy="292.13" r="1.45" fill="#a8bb48"/>
<circle cx="59.58" cy="285.86" r="1.45" fill="#a8bb48"/>
<circle cx="64.41" cy="296.78" r="1.45" fill="#a2b444"/>
<circle cx="63.04" cy="292.54" r="1.45" fill="#a8bb48"/>
<circle cx="60.46" cy="296.58" r="1.45" fill="#a8bb48"/>
<circle cx="57.97" cy="283.98" r="1.45" fill="#a8bb48"/>
<circle cx="62.57" cy="288.54" r="1.45" fill="#a2b444"/>
<circle cx="61.50" cy="298.12" r="1.45" fill="#a2b444"/>
<circle cx="60.87" cy="285.11" r="1.45" fill="#a8bb48"/>
<circle cx="59.42" cy="287.88" r="1.45" fill="#a2b444"/>
<circle cx="60.04" cy="294.99" r="1.45" fill="#a8bb48"/>
<circle cx="60.83" cy="284.05" r="1.45" fill="#a2b444"/>
<circle cx="60.09" cy="291.65" r="1.45" fill="#a2b444"/>
<circle cx="71.80" cy="293.02" r="1.45" fill="#6e1428"/>
<circle cx="70.38" cy="293.59" r="1.45" fill="#6e1428"/>
<circle cx="71.53" cy="293.29" r="1.45" fill="#6e1428"/>
<circle cx="70.35" cy="294.46" r="1.45" fill="#c79090"/>
<circle cx="72.42" cy="291.98" r="1.45" fill="#b898c0"/>
<circle cx="68.37" cy="291.28" r="1.45" fill="#6e1428"/>
<circle cx="65.00" cy="295.50" r="1.45" fill="#6e1428"/>
<circle cx="67.00" cy="297.50" r="1.45" fill="#9a70a0"/>
<circle cx="64.50" cy="291.50" r="1.45" fill="#6e1428"/>
<circle cx="51.28" cy="301.43" r="1.45" fill="#4a9050"/>
<circle cx="53.56" cy="302.75" r="1.45" fill="#4a9050"/>
<circle cx="54.22" cy="305.44" r="1.45" fill="#4a9050"/>
<circle cx="53.41" cy="302.21" r="1.45" fill="#4a9050"/>
<circle cx="52.21" cy="307.75" r="1.45" fill="#4a9050"/>
<circle cx="55.14" cy="307.56" r="1.45" fill="#4a9050"/>
<circle cx="72.66" cy="320.29" r="1.45" fill="#a8bb48"/>
<circle cx="83.54" cy="315.53" r="1.45" fill="#a2b444"/>
<circle cx="81.42" cy="320.73" r="1.45" fill="#a8bb48"/>
<circle cx="66.50" cy="320.91" r="1.45" fill="#a8bb48"/>
<circle cx="65.73" cy="323.69" r="1.45" fill="#a2b444"/>
<circle cx="56.38" cy="322.48" r="1.45" fill="#a2b444"/>
<circle cx="42.88" cy="318.03" r="1.45" fill="#a8bb48"/>
<circle cx="82.45" cy="316.83" r="1.45" fill="#a8bb48"/>
<circle cx="86.13" cy="320.32" r="1.45" fill="#a2b444"/>
<circle cx="43.23" cy="324.29" r="1.45" fill="#a2b444"/>
<circle cx="86.80" cy="316.88" r="1.45" fill="#a8bb48"/>
<circle cx="82.50" cy="317.90" r="1.45" fill="#a2b444"/>
<circle cx="43.50" cy="322.49" r="1.45" fill="#a8bb48"/>
<circle cx="42.60" cy="321.39" r="1.45" fill="#a2b444"/>
<circle cx="53.24" cy="316.91" r="1.45" fill="#a2b444"/>
<circle cx="64.07" cy="325.14" r="1.45" fill="#a8bb48"/>
<circle cx="69.71" cy="320.88" r="1.45" fill="#a8bb48"/>
<circle cx="79.28" cy="318.74" r="1.45" fill="#a8bb48"/>
<circle cx="84.94" cy="317.99" r="1.45" fill="#a8bb48"/>
<circle cx="87.85" cy="317.26" r="1.45" fill="#a8bb48"/>
<circle cx="79.66" cy="324.05" r="1.45" fill="#a2b444"/>
<circle cx="55.27" cy="317.30" r="1.45" fill="#a2b444"/>
<circle cx="58.47" cy="319.55" r="1.45" fill="#a8bb48"/>
<circle cx="61.75" cy="317.85" r="1.45" fill="#a8bb48"/>
<circle cx="78.18" cy="315.66" r="1.45" fill="#a2b444"/>
<circle cx="43.49" cy="321.37" r="1.45" fill="#a8bb48"/>
<circle cx="57.35" cy="322.69" r="1.45" fill="#a2b444"/>
<circle cx="85.53" cy="321.24" r="1.45" fill="#a2b444"/>
<circle cx="59.28" cy="318.75" r="1.45" fill="#a8bb48"/>
<circle cx="42.43" cy="327.73" r="1.45" fill="#a2b444"/>
<circle cx="46.48" cy="323.49" r="1.45" fill="#a2b444"/>
<circle cx="54.09" cy="325.12" r="1.45" fill="#a2b444"/>
<circle cx="47.12" cy="324.77" r="1.45" fill="#a8bb48"/>
<circle cx="43.36" cy="322.68" r="1.45" fill="#a2b444"/>
<circle cx="83.85" cy="319.80" r="1.45" fill="#a8bb48"/>
<circle cx="84.90" cy="320.38" r="1.45" fill="#a8bb48"/>
<circle cx="46.56" cy="321.33" r="1.45" fill="#a2b444"/>
<circle cx="59.78" cy="323.43" r="1.45" fill="#a2b444"/>
<circle cx="73.71" cy="322.21" r="1.45" fill="#a2b444"/>
<circle cx="85.32" cy="316.97" r="1.45" fill="#a2b444"/>
<circle cx="88.69" cy="314.18" r="1.45" fill="#a8bb48"/>
<circle cx="74.34" cy="317.01" r="1.45" fill="#a2b444"/>
<circle cx="73.73" cy="322.64" r="1.45" fill="#a2b444"/>
<circle cx="61.23" cy="318.02" r="1.45" fill="#a2b444"/>
<circle cx="63.88" cy="323.22" r="1.45" fill="#a2b444"/>
<circle cx="87.22" cy="316.80" r="1.45" fill="#a2b444"/>
<circle cx="46.40" cy="320.78" r="1.45" fill="#a2b444"/>
<circle cx="75.14" cy="315.99" r="1.45" fill="#a8bb48"/>
<circle cx="49.08" cy="318.46" r="1.45" fill="#a8bb48"/>
<circle cx="62.66" cy="318.45" r="1.45" fill="#a8bb48"/>
<circle cx="47.25" cy="321.21" r="1.45" fill="#a8bb48"/>
<circle cx="57.73" cy="314.50" r="1.45" fill="#a2b444"/>
<circle cx="60.02" cy="321.75" r="1.45" fill="#a2b444"/>
<circle cx="71.62" cy="322.68" r="1.45" fill="#a2b444"/>
<circle cx="70.96" cy="319.06" r="1.45" fill="#a8bb48"/>
<circle cx="53.68" cy="320.99" r="1.45" fill="#a8bb48"/>
<circle cx="65.22" cy="323.90" r="1.45" fill="#a8bb48"/>
<circle cx="78.95" cy="319.65" r="1.45" fill="#a2b444"/>
<circle cx="59.27" cy="320.57" r="1.45" fill="#a2b444"/>
<circle cx="85.16" cy="322.25" r="1.45" fill="#a8bb48"/>
<circle cx="71.19" cy="318.30" r="1.45" fill="#a2b444"/>
<circle cx="83.51" cy="321.28" r="1.45" fill="#a2b444"/>
<circle cx="46.19" cy="320.35" r="1.45" fill="#a8bb48"/>
<circle cx="47.20" cy="317.71" r="1.45" fill="#a8bb48"/>
<circle cx="86.92" cy="316.96" r="1.45" fill="#a8bb48"/>
<circle cx="45.50" cy="321.26" r="1.45" fill="#a8bb48"/>
<circle cx="67.76" cy="318.68" r="1.45" fill="#a2b444"/>
<circle cx="50.97" cy="320.43" r="1.45" fill="#a8bb48"/>
<circle cx="73.74" cy="317.91" r="1.45" fill="#a8bb48"/>
<circle cx="53.22" cy="324.62" r="1.45" fill="#a8bb48"/>
<circle cx="74.05" cy="319.68" r="1.45" fill="#a2b444"/>
<circle cx="47.14" cy="320.38" r="1.45" fill="#a8bb48"/>
<circle cx="46.73" cy="324.25" r="1.45" fill="#a8bb48"/>
<circle cx="82.74" cy="318.73" r="1.45" fill="#a8bb48"/>
<circle cx="49.45" cy="323.26" r="1.45" fill="#a8bb48"/>
<circle cx="76.67" cy="315.17" r="1.45" fill="#a2b444"/>
<circle cx="46.43" cy="327.32" r="1.45" fill="#a2b444"/>
<circle cx="55.37" cy="321.87" r="1.45" fill="#a8bb48"/>
<circle cx="64.99" cy="319.50" r="1.45" fill="#a2b444"/>
<circle cx="71.94" cy="313.19" r="1.45" fill="#a2b444"/>
<circle cx="64.33" cy="320.26" r="1.45" fill="#a2b444"/>
<circle cx="62.80" cy="326.77" r="1.45" fill="#a2b444"/>
<circle cx="83.27" cy="320.11" r="1.45" fill="#a2b444"/>
<circle cx="79.72" cy="318.09" r="1.45" fill="#a8bb48"/>
<circle cx="74.89" cy="320.80" r="1.45" fill="#a8bb48"/>
<circle cx="64.45" cy="315.64" r="1.45" fill="#a2b444"/>
<circle cx="64.91" cy="305.15" r="1.45" fill="#a8bb48"/>
<circle cx="61.96" cy="314.03" r="1.45" fill="#a2b444"/>
<circle cx="62.30" cy="305.74" r="1.45" fill="#a2b444"/>
<circle cx="65.58" cy="306.70" r="1.45" fill="#a2b444"/>
<circle cx="64.74" cy="312.48" r="1.45" fill="#a8bb48"/>
<circle cx="63.31" cy="310.79" r="1.45" fill="#a2b444"/>
<circle cx="65.10" cy="306.57" r="1.45" fill="#a8bb48"/>
<circle cx="66.87" cy="313.96" r="1.45" fill="#a2b444"/>
<circle cx="62.39" cy="313.59" r="1.45" fill="#a8bb48"/>
<circle cx="74.17" cy="310.57" r="1.45" fill="#a2b444"/>
<circle cx="70.60" cy="313.14" r="1.45" fill="#a2b444"/>
<circle cx="71.67" cy="311.26" r="1.45" fill="#a2b444"/>
<circle cx="68.81" cy="313.10" r="1.45" fill="#a2b444"/>
<circle cx="72.82" cy="311.57" r="1.45" fill="#a8bb48"/>
<circle cx="73.77" cy="314.55" r="1.45" fill="#a8bb48"/>
<circle cx="68.80" cy="313.74" r="1.45" fill="#a2b444"/>
<circle cx="101.29" cy="321.49" r="1.45" fill="#a2b444"/>
<circle cx="110.12" cy="334.84" r="1.45" fill="#c79090"/>
<circle cx="100.27" cy="329.14" r="1.45" fill="#a8bb48"/>
<circle cx="102.46" cy="322.06" r="1.45" fill="#a8bb48"/>
<circle cx="101.84" cy="330.11" r="1.45" fill="#a2b444"/>
<circle cx="102.48" cy="321.52" r="1.45" fill="#a2b444"/>
<circle cx="101.62" cy="325.85" r="1.45" fill="#a8bb48"/>
<circle cx="112.56" cy="330.37" r="1.45" fill="#a8bb48"/>
<circle cx="99.37" cy="324.42" r="1.45" fill="#a2b444"/>
<circle cx="108.18" cy="333.23" r="1.45" fill="#a2b444"/>
<circle cx="100.84" cy="324.89" r="1.45" fill="#a8bb48"/>
<circle cx="108.67" cy="330.84" r="1.45" fill="#a2b444"/>
<circle cx="109.57" cy="327.09" r="1.45" fill="#a2b444"/>
<circle cx="112.58" cy="330.59" r="1.45" fill="#e2a8a8"/>
<circle cx="108.42" cy="332.50" r="1.45" fill="#a2b444"/>
<circle cx="104.29" cy="322.69" r="1.45" fill="#bdbdbd"/>
<circle cx="99.08" cy="313.72" r="1.45" fill="#a2b444"/>
<circle cx="97.41" cy="325.67" r="1.45" fill="#a8bb48"/>
<circle cx="101.18" cy="325.20" r="1.45" fill="#a8bb48"/>
<circle cx="103.71" cy="326.70" r="1.45" fill="#a2b444"/>
<circle cx="113.55" cy="333.16" r="1.45" fill="#a8bb48"/>
<circle cx="106.01" cy="322.91" r="1.45" fill="#a2b444"/>
<circle cx="110.75" cy="331.79" r="1.45" fill="#a2b444"/>
<circle cx="100.51" cy="324.37" r="1.45" fill="#a8bb48"/>
<circle cx="96.13" cy="303.86" r="1.45" fill="#e8b4b4"/>
<circle cx="94.82" cy="306.71" r="1.45" fill="#c79090"/>
<circle cx="96.52" cy="306.19" r="1.45" fill="#e2a8a8"/>
<circle cx="96.70" cy="305.79" r="1.45" fill="#e2a8a8"/>
<circle cx="88.41" cy="275.60" r="1.45" fill="#6e1428"/>
<circle cx="88.09" cy="278.48" r="1.45" fill="#6e1428"/>
<circle cx="91.96" cy="274.85" r="1.45" fill="#6e1428"/>
<circle cx="89.17" cy="274.35" r="1.45" fill="#ece43a"/>
<circle cx="89.18" cy="276.08" r="1.45" fill="#6e1428"/>
<circle cx="91.95" cy="276.88" r="1.45" fill="#d83a28"/>
<circle cx="84.10" cy="275.65" r="1.45" fill="#ece43a"/>
<circle cx="89.89" cy="278.56" r="1.45" fill="#d83a28"/>
<circle cx="88.39" cy="276.10" r="1.45" fill="#ece43a"/>
<circle cx="84.12" cy="274.63" r="1.45" fill="#d83a28"/>
<circle cx="91.34" cy="275.12" r="1.45" fill="#ece43a"/>
<circle cx="87.99" cy="274.98" r="1.45" fill="#d83a28"/>
<circle cx="91.04" cy="277.55" r="1.45" fill="#7e6e48"/>
<circle cx="91.96" cy="278.62" r="1.45" fill="#d83a28"/>
<circle cx="92.96" cy="280.42" r="1.45" fill="#6e1428"/>
<circle cx="95.43" cy="276.72" r="1.45" fill="#b0b0b0"/>
<circle cx="95.86" cy="278.78" r="1.45" fill="#d83a28"/>
<circle cx="94.86" cy="280.46" r="1.45" fill="#8cc8b8"/>
<circle cx="91.63" cy="277.52" r="1.45" fill="#d83a28"/>
<circle cx="92.06" cy="274.41" r="1.45" fill="#ece43a"/>
<circle cx="96.30" cy="280.78" r="1.45" fill="#9a3535"/>
<circle cx="92.90" cy="277.54" r="1.45" fill="#b898c0"/>
<circle cx="100.20" cy="280.30" r="1.45" fill="#b0b0b0"/>
<circle cx="103.21" cy="280.90" r="1.45" fill="#dd9c9c"/>
<circle cx="99.47" cy="283.82" r="1.45" fill="#b0b0b0"/>
<circle cx="103.89" cy="285.19" r="1.45" fill="#6cb0a0"/>
<circle cx="101.59" cy="279.51" r="1.45" fill="#9a70a0"/>
<circle cx="103.43" cy="283.94" r="1.45" fill="#c79090"/>
<circle cx="104.01" cy="285.34" r="1.45" fill="#e8b4b4"/>
<circle cx="102.97" cy="285.18" r="1.45" fill="#8a6a98"/>
<circle cx="106.86" cy="281.16" r="1.45" fill="#dd9c9c"/>
<circle cx="99.08" cy="281.52" r="1.45" fill="#ece43a"/>
<circle cx="105.49" cy="281.31" r="1.45" fill="#98865a"/>
<circle cx="102.24" cy="287.46" r="1.45" fill="#dd9c9c"/>
<circle cx="107.63" cy="282.58" r="1.45" fill="#bdbdbd"/>
<circle cx="103.74" cy="285.21" r="1.45" fill="#c8c8c8"/>
<circle cx="100.96" cy="284.87" r="1.45" fill="#e8b4b4"/>
<circle cx="102.73" cy="288.95" r="1.45" fill="#a89870"/>
<circle cx="106.89" cy="287.19" r="1.45" fill="#bdbdbd"/>
<circle cx="104.36" cy="287.61" r="1.45" fill="#bdbdbd"/>
<circle cx="115.51" cy="285.28" r="1.45" fill="#98865a"/>
<circle cx="122.84" cy="289.19" r="1.45" fill="#98865a"/>
<circle cx="124.72" cy="282.29" r="1.45" fill="#8a6a98"/>
<circle cx="119.84" cy="283.47" r="1.45" fill="#7e6e48"/>
<circle cx="116.34" cy="282.43" r="1.45" fill="#98865a"/>
<circle cx="119.46" cy="288.65" r="1.45" fill="#a89870"/>
<circle cx="117.97" cy="280.76" r="1.45" fill="#7e6e48"/>
<circle cx="122.31" cy="284.20" r="1.45" fill="#a89870"/>
<circle cx="115.83" cy="287.67" r="1.45" fill="#98865a"/>
<circle cx="119.19" cy="286.57" r="1.45" fill="#98865a"/>
<circle cx="117.88" cy="285.17" r="1.45" fill="#8a6a98"/>
<circle cx="118.61" cy="286.39" r="1.45" fill="#b0b0b0"/>
<circle cx="125.55" cy="283.04" r="1.45" fill="#98865a"/>
<circle cx="125.32" cy="288.15" r="1.45" fill="#c8c8c8"/>
<circle cx="79.83" cy="298.88" r="1.45" fill="#bdbdbd"/>
<circle cx="79.67" cy="299.03" r="1.45" fill="#c8c8c8"/>
<circle cx="80.20" cy="299.76" r="1.45" fill="#c8c8c8"/>
<circle cx="80.43" cy="294.79" r="1.45" fill="#b0b0b0"/>
<circle cx="80.90" cy="295.54" r="1.45" fill="#c8c8c8"/>
<circle cx="84.07" cy="296.33" r="1.45" fill="#c8c8c8"/>
<circle cx="82.29" cy="299.77" r="1.45" fill="#c8c8c8"/>
<circle cx="82.54" cy="299.65" r="1.45" fill="#a89870"/>
<circle cx="113.47" cy="265.12" r="1.45" fill="#bdbdbd"/>
<circle cx="114.31" cy="268.61" r="1.45" fill="#b0b0b0"/>
<circle cx="112.54" cy="263.99" r="1.45" fill="#a89870"/>
<circle cx="112.29" cy="264.49" r="1.45" fill="#bdbdbd"/>
<circle cx="113.31" cy="265.16" r="1.45" fill="#7e6e48"/>
<circle cx="110.53" cy="266.40" r="1.45" fill="#c8c8c8"/>
<circle cx="114.50" cy="265.54" r="1.45" fill="#c8c8c8"/>
<circle cx="111.24" cy="263.10" r="1.45" fill="#b0b0b0"/>
<circle cx="129.90" cy="270.11" r="1.45" fill="#c8c8c8"/>
<circle cx="128.02" cy="272.02" r="1.45" fill="#bdbdbd"/>
<circle cx="127.35" cy="275.99" r="1.45" fill="#e8893a"/>
<circle cx="128.13" cy="278.56" r="1.45" fill="#e06a1a"/>
<circle cx="126.39" cy="277.06" r="1.45" fill="#e8b4b4"/>
<circle cx="132.96" cy="274.48" r="1.45" fill="#c8c8c8"/>
<circle cx="125.00" cy="274.73" r="1.45" fill="#b0b0b0"/>
<circle cx="130.97" cy="279.20" r="1.45" fill="#bdbdbd"/>
<circle cx="132.54" cy="278.48" r="1.45" fill="#b0b0b0"/>
<circle cx="127.19" cy="274.25" r="1.45" fill="#b0b0b0"/>
<circle cx="131.40" cy="280.20" r="1.45" fill="#c8c8c8"/>
<circle cx="128.00" cy="281.88" r="1.45" fill="#e8893a"/>
<circle cx="130.78" cy="277.10" r="1.45" fill="#b0b0b0"/>
<circle cx="128.87" cy="273.57" r="1.45" fill="#bdbdbd"/>
<circle cx="131.34" cy="276.95" r="1.45" fill="#b0b0b0"/>
<circle cx="126.94" cy="277.01" r="1.45" fill="#bdbdbd"/>
<circle cx="125.92" cy="279.97" r="1.45" fill="#c8c8c8"/>
<circle cx="129.96" cy="278.32" r="1.45" fill="#bdbdbd"/>
<circle cx="134.19" cy="277.95" r="1.45" fill="#bdbdbd"/>
<circle cx="125.41" cy="278.57" r="1.45" fill="#bdbdbd"/>
<circle cx="159.15" cy="285.44" r="1.45" fill="#c8c8c8"/>
<circle cx="152.56" cy="277.23" r="1.45" fill="#e8b4b4"/>
<circle cx="158.98" cy="282.95" r="1.45" fill="#b0b0b0"/>
<circle cx="164.28" cy="284.50" r="1.45" fill="#bdbdbd"/>
<circle cx="153.37" cy="287.07" r="1.45" fill="#bdbdbd"/>
<circle cx="161.49" cy="270.55" r="1.45" fill="#b0b0b0"/>
<circle cx="160.72" cy="281.35" r="1.45" fill="#c8c8c8"/>
<circle cx="158.12" cy="289.35" r="1.45" fill="#b0b0b0"/>
<circle cx="156.91" cy="288.69" r="1.45" fill="#b0b0b0"/>
<circle cx="159.09" cy="282.60" r="1.45" fill="#b0b0b0"/>
<circle cx="163.48" cy="273.03" r="1.45" fill="#bdbdbd"/>
<circle cx="159.59" cy="288.04" r="1.45" fill="#e8b4b4"/>
<circle cx="158.02" cy="286.18" r="1.45" fill="#e8b4b4"/>
<circle cx="159.36" cy="270.44" r="1.45" fill="#bdbdbd"/>
<circle cx="157.14" cy="273.15" r="1.45" fill="#8a6a98"/>
<circle cx="160.84" cy="269.30" r="1.45" fill="#b0b0b0"/>
<circle cx="157.57" cy="280.17" r="1.45" fill="#b0b0b0"/>
<circle cx="157.39" cy="269.75" r="1.45" fill="#b898c0"/>
<circle cx="160.26" cy="278.45" r="1.45" fill="#c8c8c8"/>
<circle cx="160.39" cy="268.53" r="1.45" fill="#c8c8c8"/>
<circle cx="157.32" cy="286.46" r="1.45" fill="#bdbdbd"/>
<circle cx="158.91" cy="286.58" r="1.45" fill="#bdbdbd"/>
<circle cx="158.00" cy="275.44" r="1.45" fill="#e2a8a8"/>
<circle cx="158.57" cy="286.51" r="1.45" fill="#c8c8c8"/>
<circle cx="156.17" cy="269.71" r="1.45" fill="#c8c8c8"/>
<circle cx="161.27" cy="284.16" r="1.45" fill="#c8c8c8"/>
<circle cx="158.30" cy="272.46" r="1.45" fill="#9a70a0"/>
<circle cx="155.28" cy="273.13" r="1.45" fill="#bdbdbd"/>
<circle cx="158.65" cy="289.15" r="1.45" fill="#bdbdbd"/>
<circle cx="155.80" cy="273.50" r="1.45" fill="#bdbdbd"/>
<circle cx="139.41" cy="310.23" r="1.45" fill="#bdbdbd"/>
<circle cx="134.46" cy="313.23" r="1.45" fill="#b0b0b0"/>
<circle cx="132.32" cy="310.35" r="1.45" fill="#bdbdbd"/>
<circle cx="139.40" cy="310.19" r="1.45" fill="#bdbdbd"/>
<circle cx="136.18" cy="313.94" r="1.45" fill="#b0b0b0"/>
<circle cx="131.18" cy="311.77" r="1.45" fill="#bdbdbd"/>
<circle cx="135.79" cy="309.82" r="1.45" fill="#c8c8c8"/>
<circle cx="132.29" cy="310.48" r="1.45" fill="#c8c8c8"/>
<circle cx="133.05" cy="312.27" r="1.45" fill="#c8c8c8"/>
<circle cx="140.40" cy="311.72" r="1.45" fill="#bdbdbd"/>
<circle cx="131.96" cy="293.93" r="1.45" fill="#9a70a0"/>
<circle cx="119.01" cy="298.47" r="1.45" fill="#98865a"/>
<circle cx="116.55" cy="293.16" r="1.45" fill="#ece43a"/>
<circle cx="123.86" cy="285.74" r="1.45" fill="#b0b0b0"/>
<circle cx="114.40" cy="291.15" r="1.45" fill="#bdbdbd"/>
<circle cx="127.74" cy="296.14" r="1.45" fill="#e06a1a"/>
<circle cx="127.85" cy="294.92" r="1.45" fill="#a2b444"/>
<circle cx="117.36" cy="284.36" r="1.45" fill="#bdbdbd"/>
<circle cx="118.64" cy="287.21" r="1.45" fill="#b0b0b0"/>
<circle cx="112.76" cy="294.87" r="1.45" fill="#c8c8c8"/>
<circle cx="115.95" cy="295.86" r="1.45" fill="#bdbdbd"/>
<circle cx="119.81" cy="297.63" r="1.45" fill="#e8893a"/>
<circle cx="109.31" cy="291.53" r="1.45" fill="#c79090"/>
<circle cx="115.31" cy="297.63" r="1.45" fill="#7e6e48"/>
<circle cx="121.59" cy="295.58" r="1.45" fill="#8a6a98"/>
<circle cx="117.96" cy="292.25" r="1.45" fill="#e8b4b4"/>
<circle cx="124.12" cy="284.50" r="1.45" fill="#9a70a0"/>
<circle cx="124.49" cy="295.57" r="1.45" fill="#ece43a"/>
<circle cx="119.28" cy="292.61" r="1.45" fill="#dd9c9c"/>
<circle cx="117.11" cy="294.17" r="1.45" fill="#d4722a"/>
<circle cx="115.36" cy="297.08" r="1.45" fill="#b0b0b0"/>
<circle cx="120.27" cy="291.97" r="1.45" fill="#3a4ca6"/>
<circle cx="119.60" cy="295.88" r="1.45" fill="#e8b4b4"/>
<circle cx="122.48" cy="295.14" r="1.45" fill="#b0b0b0"/>
<circle cx="125.42" cy="294.17" r="1.45" fill="#dd9c9c"/>
<circle cx="129.05" cy="289.19" r="1.45" fill="#d4722a"/>
<circle cx="126.51" cy="293.24" r="1.45" fill="#a2b444"/>
<circle cx="130.22" cy="288.09" r="1.45" fill="#bdbdbd"/>
<circle cx="126.31" cy="296.71" r="1.45" fill="#8a6a98"/>
<circle cx="122.70" cy="294.22" r="1.45" fill="#4a9050"/>
<circle cx="122.51" cy="286.17" r="1.45" fill="#b0b0b0"/>
<circle cx="113.31" cy="294.58" r="1.45" fill="#bdbdbd"/>
<circle cx="129.04" cy="289.03" r="1.45" fill="#d83a28"/>
<circle cx="114.30" cy="295.04" r="1.45" fill="#a2b444"/>
<circle cx="126.11" cy="293.34" r="1.45" fill="#98865a"/>
<circle cx="109.67" cy="289.23" r="1.45" fill="#e06a1a"/>
<circle cx="111.43" cy="295.07" r="1.45" fill="#c8c8c8"/>
<circle cx="121.40" cy="289.49" r="1.45" fill="#e2a8a8"/>
<circle cx="116.20" cy="285.38" r="1.45" fill="#b05a60"/>
<circle cx="130.02" cy="289.66" r="1.45" fill="#a89870"/>
<circle cx="130.63" cy="289.70" r="1.45" fill="#9a70a0"/>
<circle cx="123.31" cy="293.76" r="1.45" fill="#bdbdbd"/>
<circle cx="129.12" cy="296.18" r="1.45" fill="#e8893a"/>
<circle cx="120.66" cy="295.79" r="1.45" fill="#ece43a"/>
<circle cx="131.45" cy="287.35" r="1.45" fill="#bdbdbd"/>
<circle cx="114.58" cy="287.32" r="1.45" fill="#c8c8c8"/>
<circle cx="151.05" cy="293.36" r="1.45" fill="#9a3535"/>
<circle cx="140.07" cy="288.36" r="1.45" fill="#8a6a98"/>
<circle cx="141.10" cy="301.64" r="1.45" fill="#d83a28"/>
<circle cx="144.07" cy="303.18" r="1.45" fill="#bdbdbd"/>
<circle cx="143.18" cy="296.69" r="1.45" fill="#b0b0b0"/>
<circle cx="129.16" cy="292.80" r="1.45" fill="#3a4ca6"/>
<circle cx="138.42" cy="289.96" r="1.45" fill="#e06a1a"/>
<circle cx="146.05" cy="300.53" r="1.45" fill="#c79090"/>
<circle cx="131.09" cy="296.63" r="1.45" fill="#d4722a"/>
<circle cx="144.81" cy="300.94" r="1.45" fill="#e8b4b4"/>
<circle cx="132.49" cy="293.08" r="1.45" fill="#a89870"/>
<circle cx="137.25" cy="300.53" r="1.45" fill="#a8bb48"/>
<circle cx="132.06" cy="301.38" r="1.45" fill="#b0b0b0"/>
<circle cx="143.46" cy="291.61" r="1.45" fill="#dd9c9c"/>
<circle cx="137.44" cy="296.28" r="1.45" fill="#a89870"/>
<circle cx="129.77" cy="297.12" r="1.45" fill="#8a6a98"/>
<circle cx="142.50" cy="294.34" r="1.45" fill="#e8893a"/>
<circle cx="135.64" cy="296.68" r="1.45" fill="#e8893a"/>
<circle cx="133.97" cy="291.70" r="1.45" fill="#8a6a98"/>
<circle cx="130.48" cy="294.35" r="1.45" fill="#4a9050"/>
<circle cx="138.06" cy="303.53" r="1.45" fill="#4a9050"/>
<circle cx="139.06" cy="295.23" r="1.45" fill="#6cb0a0"/>
<circle cx="146.73" cy="289.38" r="1.45" fill="#7e6e48"/>
<circle cx="142.73" cy="302.01" r="1.45" fill="#6e1428"/>
<circle cx="142.30" cy="296.04" r="1.45" fill="#bdbdbd"/>
<circle cx="132.76" cy="292.86" r="1.45" fill="#bdbdbd"/>
<circle cx="148.19" cy="292.67" r="1.45" fill="#4fa0a0"/>
<circle cx="139.94" cy="291.04" r="1.45" fill="#a89870"/>
<circle cx="142.84" cy="289.86" r="1.45" fill="#c8c8c8"/>
<circle cx="144.64" cy="295.82" r="1.45" fill="#3a4ca6"/>
<circle cx="141.74" cy="303.47" r="1.45" fill="#3a4ca6"/>
<circle cx="145.52" cy="293.77" r="1.45" fill="#e2a8a8"/>
<circle cx="141.57" cy="297.43" r="1.45" fill="#dd9c9c"/>
<circle cx="142.91" cy="291.88" r="1.45" fill="#b898c0"/>
<circle cx="132.05" cy="292.05" r="1.45" fill="#c79090"/>
<circle cx="146.59" cy="290.59" r="1.45" fill="#d83a28"/>
<circle cx="144.71" cy="294.60" r="1.45" fill="#a8bb48"/>
<circle cx="131.36" cy="292.49" r="1.45" fill="#c8c8c8"/>
<circle cx="142.59" cy="288.31" r="1.45" fill="#7e6e48"/>
<circle cx="150.00" cy="298.87" r="1.45" fill="#9a3535"/>
<circle cx="130.22" cy="298.74" r="1.45" fill="#e8893a"/>
<circle cx="136.70" cy="297.97" r="1.45" fill="#b0b0b0"/>
<circle cx="112.05" cy="303.64" r="1.45" fill="#7e6e48"/>
<circle cx="110.40" cy="308.35" r="1.45" fill="#e8893a"/>
<circle cx="107.53" cy="306.19" r="1.45" fill="#bdbdbd"/>
<circle cx="113.06" cy="301.84" r="1.45" fill="#b0b0b0"/>
<circle cx="110.62" cy="304.45" r="1.45" fill="#4a9050"/>
<circle cx="112.26" cy="310.50" r="1.45" fill="#bdbdbd"/>
<circle cx="121.52" cy="305.04" r="1.45" fill="#e8893a"/>
<circle cx="105.24" cy="308.75" r="1.45" fill="#b0b0b0"/>
<circle cx="104.08" cy="305.84" r="1.45" fill="#bdbdbd"/>
<circle cx="115.87" cy="301.87" r="1.45" fill="#c8c8c8"/>
<circle cx="116.20" cy="310.44" r="1.45" fill="#d4722a"/>
<circle cx="116.85" cy="301.84" r="1.45" fill="#c79090"/>
<circle cx="118.96" cy="304.94" r="1.45" fill="#b0b0b0"/>
<circle cx="119.35" cy="304.95" r="1.45" fill="#d4722a"/>
<circle cx="114.38" cy="308.83" r="1.45" fill="#b0b0b0"/>
<circle cx="109.41" cy="301.33" r="1.45" fill="#9a70a0"/>
<circle cx="108.44" cy="306.76" r="1.45" fill="#4a9050"/>
<circle cx="114.25" cy="301.22" r="1.45" fill="#6e1428"/>
<circle cx="104.76" cy="307.05" r="1.45" fill="#e06a1a"/>
<circle cx="109.78" cy="308.12" r="1.45" fill="#e8893a"/>
<circle cx="116.18" cy="303.76" r="1.45" fill="#98865a"/>
<circle cx="112.99" cy="305.62" r="1.45" fill="#4a9050"/>
<circle cx="112.41" cy="306.78" r="1.45" fill="#b05a60"/>
<circle cx="116.70" cy="306.98" r="1.45" fill="#c8c8c8"/>
<circle cx="134.89" cy="325.03" r="1.45" fill="#c79090"/>
<circle cx="134.78" cy="324.42" r="1.45" fill="#3a4ca6"/>
<circle cx="125.35" cy="325.85" r="1.45" fill="#e8b4b4"/>
<circle cx="127.23" cy="315.85" r="1.45" fill="#bdbdbd"/>
<circle cx="121.71" cy="321.07" r="1.45" fill="#dd9c9c"/>
<circle cx="125.13" cy="320.75" r="1.45" fill="#e2a8a8"/>
<circle cx="134.74" cy="317.18" r="1.45" fill="#e8b4b4"/>
<circle cx="135.60" cy="324.11" r="1.45" fill="#3a4ca6"/>
<circle cx="134.52" cy="317.05" r="1.45" fill="#3a4ca6"/>
<circle cx="129.17" cy="323.95" r="1.45" fill="#e8b4b4"/>
<circle cx="128.18" cy="318.22" r="1.45" fill="#bdbdbd"/>
<circle cx="127.54" cy="324.73" r="1.45" fill="#c79090"/>
<circle cx="122.49" cy="324.55" r="1.45" fill="#e8b4b4"/>
<circle cx="128.76" cy="320.11" r="1.45" fill="#e8b4b4"/>
<circle cx="126.47" cy="325.17" r="1.45" fill="#e8b4b4"/>
<circle cx="127.29" cy="315.02" r="1.45" fill="#a8bb48"/>
<circle cx="135.79" cy="322.29" r="1.45" fill="#3a4ca6"/>
<circle cx="121.70" cy="321.62" r="1.45" fill="#3a4ca6"/>
<circle cx="122.88" cy="324.46" r="1.45" fill="#e8b4b4"/>
<circle cx="127.67" cy="324.60" r="1.45" fill="#c79090"/>
<circle cx="150.63" cy="301.76" r="1.45" fill="#c79090"/>
<circle cx="152.15" cy="307.03" r="1.45" fill="#e8893a"/>
<circle cx="153.53" cy="305.81" r="1.45" fill="#dd9c9c"/>
<circle cx="152.95" cy="302.73" r="1.45" fill="#b0b0b0"/>
<circle cx="154.37" cy="304.90" r="1.45" fill="#e06a1a"/>
<circle cx="147.34" cy="296.44" r="1.45" fill="#8a6a98"/>
<circle cx="150.44" cy="304.61" r="1.45" fill="#d4722a"/>
<circle cx="148.48" cy="302.62" r="1.45" fill="#e06a1a"/>
<circle cx="146.75" cy="298.82" r="1.45" fill="#d4722a"/>
<circle cx="150.98" cy="303.53" r="1.45" fill="#9a70a0"/>
<circle cx="143.24" cy="301.01" r="1.45" fill="#e8893a"/>
<circle cx="147.11" cy="298.82" r="1.45" fill="#b898c0"/>
<circle cx="145.75" cy="296.11" r="1.45" fill="#dd9c9c"/>
<circle cx="151.40" cy="301.28" r="1.45" fill="#9a70a0"/>
<circle cx="154.92" cy="303.54" r="1.45" fill="#9a70a0"/>
<circle cx="143.20" cy="301.98" r="1.45" fill="#e8893a"/>
<circle cx="152.93" cy="303.44" r="1.45" fill="#9a70a0"/>
<circle cx="157.27" cy="300.53" r="1.45" fill="#b0b0b0"/>
<circle cx="105.47" cy="321.05" r="1.45" fill="#e2a8a8"/>
<circle cx="119.98" cy="338.86" r="1.45" fill="#e2a8a8"/>
<circle cx="101.83" cy="322.50" r="1.45" fill="#a8bb48"/>
<circle cx="118.03" cy="337.76" r="1.45" fill="#e2a8a8"/>
<circle cx="110.46" cy="324.15" r="1.45" fill="#a8bb48"/>
<circle cx="123.12" cy="338.58" r="1.45" fill="#e8b4b4"/>
<circle cx="107.25" cy="330.87" r="1.45" fill="#e06a1a"/>
<circle cx="109.81" cy="323.53" r="1.45" fill="#bdbdbd"/>
<circle cx="123.74" cy="337.83" r="1.45" fill="#a2b444"/>
<circle cx="110.47" cy="326.98" r="1.45" fill="#a8bb48"/>
<circle cx="114.52" cy="328.58" r="1.45" fill="#a8bb48"/>
<circle cx="117.04" cy="340.33" r="1.45" fill="#b0b0b0"/>
<circle cx="112.42" cy="331.13" r="1.45" fill="#a2b444"/>
<circle cx="111.21" cy="326.72" r="1.45" fill="#a8bb48"/>
<circle cx="108.72" cy="328.83" r="1.45" fill="#dd9c9c"/>
<circle cx="106.65" cy="326.82" r="1.45" fill="#a8bb48"/>
<circle cx="103.60" cy="323.09" r="1.45" fill="#a2b444"/>
<circle cx="113.36" cy="327.99" r="1.45" fill="#d4722a"/>
<circle cx="116.88" cy="332.16" r="1.45" fill="#e8b4b4"/>
<circle cx="106.36" cy="324.23" r="1.45" fill="#e8893a"/>
<circle cx="108.32" cy="317.56" r="1.45" fill="#a2b444"/>
<circle cx="120.67" cy="335.46" r="1.45" fill="#a8bb48"/>
<circle cx="106.44" cy="325.83" r="1.45" fill="#a8bb48"/>
<circle cx="114.68" cy="332.72" r="1.45" fill="#c8c8c8"/>
<circle cx="106.22" cy="325.20" r="1.45" fill="#e8b4b4"/>
<circle cx="167.85" cy="319.78" r="1.45" fill="#98865a"/>
<circle cx="167.23" cy="303.17" r="1.45" fill="#7e6e48"/>
<circle cx="170.66" cy="308.96" r="1.45" fill="#c79090"/>
<circle cx="165.94" cy="314.16" r="1.45" fill="#e8893a"/>
<circle cx="162.82" cy="308.31" r="1.45" fill="#e06a1a"/>
<circle cx="169.40" cy="301.69" r="1.45" fill="#d4722a"/>
<circle cx="169.26" cy="309.99" r="1.45" fill="#dd9c9c"/>
<circle cx="170.93" cy="316.73" r="1.45" fill="#e06a1a"/>
<circle cx="174.85" cy="309.91" r="1.45" fill="#b0b0b0"/>
<circle cx="167.77" cy="305.79" r="1.45" fill="#e2a8a8"/>
<circle cx="169.63" cy="323.19" r="1.45" fill="#e2a8a8"/>
<circle cx="166.02" cy="320.48" r="1.45" fill="#e8b4b4"/>
<circle cx="157.03" cy="309.06" r="1.45" fill="#e8893a"/>
<circle cx="169.66" cy="322.89" r="1.45" fill="#9a70a0"/>
<circle cx="163.44" cy="317.87" r="1.45" fill="#b0b0b0"/>
<circle cx="158.86" cy="305.95" r="1.45" fill="#d4722a"/>
<circle cx="159.56" cy="322.23" r="1.45" fill="#e06a1a"/>
<circle cx="168.06" cy="306.38" r="1.45" fill="#dd9c9c"/>
<circle cx="173.24" cy="314.48" r="1.45" fill="#e06a1a"/>
<circle cx="166.85" cy="302.38" r="1.45" fill="#8a6a98"/>
<circle cx="156.34" cy="312.88" r="1.45" fill="#bdbdbd"/>
<circle cx="162.44" cy="304.30" r="1.45" fill="#d4722a"/>
<circle cx="164.57" cy="318.67" r="1.45" fill="#b898c0"/>
<circle cx="163.73" cy="308.55" r="1.45" fill="#d4722a"/>
<circle cx="159.05" cy="322.08" r="1.45" fill="#e06a1a"/>
<circle cx="165.98" cy="321.88" r="1.45" fill="#e8893a"/>
<circle cx="162.10" cy="303.95" r="1.45" fill="#dd9c9c"/>
<circle cx="176.80" cy="310.88" r="1.45" fill="#d4722a"/>
<circle cx="172.36" cy="314.80" r="1.45" fill="#e06a1a"/>
<circle cx="164.82" cy="324.77" r="1.45" fill="#e8893a"/>
<circle cx="165.73" cy="313.51" r="1.45" fill="#d4722a"/>
<circle cx="160.02" cy="315.24" r="1.45" fill="#d4722a"/>
<circle cx="178.54" cy="317.18" r="1.45" fill="#d4722a"/>
<circle cx="174.48" cy="322.15" r="1.45" fill="#e8893a"/>
<circle cx="161.05" cy="312.92" r="1.45" fill="#d4722a"/>
<circle cx="171.97" cy="301.83" r="1.45" fill="#e2a8a8"/>
<circle cx="174.97" cy="310.72" r="1.45" fill="#d4722a"/>
<circle cx="178.55" cy="317.42" r="1.45" fill="#d4722a"/>
<circle cx="176.83" cy="313.47" r="1.45" fill="#e06a1a"/>
<circle cx="173.43" cy="305.38" r="1.45" fill="#d4722a"/>
<circle cx="171.77" cy="317.80" r="1.45" fill="#d4722a"/>
<circle cx="163.90" cy="303.77" r="1.45" fill="#d4722a"/>
<circle cx="179.29" cy="313.93" r="1.45" fill="#e06a1a"/>
<circle cx="171.92" cy="319.76" r="1.45" fill="#c79090"/>
<circle cx="158.86" cy="309.36" r="1.45" fill="#d4722a"/>
<circle cx="179.25" cy="313.00" r="1.45" fill="#6cb0a0"/>
<circle cx="166.64" cy="322.71" r="1.45" fill="#e2a8a8"/>
<circle cx="177.79" cy="313.72" r="1.45" fill="#4fa0a0"/>
<circle cx="170.32" cy="308.01" r="1.45" fill="#e06a1a"/>
<circle cx="163.21" cy="303.72" r="1.45" fill="#c8c8c8"/>
<circle cx="179.09" cy="316.05" r="1.45" fill="#d4722a"/>
<circle cx="170.12" cy="306.73" r="1.45" fill="#d4722a"/>
<circle cx="163.13" cy="305.48" r="1.45" fill="#e06a1a"/>
<circle cx="159.86" cy="305.00" r="1.45" fill="#e8893a"/>
<circle cx="168.76" cy="318.10" r="1.45" fill="#e2a8a8"/>
<circle cx="174.61" cy="312.89" r="1.45" fill="#e06a1a"/>
<circle cx="160.06" cy="310.27" r="1.45" fill="#e8893a"/>
<circle cx="175.90" cy="305.18" r="1.45" fill="#e8893a"/>
<circle cx="173.00" cy="322.10" r="1.45" fill="#e8893a"/>
<circle cx="178.56" cy="314.27" r="1.45" fill="#e06a1a"/>
<circle cx="177.06" cy="318.24" r="1.45" fill="#e8b4b4"/>
<circle cx="169.69" cy="321.03" r="1.45" fill="#e06a1a"/>
<circle cx="172.63" cy="324.83" r="1.45" fill="#e06a1a"/>
<circle cx="172.35" cy="327.27" r="1.45" fill="#e2a8a8"/>
<circle cx="164.78" cy="334.86" r="1.45" fill="#e06a1a"/>
<circle cx="168.96" cy="329.07" r="1.45" fill="#e2a8a8"/>
<circle cx="167.47" cy="331.41" r="1.45" fill="#dd9c9c"/>
<circle cx="174.60" cy="333.70" r="1.45" fill="#e8b4b4"/>
<circle cx="162.49" cy="331.60" r="1.45" fill="#e8b4b4"/>
<circle cx="167.38" cy="325.32" r="1.45" fill="#b898c0"/>
<circle cx="168.95" cy="324.58" r="1.45" fill="#e8893a"/>
<circle cx="169.95" cy="325.26" r="1.45" fill="#e2a8a8"/>
<circle cx="172.22" cy="335.81" r="1.45" fill="#8a6a98"/>
<circle cx="170.45" cy="330.83" r="1.45" fill="#c79090"/>
<circle cx="165.19" cy="333.44" r="1.45" fill="#e2a8a8"/>
<circle cx="166.94" cy="328.25" r="1.45" fill="#dd9c9c"/>
<circle cx="175.53" cy="328.96" r="1.45" fill="#e8893a"/>
<circle cx="170.39" cy="335.46" r="1.45" fill="#e8b4b4"/>
<circle cx="157.06" cy="310.31" r="1.45" fill="#b898c0"/>
<circle cx="152.17" cy="312.17" r="1.45" fill="#9a70a0"/>
<circle cx="155.61" cy="303.57" r="1.45" fill="#b898c0"/>
<circle cx="157.86" cy="311.76" r="1.45" fill="#b898c0"/>
<circle cx="154.02" cy="305.11" r="1.45" fill="#b898c0"/>
<circle cx="151.60" cy="307.95" r="1.45" fill="#e2a8a8"/>
<circle cx="155.88" cy="304.67" r="1.45" fill="#e2a8a8"/>
<circle cx="153.20" cy="311.04" r="1.45" fill="#e8b4b4"/>
<circle cx="152.87" cy="313.62" r="1.45" fill="#9a70a0"/>
<circle cx="156.58" cy="303.53" r="1.45" fill="#8a6a98"/>
<circle cx="154.46" cy="311.63" r="1.45" fill="#d4722a"/>
<circle cx="153.43" cy="304.32" r="1.45" fill="#8a6a98"/>
<circle cx="150.43" cy="294.41" r="1.45" fill="#e06a1a"/>
<circle cx="146.54" cy="295.64" r="1.45" fill="#e06a1a"/>
<circle cx="148.07" cy="287.50" r="1.45" fill="#d4722a"/>
<circle cx="147.31" cy="286.65" r="1.45" fill="#d4722a"/>
<circle cx="147.65" cy="295.18" r="1.45" fill="#d4722a"/>
<circle cx="147.83" cy="301.86" r="1.45" fill="#d4722a"/>
<circle cx="146.60" cy="285.36" r="1.45" fill="#c8c8c8"/>
<circle cx="148.44" cy="301.86" r="1.45" fill="#e06a1a"/>
<circle cx="147.89" cy="286.09" r="1.45" fill="#e06a1a"/>
<circle cx="147.73" cy="288.62" r="1.45" fill="#e06a1a"/>
<circle cx="134.30" cy="299.76" r="1.45" fill="#4a9050"/>
<circle cx="129.52" cy="300.84" r="1.45" fill="#4a9050"/>
<circle cx="132.56" cy="300.87" r="1.45" fill="#4a9050"/>
<circle cx="134.48" cy="300.99" r="1.45" fill="#4a9050"/>
<circle cx="134.76" cy="300.28" r="1.45" fill="#4a9050"/>
<circle cx="170.18" cy="303.62" r="1.45" fill="#b0b0b0"/>
<circle cx="170.70" cy="300.74" r="1.45" fill="#d4722a"/>
<circle cx="169.64" cy="305.57" r="1.45" fill="#d4722a"/>
<circle cx="173.62" cy="303.15" r="1.45" fill="#e06a1a"/>
<circle cx="171.39" cy="306.31" r="1.45" fill="#e06a1a"/>
<circle cx="175.17" cy="307.31" r="1.45" fill="#e06a1a"/>
<circle cx="175.43" cy="301.53" r="1.45" fill="#b898c0"/>
<circle cx="170.00" cy="305.93" r="1.45" fill="#e8b4b4"/>
<circle cx="174.98" cy="303.81" r="1.45" fill="#dd9c9c"/>
<circle cx="171.10" cy="305.20" r="1.45" fill="#e8893a"/>
<circle cx="160.79" cy="347.19" r="1.45" fill="#dd9c9c"/>
<circle cx="169.26" cy="334.82" r="1.45" fill="#dd9c9c"/>
<circle cx="171.05" cy="342.40" r="1.45" fill="#8a6a98"/>
<circle cx="155.01" cy="345.91" r="1.45" fill="#e8b4b4"/>
<circle cx="152.50" cy="332.40" r="1.45" fill="#e8b4b4"/>
<circle cx="164.19" cy="333.57" r="1.45" fill="#dd9c9c"/>
<circle cx="172.86" cy="337.64" r="1.45" fill="#e8b4b4"/>
<circle cx="157.10" cy="340.02" r="1.45" fill="#e8b4b4"/>
<circle cx="158.58" cy="345.52" r="1.45" fill="#b898c0"/>
<circle cx="155.55" cy="329.48" r="1.45" fill="#dd9c9c"/>
<circle cx="172.99" cy="332.62" r="1.45" fill="#e8b4b4"/>
<circle cx="149.83" cy="336.54" r="1.45" fill="#dd9c9c"/>
<circle cx="164.29" cy="340.64" r="1.45" fill="#c79090"/>
<circle cx="173.27" cy="345.99" r="1.45" fill="#dd9c9c"/>
<circle cx="165.82" cy="343.09" r="1.45" fill="#e2a8a8"/>
<circle cx="174.66" cy="331.92" r="1.45" fill="#e2a8a8"/>
<circle cx="161.99" cy="344.77" r="1.45" fill="#b898c0"/>
<circle cx="140.83" cy="338.47" r="1.45" fill="#c79090"/>
<circle cx="166.47" cy="331.57" r="1.45" fill="#e2a8a8"/>
<circle cx="163.68" cy="332.14" r="1.45" fill="#e2a8a8"/>
<circle cx="172.41" cy="338.53" r="1.45" fill="#e8b4b4"/>
<circle cx="143.99" cy="338.65" r="1.45" fill="#e8b4b4"/>
<circle cx="145.01" cy="334.46" r="1.45" fill="#bdbdbd"/>
<circle cx="175.23" cy="342.14" r="1.45" fill="#dd9c9c"/>
<circle cx="159.04" cy="344.68" r="1.45" fill="#e8b4b4"/>
<circle cx="167.54" cy="335.91" r="1.45" fill="#e2a8a8"/>
<circle cx="141.09" cy="335.26" r="1.45" fill="#c79090"/>
<circle cx="173.45" cy="330.38" r="1.45" fill="#dd9c9c"/>
<circle cx="169.88" cy="341.12" r="1.45" fill="#dd9c9c"/>
<circle cx="141.14" cy="338.26" r="1.45" fill="#c79090"/>
<circle cx="142.59" cy="338.21" r="1.45" fill="#e8b4b4"/>
<circle cx="142.11" cy="335.12" r="1.45" fill="#c79090"/>
<circle cx="167.42" cy="342.27" r="1.45" fill="#8a6a98"/>
<circle cx="162.89" cy="340.08" r="1.45" fill="#dd9c9c"/>
<circle cx="171.92" cy="331.58" r="1.45" fill="#e8b4b4"/>
<circle cx="164.27" cy="334.24" r="1.45" fill="#c79090"/>
<circle cx="176.77" cy="338.80" r="1.45" fill="#e8b4b4"/>
<circle cx="145.63" cy="344.07" r="1.45" fill="#c79090"/>
<circle cx="169.90" cy="330.26" r="1.45" fill="#c79090"/>
<circle cx="166.83" cy="330.06" r="1.45" fill="#b898c0"/>
<circle cx="145.77" cy="335.02" r="1.45" fill="#e06a1a"/>
<circle cx="160.93" cy="340.51" r="1.45" fill="#e8b4b4"/>
<circle cx="157.63" cy="341.77" r="1.45" fill="#dd9c9c"/>
<circle cx="172.03" cy="338.04" r="1.45" fill="#dd9c9c"/>
<circle cx="158.55" cy="337.47" r="1.45" fill="#e2a8a8"/>
<circle cx="168.85" cy="345.12" r="1.45" fill="#dd9c9c"/>
<circle cx="151.20" cy="332.22" r="1.45" fill="#e8b4b4"/>
<circle cx="149.54" cy="333.03" r="1.45" fill="#dd9c9c"/>
<circle cx="176.43" cy="340.78" r="1.45" fill="#d4722a"/>
<circle cx="163.03" cy="342.75" r="1.45" fill="#e8b4b4"/>
<circle cx="152.55" cy="343.24" r="1.45" fill="#c79090"/>
<circle cx="155.91" cy="336.20" r="1.45" fill="#c79090"/>
<circle cx="179.55" cy="335.98" r="1.45" fill="#e2a8a8"/>
<circle cx="151.33" cy="333.08" r="1.45" fill="#dd9c9c"/>
<circle cx="151.91" cy="338.94" r="1.45" fill="#dd9c9c"/>
<circle cx="178.67" cy="341.12" r="1.45" fill="#e8b4b4"/>
<circle cx="165.10" cy="345.57" r="1.45" fill="#c79090"/>
<circle cx="163.02" cy="343.39" r="1.45" fill="#dd9c9c"/>
<circle cx="143.95" cy="336.76" r="1.45" fill="#dd9c9c"/>
<circle cx="142.61" cy="336.58" r="1.45" fill="#c79090"/>
<circle cx="170.41" cy="331.02" r="1.45" fill="#dd9c9c"/>
<circle cx="146.68" cy="332.84" r="1.45" fill="#dd9c9c"/>
<circle cx="143.56" cy="346.52" r="1.45" fill="#dd9c9c"/>
<circle cx="137.33" cy="356.50" r="1.45" fill="#c79090"/>
<circle cx="133.00" cy="358.72" r="1.45" fill="#dd9c9c"/>
<circle cx="143.93" cy="362.22" r="1.45" fill="#c79090"/>
<circle cx="145.70" cy="364.57" r="1.45" fill="#e8b4b4"/>
<circle cx="142.33" cy="351.15" r="1.45" fill="#c79090"/>
<circle cx="134.60" cy="353.41" r="1.45" fill="#e8b4b4"/>
<circle cx="149.08" cy="362.10" r="1.45" fill="#c79090"/>
<circle cx="157.40" cy="357.90" r="1.45" fill="#c79090"/>
<circle cx="138.08" cy="346.40" r="1.45" fill="#dd9c9c"/>
<circle cx="138.74" cy="355.61" r="1.45" fill="#e2a8a8"/>
<circle cx="134.95" cy="357.20" r="1.45" fill="#c79090"/>
<circle cx="146.18" cy="355.09" r="1.45" fill="#e2a8a8"/>
<circle cx="147.53" cy="361.26" r="1.45" fill="#c79090"/>
<circle cx="144.52" cy="351.58" r="1.45" fill="#e8b4b4"/>
<circle cx="139.21" cy="357.56" r="1.45" fill="#c79090"/>
<circle cx="156.76" cy="358.54" r="1.45" fill="#c79090"/>
<circle cx="149.67" cy="347.35" r="1.45" fill="#c79090"/>
<circle cx="152.11" cy="363.58" r="1.45" fill="#dd9c9c"/>
<circle cx="144.86" cy="346.22" r="1.45" fill="#c79090"/>
<circle cx="147.01" cy="358.79" r="1.45" fill="#e2a8a8"/>
<circle cx="147.55" cy="364.63" r="1.45" fill="#8a6a98"/>
<circle cx="158.04" cy="351.28" r="1.45" fill="#c79090"/>
<circle cx="147.45" cy="346.86" r="1.45" fill="#e8b4b4"/>
<circle cx="155.97" cy="347.29" r="1.45" fill="#e2a8a8"/>
<circle cx="160.62" cy="356.82" r="1.45" fill="#dd9c9c"/>
<circle cx="143.43" cy="352.09" r="1.45" fill="#e8b4b4"/>
<circle cx="140.56" cy="364.51" r="1.45" fill="#e2a8a8"/>
<circle cx="153.26" cy="349.64" r="1.45" fill="#bdbdbd"/>
<circle cx="134.49" cy="353.94" r="1.45" fill="#a89870"/>
<circle cx="134.99" cy="353.13" r="1.45" fill="#e8b4b4"/>
<circle cx="136.85" cy="358.85" r="1.45" fill="#e2a8a8"/>
<circle cx="139.08" cy="345.50" r="1.45" fill="#e8b4b4"/>
<circle cx="141.43" cy="357.82" r="1.45" fill="#e2a8a8"/>
<circle cx="150.46" cy="359.84" r="1.45" fill="#dd9c9c"/>
<circle cx="140.80" cy="348.72" r="1.45" fill="#dd9c9c"/>
<circle cx="138.53" cy="362.07" r="1.45" fill="#e8b4b4"/>
<circle cx="150.31" cy="348.22" r="1.45" fill="#c79090"/>
<circle cx="132.14" cy="356.62" r="1.45" fill="#e2a8a8"/>
<circle cx="142.34" cy="353.24" r="1.45" fill="#e2a8a8"/>
<circle cx="141.39" cy="349.63" r="1.45" fill="#e8b4b4"/>
<circle cx="155.87" cy="350.69" r="1.45" fill="#e2a8a8"/>
<circle cx="134.64" cy="348.66" r="1.45" fill="#e2a8a8"/>
<circle cx="149.88" cy="362.82" r="1.45" fill="#e2a8a8"/>
<circle cx="140.83" cy="348.32" r="1.45" fill="#c79090"/>
<circle cx="136.94" cy="355.29" r="1.45" fill="#b0b0b0"/>
<circle cx="148.31" cy="350.21" r="1.45" fill="#e8b4b4"/>
<circle cx="146.70" cy="356.86" r="1.45" fill="#c79090"/>
<circle cx="150.07" cy="362.56" r="1.45" fill="#e8b4b4"/>
<circle cx="146.51" cy="350.31" r="1.45" fill="#c79090"/>
<circle cx="156.46" cy="347.92" r="1.45" fill="#e8b4b4"/>
<circle cx="149.33" cy="363.33" r="1.45" fill="#e8b4b4"/>
<circle cx="153.13" cy="357.05" r="1.45" fill="#e8b4b4"/>
<circle cx="142.17" cy="357.22" r="1.45" fill="#c79090"/>
<circle cx="149.24" cy="365.13" r="1.45" fill="#e2a8a8"/>
<circle cx="142.82" cy="361.12" r="1.45" fill="#e2a8a8"/>
<circle cx="136.57" cy="354.32" r="1.45" fill="#e2a8a8"/>
<circle cx="140.94" cy="360.65" r="1.45" fill="#e2a8a8"/>
<circle cx="147.72" cy="363.26" r="1.45" fill="#dd9c9c"/>
<circle cx="134.32" cy="350.14" r="1.45" fill="#e2a8a8"/>
<circle cx="151.07" cy="359.00" r="1.45" fill="#e8b4b4"/>
<circle cx="132.95" cy="350.19" r="1.45" fill="#dd9c9c"/>
<circle cx="142.86" cy="348.97" r="1.45" fill="#d4722a"/>
<circle cx="144.27" cy="345.03" r="1.45" fill="#e8b4b4"/>
<circle cx="139.47" cy="348.20" r="1.45" fill="#e8893a"/>
<circle cx="143.87" cy="358.63" r="1.45" fill="#dd9c9c"/>
<circle cx="148.93" cy="349.33" r="1.45" fill="#dd9c9c"/>
<circle cx="149.05" cy="355.07" r="1.45" fill="#c79090"/>
<circle cx="137.26" cy="361.03" r="1.45" fill="#dd9c9c"/>
<circle cx="144.14" cy="349.10" r="1.45" fill="#e2a8a8"/>
<circle cx="144.52" cy="352.83" r="1.45" fill="#dd9c9c"/>
<circle cx="148.98" cy="351.07" r="1.45" fill="#bdbdbd"/>
<circle cx="154.58" cy="354.67" r="1.45" fill="#c79090"/>
<circle cx="153.20" cy="362.53" r="1.45" fill="#a89870"/>
<circle cx="148.57" cy="359.66" r="1.45" fill="#98865a"/>
<circle cx="132.16" cy="351.23" r="1.45" fill="#e8b4b4"/>
<circle cx="139.45" cy="348.87" r="1.45" fill="#c79090"/>
<circle cx="151.59" cy="362.16" r="1.45" fill="#e8b4b4"/>
<circle cx="154.60" cy="356.02" r="1.45" fill="#dd9c9c"/>
<circle cx="134.00" cy="352.97" r="1.45" fill="#e8893a"/>
<circle cx="153.12" cy="359.21" r="1.45" fill="#e2a8a8"/>
<circle cx="138.21" cy="350.62" r="1.45" fill="#e2a8a8"/>
<circle cx="138.47" cy="347.95" r="1.45" fill="#c8c8c8"/>
<circle cx="135.04" cy="350.89" r="1.45" fill="#e2a8a8"/>
<circle cx="133.53" cy="349.46" r="1.45" fill="#dd9c9c"/>
<circle cx="137.82" cy="346.56" r="1.45" fill="#e2a8a8"/>
<circle cx="157.42" cy="359.29" r="1.45" fill="#c79090"/>
<circle cx="145.35" cy="356.32" r="1.45" fill="#dd9c9c"/>
<circle cx="147.13" cy="353.19" r="1.45" fill="#e2a8a8"/>
<circle cx="141.63" cy="359.46" r="1.45" fill="#e2a8a8"/>
<circle cx="134.53" cy="362.87" r="1.45" fill="#e2a8a8"/>
<circle cx="134.86" cy="362.68" r="1.45" fill="#dd9c9c"/>
<circle cx="132.41" cy="363.09" r="1.45" fill="#e2a8a8"/>
<circle cx="137.47" cy="358.19" r="1.45" fill="#c79090"/>
<circle cx="129.95" cy="358.85" r="1.45" fill="#e06a1a"/>
<circle cx="135.53" cy="356.58" r="1.45" fill="#e8b4b4"/>
<circle cx="134.11" cy="360.18" r="1.45" fill="#e8b4b4"/>
<circle cx="133.25" cy="362.13" r="1.45" fill="#e2a8a8"/>
<circle cx="134.63" cy="362.47" r="1.45" fill="#e8b4b4"/>
<circle cx="136.92" cy="358.73" r="1.45" fill="#c79090"/>
<circle cx="129.50" cy="365.00" r="1.45" fill="#4a9050"/>
<circle cx="131.34" cy="352.42" r="1.45" fill="#8a6a98"/>
<circle cx="134.46" cy="352.59" r="1.45" fill="#9a70a0"/>
<circle cx="134.25" cy="352.48" r="1.45" fill="#9a70a0"/>
<circle cx="132.82" cy="351.37" r="1.45" fill="#8a6a98"/>
</g>
<text x="78.80" y="239.30" font-size="5.5" fill="#5aa05a" text-anchor="start" font-weight="normal" stroke="#5aa05a" stroke-width="0.15">Enterococcus(g)</text>
<text x="19.50" y="262.00" font-size="5.5" fill="#4a5ab0" text-anchor="start" font-weight="normal" stroke="#4a5ab0" stroke-width="0.15">Lactobacillus(g)</text>
<text x="72.60" y="267.00" font-size="5.5" fill="#d44a3a" text-anchor="start" font-weight="normal" stroke="#d44a3a" stroke-width="0.15">Klebsiella(g)</text>
<text x="38.50" y="322.30" font-size="5.5" fill="#c8d49a" text-anchor="start" font-weight="normal" stroke="#c8d49a" stroke-width="0.15" opacity="0.9">Streptococcus(g)</text>
<text x="185.70" y="321.30" font-size="5.5" fill="#e9a060" text-anchor="start" font-weight="normal" stroke="#e9a060" stroke-width="0.15">Ruminococcaceae(f)</text>
<text x="157.30" y="363.50" font-size="5.5" fill="#e0b0b0" text-anchor="start" font-weight="normal" stroke="#e0b0b0" stroke-width="0.15">Lachnospiraceae(f)</text>
<rect x="174.60" y="195.20" width="7.60" height="7.65" fill="#e6b4b6"/>
<rect x="182.10" y="195.20" width="7.60" height="7.65" fill="#dc9a9a"/>
<rect x="189.60" y="195.20" width="7.60" height="7.65" fill="#b07e7e"/>
<text x="198.50" y="201.00" font-size="5.5" fill="#222" text-anchor="start" font-weight="normal" stroke="#222" stroke-width="0.15">Lachnospiraceae (f)</text>
<rect x="174.60" y="202.75" width="7.60" height="7.65" fill="#e3873e"/>
<rect x="182.10" y="202.75" width="7.60" height="7.65" fill="#dc6a1e"/>
<rect x="189.60" y="202.75" width="7.60" height="7.65" fill="#b85e22"/>
<text x="198.50" y="208.55" font-size="5.5" fill="#222" text-anchor="start" font-weight="normal" stroke="#222" stroke-width="0.15">Ruminococcaceae (f)</text>
<rect x="174.60" y="210.30" width="7.60" height="7.65" fill="#a8976f"/>
<rect x="182.10" y="210.30" width="7.60" height="7.65" fill="#947f52"/>
<rect x="189.60" y="210.30" width="7.60" height="7.65" fill="#786a45"/>
<text x="198.50" y="216.10" font-size="5.5" fill="#222" text-anchor="start" font-weight="normal" stroke="#222" stroke-width="0.15">other Clostridiales (o)</text>
<rect x="174.60" y="217.85" width="7.60" height="7.65" fill="#4b8f4b"/>
<rect x="182.10" y="217.85" width="7.60" height="7.65" fill="#4b8f4b"/>
<rect x="189.60" y="217.85" width="7.60" height="7.65" fill="#4b8f4b"/>
<text x="198.50" y="223.65" font-size="5.5" fill="#222" text-anchor="start" font-weight="normal" stroke="#222" stroke-width="0.15">Enterococcus (g)</text>
<rect x="174.60" y="225.40" width="7.60" height="7.65" fill="#3d4ea3"/>
<rect x="182.10" y="225.40" width="7.60" height="7.65" fill="#3d4ea3"/>
<rect x="189.60" y="225.40" width="7.60" height="7.65" fill="#3d4ea3"/>
<text x="198.50" y="231.20" font-size="5.5" fill="#222" text-anchor="start" font-weight="normal" stroke="#222" stroke-width="0.15">Lactobacillus (g)</text>
<rect x="174.60" y="232.95" width="7.60" height="7.65" fill="#ebe33a"/>
<rect x="182.10" y="232.95" width="7.60" height="7.65" fill="#ebe33a"/>
<rect x="189.60" y="232.95" width="7.60" height="7.65" fill="#ebe33a"/>
<text x="198.50" y="238.75" font-size="5.5" fill="#222" text-anchor="start" font-weight="normal" stroke="#222" stroke-width="0.15">Staphylococcus (g)</text>
<rect x="174.60" y="240.50" width="7.60" height="7.65" fill="#a3b64a"/>
<rect x="182.10" y="240.50" width="7.60" height="7.65" fill="#a3b64a"/>
<rect x="189.60" y="240.50" width="7.60" height="7.65" fill="#a3b64a"/>
<text x="198.50" y="246.30" font-size="5.5" fill="#222" text-anchor="start" font-weight="normal" stroke="#222" stroke-width="0.15">Streptococcus (g)</text>
<rect x="174.60" y="248.05" width="7.60" height="7.65" fill="#8ecab9"/>
<rect x="182.10" y="248.05" width="7.60" height="7.65" fill="#6fb19e"/>
<rect x="189.60" y="248.05" width="7.60" height="7.65" fill="#5a8f80"/>
<text x="198.50" y="253.85" font-size="5.5" fill="#222" text-anchor="start" font-weight="normal" stroke="#222" stroke-width="0.15">Bacteroidetes (p)</text>
<rect x="174.60" y="255.60" width="7.60" height="7.65" fill="#6e1429"/>
<rect x="182.10" y="255.60" width="7.60" height="7.65" fill="#6e1429"/>
<rect x="189.60" y="255.60" width="7.60" height="7.65" fill="#6e1429"/>
<text x="198.50" y="261.40" font-size="5.5" fill="#222" text-anchor="start" font-weight="normal" stroke="#222" stroke-width="0.15">Escherichia (g)</text>
<rect x="174.60" y="263.15" width="7.60" height="7.65" fill="#d7392a"/>
<rect x="182.10" y="263.15" width="7.60" height="7.65" fill="#d7392a"/>
<rect x="189.60" y="263.15" width="7.60" height="7.65" fill="#d7392a"/>
<text x="198.50" y="268.95" font-size="5.5" fill="#222" text-anchor="start" font-weight="normal" stroke="#222" stroke-width="0.15">Klebsiella (g)</text>
<rect x="174.60" y="270.70" width="7.60" height="7.65" fill="#b05e62"/>
<rect x="182.10" y="270.70" width="7.60" height="7.65" fill="#9a3838"/>
<rect x="189.60" y="270.70" width="7.60" height="7.65" fill="#7e2c30"/>
<text x="198.50" y="276.50" font-size="5.5" fill="#222" text-anchor="start" font-weight="normal" stroke="#222" stroke-width="0.15">other Proteobacteria (p)</text>
<rect x="174.60" y="278.25" width="7.60" height="7.65" fill="#bb9ac2"/>
<rect x="182.10" y="278.25" width="7.60" height="7.65" fill="#9b72a1"/>
<rect x="189.60" y="278.25" width="7.60" height="7.65" fill="#7d5b83"/>
<text x="198.50" y="284.05" font-size="5.5" fill="#222" text-anchor="start" font-weight="normal" stroke="#222" stroke-width="0.15">Actinobacteria (p)</text>
<rect x="174.60" y="285.80" width="7.60" height="7.65" fill="#cdcdcd"/>
<rect x="182.10" y="285.80" width="7.60" height="7.65" fill="#b9b9b9"/>
<rect x="189.60" y="285.80" width="7.60" height="7.65" fill="#9c9c9c"/>
<text x="198.50" y="291.60" font-size="5.5" fill="#222" text-anchor="start" font-weight="normal" stroke="#222" stroke-width="0.15">Other bacteria</text>
<line x1="159.00" y1="195.20" x2="159.00" y2="247.70" stroke="#222" stroke-width="0.9"/>
<line x1="171.40" y1="195.20" x2="171.40" y2="217.30" stroke="#222" stroke-width="0.9"/>
<line x1="171.40" y1="218.50" x2="171.40" y2="247.70" stroke="#222" stroke-width="0.9"/>
<line x1="171.40" y1="255.80" x2="171.40" y2="278.60" stroke="#222" stroke-width="0.9"/>
<text x="0.00" y="0.00" font-size="5.8" fill="#222" text-anchor="middle" font-weight="normal" stroke="#222" stroke-width="0.15" transform="translate(155.30,222.00) rotate(-90) scale(1.0,1)">Firmicutes</text>
<text x="0.00" y="0.00" font-size="5.8" fill="#222" text-anchor="middle" font-weight="normal" stroke="#222" stroke-width="0.15" transform="translate(167.30,206.30) rotate(-90) scale(1.0,1)">Clostridia</text>
<text x="0.00" y="0.00" font-size="5.8" fill="#222" text-anchor="middle" font-weight="normal" stroke="#222" stroke-width="0.15" transform="translate(167.30,233.50) rotate(-90) scale(1.0,1)">Bacilli</text>
<text x="0.00" y="0.00" font-size="5.8" fill="#222" text-anchor="middle" font-weight="normal" stroke="#222" stroke-width="0.15" transform="translate(167.30,267.30) rotate(-90) scale(1.0,1)">Proteo</text>
<text x="274.00" y="189.70" font-size="11.6" fill="#000" text-anchor="start" font-weight="bold">D</text>
<text x="330.70" y="197.10" font-size="9" fill="#222" text-anchor="start" font-weight="normal" stroke="#222" stroke-width="0.24">Domination composition</text>
<rect x="322.70" y="313.10" width="14.60" height="8.40" fill="#a2b54a"/>
<rect x="322.70" y="309.10" width="14.60" height="4.00" fill="#a08c6a"/>
<rect x="322.70" y="300.80" width="14.60" height="8.30" fill="#cc9191"/>
<rect x="322.70" y="296.60" width="14.60" height="4.20" fill="#7a7444"/>
<rect x="322.70" y="288.20" width="14.60" height="8.40" fill="#c2c2c2"/>
<rect x="339.20" y="319.00" width="14.50" height="2.50" fill="#4c9150"/>
<rect x="339.20" y="313.10" width="14.50" height="5.90" fill="#a2b54a"/>
<rect x="339.20" y="302.70" width="14.50" height="10.40" fill="#a08c6a"/>
<rect x="339.20" y="301.70" width="14.50" height="1.00" fill="#cc9191"/>
<rect x="339.20" y="300.30" width="14.50" height="1.40" fill="#3d4da2"/>
<rect x="339.20" y="297.40" width="14.50" height="2.90" fill="#7a7444"/>
<rect x="339.20" y="295.80" width="14.50" height="1.60" fill="#ebe236"/>
<rect x="339.20" y="294.80" width="14.50" height="1.00" fill="#cc9191"/>
<rect x="339.20" y="293.70" width="14.50" height="1.10" fill="#d23a2a"/>
<rect x="339.20" y="282.60" width="14.50" height="11.10" fill="#c2c2c2"/>
<rect x="355.60" y="317.80" width="14.60" height="3.70" fill="#4c9150"/>
<rect x="355.60" y="302.70" width="14.60" height="15.10" fill="#a2b54a"/>
<rect x="355.60" y="297.80" width="14.60" height="4.90" fill="#a08c6a"/>
<rect x="355.60" y="295.60" width="14.60" height="2.20" fill="#3d4da2"/>
<rect x="355.60" y="284.20" width="14.60" height="11.40" fill="#cc9191"/>
<rect x="355.60" y="283.50" width="14.60" height="0.70" fill="#ebe236"/>
<rect x="355.60" y="282.40" width="14.60" height="1.10" fill="#6e1428"/>
<rect x="355.60" y="281.20" width="14.60" height="1.20" fill="#4d9898"/>
<rect x="355.60" y="262.90" width="14.60" height="18.30" fill="#c2c2c2"/>
<rect x="372.10" y="310.40" width="14.70" height="11.20" fill="#4c9150"/>
<rect x="372.10" y="289.10" width="14.70" height="21.30" fill="#a2b54a"/>
<rect x="372.10" y="287.10" width="14.70" height="2.00" fill="#a08c6a"/>
<rect x="372.10" y="278.40" width="14.70" height="8.70" fill="#3d4da2"/>
<rect x="372.10" y="269.70" width="14.70" height="8.70" fill="#cc9191"/>
<rect x="372.10" y="268.50" width="14.70" height="1.20" fill="#ebe236"/>
<rect x="372.10" y="265.70" width="14.70" height="2.80" fill="#6e1428"/>
<rect x="372.10" y="251.00" width="14.70" height="14.70" fill="#c2c2c2"/>
<rect x="388.50" y="306.30" width="14.70" height="15.30" fill="#4c9150"/>
<rect x="388.50" y="280.90" width="14.70" height="25.40" fill="#a2b54a"/>
<rect x="388.50" y="275.60" width="14.70" height="5.30" fill="#a08c6a"/>
<rect x="388.50" y="256.20" width="14.70" height="19.40" fill="#3d4da2"/>
<rect x="388.50" y="254.90" width="14.70" height="1.30" fill="#cc9191"/>
<rect x="388.50" y="252.60" width="14.70" height="2.30" fill="#7a7444"/>
<rect x="388.50" y="251.30" width="14.70" height="1.30" fill="#ebe236"/>
<rect x="388.50" y="248.80" width="14.70" height="2.50" fill="#6e1428"/>
<rect x="388.50" y="246.70" width="14.70" height="2.10" fill="#d23a2a"/>
<rect x="388.50" y="245.60" width="14.70" height="1.10" fill="#4d9898"/>
<rect x="388.50" y="231.20" width="14.70" height="14.40" fill="#c2c2c2"/>
<rect x="405.00" y="311.30" width="14.60" height="10.30" fill="#4c9150"/>
<rect x="405.00" y="296.00" width="14.60" height="15.30" fill="#a2b54a"/>
<rect x="405.00" y="285.80" width="14.60" height="10.20" fill="#a08c6a"/>
<rect x="405.00" y="275.10" width="14.60" height="10.70" fill="#3d4da2"/>
<rect x="405.00" y="264.80" width="14.60" height="10.30" fill="#d23a2a"/>
<rect x="405.00" y="249.60" width="14.60" height="15.20" fill="#c2c2c2"/>
<rect x="421.40" y="293.20" width="14.70" height="28.40" fill="#a2b54a"/>
<rect x="421.40" y="279.20" width="14.70" height="14.00" fill="#cc9191"/>
<rect x="421.40" y="264.80" width="14.70" height="14.40" fill="#c2c2c2"/>
<line x1="316.90" y1="202.70" x2="316.90" y2="327.60" stroke="#1a1a1a" stroke-width="1.4"/>
<line x1="316.20" y1="326.90" x2="437.50" y2="326.90" stroke="#1a1a1a" stroke-width="1.4"/>
<line x1="313.80" y1="207.50" x2="316.90" y2="207.50" stroke="#222" stroke-width="0.8"/>
<text x="0.00" y="0.00" font-size="6.8" fill="#1a1a1a" text-anchor="end" font-weight="normal" stroke="#1a1a1a" stroke-width="0.18" transform="translate(310.80,209.90) rotate(0) scale(0.84,1)">1</text>
<line x1="313.80" y1="236.05" x2="316.90" y2="236.05" stroke="#222" stroke-width="0.8"/>
<text x="0.00" y="0.00" font-size="6.8" fill="#1a1a1a" text-anchor="end" font-weight="normal" stroke="#1a1a1a" stroke-width="0.18" transform="translate(310.80,238.45) rotate(0) scale(0.84,1)">0.75</text>
<line x1="313.80" y1="264.60" x2="316.90" y2="264.60" stroke="#222" stroke-width="0.8"/>
<text x="0.00" y="0.00" font-size="6.8" fill="#1a1a1a" text-anchor="end" font-weight="normal" stroke="#1a1a1a" stroke-width="0.18" transform="translate(310.80,267.00) rotate(0) scale(0.84,1)">0.50</text>
<line x1="313.80" y1="293.15" x2="316.90" y2="293.15" stroke="#222" stroke-width="0.8"/>
<text x="0.00" y="0.00" font-size="6.8" fill="#1a1a1a" text-anchor="end" font-weight="normal" stroke="#1a1a1a" stroke-width="0.18" transform="translate(310.80,295.55) rotate(0) scale(0.84,1)">0.25</text>
<line x1="313.80" y1="321.70" x2="316.90" y2="321.70" stroke="#222" stroke-width="0.8"/>
<text x="0.00" y="0.00" font-size="6.8" fill="#1a1a1a" text-anchor="end" font-weight="normal" stroke="#1a1a1a" stroke-width="0.18" transform="translate(310.80,324.10) rotate(0) scale(0.84,1)">0</text>
<line x1="329.80" y1="327.00" x2="329.80" y2="330.40" stroke="#222" stroke-width="0.8"/>
<text x="0.00" y="0.00" font-size="6.5" fill="#1a1a1a" text-anchor="middle" font-weight="normal" stroke="#1a1a1a" stroke-width="0.17" transform="translate(329.80,339.20) rotate(0) scale(0.95,1)">-14</text>
<line x1="362.80" y1="327.00" x2="362.80" y2="330.40" stroke="#222" stroke-width="0.8"/>
<text x="0.00" y="0.00" font-size="6.5" fill="#1a1a1a" text-anchor="middle" font-weight="normal" stroke="#1a1a1a" stroke-width="0.17" transform="translate(362.80,339.20) rotate(0) scale(0.95,1)">0</text>
<line x1="395.80" y1="327.00" x2="395.80" y2="330.40" stroke="#222" stroke-width="0.8"/>
<text x="0.00" y="0.00" font-size="6.5" fill="#1a1a1a" text-anchor="middle" font-weight="normal" stroke="#1a1a1a" stroke-width="0.17" transform="translate(395.80,339.20) rotate(0) scale(0.95,1)">14</text>
<line x1="428.80" y1="327.00" x2="428.80" y2="330.40" stroke="#222" stroke-width="0.8"/>
<text x="0.00" y="0.00" font-size="6.5" fill="#1a1a1a" text-anchor="middle" font-weight="normal" stroke="#1a1a1a" stroke-width="0.17" transform="translate(428.80,339.20) rotate(0) scale(0.95,1)">28</text>
<text x="0.00" y="0.00" font-size="10" fill="#222" text-anchor="middle" font-weight="normal" stroke="#222" stroke-width="0.27" transform="translate(379.70,352.60) rotate(0) scale(0.7,1)">HCT day</text>
<text x="0.00" y="0.00" font-size="9.6" fill="#222" text-anchor="middle" font-weight="normal" stroke="#222" stroke-width="0.26" transform="translate(291.80,264.50) rotate(-90) scale(0.8,1)">Fraction of samples</text>
<text x="444.90" y="216.00" font-size="5.5" fill="#222" text-anchor="start" font-weight="normal" stroke="#222" stroke-width="0.15">Genus</text>
<rect x="444.90" y="220.10" width="7.30" height="7.20" fill="#c2c2c2"/>
<text x="455.20" y="225.70" font-size="5.5" fill="#222" text-anchor="start" font-weight="normal" stroke="#222" stroke-width="0.15">Other</text>
<rect x="444.90" y="229.23" width="7.30" height="7.20" fill="#d23a2a"/>
<text x="455.20" y="234.83" font-size="5.5" fill="#222" text-anchor="start" font-weight="normal" stroke="#222" stroke-width="0.15">Klebsiella</text>
<rect x="444.90" y="238.36" width="7.30" height="7.20" fill="#4d9898"/>
<text x="455.20" y="243.96" font-size="5.5" fill="#222" text-anchor="start" font-weight="normal" stroke="#222" stroke-width="0.15">Bacteroides</text>
<rect x="444.90" y="247.49" width="7.30" height="7.20" fill="#6e1428"/>
<text x="455.20" y="253.09" font-size="5.5" fill="#222" text-anchor="start" font-weight="normal" stroke="#222" stroke-width="0.15">Escherichia</text>
<rect x="444.90" y="256.62" width="7.30" height="7.20" fill="#ebe236"/>
<text x="455.20" y="262.22" font-size="5.5" fill="#222" text-anchor="start" font-weight="normal" stroke="#222" stroke-width="0.15">Staphylococcus</text>
<rect x="444.90" y="265.75" width="7.30" height="7.20" fill="#7a7444"/>
<text x="455.20" y="271.35" font-size="5.5" fill="#222" text-anchor="start" font-weight="normal" stroke="#222" stroke-width="0.15">Clostridium</text>
<rect x="444.90" y="274.88" width="7.30" height="7.20" fill="#cc9191"/>
<text x="455.20" y="280.48" font-size="5.5" fill="#222" text-anchor="start" font-weight="normal" stroke="#222" stroke-width="0.15">Blautia</text>
<rect x="444.90" y="284.01" width="7.30" height="7.20" fill="#3d4da2"/>
<text x="455.20" y="289.61" font-size="5.5" fill="#222" text-anchor="start" font-weight="normal" stroke="#222" stroke-width="0.15">Lactobacillus</text>
<rect x="444.90" y="293.14" width="7.30" height="7.20" fill="#a08c6a"/>
<text x="455.20" y="298.74" font-size="5.5" fill="#222" text-anchor="start" font-weight="normal" stroke="#222" stroke-width="0.15">Eubacterium</text>
<rect x="444.90" y="302.27" width="7.30" height="7.20" fill="#a2b54a"/>
<text x="455.20" y="307.87" font-size="5.5" fill="#222" text-anchor="start" font-weight="normal" stroke="#222" stroke-width="0.15">Streptococcus</text>
<rect x="444.90" y="311.40" width="7.30" height="7.20" fill="#4c9150"/>
<text x="455.20" y="317.00" font-size="5.5" fill="#222" text-anchor="start" font-weight="normal" stroke="#222" stroke-width="0.15">Enterococcus</text>
<text x="7.60" y="381.80" font-size="11.4" fill="#000" text-anchor="start" font-weight="bold">E</text>
<text x="57.80" y="389.40" font-size="9" fill="#222" text-anchor="start" font-weight="normal" stroke="#222" stroke-width="0.24">Domination prevalence</text>
<line x1="50.10" y1="439.20" x2="50.10" y2="571.90" stroke="#1a1a1a" stroke-width="1.4"/>
<line x1="49.40" y1="571.20" x2="156.50" y2="571.20" stroke="#1a1a1a" stroke-width="1.4"/>
<line x1="46.30" y1="444.30" x2="50.10" y2="444.30" stroke="#222" stroke-width="0.8"/>
<text x="0.00" y="0.00" font-size="6.8" fill="#1a1a1a" text-anchor="end" font-weight="normal" stroke="#1a1a1a" stroke-width="0.18" transform="translate(43.40,446.70) rotate(0) scale(0.84,1)">1</text>
<line x1="46.30" y1="474.53" x2="50.10" y2="474.53" stroke="#222" stroke-width="0.8"/>
<text x="0.00" y="0.00" font-size="6.8" fill="#1a1a1a" text-anchor="end" font-weight="normal" stroke="#1a1a1a" stroke-width="0.18" transform="translate(43.40,476.93) rotate(0) scale(0.84,1)">0.75</text>
<line x1="46.30" y1="504.75" x2="50.10" y2="504.75" stroke="#222" stroke-width="0.8"/>
<text x="0.00" y="0.00" font-size="6.8" fill="#1a1a1a" text-anchor="end" font-weight="normal" stroke="#1a1a1a" stroke-width="0.18" transform="translate(43.40,507.15) rotate(0) scale(0.84,1)">0.50</text>
<line x1="46.30" y1="534.98" x2="50.10" y2="534.98" stroke="#222" stroke-width="0.8"/>
<text x="0.00" y="0.00" font-size="6.8" fill="#1a1a1a" text-anchor="end" font-weight="normal" stroke="#1a1a1a" stroke-width="0.18" transform="translate(43.40,537.38) rotate(0) scale(0.84,1)">0.25</text>
<line x1="46.30" y1="565.20" x2="50.10" y2="565.20" stroke="#222" stroke-width="0.8"/>
<text x="0.00" y="0.00" font-size="6.8" fill="#1a1a1a" text-anchor="end" font-weight="normal" stroke="#1a1a1a" stroke-width="0.18" transform="translate(43.40,567.60) rotate(0) scale(0.84,1)">0</text>
<line x1="55.20" y1="571.50" x2="55.20" y2="575.00" stroke="#222" stroke-width="0.8"/>
<text x="0.00" y="0.00" font-size="6.5" fill="#1a1a1a" text-anchor="middle" font-weight="normal" stroke="#1a1a1a" stroke-width="0.17" transform="translate(55.20,583.70) rotate(0) scale(0.95,1)">-14</text>
<line x1="87.50" y1="571.50" x2="87.50" y2="575.00" stroke="#222" stroke-width="0.8"/>
<text x="0.00" y="0.00" font-size="6.5" fill="#1a1a1a" text-anchor="middle" font-weight="normal" stroke="#1a1a1a" stroke-width="0.17" transform="translate(87.50,583.70) rotate(0) scale(0.95,1)">0</text>
<line x1="119.80" y1="571.50" x2="119.80" y2="575.00" stroke="#222" stroke-width="0.8"/>
<text x="0.00" y="0.00" font-size="6.5" fill="#1a1a1a" text-anchor="middle" font-weight="normal" stroke="#1a1a1a" stroke-width="0.17" transform="translate(119.80,583.70) rotate(0) scale(0.95,1)">14</text>
<line x1="152.10" y1="571.50" x2="152.10" y2="575.00" stroke="#222" stroke-width="0.8"/>
<text x="0.00" y="0.00" font-size="6.5" fill="#1a1a1a" text-anchor="middle" font-weight="normal" stroke="#1a1a1a" stroke-width="0.17" transform="translate(152.10,583.70) rotate(0) scale(0.95,1)">28</text>
<text x="0.00" y="0.00" font-size="10" fill="#222" text-anchor="middle" font-weight="normal" stroke="#222" stroke-width="0.27" transform="translate(104.10,596.60) rotate(0) scale(0.7,1)">HCT day</text>
<text x="0.00" y="0.00" font-size="10" fill="#222" text-anchor="middle" font-weight="normal" stroke="#222" stroke-width="0.27" transform="translate(25.60,504.90) rotate(-90) scale(0.76,1)">Fraction of samples</text>
<polyline points="55.20,535.20 71.35,525.10 87.50,505.10 103.65,490.90 119.80,469.40 135.95,478.00 152.10,525.40" fill="none" stroke="#a4abbb" stroke-width="1.1"/>
<circle cx="55.20" cy="535.20" r="1.00" fill="#a4abbb"/>
<circle cx="71.35" cy="525.10" r="1.00" fill="#a4abbb"/>
<circle cx="87.50" cy="505.10" r="1.00" fill="#a4abbb"/>
<circle cx="103.65" cy="490.90" r="1.00" fill="#a4abbb"/>
<circle cx="119.80" cy="469.40" r="1.00" fill="#a4abbb"/>
<circle cx="135.95" cy="478.00" r="1.00" fill="#a4abbb"/>
<circle cx="152.10" cy="525.40" r="1.00" fill="#a4abbb"/>
<polyline points="55.20,527.50 71.35,519.50 87.50,491.50 103.65,489.40 119.80,467.50" fill="none" stroke="#a3162d" stroke-width="1.2"/>
<circle cx="55.20" cy="527.50" r="1.30" fill="#a3162d"/>
<circle cx="71.35" cy="519.50" r="1.30" fill="#a3162d"/>
<circle cx="87.50" cy="491.50" r="1.30" fill="#a3162d"/>
<circle cx="103.65" cy="489.40" r="1.30" fill="#a3162d"/>
<circle cx="119.80" cy="467.50" r="1.30" fill="#a3162d"/>
<text x="130.00" y="443.60" font-size="5.3" fill="#222" text-anchor="start" font-weight="normal" stroke="#222" stroke-width="0.14">Institution</text>
<line x1="130.00" y1="450.90" x2="140.80" y2="450.90" stroke="#a3162d" stroke-width="1.1"/>
<circle cx="135.40" cy="450.90" r="1.60" fill="#a3162d"/>
<text x="142.90" y="452.90" font-size="5.5" fill="#222" text-anchor="start" font-weight="normal" stroke="#222" stroke-width="0.15">Duke</text>
<line x1="130.00" y1="459.80" x2="140.80" y2="459.80" stroke="#a4abbb" stroke-width="1.1"/>
<circle cx="135.40" cy="459.80" r="1.30" fill="#a4abbb"/>
<text x="142.90" y="461.80" font-size="5.5" fill="#222" text-anchor="start" font-weight="normal" stroke="#222" stroke-width="0.15">MSK</text>
<text x="174.00" y="381.20" font-size="11.4" fill="#000" text-anchor="start" font-weight="bold">F</text>
<text x="227.70" y="389.40" font-size="9" fill="#222" text-anchor="start" font-weight="normal" stroke="#222" stroke-width="0.24">Diversity by disease</text>
<defs><clipPath id="fclip"><rect x="211" y="394" width="113" height="176.5"/></clipPath></defs>
<g clip-path="url(#fclip)">
<rect x="281.39" y="554.67" width="1.50" height="1.50" fill="#8bb9e8"/>
<rect x="268.38" y="478.17" width="1.50" height="1.50" fill="#8bb9e8"/>
<rect x="292.18" y="537.61" width="1.50" height="1.50" fill="#4f9d72"/>
<rect x="259.29" y="491.83" width="1.50" height="1.50" fill="#4f9d72"/>
<rect x="294.83" y="514.46" width="1.50" height="1.50" fill="#8bb9e8"/>
<rect x="231.07" y="489.56" width="1.50" height="1.50" fill="#8bb9e8"/>
<rect x="242.78" y="525.92" width="1.50" height="1.50" fill="#4f9d72"/>
<rect x="292.09" y="543.72" width="1.50" height="1.50" fill="#8bb9e8"/>
<rect x="278.25" y="532.49" width="1.50" height="1.50" fill="#8bb9e8"/>
<rect x="221.28" y="490.97" width="1.50" height="1.50" fill="#8bb9e8"/>
<rect x="250.64" y="546.28" width="1.50" height="1.50" fill="#4f9d72"/>
<rect x="250.30" y="507.59" width="1.50" height="1.50" fill="#8bb9e8"/>
<rect x="237.97" y="480.72" width="1.50" height="1.50" fill="#8bb9e8"/>
<rect x="295.97" y="418.79" width="1.50" height="1.50" fill="#4f9d72"/>
<rect x="230.94" y="553.23" width="1.50" height="1.50" fill="#4f9d72"/>
<rect x="231.65" y="449.15" width="1.50" height="1.50" fill="#4f9d72"/>
<rect x="255.02" y="529.05" width="1.50" height="1.50" fill="#4f9d72"/>
<rect x="277.47" y="475.78" width="1.50" height="1.50" fill="#8bb9e8"/>
<rect x="316.40" y="528.54" width="1.50" height="1.50" fill="#8bb9e8"/>
<rect x="316.74" y="513.07" width="1.50" height="1.50" fill="#8bb9e8"/>
<rect x="278.19" y="520.61" width="1.50" height="1.50" fill="#4f9d72"/>
<rect x="249.65" y="526.51" width="1.50" height="1.50" fill="#8bb9e8"/>
<rect x="261.88" y="488.73" width="1.50" height="1.50" fill="#4f9d72"/>
<rect x="256.57" y="513.95" width="1.50" height="1.50" fill="#4f9d72"/>
<rect x="218.71" y="543.41" width="1.50" height="1.50" fill="#e6d94a"/>
<rect x="291.67" y="522.37" width="1.50" height="1.50" fill="#8bb9e8"/>
<rect x="286.56" y="510.63" width="1.50" height="1.50" fill="#8bb9e8"/>
<rect x="246.48" y="475.25" width="1.50" height="1.50" fill="#4f9d72"/>
<rect x="317.71" y="540.27" width="1.50" height="1.50" fill="#4f9d72"/>
<rect x="237.83" y="545.90" width="1.50" height="1.50" fill="#8bb9e8"/>
<rect x="231.58" y="508.57" width="1.50" height="1.50" fill="#8bb9e8"/>
<rect x="264.49" y="540.16" width="1.50" height="1.50" fill="#4f9d72"/>
<rect x="283.51" y="466.26" width="1.50" height="1.50" fill="#8bb9e8"/>
<rect x="283.20" y="507.70" width="1.50" height="1.50" fill="#4f9d72"/>
<rect x="253.97" y="448.76" width="1.50" height="1.50" fill="#4f9d72"/>
<rect x="256.75" y="479.88" width="1.50" height="1.50" fill="#8bb9e8"/>
<rect x="280.97" y="513.17" width="1.50" height="1.50" fill="#8bb9e8"/>
<rect x="269.25" y="501.47" width="1.50" height="1.50" fill="#4f9d72"/>
<rect x="238.32" y="496.26" width="1.50" height="1.50" fill="#8bb9e8"/>
<rect x="261.40" y="465.68" width="1.50" height="1.50" fill="#4f9d72"/>
<rect x="263.89" y="530.44" width="1.50" height="1.50" fill="#8bb9e8"/>
<rect x="261.99" y="515.03" width="1.50" height="1.50" fill="#8bb9e8"/>
<rect x="271.31" y="490.24" width="1.50" height="1.50" fill="#8bb9e8"/>
<rect x="304.78" y="509.34" width="1.50" height="1.50" fill="#8bb9e8"/>
<rect x="276.35" y="536.23" width="1.50" height="1.50" fill="#8bb9e8"/>
<rect x="259.71" y="530.90" width="1.50" height="1.50" fill="#4f9d72"/>
<rect x="279.55" y="513.04" width="1.50" height="1.50" fill="#4f9d72"/>
<rect x="229.48" y="516.81" width="1.50" height="1.50" fill="#8bb9e8"/>
<rect x="301.54" y="552.05" width="1.50" height="1.50" fill="#4f9d72"/>
<rect x="265.34" y="507.97" width="1.50" height="1.50" fill="#4f9d72"/>
<rect x="277.12" y="400.93" width="1.50" height="1.50" fill="#8bb9e8"/>
<rect x="295.31" y="534.52" width="1.50" height="1.50" fill="#e6d94a"/>
<rect x="250.00" y="527.21" width="1.50" height="1.50" fill="#8bb9e8"/>
<rect x="253.47" y="487.77" width="1.50" height="1.50" fill="#4f9d72"/>
<rect x="252.42" y="505.65" width="1.50" height="1.50" fill="#4f9d72"/>
<rect x="287.01" y="511.33" width="1.50" height="1.50" fill="#e6d94a"/>
<rect x="282.90" y="552.30" width="1.50" height="1.50" fill="#8bb9e8"/>
<rect x="240.15" y="522.04" width="1.50" height="1.50" fill="#8bb9e8"/>
<rect x="258.34" y="519.28" width="1.50" height="1.50" fill="#4f9d72"/>
<rect x="268.36" y="495.87" width="1.50" height="1.50" fill="#4f9d72"/>
<rect x="269.04" y="555.13" width="1.50" height="1.50" fill="#8bb9e8"/>
<rect x="291.18" y="531.05" width="1.50" height="1.50" fill="#8bb9e8"/>
<rect x="257.08" y="563.39" width="1.50" height="1.50" fill="#8bb9e8"/>
<rect x="284.46" y="487.13" width="1.50" height="1.50" fill="#4f9d72"/>
<rect x="318.99" y="529.31" width="1.50" height="1.50" fill="#8bb9e8"/>
<rect x="259.44" y="535.63" width="1.50" height="1.50" fill="#8bb9e8"/>
<rect x="299.26" y="514.85" width="1.50" height="1.50" fill="#4f9d72"/>
<rect x="277.60" y="482.25" width="1.50" height="1.50" fill="#4f9d72"/>
<rect x="267.00" y="504.95" width="1.50" height="1.50" fill="#4f9d72"/>
<rect x="294.08" y="558.08" width="1.50" height="1.50" fill="#4f9d72"/>
<rect x="268.29" y="507.85" width="1.50" height="1.50" fill="#4f9d72"/>
<rect x="260.27" y="522.23" width="1.50" height="1.50" fill="#8bb9e8"/>
<rect x="257.82" y="510.73" width="1.50" height="1.50" fill="#8bb9e8"/>
<rect x="273.81" y="506.73" width="1.50" height="1.50" fill="#8bb9e8"/>
<rect x="254.61" y="543.66" width="1.50" height="1.50" fill="#4f9d72"/>
<rect x="262.85" y="495.75" width="1.50" height="1.50" fill="#4f9d72"/>
<rect x="249.80" y="475.55" width="1.50" height="1.50" fill="#8bb9e8"/>
<rect x="265.76" y="507.88" width="1.50" height="1.50" fill="#4f9d72"/>
<rect x="255.10" y="543.60" width="1.50" height="1.50" fill="#8bb9e8"/>
<rect x="268.55" y="518.52" width="1.50" height="1.50" fill="#8bb9e8"/>
<rect x="306.16" y="546.96" width="1.50" height="1.50" fill="#4f9d72"/>
<rect x="296.62" y="537.27" width="1.50" height="1.50" fill="#8bb9e8"/>
<rect x="253.87" y="537.50" width="1.50" height="1.50" fill="#8bb9e8"/>
<rect x="274.09" y="474.42" width="1.50" height="1.50" fill="#8bb9e8"/>
<rect x="245.61" y="517.21" width="1.50" height="1.50" fill="#4f9d72"/>
<rect x="265.05" y="476.78" width="1.50" height="1.50" fill="#8bb9e8"/>
<rect x="273.31" y="538.19" width="1.50" height="1.50" fill="#8bb9e8"/>
<rect x="256.50" y="553.28" width="1.50" height="1.50" fill="#8bb9e8"/>
<rect x="271.91" y="485.57" width="1.50" height="1.50" fill="#4f9d72"/>
<rect x="286.62" y="545.04" width="1.50" height="1.50" fill="#8bb9e8"/>
<rect x="283.12" y="546.74" width="1.50" height="1.50" fill="#8bb9e8"/>
<rect x="271.91" y="408.33" width="1.50" height="1.50" fill="#4f9d72"/>
<rect x="276.36" y="561.31" width="1.50" height="1.50" fill="#4f9d72"/>
<rect x="264.21" y="551.01" width="1.50" height="1.50" fill="#8bb9e8"/>
<rect x="254.07" y="513.02" width="1.50" height="1.50" fill="#8bb9e8"/>
<rect x="252.31" y="439.58" width="1.50" height="1.50" fill="#8bb9e8"/>
<rect x="255.92" y="559.21" width="1.50" height="1.50" fill="#8bb9e8"/>
<rect x="305.67" y="527.70" width="1.50" height="1.50" fill="#4f9d72"/>
<rect x="277.44" y="505.94" width="1.50" height="1.50" fill="#8bb9e8"/>
<rect x="291.82" y="547.05" width="1.50" height="1.50" fill="#8bb9e8"/>
<rect x="293.49" y="432.76" width="1.50" height="1.50" fill="#8bb9e8"/>
<rect x="228.13" y="500.59" width="1.50" height="1.50" fill="#8bb9e8"/>
<rect x="287.64" y="488.29" width="1.50" height="1.50" fill="#4f9d72"/>
<rect x="285.11" y="510.17" width="1.50" height="1.50" fill="#8bb9e8"/>
<rect x="309.67" y="528.46" width="1.50" height="1.50" fill="#4f9d72"/>
<rect x="271.04" y="483.71" width="1.50" height="1.50" fill="#4f9d72"/>
<rect x="269.66" y="504.51" width="1.50" height="1.50" fill="#4f9d72"/>
<rect x="270.25" y="483.93" width="1.50" height="1.50" fill="#8bb9e8"/>
<rect x="259.43" y="530.38" width="1.50" height="1.50" fill="#8bb9e8"/>
<rect x="300.11" y="535.34" width="1.50" height="1.50" fill="#4f9d72"/>
<rect x="296.67" y="552.82" width="1.50" height="1.50" fill="#8bb9e8"/>
<rect x="279.80" y="506.03" width="1.50" height="1.50" fill="#4f9d72"/>
<rect x="251.96" y="527.02" width="1.50" height="1.50" fill="#8bb9e8"/>
<rect x="273.53" y="500.51" width="1.50" height="1.50" fill="#4f9d72"/>
<rect x="232.04" y="462.86" width="1.50" height="1.50" fill="#8bb9e8"/>
<rect x="292.67" y="547.92" width="1.50" height="1.50" fill="#8bb9e8"/>
<rect x="252.63" y="546.89" width="1.50" height="1.50" fill="#8bb9e8"/>
<rect x="286.37" y="488.28" width="1.50" height="1.50" fill="#4f9d72"/>
<rect x="252.47" y="487.64" width="1.50" height="1.50" fill="#8bb9e8"/>
<rect x="280.80" y="492.35" width="1.50" height="1.50" fill="#8bb9e8"/>
<rect x="261.90" y="513.89" width="1.50" height="1.50" fill="#8bb9e8"/>
<rect x="259.78" y="540.82" width="1.50" height="1.50" fill="#4f9d72"/>
<rect x="247.73" y="552.79" width="1.50" height="1.50" fill="#8bb9e8"/>
<rect x="270.46" y="532.05" width="1.50" height="1.50" fill="#8bb9e8"/>
<rect x="260.18" y="548.39" width="1.50" height="1.50" fill="#4f9d72"/>
<rect x="297.23" y="487.89" width="1.50" height="1.50" fill="#8bb9e8"/>
<rect x="254.72" y="470.99" width="1.50" height="1.50" fill="#8bb9e8"/>
<rect x="254.69" y="540.53" width="1.50" height="1.50" fill="#4f9d72"/>
<rect x="261.64" y="496.44" width="1.50" height="1.50" fill="#4f9d72"/>
<rect x="253.20" y="496.99" width="1.50" height="1.50" fill="#8bb9e8"/>
<rect x="262.87" y="505.86" width="1.50" height="1.50" fill="#8bb9e8"/>
<rect x="287.05" y="500.16" width="1.50" height="1.50" fill="#8bb9e8"/>
<rect x="269.53" y="531.88" width="1.50" height="1.50" fill="#4f9d72"/>
<rect x="276.72" y="506.53" width="1.50" height="1.50" fill="#e6d94a"/>
<rect x="242.30" y="511.70" width="1.50" height="1.50" fill="#8bb9e8"/>
<rect x="281.16" y="520.20" width="1.50" height="1.50" fill="#8bb9e8"/>
<rect x="259.56" y="517.00" width="1.50" height="1.50" fill="#8bb9e8"/>
<rect x="304.81" y="500.81" width="1.50" height="1.50" fill="#8bb9e8"/>
<rect x="252.86" y="518.46" width="1.50" height="1.50" fill="#8bb9e8"/>
<rect x="276.19" y="474.41" width="1.50" height="1.50" fill="#8bb9e8"/>
<rect x="255.51" y="487.26" width="1.50" height="1.50" fill="#8bb9e8"/>
<rect x="312.89" y="513.19" width="1.50" height="1.50" fill="#8bb9e8"/>
<rect x="260.14" y="533.98" width="1.50" height="1.50" fill="#4f9d72"/>
<rect x="262.20" y="508.99" width="1.50" height="1.50" fill="#4f9d72"/>
<rect x="252.31" y="479.44" width="1.50" height="1.50" fill="#4f9d72"/>
<rect x="269.52" y="514.10" width="1.50" height="1.50" fill="#8bb9e8"/>
<rect x="274.26" y="462.00" width="1.50" height="1.50" fill="#4f9d72"/>
<rect x="260.22" y="556.03" width="1.50" height="1.50" fill="#4f9d72"/>
<rect x="254.63" y="510.04" width="1.50" height="1.50" fill="#4f9d72"/>
<rect x="231.38" y="469.79" width="1.50" height="1.50" fill="#4f9d72"/>
<rect x="257.41" y="449.92" width="1.50" height="1.50" fill="#8bb9e8"/>
<rect x="288.77" y="515.76" width="1.50" height="1.50" fill="#4f9d72"/>
<rect x="259.60" y="558.28" width="1.50" height="1.50" fill="#8bb9e8"/>
<rect x="288.35" y="563.88" width="1.50" height="1.50" fill="#8bb9e8"/>
<rect x="284.68" y="499.08" width="1.50" height="1.50" fill="#8bb9e8"/>
<rect x="296.12" y="480.36" width="1.50" height="1.50" fill="#8bb9e8"/>
<rect x="310.91" y="487.69" width="1.50" height="1.50" fill="#4f9d72"/>
<rect x="284.25" y="555.94" width="1.50" height="1.50" fill="#8bb9e8"/>
<rect x="276.38" y="500.37" width="1.50" height="1.50" fill="#4f9d72"/>
<rect x="262.44" y="507.41" width="1.50" height="1.50" fill="#8bb9e8"/>
<rect x="266.86" y="495.59" width="1.50" height="1.50" fill="#8bb9e8"/>
<rect x="284.50" y="448.68" width="1.50" height="1.50" fill="#4f9d72"/>
<rect x="260.09" y="518.32" width="1.50" height="1.50" fill="#8bb9e8"/>
<rect x="261.08" y="505.68" width="1.50" height="1.50" fill="#4f9d72"/>
<rect x="253.35" y="492.25" width="1.50" height="1.50" fill="#4f9d72"/>
<rect x="277.66" y="488.78" width="1.50" height="1.50" fill="#4f9d72"/>
<rect x="289.59" y="550.24" width="1.50" height="1.50" fill="#8bb9e8"/>
<rect x="272.67" y="481.55" width="1.50" height="1.50" fill="#8bb9e8"/>
<rect x="261.06" y="560.20" width="1.50" height="1.50" fill="#8bb9e8"/>
<rect x="293.30" y="511.48" width="1.50" height="1.50" fill="#8bb9e8"/>
<rect x="270.75" y="504.30" width="1.50" height="1.50" fill="#8bb9e8"/>
<rect x="250.94" y="562.46" width="1.50" height="1.50" fill="#8bb9e8"/>
<rect x="304.28" y="527.60" width="1.50" height="1.50" fill="#4f9d72"/>
<rect x="312.05" y="542.57" width="1.50" height="1.50" fill="#8bb9e8"/>
<rect x="265.12" y="425.76" width="1.50" height="1.50" fill="#4f9d72"/>
<rect x="269.74" y="530.89" width="1.50" height="1.50" fill="#4f9d72"/>
<rect x="277.51" y="542.18" width="1.50" height="1.50" fill="#8bb9e8"/>
<rect x="270.55" y="523.00" width="1.50" height="1.50" fill="#e6d94a"/>
<rect x="263.44" y="534.12" width="1.50" height="1.50" fill="#8bb9e8"/>
<rect x="269.80" y="508.34" width="1.50" height="1.50" fill="#8bb9e8"/>
<rect x="251.36" y="536.60" width="1.50" height="1.50" fill="#8bb9e8"/>
<rect x="259.48" y="527.42" width="1.50" height="1.50" fill="#8bb9e8"/>
<rect x="216.26" y="488.36" width="1.50" height="1.50" fill="#4f9d72"/>
<rect x="262.76" y="505.26" width="1.50" height="1.50" fill="#4f9d72"/>
<rect x="283.09" y="495.52" width="1.50" height="1.50" fill="#4f9d72"/>
<rect x="246.75" y="493.57" width="1.50" height="1.50" fill="#8bb9e8"/>
<rect x="280.94" y="527.55" width="1.50" height="1.50" fill="#8bb9e8"/>
<rect x="283.06" y="544.47" width="1.50" height="1.50" fill="#4f9d72"/>
<rect x="267.22" y="470.56" width="1.50" height="1.50" fill="#4f9d72"/>
<rect x="282.21" y="497.94" width="1.50" height="1.50" fill="#8bb9e8"/>
<rect x="259.59" y="523.69" width="1.50" height="1.50" fill="#8bb9e8"/>
<rect x="256.35" y="536.75" width="1.50" height="1.50" fill="#4f9d72"/>
<rect x="247.66" y="556.92" width="1.50" height="1.50" fill="#4f9d72"/>
<rect x="240.51" y="501.39" width="1.50" height="1.50" fill="#8bb9e8"/>
<rect x="289.54" y="532.23" width="1.50" height="1.50" fill="#4f9d72"/>
<rect x="262.16" y="500.62" width="1.50" height="1.50" fill="#8bb9e8"/>
<rect x="254.65" y="544.10" width="1.50" height="1.50" fill="#4f9d72"/>
<rect x="260.59" y="536.35" width="1.50" height="1.50" fill="#8bb9e8"/>
<rect x="280.77" y="556.15" width="1.50" height="1.50" fill="#4f9d72"/>
<rect x="256.32" y="498.23" width="1.50" height="1.50" fill="#4f9d72"/>
<rect x="280.04" y="530.53" width="1.50" height="1.50" fill="#4f9d72"/>
<rect x="220.66" y="509.85" width="1.50" height="1.50" fill="#4f9d72"/>
<rect x="276.70" y="485.14" width="1.50" height="1.50" fill="#4f9d72"/>
<rect x="267.63" y="473.46" width="1.50" height="1.50" fill="#4f9d72"/>
<rect x="268.26" y="551.05" width="1.50" height="1.50" fill="#8bb9e8"/>
<rect x="269.70" y="558.00" width="1.50" height="1.50" fill="#8bb9e8"/>
<rect x="280.79" y="513.33" width="1.50" height="1.50" fill="#4f9d72"/>
<rect x="261.37" y="490.29" width="1.50" height="1.50" fill="#4f9d72"/>
<rect x="223.42" y="476.89" width="1.50" height="1.50" fill="#4f9d72"/>
<rect x="273.47" y="535.43" width="1.50" height="1.50" fill="#8bb9e8"/>
<rect x="267.05" y="500.08" width="1.50" height="1.50" fill="#8bb9e8"/>
<rect x="252.53" y="491.08" width="1.50" height="1.50" fill="#8bb9e8"/>
<rect x="292.44" y="519.06" width="1.50" height="1.50" fill="#8bb9e8"/>
<rect x="295.66" y="543.12" width="1.50" height="1.50" fill="#8bb9e8"/>
<rect x="274.29" y="536.17" width="1.50" height="1.50" fill="#4f9d72"/>
<rect x="270.52" y="544.02" width="1.50" height="1.50" fill="#8bb9e8"/>
<rect x="271.53" y="558.31" width="1.50" height="1.50" fill="#8bb9e8"/>
<rect x="242.46" y="544.04" width="1.50" height="1.50" fill="#4f9d72"/>
<rect x="284.59" y="509.88" width="1.50" height="1.50" fill="#8bb9e8"/>
<rect x="246.30" y="487.50" width="1.50" height="1.50" fill="#8bb9e8"/>
<rect x="254.49" y="549.86" width="1.50" height="1.50" fill="#4f9d72"/>
<rect x="275.97" y="449.48" width="1.50" height="1.50" fill="#4f9d72"/>
<rect x="242.97" y="487.34" width="1.50" height="1.50" fill="#4f9d72"/>
<rect x="280.55" y="501.70" width="1.50" height="1.50" fill="#8bb9e8"/>
<rect x="272.44" y="530.49" width="1.50" height="1.50" fill="#8bb9e8"/>
<rect x="252.75" y="520.99" width="1.50" height="1.50" fill="#e6d94a"/>
<rect x="237.05" y="555.06" width="1.50" height="1.50" fill="#8bb9e8"/>
<rect x="283.83" y="536.65" width="1.50" height="1.50" fill="#4f9d72"/>
<rect x="297.83" y="541.88" width="1.50" height="1.50" fill="#4f9d72"/>
<rect x="270.10" y="550.94" width="1.50" height="1.50" fill="#e6d94a"/>
<rect x="242.86" y="507.95" width="1.50" height="1.50" fill="#4f9d72"/>
<rect x="266.70" y="536.42" width="1.50" height="1.50" fill="#4f9d72"/>
<rect x="232.42" y="487.99" width="1.50" height="1.50" fill="#8bb9e8"/>
<rect x="263.67" y="535.47" width="1.50" height="1.50" fill="#8bb9e8"/>
<rect x="284.11" y="552.49" width="1.50" height="1.50" fill="#4f9d72"/>
<rect x="245.29" y="507.87" width="1.50" height="1.50" fill="#4f9d72"/>
<rect x="264.15" y="548.88" width="1.50" height="1.50" fill="#4f9d72"/>
<rect x="258.76" y="525.37" width="1.50" height="1.50" fill="#8bb9e8"/>
<rect x="256.92" y="523.75" width="1.50" height="1.50" fill="#8bb9e8"/>
<rect x="260.93" y="520.87" width="1.50" height="1.50" fill="#8bb9e8"/>
<rect x="274.18" y="556.34" width="1.50" height="1.50" fill="#8bb9e8"/>
<rect x="262.67" y="524.33" width="1.50" height="1.50" fill="#8bb9e8"/>
<rect x="289.46" y="561.31" width="1.50" height="1.50" fill="#4f9d72"/>
<rect x="253.44" y="505.02" width="1.50" height="1.50" fill="#8bb9e8"/>
<rect x="307.01" y="560.67" width="1.50" height="1.50" fill="#4f9d72"/>
<rect x="267.23" y="507.43" width="1.50" height="1.50" fill="#4f9d72"/>
<rect x="260.41" y="479.47" width="1.50" height="1.50" fill="#8bb9e8"/>
<rect x="259.39" y="518.55" width="1.50" height="1.50" fill="#4f9d72"/>
<rect x="225.04" y="534.64" width="1.50" height="1.50" fill="#4f9d72"/>
<rect x="267.41" y="552.43" width="1.50" height="1.50" fill="#4f9d72"/>
<rect x="270.03" y="564.24" width="1.50" height="1.50" fill="#8bb9e8"/>
<rect x="270.66" y="504.03" width="1.50" height="1.50" fill="#4f9d72"/>
<rect x="249.66" y="491.27" width="1.50" height="1.50" fill="#4f9d72"/>
<rect x="264.80" y="510.03" width="1.50" height="1.50" fill="#8bb9e8"/>
<rect x="238.44" y="481.50" width="1.50" height="1.50" fill="#8bb9e8"/>
<rect x="292.91" y="511.68" width="1.50" height="1.50" fill="#8bb9e8"/>
<rect x="291.05" y="522.10" width="1.50" height="1.50" fill="#8bb9e8"/>
<rect x="254.21" y="542.69" width="1.50" height="1.50" fill="#8bb9e8"/>
<rect x="267.93" y="528.83" width="1.50" height="1.50" fill="#8bb9e8"/>
<rect x="286.34" y="552.38" width="1.50" height="1.50" fill="#8bb9e8"/>
<rect x="260.85" y="495.99" width="1.50" height="1.50" fill="#8bb9e8"/>
<rect x="292.64" y="501.08" width="1.50" height="1.50" fill="#4f9d72"/>
<rect x="227.83" y="498.02" width="1.50" height="1.50" fill="#e6d94a"/>
<rect x="264.27" y="514.69" width="1.50" height="1.50" fill="#e6d94a"/>
<rect x="253.02" y="492.12" width="1.50" height="1.50" fill="#8bb9e8"/>
<rect x="288.53" y="512.51" width="1.50" height="1.50" fill="#8bb9e8"/>
<rect x="230.61" y="491.07" width="1.50" height="1.50" fill="#8bb9e8"/>
<rect x="298.86" y="487.36" width="1.50" height="1.50" fill="#4f9d72"/>
<rect x="268.72" y="494.69" width="1.50" height="1.50" fill="#8bb9e8"/>
<rect x="257.23" y="524.47" width="1.50" height="1.50" fill="#8bb9e8"/>
<rect x="283.35" y="520.72" width="1.50" height="1.50" fill="#8bb9e8"/>
<rect x="238.43" y="498.74" width="1.50" height="1.50" fill="#8bb9e8"/>
<rect x="280.45" y="557.53" width="1.50" height="1.50" fill="#4f9d72"/>
<rect x="282.51" y="515.70" width="1.50" height="1.50" fill="#8bb9e8"/>
<rect x="307.39" y="486.30" width="1.50" height="1.50" fill="#4f9d72"/>
<rect x="303.33" y="540.20" width="1.50" height="1.50" fill="#8bb9e8"/>
<rect x="268.26" y="517.57" width="1.50" height="1.50" fill="#e6d94a"/>
<rect x="283.77" y="557.50" width="1.50" height="1.50" fill="#4f9d72"/>
<rect x="258.60" y="475.41" width="1.50" height="1.50" fill="#4f9d72"/>
<rect x="283.23" y="555.14" width="1.50" height="1.50" fill="#8bb9e8"/>
<rect x="263.19" y="495.45" width="1.50" height="1.50" fill="#8bb9e8"/>
<rect x="239.78" y="458.67" width="1.50" height="1.50" fill="#4f9d72"/>
<rect x="253.03" y="472.31" width="1.50" height="1.50" fill="#4f9d72"/>
<rect x="273.73" y="464.35" width="1.50" height="1.50" fill="#8bb9e8"/>
<rect x="232.10" y="505.17" width="1.50" height="1.50" fill="#8bb9e8"/>
<rect x="251.85" y="461.18" width="1.50" height="1.50" fill="#8bb9e8"/>
<rect x="272.06" y="548.02" width="1.50" height="1.50" fill="#8bb9e8"/>
<rect x="265.45" y="525.11" width="1.50" height="1.50" fill="#4f9d72"/>
<rect x="305.23" y="505.66" width="1.50" height="1.50" fill="#8bb9e8"/>
<rect x="297.35" y="524.31" width="1.50" height="1.50" fill="#8bb9e8"/>
<rect x="252.45" y="487.63" width="1.50" height="1.50" fill="#8bb9e8"/>
<rect x="262.43" y="533.05" width="1.50" height="1.50" fill="#8bb9e8"/>
<rect x="294.74" y="491.89" width="1.50" height="1.50" fill="#4f9d72"/>
<rect x="259.35" y="499.68" width="1.50" height="1.50" fill="#4f9d72"/>
<rect x="286.70" y="500.98" width="1.50" height="1.50" fill="#8bb9e8"/>
<rect x="274.15" y="498.92" width="1.50" height="1.50" fill="#8bb9e8"/>
<rect x="278.48" y="532.46" width="1.50" height="1.50" fill="#4f9d72"/>
<rect x="301.29" y="516.38" width="1.50" height="1.50" fill="#8bb9e8"/>
<rect x="255.75" y="523.32" width="1.50" height="1.50" fill="#8bb9e8"/>
<rect x="258.25" y="535.13" width="1.50" height="1.50" fill="#4f9d72"/>
<rect x="322.98" y="562.96" width="1.50" height="1.50" fill="#8bb9e8"/>
<rect x="253.58" y="410.33" width="1.50" height="1.50" fill="#8bb9e8"/>
<rect x="278.30" y="556.59" width="1.50" height="1.50" fill="#8bb9e8"/>
<rect x="301.37" y="520.05" width="1.50" height="1.50" fill="#8bb9e8"/>
<rect x="272.00" y="523.78" width="1.50" height="1.50" fill="#4f9d72"/>
<rect x="264.77" y="542.64" width="1.50" height="1.50" fill="#4f9d72"/>
<rect x="251.17" y="555.74" width="1.50" height="1.50" fill="#8bb9e8"/>
<rect x="256.49" y="501.84" width="1.50" height="1.50" fill="#4f9d72"/>
<rect x="254.97" y="470.41" width="1.50" height="1.50" fill="#8bb9e8"/>
<rect x="285.60" y="535.94" width="1.50" height="1.50" fill="#8bb9e8"/>
<rect x="260.15" y="549.62" width="1.50" height="1.50" fill="#8bb9e8"/>
<rect x="254.43" y="494.45" width="1.50" height="1.50" fill="#4f9d72"/>
<rect x="278.51" y="521.45" width="1.50" height="1.50" fill="#4f9d72"/>
<rect x="282.84" y="530.46" width="1.50" height="1.50" fill="#4f9d72"/>
<rect x="259.70" y="479.25" width="1.50" height="1.50" fill="#8bb9e8"/>
<rect x="290.89" y="508.58" width="1.50" height="1.50" fill="#8bb9e8"/>
<rect x="243.37" y="562.24" width="1.50" height="1.50" fill="#8bb9e8"/>
<rect x="234.68" y="496.38" width="1.50" height="1.50" fill="#8bb9e8"/>
<rect x="262.98" y="526.32" width="1.50" height="1.50" fill="#4f9d72"/>
<rect x="290.50" y="553.03" width="1.50" height="1.50" fill="#8bb9e8"/>
<rect x="294.88" y="508.66" width="1.50" height="1.50" fill="#4f9d72"/>
<rect x="269.91" y="507.58" width="1.50" height="1.50" fill="#4f9d72"/>
<rect x="262.02" y="498.15" width="1.50" height="1.50" fill="#8bb9e8"/>
<rect x="270.11" y="500.56" width="1.50" height="1.50" fill="#e6d94a"/>
<rect x="262.51" y="513.23" width="1.50" height="1.50" fill="#4f9d72"/>
<rect x="229.84" y="471.10" width="1.50" height="1.50" fill="#8bb9e8"/>
<rect x="253.65" y="432.19" width="1.50" height="1.50" fill="#8bb9e8"/>
<rect x="231.13" y="481.21" width="1.50" height="1.50" fill="#e6d94a"/>
<rect x="264.85" y="504.52" width="1.50" height="1.50" fill="#4f9d72"/>
<rect x="236.49" y="518.38" width="1.50" height="1.50" fill="#4f9d72"/>
<rect x="223.53" y="470.53" width="1.50" height="1.50" fill="#8bb9e8"/>
<rect x="281.42" y="518.88" width="1.50" height="1.50" fill="#8bb9e8"/>
<rect x="217.69" y="482.90" width="1.50" height="1.50" fill="#4f9d72"/>
<rect x="257.40" y="495.64" width="1.50" height="1.50" fill="#8bb9e8"/>
<rect x="265.11" y="450.94" width="1.50" height="1.50" fill="#8bb9e8"/>
<rect x="254.77" y="529.72" width="1.50" height="1.50" fill="#8bb9e8"/>
<rect x="293.33" y="559.52" width="1.50" height="1.50" fill="#4f9d72"/>
<rect x="283.94" y="546.97" width="1.50" height="1.50" fill="#8bb9e8"/>
<rect x="282.40" y="511.70" width="1.50" height="1.50" fill="#4f9d72"/>
<rect x="285.13" y="503.55" width="1.50" height="1.50" fill="#8bb9e8"/>
<rect x="258.41" y="514.74" width="1.50" height="1.50" fill="#8bb9e8"/>
<rect x="265.47" y="515.96" width="1.50" height="1.50" fill="#4f9d72"/>
<rect x="262.95" y="488.15" width="1.50" height="1.50" fill="#8bb9e8"/>
<rect x="269.14" y="539.54" width="1.50" height="1.50" fill="#4f9d72"/>
<rect x="287.98" y="512.62" width="1.50" height="1.50" fill="#4f9d72"/>
<rect x="259.56" y="482.07" width="1.50" height="1.50" fill="#8bb9e8"/>
<rect x="272.99" y="563.25" width="1.50" height="1.50" fill="#8bb9e8"/>
<rect x="252.35" y="563.37" width="1.50" height="1.50" fill="#8bb9e8"/>
<rect x="250.10" y="499.63" width="1.50" height="1.50" fill="#8bb9e8"/>
<rect x="244.94" y="483.88" width="1.50" height="1.50" fill="#4f9d72"/>
<rect x="297.24" y="558.30" width="1.50" height="1.50" fill="#8bb9e8"/>
<rect x="274.72" y="495.77" width="1.50" height="1.50" fill="#8bb9e8"/>
<rect x="274.80" y="518.55" width="1.50" height="1.50" fill="#8bb9e8"/>
<rect x="259.34" y="561.95" width="1.50" height="1.50" fill="#8bb9e8"/>
<rect x="277.78" y="544.80" width="1.50" height="1.50" fill="#8bb9e8"/>
<rect x="259.16" y="502.03" width="1.50" height="1.50" fill="#8bb9e8"/>
<rect x="244.43" y="512.15" width="1.50" height="1.50" fill="#4f9d72"/>
<rect x="261.87" y="531.28" width="1.50" height="1.50" fill="#8bb9e8"/>
<rect x="314.82" y="533.26" width="1.50" height="1.50" fill="#4f9d72"/>
<rect x="252.91" y="517.56" width="1.50" height="1.50" fill="#4f9d72"/>
<rect x="272.68" y="557.23" width="1.50" height="1.50" fill="#8bb9e8"/>
<rect x="311.48" y="550.87" width="1.50" height="1.50" fill="#8bb9e8"/>
<rect x="279.34" y="472.44" width="1.50" height="1.50" fill="#4f9d72"/>
<rect x="281.64" y="498.74" width="1.50" height="1.50" fill="#4f9d72"/>
<rect x="309.82" y="465.47" width="1.50" height="1.50" fill="#8bb9e8"/>
<rect x="321.87" y="519.13" width="1.50" height="1.50" fill="#8bb9e8"/>
<rect x="273.05" y="487.37" width="1.50" height="1.50" fill="#8bb9e8"/>
<rect x="265.65" y="491.93" width="1.50" height="1.50" fill="#8bb9e8"/>
<rect x="271.03" y="483.15" width="1.50" height="1.50" fill="#8bb9e8"/>
<rect x="260.05" y="554.76" width="1.50" height="1.50" fill="#4f9d72"/>
<rect x="266.47" y="489.35" width="1.50" height="1.50" fill="#8bb9e8"/>
<rect x="246.13" y="549.14" width="1.50" height="1.50" fill="#8bb9e8"/>
<rect x="227.52" y="510.86" width="1.50" height="1.50" fill="#4f9d72"/>
<rect x="257.61" y="486.89" width="1.50" height="1.50" fill="#4f9d72"/>
<rect x="267.50" y="490.57" width="1.50" height="1.50" fill="#8bb9e8"/>
<rect x="275.47" y="528.94" width="1.50" height="1.50" fill="#8bb9e8"/>
<rect x="236.11" y="508.77" width="1.50" height="1.50" fill="#4f9d72"/>
<rect x="277.63" y="526.31" width="1.50" height="1.50" fill="#4f9d72"/>
<rect x="288.91" y="472.41" width="1.50" height="1.50" fill="#4f9d72"/>
<rect x="273.01" y="523.07" width="1.50" height="1.50" fill="#4f9d72"/>
<rect x="280.07" y="519.52" width="1.50" height="1.50" fill="#4f9d72"/>
<rect x="276.50" y="494.66" width="1.50" height="1.50" fill="#8bb9e8"/>
<rect x="271.12" y="490.73" width="1.50" height="1.50" fill="#4f9d72"/>
<rect x="294.30" y="549.70" width="1.50" height="1.50" fill="#4f9d72"/>
<rect x="296.03" y="546.87" width="1.50" height="1.50" fill="#4f9d72"/>
<rect x="253.81" y="430.86" width="1.50" height="1.50" fill="#4f9d72"/>
<rect x="280.24" y="523.81" width="1.50" height="1.50" fill="#4f9d72"/>
<rect x="297.58" y="493.50" width="1.50" height="1.50" fill="#8bb9e8"/>
<rect x="251.77" y="400.46" width="1.50" height="1.50" fill="#8bb9e8"/>
<rect x="239.72" y="552.63" width="1.50" height="1.50" fill="#4f9d72"/>
<rect x="285.68" y="529.17" width="1.50" height="1.50" fill="#8bb9e8"/>
<rect x="286.96" y="550.61" width="1.50" height="1.50" fill="#8bb9e8"/>
<rect x="278.95" y="522.14" width="1.50" height="1.50" fill="#8bb9e8"/>
<rect x="278.92" y="546.42" width="1.50" height="1.50" fill="#8bb9e8"/>
<rect x="285.84" y="516.72" width="1.50" height="1.50" fill="#4f9d72"/>
<rect x="279.90" y="492.36" width="1.50" height="1.50" fill="#4f9d72"/>
<rect x="235.94" y="498.47" width="1.50" height="1.50" fill="#4f9d72"/>
<rect x="222.34" y="562.80" width="1.50" height="1.50" fill="#8bb9e8"/>
<rect x="245.06" y="541.51" width="1.50" height="1.50" fill="#8bb9e8"/>
<rect x="301.14" y="503.49" width="1.50" height="1.50" fill="#4f9d72"/>
<rect x="278.76" y="513.81" width="1.50" height="1.50" fill="#4f9d72"/>
<rect x="252.78" y="519.39" width="1.50" height="1.50" fill="#8bb9e8"/>
<rect x="250.80" y="493.94" width="1.50" height="1.50" fill="#4f9d72"/>
<rect x="257.75" y="481.47" width="1.50" height="1.50" fill="#8bb9e8"/>
<rect x="279.11" y="502.42" width="1.50" height="1.50" fill="#4f9d72"/>
<rect x="308.08" y="521.75" width="1.50" height="1.50" fill="#8bb9e8"/>
<rect x="266.03" y="503.61" width="1.50" height="1.50" fill="#8bb9e8"/>
<rect x="279.77" y="518.77" width="1.50" height="1.50" fill="#4f9d72"/>
<rect x="279.98" y="511.06" width="1.50" height="1.50" fill="#4f9d72"/>
<rect x="296.21" y="488.85" width="1.50" height="1.50" fill="#8bb9e8"/>
<rect x="309.36" y="545.65" width="1.50" height="1.50" fill="#4f9d72"/>
<rect x="268.52" y="509.85" width="1.50" height="1.50" fill="#8bb9e8"/>
<rect x="279.64" y="479.16" width="1.50" height="1.50" fill="#8bb9e8"/>
<rect x="271.43" y="541.56" width="1.50" height="1.50" fill="#4f9d72"/>
<rect x="271.04" y="555.03" width="1.50" height="1.50" fill="#4f9d72"/>
<rect x="233.15" y="477.60" width="1.50" height="1.50" fill="#4f9d72"/>
<rect x="219.11" y="498.13" width="1.50" height="1.50" fill="#8bb9e8"/>
<rect x="226.44" y="510.05" width="1.50" height="1.50" fill="#4f9d72"/>
<rect x="262.39" y="500.24" width="1.50" height="1.50" fill="#8bb9e8"/>
<rect x="267.60" y="554.21" width="1.50" height="1.50" fill="#4f9d72"/>
<rect x="251.73" y="549.37" width="1.50" height="1.50" fill="#8bb9e8"/>
<rect x="243.96" y="539.68" width="1.50" height="1.50" fill="#8bb9e8"/>
<rect x="242.42" y="497.62" width="1.50" height="1.50" fill="#8bb9e8"/>
<rect x="249.21" y="514.34" width="1.50" height="1.50" fill="#4f9d72"/>
<rect x="274.26" y="521.79" width="1.50" height="1.50" fill="#4f9d72"/>
<rect x="273.76" y="481.06" width="1.50" height="1.50" fill="#4f9d72"/>
<rect x="218.07" y="497.52" width="1.50" height="1.50" fill="#8bb9e8"/>
<rect x="244.59" y="478.47" width="1.50" height="1.50" fill="#8bb9e8"/>
<rect x="315.19" y="551.97" width="1.50" height="1.50" fill="#8bb9e8"/>
<rect x="254.61" y="505.43" width="1.50" height="1.50" fill="#8bb9e8"/>
<rect x="242.54" y="540.79" width="1.50" height="1.50" fill="#8bb9e8"/>
<rect x="267.01" y="496.99" width="1.50" height="1.50" fill="#8bb9e8"/>
<rect x="301.67" y="560.11" width="1.50" height="1.50" fill="#4f9d72"/>
<rect x="291.14" y="538.57" width="1.50" height="1.50" fill="#8bb9e8"/>
<rect x="305.49" y="533.90" width="1.50" height="1.50" fill="#4f9d72"/>
<rect x="219.21" y="508.43" width="1.50" height="1.50" fill="#4f9d72"/>
<rect x="289.49" y="499.67" width="1.50" height="1.50" fill="#8bb9e8"/>
<rect x="270.93" y="456.42" width="1.50" height="1.50" fill="#4f9d72"/>
<rect x="260.16" y="523.13" width="1.50" height="1.50" fill="#8bb9e8"/>
<rect x="264.40" y="506.03" width="1.50" height="1.50" fill="#e6d94a"/>
<rect x="263.35" y="468.25" width="1.50" height="1.50" fill="#4f9d72"/>
<rect x="270.52" y="535.81" width="1.50" height="1.50" fill="#4f9d72"/>
<rect x="257.54" y="503.37" width="1.50" height="1.50" fill="#4f9d72"/>
<rect x="270.00" y="562.85" width="1.50" height="1.50" fill="#4f9d72"/>
<rect x="256.57" y="544.06" width="1.50" height="1.50" fill="#8bb9e8"/>
<rect x="267.36" y="500.44" width="1.50" height="1.50" fill="#8bb9e8"/>
<rect x="282.52" y="552.00" width="1.50" height="1.50" fill="#8bb9e8"/>
<rect x="267.40" y="506.33" width="1.50" height="1.50" fill="#8bb9e8"/>
<rect x="286.87" y="509.67" width="1.50" height="1.50" fill="#8bb9e8"/>
<rect x="316.24" y="532.48" width="1.50" height="1.50" fill="#4f9d72"/>
<rect x="275.54" y="528.62" width="1.50" height="1.50" fill="#8bb9e8"/>
<rect x="238.24" y="489.14" width="1.50" height="1.50" fill="#4f9d72"/>
<rect x="286.24" y="550.76" width="1.50" height="1.50" fill="#8bb9e8"/>
<rect x="270.71" y="434.21" width="1.50" height="1.50" fill="#e6d94a"/>
<rect x="275.00" y="518.42" width="1.50" height="1.50" fill="#8bb9e8"/>
<rect x="281.19" y="556.36" width="1.50" height="1.50" fill="#8bb9e8"/>
<rect x="281.50" y="501.50" width="1.50" height="1.50" fill="#4f9d72"/>
<rect x="302.33" y="529.05" width="1.50" height="1.50" fill="#4f9d72"/>
<rect x="285.21" y="481.77" width="1.50" height="1.50" fill="#8bb9e8"/>
<rect x="284.06" y="563.32" width="1.50" height="1.50" fill="#4f9d72"/>
<rect x="274.99" y="531.28" width="1.50" height="1.50" fill="#8bb9e8"/>
<rect x="235.71" y="491.12" width="1.50" height="1.50" fill="#4f9d72"/>
<rect x="284.32" y="520.30" width="1.50" height="1.50" fill="#4f9d72"/>
<rect x="271.85" y="496.71" width="1.50" height="1.50" fill="#4f9d72"/>
<rect x="267.57" y="552.20" width="1.50" height="1.50" fill="#4f9d72"/>
<rect x="318.37" y="471.72" width="1.50" height="1.50" fill="#4f9d72"/>
<rect x="305.41" y="472.11" width="1.50" height="1.50" fill="#4f9d72"/>
<rect x="263.29" y="477.57" width="1.50" height="1.50" fill="#e6d94a"/>
<rect x="265.45" y="525.22" width="1.50" height="1.50" fill="#8bb9e8"/>
<rect x="248.42" y="489.87" width="1.50" height="1.50" fill="#8bb9e8"/>
<rect x="255.00" y="518.77" width="1.50" height="1.50" fill="#4f9d72"/>
<rect x="287.08" y="530.60" width="1.50" height="1.50" fill="#4f9d72"/>
<rect x="295.28" y="479.47" width="1.50" height="1.50" fill="#8bb9e8"/>
<rect x="230.13" y="509.19" width="1.50" height="1.50" fill="#4f9d72"/>
<rect x="282.28" y="457.25" width="1.50" height="1.50" fill="#4f9d72"/>
<rect x="295.24" y="513.72" width="1.50" height="1.50" fill="#8bb9e8"/>
<rect x="277.61" y="536.56" width="1.50" height="1.50" fill="#8bb9e8"/>
<rect x="295.06" y="541.93" width="1.50" height="1.50" fill="#8bb9e8"/>
<rect x="241.66" y="509.10" width="1.50" height="1.50" fill="#4f9d72"/>
<rect x="234.74" y="450.78" width="1.50" height="1.50" fill="#8bb9e8"/>
<rect x="268.41" y="560.58" width="1.50" height="1.50" fill="#8bb9e8"/>
<rect x="278.52" y="539.40" width="1.50" height="1.50" fill="#8bb9e8"/>
<rect x="318.27" y="523.64" width="1.50" height="1.50" fill="#4f9d72"/>
<rect x="249.36" y="517.25" width="1.50" height="1.50" fill="#8bb9e8"/>
<rect x="262.35" y="528.15" width="1.50" height="1.50" fill="#4f9d72"/>
<rect x="267.65" y="509.60" width="1.50" height="1.50" fill="#4f9d72"/>
<rect x="241.96" y="499.04" width="1.50" height="1.50" fill="#8bb9e8"/>
<rect x="289.80" y="470.19" width="1.50" height="1.50" fill="#8bb9e8"/>
<rect x="255.86" y="508.84" width="1.50" height="1.50" fill="#8bb9e8"/>
<rect x="274.05" y="563.06" width="1.50" height="1.50" fill="#4f9d72"/>
<rect x="307.76" y="552.71" width="1.50" height="1.50" fill="#4f9d72"/>
<rect x="277.20" y="511.76" width="1.50" height="1.50" fill="#4f9d72"/>
<rect x="278.40" y="530.10" width="1.50" height="1.50" fill="#4f9d72"/>
<rect x="249.96" y="554.31" width="1.50" height="1.50" fill="#8bb9e8"/>
<rect x="309.56" y="499.87" width="1.50" height="1.50" fill="#8bb9e8"/>
<rect x="277.04" y="485.02" width="1.50" height="1.50" fill="#4f9d72"/>
<rect x="295.33" y="504.85" width="1.50" height="1.50" fill="#4f9d72"/>
<rect x="272.44" y="513.25" width="1.50" height="1.50" fill="#4f9d72"/>
<rect x="267.84" y="550.94" width="1.50" height="1.50" fill="#8bb9e8"/>
<rect x="245.43" y="481.05" width="1.50" height="1.50" fill="#4f9d72"/>
<rect x="262.83" y="553.25" width="1.50" height="1.50" fill="#4f9d72"/>
<rect x="269.80" y="515.93" width="1.50" height="1.50" fill="#4f9d72"/>
<rect x="264.16" y="558.95" width="1.50" height="1.50" fill="#8bb9e8"/>
<rect x="297.12" y="530.69" width="1.50" height="1.50" fill="#8bb9e8"/>
<rect x="284.69" y="552.73" width="1.50" height="1.50" fill="#8bb9e8"/>
<rect x="261.13" y="512.95" width="1.50" height="1.50" fill="#4f9d72"/>
<rect x="267.27" y="487.06" width="1.50" height="1.50" fill="#8bb9e8"/>
<rect x="290.25" y="542.88" width="1.50" height="1.50" fill="#8bb9e8"/>
<rect x="259.03" y="480.42" width="1.50" height="1.50" fill="#8bb9e8"/>
<rect x="271.54" y="551.75" width="1.50" height="1.50" fill="#e6d94a"/>
<rect x="266.27" y="483.55" width="1.50" height="1.50" fill="#4f9d72"/>
<rect x="273.00" y="502.79" width="1.50" height="1.50" fill="#8bb9e8"/>
<rect x="319.96" y="529.59" width="1.50" height="1.50" fill="#4f9d72"/>
<rect x="290.62" y="521.69" width="1.50" height="1.50" fill="#4f9d72"/>
<rect x="297.06" y="557.31" width="1.50" height="1.50" fill="#8bb9e8"/>
<rect x="254.81" y="485.20" width="1.50" height="1.50" fill="#8bb9e8"/>
<rect x="250.65" y="538.36" width="1.50" height="1.50" fill="#8bb9e8"/>
<rect x="269.79" y="471.54" width="1.50" height="1.50" fill="#8bb9e8"/>
<rect x="302.45" y="519.97" width="1.50" height="1.50" fill="#8bb9e8"/>
<rect x="255.51" y="552.51" width="1.50" height="1.50" fill="#8bb9e8"/>
<rect x="267.38" y="417.42" width="1.50" height="1.50" fill="#4f9d72"/>
<rect x="297.68" y="487.24" width="1.50" height="1.50" fill="#8bb9e8"/>
<rect x="294.77" y="562.84" width="1.50" height="1.50" fill="#8bb9e8"/>
<rect x="291.71" y="538.69" width="1.50" height="1.50" fill="#8bb9e8"/>
<rect x="264.84" y="484.04" width="1.50" height="1.50" fill="#8bb9e8"/>
<rect x="283.10" y="548.25" width="1.50" height="1.50" fill="#4f9d72"/>
<rect x="261.39" y="547.12" width="1.50" height="1.50" fill="#8bb9e8"/>
<rect x="231.43" y="546.50" width="1.50" height="1.50" fill="#8bb9e8"/>
<rect x="248.82" y="492.05" width="1.50" height="1.50" fill="#8bb9e8"/>
<rect x="282.78" y="526.05" width="1.50" height="1.50" fill="#4f9d72"/>
<rect x="267.02" y="492.95" width="1.50" height="1.50" fill="#8bb9e8"/>
<rect x="252.53" y="518.39" width="1.50" height="1.50" fill="#8bb9e8"/>
<rect x="229.49" y="540.14" width="1.50" height="1.50" fill="#4f9d72"/>
<rect x="283.43" y="474.87" width="1.50" height="1.50" fill="#4f9d72"/>
<rect x="242.73" y="551.86" width="1.50" height="1.50" fill="#8bb9e8"/>
<rect x="288.36" y="522.07" width="1.50" height="1.50" fill="#8bb9e8"/>
<rect x="253.32" y="533.12" width="1.50" height="1.50" fill="#8bb9e8"/>
<rect x="273.91" y="557.45" width="1.50" height="1.50" fill="#8bb9e8"/>
<rect x="264.29" y="511.12" width="1.50" height="1.50" fill="#4f9d72"/>
<rect x="264.15" y="512.15" width="1.50" height="1.50" fill="#8bb9e8"/>
<rect x="252.87" y="517.86" width="1.50" height="1.50" fill="#4f9d72"/>
<rect x="258.03" y="481.41" width="1.50" height="1.50" fill="#4f9d72"/>
<rect x="262.62" y="556.06" width="1.50" height="1.50" fill="#8bb9e8"/>
<rect x="309.58" y="532.53" width="1.50" height="1.50" fill="#8bb9e8"/>
<rect x="268.59" y="555.46" width="1.50" height="1.50" fill="#8bb9e8"/>
<rect x="299.97" y="493.15" width="1.50" height="1.50" fill="#8bb9e8"/>
<rect x="248.71" y="460.66" width="1.50" height="1.50" fill="#8bb9e8"/>
<rect x="272.42" y="484.47" width="1.50" height="1.50" fill="#4f9d72"/>
<rect x="228.48" y="481.26" width="1.50" height="1.50" fill="#8bb9e8"/>
<rect x="266.62" y="507.92" width="1.50" height="1.50" fill="#4f9d72"/>
<rect x="265.05" y="518.82" width="1.50" height="1.50" fill="#8bb9e8"/>
<rect x="285.07" y="556.99" width="1.50" height="1.50" fill="#4f9d72"/>
<rect x="278.34" y="494.26" width="1.50" height="1.50" fill="#8bb9e8"/>
<rect x="313.71" y="535.33" width="1.50" height="1.50" fill="#8bb9e8"/>
<rect x="261.77" y="475.30" width="1.50" height="1.50" fill="#8bb9e8"/>
<rect x="265.53" y="501.00" width="1.50" height="1.50" fill="#4f9d72"/>
<rect x="270.27" y="494.64" width="1.50" height="1.50" fill="#8bb9e8"/>
<rect x="284.45" y="502.30" width="1.50" height="1.50" fill="#4f9d72"/>
<rect x="296.47" y="555.28" width="1.50" height="1.50" fill="#8bb9e8"/>
<rect x="268.11" y="552.42" width="1.50" height="1.50" fill="#8bb9e8"/>
<rect x="238.10" y="419.54" width="1.50" height="1.50" fill="#e6d94a"/>
<rect x="253.15" y="524.67" width="1.50" height="1.50" fill="#e6d94a"/>
<rect x="277.84" y="515.40" width="1.50" height="1.50" fill="#4f9d72"/>
<rect x="289.24" y="454.96" width="1.50" height="1.50" fill="#8bb9e8"/>
<rect x="288.69" y="535.55" width="1.50" height="1.50" fill="#4f9d72"/>
<rect x="275.26" y="540.69" width="1.50" height="1.50" fill="#4f9d72"/>
<rect x="286.53" y="505.34" width="1.50" height="1.50" fill="#8bb9e8"/>
<rect x="248.14" y="500.84" width="1.50" height="1.50" fill="#4f9d72"/>
<rect x="279.95" y="512.80" width="1.50" height="1.50" fill="#4f9d72"/>
<rect x="287.30" y="536.52" width="1.50" height="1.50" fill="#4f9d72"/>
<rect x="284.88" y="537.17" width="1.50" height="1.50" fill="#4f9d72"/>
<rect x="286.83" y="495.24" width="1.50" height="1.50" fill="#8bb9e8"/>
<rect x="270.62" y="526.50" width="1.50" height="1.50" fill="#8bb9e8"/>
<rect x="235.90" y="477.34" width="1.50" height="1.50" fill="#8bb9e8"/>
<rect x="265.11" y="513.99" width="1.50" height="1.50" fill="#4f9d72"/>
<rect x="296.81" y="491.76" width="1.50" height="1.50" fill="#8bb9e8"/>
<rect x="245.81" y="496.41" width="1.50" height="1.50" fill="#4f9d72"/>
<rect x="249.40" y="516.00" width="1.50" height="1.50" fill="#4f9d72"/>
<rect x="261.23" y="513.39" width="1.50" height="1.50" fill="#8bb9e8"/>
<rect x="273.49" y="522.23" width="1.50" height="1.50" fill="#4f9d72"/>
<rect x="271.49" y="507.65" width="1.50" height="1.50" fill="#8bb9e8"/>
<rect x="237.23" y="501.79" width="1.50" height="1.50" fill="#8bb9e8"/>
<rect x="237.54" y="555.48" width="1.50" height="1.50" fill="#8bb9e8"/>
<rect x="257.52" y="468.32" width="1.50" height="1.50" fill="#8bb9e8"/>
<rect x="243.06" y="558.19" width="1.50" height="1.50" fill="#8bb9e8"/>
<rect x="265.82" y="531.70" width="1.50" height="1.50" fill="#8bb9e8"/>
<rect x="303.14" y="497.34" width="1.50" height="1.50" fill="#4f9d72"/>
<rect x="317.74" y="540.12" width="1.50" height="1.50" fill="#8bb9e8"/>
<rect x="289.16" y="505.51" width="1.50" height="1.50" fill="#8bb9e8"/>
<rect x="269.83" y="503.01" width="1.50" height="1.50" fill="#8bb9e8"/>
<rect x="278.46" y="557.04" width="1.50" height="1.50" fill="#8bb9e8"/>
<rect x="261.86" y="526.15" width="1.50" height="1.50" fill="#8bb9e8"/>
<rect x="286.82" y="540.03" width="1.50" height="1.50" fill="#8bb9e8"/>
<rect x="266.79" y="529.60" width="1.50" height="1.50" fill="#4f9d72"/>
<rect x="259.76" y="502.85" width="1.50" height="1.50" fill="#8bb9e8"/>
<rect x="269.24" y="560.39" width="1.50" height="1.50" fill="#4f9d72"/>
<rect x="269.43" y="484.72" width="1.50" height="1.50" fill="#8bb9e8"/>
<rect x="265.70" y="556.95" width="1.50" height="1.50" fill="#4f9d72"/>
<rect x="240.37" y="563.02" width="1.50" height="1.50" fill="#8bb9e8"/>
<rect x="271.92" y="512.32" width="1.50" height="1.50" fill="#4f9d72"/>
<rect x="257.26" y="498.80" width="1.50" height="1.50" fill="#8bb9e8"/>
<rect x="269.48" y="475.08" width="1.50" height="1.50" fill="#8bb9e8"/>
<rect x="288.37" y="550.04" width="1.50" height="1.50" fill="#8bb9e8"/>
<rect x="316.21" y="556.33" width="1.50" height="1.50" fill="#4f9d72"/>
<rect x="256.58" y="478.06" width="1.50" height="1.50" fill="#4f9d72"/>
<rect x="245.42" y="551.79" width="1.50" height="1.50" fill="#8bb9e8"/>
<rect x="279.25" y="401.20" width="1.50" height="1.50" fill="#8bb9e8"/>
<rect x="297.88" y="449.27" width="1.50" height="1.50" fill="#e6d94a"/>
<rect x="263.13" y="525.24" width="1.50" height="1.50" fill="#8bb9e8"/>
<rect x="239.29" y="511.65" width="1.50" height="1.50" fill="#4f9d72"/>
<rect x="278.90" y="487.43" width="1.50" height="1.50" fill="#4f9d72"/>
<rect x="293.75" y="545.91" width="1.50" height="1.50" fill="#8bb9e8"/>
<rect x="276.13" y="511.40" width="1.50" height="1.50" fill="#4f9d72"/>
<rect x="269.15" y="499.83" width="1.50" height="1.50" fill="#4f9d72"/>
<rect x="283.90" y="514.17" width="1.50" height="1.50" fill="#8bb9e8"/>
<rect x="290.17" y="535.33" width="1.50" height="1.50" fill="#8bb9e8"/>
<rect x="284.18" y="519.72" width="1.50" height="1.50" fill="#8bb9e8"/>
<rect x="274.58" y="519.45" width="1.50" height="1.50" fill="#e6d94a"/>
<rect x="282.68" y="533.81" width="1.50" height="1.50" fill="#4f9d72"/>
<rect x="315.38" y="522.53" width="1.50" height="1.50" fill="#4f9d72"/>
<rect x="242.17" y="526.47" width="1.50" height="1.50" fill="#4f9d72"/>
<rect x="263.94" y="509.81" width="1.50" height="1.50" fill="#4f9d72"/>
<rect x="272.02" y="552.85" width="1.50" height="1.50" fill="#8bb9e8"/>
<rect x="265.63" y="554.22" width="1.50" height="1.50" fill="#4f9d72"/>
<rect x="258.72" y="479.51" width="1.50" height="1.50" fill="#8bb9e8"/>
<rect x="247.53" y="546.15" width="1.50" height="1.50" fill="#8bb9e8"/>
<rect x="288.72" y="545.26" width="1.50" height="1.50" fill="#8bb9e8"/>
<rect x="254.98" y="487.59" width="1.50" height="1.50" fill="#4f9d72"/>
<rect x="252.27" y="501.86" width="1.50" height="1.50" fill="#8bb9e8"/>
<rect x="252.37" y="458.45" width="1.50" height="1.50" fill="#8bb9e8"/>
<rect x="260.19" y="516.96" width="1.50" height="1.50" fill="#8bb9e8"/>
<rect x="272.07" y="510.57" width="1.50" height="1.50" fill="#8bb9e8"/>
<rect x="219.17" y="483.89" width="1.50" height="1.50" fill="#4f9d72"/>
<rect x="231.17" y="435.59" width="1.50" height="1.50" fill="#8bb9e8"/>
<rect x="261.26" y="469.85" width="1.50" height="1.50" fill="#8bb9e8"/>
<rect x="287.67" y="528.10" width="1.50" height="1.50" fill="#4f9d72"/>
<rect x="270.87" y="554.37" width="1.50" height="1.50" fill="#8bb9e8"/>
<rect x="292.88" y="524.73" width="1.50" height="1.50" fill="#4f9d72"/>
<rect x="234.71" y="545.33" width="1.50" height="1.50" fill="#4f9d72"/>
<rect x="241.09" y="492.61" width="1.50" height="1.50" fill="#8bb9e8"/>
<rect x="264.10" y="503.34" width="1.50" height="1.50" fill="#8bb9e8"/>
<rect x="282.05" y="526.19" width="1.50" height="1.50" fill="#4f9d72"/>
<rect x="295.27" y="559.37" width="1.50" height="1.50" fill="#8bb9e8"/>
<rect x="276.38" y="562.48" width="1.50" height="1.50" fill="#8bb9e8"/>
<rect x="271.30" y="495.48" width="1.50" height="1.50" fill="#8bb9e8"/>
<rect x="252.76" y="558.18" width="1.50" height="1.50" fill="#8bb9e8"/>
<rect x="265.52" y="516.62" width="1.50" height="1.50" fill="#8bb9e8"/>
<rect x="259.72" y="528.89" width="1.50" height="1.50" fill="#4f9d72"/>
<rect x="277.87" y="521.81" width="1.50" height="1.50" fill="#8bb9e8"/>
<rect x="268.19" y="504.61" width="1.50" height="1.50" fill="#4f9d72"/>
<rect x="276.24" y="549.58" width="1.50" height="1.50" fill="#8bb9e8"/>
<rect x="295.63" y="545.10" width="1.50" height="1.50" fill="#8bb9e8"/>
<rect x="291.99" y="506.03" width="1.50" height="1.50" fill="#8bb9e8"/>
<rect x="272.35" y="477.00" width="1.50" height="1.50" fill="#8bb9e8"/>
<rect x="270.08" y="558.90" width="1.50" height="1.50" fill="#4f9d72"/>
<rect x="259.52" y="497.35" width="1.50" height="1.50" fill="#8bb9e8"/>
<rect x="242.33" y="561.98" width="1.50" height="1.50" fill="#e6d94a"/>
<rect x="254.01" y="482.48" width="1.50" height="1.50" fill="#4f9d72"/>
<rect x="260.50" y="555.76" width="1.50" height="1.50" fill="#8bb9e8"/>
<rect x="268.20" y="514.34" width="1.50" height="1.50" fill="#8bb9e8"/>
<rect x="291.63" y="550.51" width="1.50" height="1.50" fill="#8bb9e8"/>
<rect x="286.05" y="555.80" width="1.50" height="1.50" fill="#8bb9e8"/>
<rect x="271.43" y="516.17" width="1.50" height="1.50" fill="#8bb9e8"/>
<rect x="243.36" y="518.73" width="1.50" height="1.50" fill="#8bb9e8"/>
<rect x="242.15" y="563.53" width="1.50" height="1.50" fill="#4f9d72"/>
<rect x="273.60" y="543.81" width="1.50" height="1.50" fill="#4f9d72"/>
<rect x="256.28" y="477.11" width="1.50" height="1.50" fill="#4f9d72"/>
<rect x="310.33" y="515.55" width="1.50" height="1.50" fill="#8bb9e8"/>
<rect x="274.50" y="546.92" width="1.50" height="1.50" fill="#8bb9e8"/>
<rect x="263.51" y="521.98" width="1.50" height="1.50" fill="#8bb9e8"/>
<rect x="292.83" y="502.60" width="1.50" height="1.50" fill="#4f9d72"/>
<rect x="262.44" y="451.86" width="1.50" height="1.50" fill="#4f9d72"/>
<rect x="274.76" y="534.18" width="1.50" height="1.50" fill="#4f9d72"/>
<rect x="238.86" y="538.94" width="1.50" height="1.50" fill="#8bb9e8"/>
<rect x="254.72" y="509.05" width="1.50" height="1.50" fill="#8bb9e8"/>
<rect x="230.64" y="545.22" width="1.50" height="1.50" fill="#4f9d72"/>
<rect x="260.48" y="553.29" width="1.50" height="1.50" fill="#8bb9e8"/>
<rect x="311.82" y="526.90" width="1.50" height="1.50" fill="#8bb9e8"/>
<rect x="219.72" y="497.19" width="1.50" height="1.50" fill="#4f9d72"/>
<rect x="313.22" y="466.94" width="1.50" height="1.50" fill="#8bb9e8"/>
<rect x="271.87" y="482.99" width="1.50" height="1.50" fill="#8bb9e8"/>
<rect x="273.77" y="498.23" width="1.50" height="1.50" fill="#8bb9e8"/>
<rect x="283.48" y="460.02" width="1.50" height="1.50" fill="#8bb9e8"/>
<rect x="264.20" y="534.79" width="1.50" height="1.50" fill="#4f9d72"/>
<rect x="296.39" y="483.78" width="1.50" height="1.50" fill="#4f9d72"/>
<rect x="260.07" y="555.11" width="1.50" height="1.50" fill="#e6d94a"/>
<rect x="264.50" y="507.38" width="1.50" height="1.50" fill="#8bb9e8"/>
<rect x="279.71" y="465.83" width="1.50" height="1.50" fill="#8bb9e8"/>
<rect x="241.31" y="556.06" width="1.50" height="1.50" fill="#4f9d72"/>
<rect x="281.42" y="512.01" width="1.50" height="1.50" fill="#4f9d72"/>
<rect x="276.80" y="491.06" width="1.50" height="1.50" fill="#8bb9e8"/>
<rect x="273.53" y="561.43" width="1.50" height="1.50" fill="#8bb9e8"/>
<rect x="287.59" y="534.91" width="1.50" height="1.50" fill="#e6d94a"/>
<rect x="269.18" y="488.58" width="1.50" height="1.50" fill="#8bb9e8"/>
<rect x="258.57" y="485.71" width="1.50" height="1.50" fill="#8bb9e8"/>
<rect x="284.37" y="538.16" width="1.50" height="1.50" fill="#8bb9e8"/>
<rect x="270.71" y="548.85" width="1.50" height="1.50" fill="#4f9d72"/>
<rect x="258.01" y="495.85" width="1.50" height="1.50" fill="#4f9d72"/>
<rect x="246.62" y="518.91" width="1.50" height="1.50" fill="#8bb9e8"/>
<rect x="271.02" y="544.82" width="1.50" height="1.50" fill="#8bb9e8"/>
<rect x="231.34" y="475.23" width="1.50" height="1.50" fill="#4f9d72"/>
<rect x="292.87" y="508.53" width="1.50" height="1.50" fill="#8bb9e8"/>
<rect x="285.45" y="476.03" width="1.50" height="1.50" fill="#8bb9e8"/>
<rect x="237.64" y="518.86" width="1.50" height="1.50" fill="#4f9d72"/>
<rect x="257.09" y="519.48" width="1.50" height="1.50" fill="#4f9d72"/>
<rect x="256.73" y="499.03" width="1.50" height="1.50" fill="#8bb9e8"/>
<rect x="268.92" y="527.58" width="1.50" height="1.50" fill="#e6d94a"/>
<rect x="277.28" y="505.95" width="1.50" height="1.50" fill="#8bb9e8"/>
<rect x="287.94" y="529.52" width="1.50" height="1.50" fill="#4f9d72"/>
<rect x="286.73" y="550.34" width="1.50" height="1.50" fill="#e6d94a"/>
<rect x="229.98" y="564.24" width="1.50" height="1.50" fill="#8bb9e8"/>
<rect x="297.00" y="563.05" width="1.50" height="1.50" fill="#4f9d72"/>
<rect x="279.29" y="512.95" width="1.50" height="1.50" fill="#8bb9e8"/>
<rect x="279.74" y="525.41" width="1.50" height="1.50" fill="#8bb9e8"/>
<rect x="307.59" y="512.85" width="1.50" height="1.50" fill="#8bb9e8"/>
<rect x="300.33" y="533.10" width="1.50" height="1.50" fill="#e6d94a"/>
<rect x="313.23" y="522.45" width="1.50" height="1.50" fill="#8bb9e8"/>
<rect x="300.73" y="492.45" width="1.50" height="1.50" fill="#4f9d72"/>
<rect x="254.32" y="438.90" width="1.50" height="1.50" fill="#8bb9e8"/>
<rect x="248.01" y="528.38" width="1.50" height="1.50" fill="#4f9d72"/>
<rect x="273.09" y="535.78" width="1.50" height="1.50" fill="#8bb9e8"/>
<rect x="271.21" y="518.95" width="1.50" height="1.50" fill="#8bb9e8"/>
<rect x="293.29" y="477.79" width="1.50" height="1.50" fill="#8bb9e8"/>
<rect x="265.61" y="488.45" width="1.50" height="1.50" fill="#4f9d72"/>
<rect x="254.53" y="490.77" width="1.50" height="1.50" fill="#8bb9e8"/>
<rect x="272.38" y="546.46" width="1.50" height="1.50" fill="#8bb9e8"/>
<rect x="251.61" y="532.23" width="1.50" height="1.50" fill="#8bb9e8"/>
<rect x="262.66" y="492.73" width="1.50" height="1.50" fill="#8bb9e8"/>
<rect x="250.19" y="510.17" width="1.50" height="1.50" fill="#8bb9e8"/>
<rect x="291.29" y="526.98" width="1.50" height="1.50" fill="#4f9d72"/>
<rect x="283.21" y="564.06" width="1.50" height="1.50" fill="#4f9d72"/>
<rect x="230.43" y="494.11" width="1.50" height="1.50" fill="#4f9d72"/>
<rect x="241.66" y="555.03" width="1.50" height="1.50" fill="#4f9d72"/>
<rect x="246.34" y="493.51" width="1.50" height="1.50" fill="#4f9d72"/>
<rect x="275.20" y="411.20" width="1.50" height="1.50" fill="#4f9d72"/>
<rect x="280.24" y="546.34" width="1.50" height="1.50" fill="#4f9d72"/>
<rect x="260.15" y="511.12" width="1.50" height="1.50" fill="#4f9d72"/>
<rect x="267.75" y="556.55" width="1.50" height="1.50" fill="#8bb9e8"/>
<rect x="296.07" y="501.21" width="1.50" height="1.50" fill="#8bb9e8"/>
<rect x="258.57" y="485.83" width="1.50" height="1.50" fill="#8bb9e8"/>
<rect x="235.05" y="467.64" width="1.50" height="1.50" fill="#8bb9e8"/>
<rect x="234.14" y="531.65" width="1.50" height="1.50" fill="#e6d94a"/>
<rect x="259.33" y="562.97" width="1.50" height="1.50" fill="#8bb9e8"/>
<rect x="306.65" y="514.27" width="1.50" height="1.50" fill="#8bb9e8"/>
<rect x="278.62" y="502.15" width="1.50" height="1.50" fill="#8bb9e8"/>
<rect x="275.22" y="529.26" width="1.50" height="1.50" fill="#8bb9e8"/>
<rect x="222.91" y="524.64" width="1.50" height="1.50" fill="#4f9d72"/>
<rect x="225.62" y="549.81" width="1.50" height="1.50" fill="#8bb9e8"/>
<rect x="267.87" y="479.61" width="1.50" height="1.50" fill="#4f9d72"/>
<rect x="266.05" y="503.05" width="1.50" height="1.50" fill="#4f9d72"/>
<rect x="276.11" y="557.29" width="1.50" height="1.50" fill="#8bb9e8"/>
<rect x="281.05" y="491.57" width="1.50" height="1.50" fill="#4f9d72"/>
<rect x="253.25" y="483.29" width="1.50" height="1.50" fill="#8bb9e8"/>
<rect x="280.61" y="530.87" width="1.50" height="1.50" fill="#8bb9e8"/>
<rect x="287.75" y="492.56" width="1.50" height="1.50" fill="#8bb9e8"/>
<rect x="225.52" y="498.63" width="1.50" height="1.50" fill="#8bb9e8"/>
<rect x="290.23" y="554.75" width="1.50" height="1.50" fill="#e6d94a"/>
<rect x="272.46" y="460.19" width="1.50" height="1.50" fill="#4f9d72"/>
<rect x="242.80" y="533.77" width="1.50" height="1.50" fill="#4f9d72"/>
<rect x="271.60" y="520.62" width="1.50" height="1.50" fill="#8bb9e8"/>
<rect x="254.95" y="419.21" width="1.50" height="1.50" fill="#4f9d72"/>
<rect x="313.45" y="503.54" width="1.50" height="1.50" fill="#4f9d72"/>
<rect x="254.72" y="520.53" width="1.50" height="1.50" fill="#4f9d72"/>
<rect x="236.85" y="436.16" width="1.50" height="1.50" fill="#8bb9e8"/>
<rect x="274.70" y="550.77" width="1.50" height="1.50" fill="#4f9d72"/>
<rect x="282.68" y="490.53" width="1.50" height="1.50" fill="#4f9d72"/>
<rect x="270.73" y="530.62" width="1.50" height="1.50" fill="#8bb9e8"/>
<rect x="274.72" y="526.49" width="1.50" height="1.50" fill="#8bb9e8"/>
<rect x="220.86" y="479.85" width="1.50" height="1.50" fill="#8bb9e8"/>
<rect x="267.79" y="506.25" width="1.50" height="1.50" fill="#4f9d72"/>
<rect x="280.61" y="538.32" width="1.50" height="1.50" fill="#4f9d72"/>
<rect x="294.44" y="522.89" width="1.50" height="1.50" fill="#8bb9e8"/>
<rect x="278.89" y="555.88" width="1.50" height="1.50" fill="#8bb9e8"/>
<rect x="310.25" y="508.30" width="1.50" height="1.50" fill="#8bb9e8"/>
<rect x="307.61" y="535.83" width="1.50" height="1.50" fill="#8bb9e8"/>
<rect x="230.61" y="539.67" width="1.50" height="1.50" fill="#4f9d72"/>
<rect x="281.05" y="549.44" width="1.50" height="1.50" fill="#8bb9e8"/>
<rect x="295.06" y="538.61" width="1.50" height="1.50" fill="#4f9d72"/>
<rect x="320.96" y="528.38" width="1.50" height="1.50" fill="#4f9d72"/>
<rect x="264.32" y="549.02" width="1.50" height="1.50" fill="#4f9d72"/>
<rect x="252.96" y="521.47" width="1.50" height="1.50" fill="#8bb9e8"/>
<rect x="262.13" y="532.29" width="1.50" height="1.50" fill="#4f9d72"/>
<rect x="258.29" y="554.92" width="1.50" height="1.50" fill="#8bb9e8"/>
<rect x="276.06" y="480.07" width="1.50" height="1.50" fill="#8bb9e8"/>
<rect x="282.34" y="526.46" width="1.50" height="1.50" fill="#8bb9e8"/>
<rect x="293.71" y="519.07" width="1.50" height="1.50" fill="#8bb9e8"/>
<rect x="279.25" y="466.04" width="1.50" height="1.50" fill="#4f9d72"/>
<rect x="225.45" y="530.77" width="1.50" height="1.50" fill="#4f9d72"/>
<rect x="266.99" y="535.43" width="1.50" height="1.50" fill="#4f9d72"/>
<rect x="236.35" y="498.96" width="1.50" height="1.50" fill="#4f9d72"/>
<rect x="234.04" y="502.25" width="1.50" height="1.50" fill="#4f9d72"/>
<rect x="311.63" y="551.95" width="1.50" height="1.50" fill="#8bb9e8"/>
<rect x="290.85" y="511.09" width="1.50" height="1.50" fill="#4f9d72"/>
<rect x="316.72" y="522.66" width="1.50" height="1.50" fill="#8bb9e8"/>
<rect x="271.87" y="529.69" width="1.50" height="1.50" fill="#4f9d72"/>
<rect x="271.05" y="549.39" width="1.50" height="1.50" fill="#4f9d72"/>
<rect x="254.95" y="514.83" width="1.50" height="1.50" fill="#4f9d72"/>
<rect x="285.47" y="563.23" width="1.50" height="1.50" fill="#e6d94a"/>
<rect x="265.41" y="524.92" width="1.50" height="1.50" fill="#8bb9e8"/>
<rect x="315.71" y="560.69" width="1.50" height="1.50" fill="#8bb9e8"/>
<rect x="261.84" y="535.86" width="1.50" height="1.50" fill="#8bb9e8"/>
<rect x="323.94" y="531.23" width="1.50" height="1.50" fill="#4f9d72"/>
<rect x="266.80" y="484.23" width="1.50" height="1.50" fill="#8bb9e8"/>
<rect x="256.79" y="505.77" width="1.50" height="1.50" fill="#8bb9e8"/>
<rect x="300.96" y="497.51" width="1.50" height="1.50" fill="#4f9d72"/>
<rect x="269.22" y="457.15" width="1.50" height="1.50" fill="#8bb9e8"/>
<rect x="264.97" y="527.33" width="1.50" height="1.50" fill="#4f9d72"/>
<rect x="322.55" y="544.89" width="1.50" height="1.50" fill="#8bb9e8"/>
<rect x="275.76" y="490.56" width="1.50" height="1.50" fill="#8bb9e8"/>
<rect x="287.03" y="518.52" width="1.50" height="1.50" fill="#8bb9e8"/>
<rect x="283.38" y="469.09" width="1.50" height="1.50" fill="#4f9d72"/>
<rect x="288.49" y="498.21" width="1.50" height="1.50" fill="#8bb9e8"/>
<rect x="307.01" y="489.77" width="1.50" height="1.50" fill="#4f9d72"/>
<rect x="274.65" y="493.77" width="1.50" height="1.50" fill="#4f9d72"/>
<rect x="294.35" y="496.23" width="1.50" height="1.50" fill="#8bb9e8"/>
<rect x="261.16" y="528.65" width="1.50" height="1.50" fill="#8bb9e8"/>
<rect x="261.77" y="548.01" width="1.50" height="1.50" fill="#8bb9e8"/>
<rect x="279.43" y="495.28" width="1.50" height="1.50" fill="#4f9d72"/>
<rect x="260.49" y="499.93" width="1.50" height="1.50" fill="#8bb9e8"/>
<rect x="267.78" y="524.59" width="1.50" height="1.50" fill="#4f9d72"/>
<rect x="268.19" y="562.52" width="1.50" height="1.50" fill="#4f9d72"/>
<rect x="248.05" y="506.54" width="1.50" height="1.50" fill="#4f9d72"/>
<rect x="271.02" y="562.09" width="1.50" height="1.50" fill="#8bb9e8"/>
<rect x="244.27" y="520.69" width="1.50" height="1.50" fill="#4f9d72"/>
<rect x="320.90" y="518.72" width="1.50" height="1.50" fill="#4f9d72"/>
<rect x="260.18" y="511.63" width="1.50" height="1.50" fill="#4f9d72"/>
<rect x="269.97" y="486.37" width="1.50" height="1.50" fill="#4f9d72"/>
<rect x="261.58" y="562.85" width="1.50" height="1.50" fill="#4f9d72"/>
<rect x="252.49" y="520.45" width="1.50" height="1.50" fill="#8bb9e8"/>
<rect x="297.36" y="462.74" width="1.50" height="1.50" fill="#4f9d72"/>
<rect x="236.19" y="522.69" width="1.50" height="1.50" fill="#4f9d72"/>
<rect x="272.04" y="541.19" width="1.50" height="1.50" fill="#8bb9e8"/>
<rect x="262.89" y="553.88" width="1.50" height="1.50" fill="#8bb9e8"/>
<rect x="227.61" y="466.17" width="1.50" height="1.50" fill="#8bb9e8"/>
<rect x="247.96" y="497.43" width="1.50" height="1.50" fill="#4f9d72"/>
<rect x="238.83" y="498.44" width="1.50" height="1.50" fill="#8bb9e8"/>
<rect x="267.59" y="497.01" width="1.50" height="1.50" fill="#4f9d72"/>
<rect x="275.89" y="524.70" width="1.50" height="1.50" fill="#8bb9e8"/>
<rect x="292.31" y="515.00" width="1.50" height="1.50" fill="#8bb9e8"/>
<rect x="261.61" y="425.44" width="1.50" height="1.50" fill="#8bb9e8"/>
<rect x="275.40" y="483.65" width="1.50" height="1.50" fill="#8bb9e8"/>
<rect x="244.55" y="522.84" width="1.50" height="1.50" fill="#8bb9e8"/>
<rect x="276.72" y="487.32" width="1.50" height="1.50" fill="#8bb9e8"/>
<rect x="285.37" y="514.60" width="1.50" height="1.50" fill="#8bb9e8"/>
<rect x="278.70" y="531.07" width="1.50" height="1.50" fill="#4f9d72"/>
<rect x="296.44" y="553.22" width="1.50" height="1.50" fill="#8bb9e8"/>
<rect x="276.21" y="483.49" width="1.50" height="1.50" fill="#8bb9e8"/>
<rect x="288.36" y="486.07" width="1.50" height="1.50" fill="#e6d94a"/>
<rect x="270.90" y="507.06" width="1.50" height="1.50" fill="#8bb9e8"/>
<rect x="227.40" y="481.74" width="1.50" height="1.50" fill="#8bb9e8"/>
<rect x="261.58" y="489.79" width="1.50" height="1.50" fill="#4f9d72"/>
<rect x="270.31" y="473.26" width="1.50" height="1.50" fill="#8bb9e8"/>
<rect x="272.29" y="563.99" width="1.50" height="1.50" fill="#8bb9e8"/>
<rect x="274.99" y="552.65" width="1.50" height="1.50" fill="#4f9d72"/>
<rect x="260.68" y="510.48" width="1.50" height="1.50" fill="#8bb9e8"/>
<rect x="276.04" y="542.95" width="1.50" height="1.50" fill="#8bb9e8"/>
<rect x="292.55" y="539.47" width="1.50" height="1.50" fill="#8bb9e8"/>
<rect x="263.05" y="496.14" width="1.50" height="1.50" fill="#8bb9e8"/>
<rect x="304.42" y="488.71" width="1.50" height="1.50" fill="#8bb9e8"/>
<rect x="226.47" y="486.77" width="1.50" height="1.50" fill="#8bb9e8"/>
<rect x="250.97" y="493.37" width="1.50" height="1.50" fill="#8bb9e8"/>
<rect x="265.00" y="502.58" width="1.50" height="1.50" fill="#8bb9e8"/>
<rect x="273.24" y="477.38" width="1.50" height="1.50" fill="#4f9d72"/>
<rect x="293.81" y="492.36" width="1.50" height="1.50" fill="#4f9d72"/>
<rect x="263.09" y="481.45" width="1.50" height="1.50" fill="#4f9d72"/>
<rect x="243.42" y="554.15" width="1.50" height="1.50" fill="#8bb9e8"/>
<rect x="243.28" y="499.43" width="1.50" height="1.50" fill="#8bb9e8"/>
<rect x="260.29" y="502.40" width="1.50" height="1.50" fill="#4f9d72"/>
<rect x="284.62" y="487.46" width="1.50" height="1.50" fill="#8bb9e8"/>
<rect x="261.20" y="522.86" width="1.50" height="1.50" fill="#4f9d72"/>
<rect x="296.57" y="518.81" width="1.50" height="1.50" fill="#8bb9e8"/>
<rect x="259.07" y="453.86" width="1.50" height="1.50" fill="#8bb9e8"/>
<rect x="236.07" y="544.65" width="1.50" height="1.50" fill="#8bb9e8"/>
<rect x="284.30" y="527.48" width="1.50" height="1.50" fill="#4f9d72"/>
<rect x="256.53" y="540.46" width="1.50" height="1.50" fill="#e6d94a"/>
<rect x="251.57" y="550.16" width="1.50" height="1.50" fill="#8bb9e8"/>
<rect x="281.42" y="526.25" width="1.50" height="1.50" fill="#8bb9e8"/>
<rect x="310.68" y="511.61" width="1.50" height="1.50" fill="#8bb9e8"/>
<rect x="260.26" y="545.76" width="1.50" height="1.50" fill="#8bb9e8"/>
<rect x="265.95" y="513.43" width="1.50" height="1.50" fill="#4f9d72"/>
<rect x="293.64" y="496.99" width="1.50" height="1.50" fill="#8bb9e8"/>
<rect x="292.17" y="558.13" width="1.50" height="1.50" fill="#8bb9e8"/>
<rect x="255.43" y="488.10" width="1.50" height="1.50" fill="#8bb9e8"/>
<rect x="262.61" y="458.65" width="1.50" height="1.50" fill="#8bb9e8"/>
<rect x="259.84" y="490.58" width="1.50" height="1.50" fill="#8bb9e8"/>
<rect x="271.48" y="530.42" width="1.50" height="1.50" fill="#4f9d72"/>
<rect x="246.71" y="491.43" width="1.50" height="1.50" fill="#8bb9e8"/>
<rect x="268.45" y="545.90" width="1.50" height="1.50" fill="#4f9d72"/>
<rect x="264.13" y="542.85" width="1.50" height="1.50" fill="#8bb9e8"/>
<rect x="217.81" y="513.65" width="1.50" height="1.50" fill="#8bb9e8"/>
<rect x="295.32" y="557.50" width="1.50" height="1.50" fill="#4f9d72"/>
<rect x="257.65" y="477.82" width="1.50" height="1.50" fill="#4f9d72"/>
<rect x="286.28" y="555.08" width="1.50" height="1.50" fill="#8bb9e8"/>
<rect x="272.52" y="558.52" width="1.50" height="1.50" fill="#8bb9e8"/>
<rect x="242.93" y="517.33" width="1.50" height="1.50" fill="#4f9d72"/>
<rect x="309.53" y="523.13" width="1.50" height="1.50" fill="#8bb9e8"/>
<rect x="291.55" y="557.83" width="1.50" height="1.50" fill="#8bb9e8"/>
<rect x="260.42" y="475.46" width="1.50" height="1.50" fill="#8bb9e8"/>
<rect x="279.52" y="561.60" width="1.50" height="1.50" fill="#4f9d72"/>
<rect x="265.99" y="477.61" width="1.50" height="1.50" fill="#e6d94a"/>
<rect x="229.09" y="515.65" width="1.50" height="1.50" fill="#4f9d72"/>
<rect x="286.91" y="514.54" width="1.50" height="1.50" fill="#4f9d72"/>
<rect x="235.56" y="433.71" width="1.50" height="1.50" fill="#8bb9e8"/>
<rect x="272.75" y="487.66" width="1.50" height="1.50" fill="#e6d94a"/>
<rect x="230.40" y="448.98" width="1.50" height="1.50" fill="#8bb9e8"/>
<rect x="251.68" y="498.92" width="1.50" height="1.50" fill="#4f9d72"/>
<rect x="264.93" y="447.22" width="1.50" height="1.50" fill="#4f9d72"/>
<rect x="287.41" y="552.61" width="1.50" height="1.50" fill="#4f9d72"/>
<rect x="276.06" y="507.50" width="1.50" height="1.50" fill="#8bb9e8"/>
<rect x="314.15" y="556.48" width="1.50" height="1.50" fill="#4f9d72"/>
<rect x="313.76" y="521.47" width="1.50" height="1.50" fill="#4f9d72"/>
<rect x="273.24" y="552.14" width="1.50" height="1.50" fill="#4f9d72"/>
<rect x="283.81" y="490.85" width="1.50" height="1.50" fill="#4f9d72"/>
<rect x="287.15" y="564.73" width="1.50" height="1.50" fill="#8bb9e8"/>
<rect x="256.24" y="480.01" width="1.50" height="1.50" fill="#8bb9e8"/>
<rect x="267.88" y="463.73" width="1.50" height="1.50" fill="#4f9d72"/>
<rect x="261.47" y="534.43" width="1.50" height="1.50" fill="#8bb9e8"/>
<rect x="217.70" y="502.04" width="1.50" height="1.50" fill="#4f9d72"/>
<rect x="261.08" y="497.22" width="1.50" height="1.50" fill="#8bb9e8"/>
<rect x="249.32" y="504.06" width="1.50" height="1.50" fill="#8bb9e8"/>
<rect x="267.42" y="547.77" width="1.50" height="1.50" fill="#4f9d72"/>
<rect x="280.76" y="464.10" width="1.50" height="1.50" fill="#8bb9e8"/>
<rect x="258.40" y="487.00" width="1.50" height="1.50" fill="#8bb9e8"/>
<rect x="274.34" y="519.74" width="1.50" height="1.50" fill="#8bb9e8"/>
<rect x="251.55" y="527.08" width="1.50" height="1.50" fill="#4f9d72"/>
<rect x="253.09" y="404.67" width="1.50" height="1.50" fill="#8bb9e8"/>
<rect x="269.94" y="487.21" width="1.50" height="1.50" fill="#8bb9e8"/>
<rect x="280.96" y="522.66" width="1.50" height="1.50" fill="#4f9d72"/>
<rect x="263.00" y="552.08" width="1.50" height="1.50" fill="#8bb9e8"/>
<path d="M217.9,439.8 L220.6,442.6 L223.3,445.4 L226.1,448.0 L228.8,450.6 L231.5,453.1 L234.2,455.5 L236.9,457.8 L239.7,460.1 L242.4,462.2 L245.1,464.2 L247.8,466.1 L250.5,468.0 L253.3,469.7 L256.0,471.3 L258.7,472.9 L261.4,474.3 L264.1,475.6 L266.9,476.8 L269.6,477.9 L272.3,478.9 L275.0,479.8 L277.8,480.6 L280.5,481.2 L283.2,481.8 L285.9,482.2 L288.6,482.5 L291.4,482.7 L294.1,482.8 L296.8,482.7 L299.5,482.5 L302.2,482.2 L305.0,481.8 L307.7,481.2 L310.4,480.5 L313.1,479.7 L315.8,478.8 L318.6,477.7 L321.3,476.5 L324.0,475.1 L324.0,505.0 L321.3,504.8 L318.6,504.6 L315.8,504.3 L313.1,503.9 L310.4,503.5 L307.7,503.1 L305.0,502.6 L302.2,502.1 L299.5,501.6 L296.8,501.0 L294.1,500.4 L291.4,499.9 L288.6,499.3 L285.9,498.7 L283.2,498.1 L280.5,497.5 L277.8,496.9 L275.0,496.3 L272.3,495.7 L269.6,495.2 L266.9,494.7 L264.1,494.2 L261.4,493.8 L258.7,493.4 L256.0,493.0 L253.3,492.7 L250.5,492.4 L247.8,492.2 L245.1,492.1 L242.4,492.0 L239.7,492.0 L236.9,492.1 L234.2,492.2 L231.5,492.4 L228.8,492.7 L226.1,493.2 L223.3,493.7 L220.6,494.3 L217.9,495.0 Z" fill="#bdbdbd" opacity="0.6"/>
<path d="M210.0,461.4 L212.9,464.2 L215.8,466.9 L218.8,469.5 L221.7,472.1 L224.6,474.6 L227.5,477.1 L230.5,479.5 L233.4,481.8 L236.3,484.1 L239.2,486.3 L242.2,488.4 L245.1,490.3 L248.0,492.2 L250.9,493.8 L253.8,495.4 L256.8,496.8 L259.7,498.3 L262.6,499.7 L265.5,501.1 L268.5,502.5 L271.4,503.8 L274.3,505.0 L277.2,506.2 L280.2,507.4 L283.1,508.5 L286.0,509.5 L288.9,510.4 L291.8,511.3 L294.8,512.0 L297.7,512.7 L300.6,513.4 L303.5,513.9 L306.5,514.4 L309.4,514.8 L312.3,515.2 L315.2,515.5 L318.2,515.7 L321.1,515.8 L324.0,515.9 L324.0,527.1 L321.1,526.4 L318.2,525.7 L315.2,525.0 L312.3,524.2 L309.4,523.3 L306.5,522.4 L303.5,521.5 L300.6,520.5 L297.7,519.5 L294.8,518.4 L291.8,517.3 L288.9,516.2 L286.0,515.0 L283.1,513.8 L280.2,512.6 L277.2,511.4 L274.3,510.2 L271.4,509.0 L268.5,507.7 L265.5,506.3 L262.6,504.9 L259.7,503.5 L256.8,502.0 L253.8,500.6 L250.9,499.0 L248.0,497.6 L245.1,496.3 L242.2,495.0 L239.2,493.8 L236.3,492.7 L233.4,491.6 L230.5,490.5 L227.5,489.4 L224.6,488.4 L221.7,487.4 L218.8,486.4 L215.8,485.5 L212.9,484.6 L210.0,483.6 Z" fill="#a9a9a9" opacity="0.55"/>
<path d="M210.0,463.0 L212.9,466.6 L215.8,470.1 L218.8,473.6 L221.7,477.0 L224.6,480.3 L227.5,483.5 L230.5,486.6 L233.4,489.6 L236.3,492.5 L239.2,495.3 L242.2,498.0 L245.1,500.6 L248.0,503.0 L250.9,505.1 L253.8,507.2 L256.8,509.1 L259.7,511.0 L262.6,512.9 L265.5,514.7 L268.5,516.4 L271.4,518.1 L274.3,519.7 L277.2,521.3 L280.2,522.8 L283.1,524.2 L286.0,525.5 L288.9,526.6 L291.8,527.8 L294.8,528.8 L297.7,529.7 L300.6,530.6 L303.5,531.4 L306.5,532.1 L309.4,532.7 L312.3,533.2 L315.2,533.7 L318.2,534.1 L321.1,534.4 L324.0,534.6 L324.0,545.8 L321.1,545.0 L318.2,544.1 L315.2,543.2 L312.3,542.2 L309.4,541.2 L306.5,540.1 L303.5,538.9 L300.6,537.7 L297.7,536.5 L294.8,535.1 L291.8,533.8 L288.9,532.4 L286.0,531.0 L283.1,529.5 L280.2,528.0 L277.2,526.5 L274.3,524.9 L271.4,523.3 L268.5,521.6 L265.5,519.9 L262.6,518.1 L259.7,516.2 L256.8,514.3 L253.8,512.4 L250.9,510.3 L248.0,508.4 L245.1,506.5 L242.2,504.7 L239.2,502.9 L236.3,501.1 L233.4,499.4 L230.5,497.6 L227.5,495.9 L224.6,494.1 L221.7,492.3 L218.8,490.5 L215.8,488.8 L212.9,487.0 L210.0,485.2 Z" fill="#a9a9a9" opacity="0.55"/>
<path d="M217.9,467.6 L220.6,469.1 L223.3,470.6 L226.1,472.0 L228.8,473.4 L231.5,474.7 L234.2,476.0 L236.9,477.2 L239.7,478.4 L242.4,479.5 L245.1,480.6 L247.8,481.6 L250.5,482.6 L253.3,483.6 L256.0,484.5 L258.7,485.4 L261.4,486.2 L264.1,486.9 L266.9,487.6 L269.6,488.3 L272.3,488.9 L275.0,489.5 L277.8,490.0 L280.5,490.4 L283.2,490.8 L285.9,491.2 L288.6,491.5 L291.4,491.7 L294.1,491.9 L296.8,492.0 L299.5,492.1 L302.2,492.2 L305.0,492.1 L307.7,492.1 L310.4,491.9 L313.1,491.7 L315.8,491.5 L318.6,491.2 L321.3,490.8 L324.0,490.4" fill="none" stroke="#ece13a" stroke-width="2.2" stroke-linejoin="round"/>
<path d="M210.0,472.5 L212.9,474.4 L215.8,476.2 L218.8,478.0 L221.7,479.8 L224.6,481.5 L227.5,483.3 L230.5,485.0 L233.4,486.7 L236.3,488.4 L239.2,490.1 L242.2,491.7 L245.1,493.3 L248.0,494.9 L250.9,496.4 L253.8,498.0 L256.8,499.4 L259.7,500.9 L262.6,502.3 L265.5,503.7 L268.5,505.1 L271.4,506.4 L274.3,507.6 L277.2,508.8 L280.2,510.0 L283.1,511.2 L286.0,512.2 L288.9,513.3 L291.8,514.3 L294.8,515.2 L297.7,516.1 L300.6,516.9 L303.5,517.7 L306.5,518.4 L309.4,519.1 L312.3,519.7 L315.2,520.2 L318.2,520.7 L321.1,521.1 L324.0,521.5" fill="none" stroke="#3d8f5c" stroke-width="2.0" stroke-linejoin="round"/>
<path d="M210.0,474.1 L212.9,476.8 L215.8,479.5 L218.8,482.1 L221.7,484.7 L224.6,487.2 L227.5,489.7 L230.5,492.1 L233.4,494.5 L236.3,496.8 L239.2,499.1 L242.2,501.3 L245.1,503.5 L248.0,505.7 L250.9,507.7 L253.8,509.8 L256.8,511.7 L259.7,513.6 L262.6,515.5 L265.5,517.3 L268.5,519.0 L271.4,520.7 L274.3,522.3 L277.2,523.9 L280.2,525.4 L283.1,526.8 L286.0,528.2 L288.9,529.5 L291.8,530.8 L294.8,532.0 L297.7,533.1 L300.6,534.1 L303.5,535.1 L306.5,536.1 L309.4,536.9 L312.3,537.7 L315.2,538.4 L318.2,539.1 L321.1,539.7 L324.0,540.2" fill="none" stroke="#6aa2da" stroke-width="2.0" stroke-linejoin="round"/>
</g>
<line x1="210.60" y1="394.30" x2="210.60" y2="571.60" stroke="#1a1a1a" stroke-width="1.4"/>
<line x1="209.90" y1="570.90" x2="323.90" y2="570.90" stroke="#1a1a1a" stroke-width="1.4"/>
<line x1="207.40" y1="453.60" x2="210.60" y2="453.60" stroke="#222" stroke-width="0.8"/>
<text x="0.00" y="0.00" font-size="6.8" fill="#1a1a1a" text-anchor="end" font-weight="normal" stroke="#1a1a1a" stroke-width="0.18" transform="translate(204.40,456.00) rotate(0) scale(0.84,1)">16</text>
<line x1="207.40" y1="496.60" x2="210.60" y2="496.60" stroke="#222" stroke-width="0.8"/>
<text x="0.00" y="0.00" font-size="6.8" fill="#1a1a1a" text-anchor="end" font-weight="normal" stroke="#1a1a1a" stroke-width="0.18" transform="translate(204.40,499.00) rotate(0) scale(0.84,1)">8</text>
<line x1="207.40" y1="526.80" x2="210.60" y2="526.80" stroke="#222" stroke-width="0.8"/>
<text x="0.00" y="0.00" font-size="6.8" fill="#1a1a1a" text-anchor="end" font-weight="normal" stroke="#1a1a1a" stroke-width="0.18" transform="translate(204.40,529.20) rotate(0) scale(0.84,1)">4</text>
<line x1="207.40" y1="548.20" x2="210.60" y2="548.20" stroke="#222" stroke-width="0.8"/>
<text x="0.00" y="0.00" font-size="6.8" fill="#1a1a1a" text-anchor="end" font-weight="normal" stroke="#1a1a1a" stroke-width="0.18" transform="translate(204.40,550.60) rotate(0) scale(0.84,1)">2</text>
<line x1="221.90" y1="571.00" x2="221.90" y2="574.20" stroke="#222" stroke-width="0.8"/>
<text x="0.00" y="0.00" font-size="6.5" fill="#1a1a1a" text-anchor="middle" font-weight="normal" stroke="#1a1a1a" stroke-width="0.17" transform="translate(221.90,583.60) rotate(0) scale(0.95,1)">-10</text>
<line x1="251.90" y1="571.00" x2="251.90" y2="574.20" stroke="#222" stroke-width="0.8"/>
<text x="0.00" y="0.00" font-size="6.5" fill="#1a1a1a" text-anchor="middle" font-weight="normal" stroke="#1a1a1a" stroke-width="0.17" transform="translate(251.90,583.60) rotate(0) scale(0.95,1)">0</text>
<line x1="281.90" y1="571.00" x2="281.90" y2="574.20" stroke="#222" stroke-width="0.8"/>
<text x="0.00" y="0.00" font-size="6.5" fill="#1a1a1a" text-anchor="middle" font-weight="normal" stroke="#1a1a1a" stroke-width="0.17" transform="translate(281.90,583.60) rotate(0) scale(0.95,1)">10</text>
<line x1="311.90" y1="571.00" x2="311.90" y2="574.20" stroke="#222" stroke-width="0.8"/>
<text x="0.00" y="0.00" font-size="6.5" fill="#1a1a1a" text-anchor="middle" font-weight="normal" stroke="#1a1a1a" stroke-width="0.17" transform="translate(311.90,583.60) rotate(0) scale(0.95,1)">20</text>
<text x="0.00" y="0.00" font-size="10" fill="#222" text-anchor="middle" font-weight="normal" stroke="#222" stroke-width="0.27" transform="translate(266.90,596.50) rotate(0) scale(0.7,1)">HCT day</text>
<text x="0.00" y="0.00" font-size="9.4" fill="#222" text-anchor="middle" font-weight="normal" stroke="#222" stroke-width="0.25" transform="translate(190.00,482.80) rotate(-90) scale(0.83,1)">Fecal diversity</text>
<text x="340.60" y="382.00" font-size="11.4" fill="#000" text-anchor="start" font-weight="bold">G</text>
<text x="397.80" y="389.20" font-size="9" fill="#222" text-anchor="start" font-weight="normal" stroke="#222" stroke-width="0.24">Disease subtype</text>
<g>
<circle cx="374.77" cy="398.66" r="1.45" fill="#79aee0"/>
<circle cx="375.65" cy="393.45" r="1.45" fill="#79aee0"/>
<circle cx="379.23" cy="391.97" r="1.45" fill="#79aee0"/>
<circle cx="375.94" cy="397.23" r="1.45" fill="#4a976a"/>
<circle cx="380.29" cy="411.79" r="1.45" fill="#79aee0"/>
<circle cx="375.24" cy="393.57" r="1.45" fill="#79aee0"/>
<circle cx="373.05" cy="397.08" r="1.45" fill="#79aee0"/>
<circle cx="379.01" cy="410.12" r="1.45" fill="#4a976a"/>
<circle cx="376.20" cy="393.59" r="1.45" fill="#79aee0"/>
<circle cx="379.51" cy="406.34" r="1.45" fill="#4a976a"/>
<circle cx="376.14" cy="405.49" r="1.45" fill="#4a976a"/>
<circle cx="374.34" cy="393.70" r="1.45" fill="#79aee0"/>
<circle cx="378.62" cy="393.28" r="1.45" fill="#79aee0"/>
<circle cx="378.11" cy="392.69" r="1.45" fill="#79aee0"/>
<circle cx="377.47" cy="392.67" r="1.45" fill="#79aee0"/>
<circle cx="375.89" cy="390.05" r="1.45" fill="#e7df4c"/>
<circle cx="375.74" cy="412.09" r="1.45" fill="#79aee0"/>
<circle cx="379.53" cy="404.06" r="1.45" fill="#79aee0"/>
<circle cx="377.81" cy="390.03" r="1.45" fill="#4a976a"/>
<circle cx="379.67" cy="411.49" r="1.45" fill="#79aee0"/>
<circle cx="378.59" cy="405.56" r="1.45" fill="#79aee0"/>
<circle cx="374.01" cy="394.82" r="1.45" fill="#79aee0"/>
<circle cx="377.93" cy="401.81" r="1.45" fill="#79aee0"/>
<circle cx="376.68" cy="392.81" r="1.45" fill="#4a976a"/>
<circle cx="378.72" cy="391.35" r="1.45" fill="#79aee0"/>
<circle cx="381.42" cy="399.16" r="1.45" fill="#79aee0"/>
<circle cx="378.15" cy="389.84" r="1.45" fill="#79aee0"/>
<circle cx="375.66" cy="401.47" r="1.45" fill="#79aee0"/>
<circle cx="378.44" cy="404.64" r="1.45" fill="#4a976a"/>
<circle cx="377.74" cy="403.51" r="1.45" fill="#4a976a"/>
<circle cx="379.26" cy="408.92" r="1.45" fill="#79aee0"/>
<circle cx="378.67" cy="404.10" r="1.45" fill="#79aee0"/>
<circle cx="379.24" cy="398.23" r="1.45" fill="#4a976a"/>
<circle cx="377.65" cy="390.95" r="1.45" fill="#e7df4c"/>
<circle cx="376.50" cy="389.45" r="1.45" fill="#79aee0"/>
<circle cx="376.37" cy="394.69" r="1.45" fill="#4a976a"/>
<circle cx="376.06" cy="395.72" r="1.45" fill="#4a976a"/>
<circle cx="379.14" cy="403.28" r="1.45" fill="#4a976a"/>
<circle cx="377.68" cy="403.05" r="1.45" fill="#79aee0"/>
<circle cx="376.92" cy="409.05" r="1.45" fill="#4a976a"/>
<circle cx="378.64" cy="390.93" r="1.45" fill="#4a976a"/>
<circle cx="376.99" cy="390.63" r="1.45" fill="#79aee0"/>
<circle cx="376.89" cy="398.10" r="1.45" fill="#4a976a"/>
<circle cx="377.71" cy="396.93" r="1.45" fill="#79aee0"/>
<circle cx="376.74" cy="390.99" r="1.45" fill="#79aee0"/>
<circle cx="372.58" cy="403.96" r="1.45" fill="#79aee0"/>
<circle cx="367.09" cy="403.98" r="1.45" fill="#79aee0"/>
<circle cx="369.93" cy="403.46" r="1.45" fill="#79aee0"/>
<circle cx="369.38" cy="403.33" r="1.45" fill="#4a976a"/>
<circle cx="366.99" cy="405.55" r="1.45" fill="#4a976a"/>
<circle cx="368.76" cy="405.77" r="1.45" fill="#4a976a"/>
<circle cx="367.03" cy="406.18" r="1.45" fill="#e7df4c"/>
<circle cx="367.61" cy="405.73" r="1.45" fill="#e7df4c"/>
<circle cx="368.48" cy="407.55" r="1.45" fill="#4a976a"/>
<circle cx="369.06" cy="404.83" r="1.45" fill="#79aee0"/>
<circle cx="384.82" cy="400.61" r="1.45" fill="#79aee0"/>
<circle cx="387.97" cy="400.31" r="1.45" fill="#4a976a"/>
<circle cx="387.03" cy="400.71" r="1.45" fill="#79aee0"/>
<circle cx="386.82" cy="404.15" r="1.45" fill="#4a976a"/>
<circle cx="387.34" cy="400.30" r="1.45" fill="#79aee0"/>
<circle cx="387.89" cy="403.75" r="1.45" fill="#79aee0"/>
<circle cx="388.21" cy="403.34" r="1.45" fill="#4a976a"/>
<circle cx="386.86" cy="400.11" r="1.45" fill="#79aee0"/>
<circle cx="385.09" cy="400.68" r="1.45" fill="#4a976a"/>
<circle cx="385.72" cy="402.95" r="1.45" fill="#79aee0"/>
<circle cx="392.61" cy="409.94" r="1.45" fill="#79aee0"/>
<circle cx="394.00" cy="411.88" r="1.45" fill="#4a976a"/>
<circle cx="394.07" cy="411.43" r="1.45" fill="#4a976a"/>
<circle cx="393.52" cy="409.85" r="1.45" fill="#e7df4c"/>
<circle cx="392.59" cy="411.21" r="1.45" fill="#79aee0"/>
<circle cx="395.56" cy="409.62" r="1.45" fill="#79aee0"/>
<circle cx="392.85" cy="408.85" r="1.45" fill="#4a976a"/>
<circle cx="388.54" cy="410.16" r="1.45" fill="#79aee0"/>
<circle cx="393.58" cy="409.60" r="1.45" fill="#4a976a"/>
<circle cx="390.84" cy="409.03" r="1.45" fill="#79aee0"/>
<circle cx="379.69" cy="404.89" r="1.45" fill="#79aee0"/>
<circle cx="381.26" cy="404.30" r="1.45" fill="#79aee0"/>
<circle cx="382.15" cy="404.74" r="1.45" fill="#e7df4c"/>
<circle cx="379.85" cy="402.42" r="1.45" fill="#79aee0"/>
<circle cx="383.29" cy="404.30" r="1.45" fill="#79aee0"/>
<circle cx="384.93" cy="402.26" r="1.45" fill="#79aee0"/>
<circle cx="383.12" cy="401.79" r="1.45" fill="#4a976a"/>
<circle cx="380.33" cy="403.71" r="1.45" fill="#4a976a"/>
<circle cx="353.91" cy="440.04" r="1.45" fill="#79aee0"/>
<circle cx="352.24" cy="438.06" r="1.45" fill="#79aee0"/>
<circle cx="357.95" cy="440.75" r="1.45" fill="#4a976a"/>
<circle cx="350.12" cy="442.07" r="1.45" fill="#79aee0"/>
<circle cx="353.86" cy="439.93" r="1.45" fill="#79aee0"/>
<circle cx="350.98" cy="439.88" r="1.45" fill="#79aee0"/>
<circle cx="354.98" cy="442.59" r="1.45" fill="#4a976a"/>
<circle cx="354.34" cy="441.08" r="1.45" fill="#79aee0"/>
<circle cx="352.26" cy="438.37" r="1.45" fill="#79aee0"/>
<circle cx="359.92" cy="443.78" r="1.45" fill="#79aee0"/>
<circle cx="355.34" cy="443.93" r="1.45" fill="#4a976a"/>
<circle cx="360.87" cy="443.17" r="1.45" fill="#4a976a"/>
<circle cx="358.03" cy="442.80" r="1.45" fill="#e7df4c"/>
<circle cx="359.30" cy="443.65" r="1.45" fill="#4a976a"/>
<circle cx="353.58" cy="440.96" r="1.45" fill="#79aee0"/>
<circle cx="355.27" cy="447.68" r="1.45" fill="#4a976a"/>
<circle cx="350.01" cy="442.06" r="1.45" fill="#e7df4c"/>
<circle cx="357.85" cy="442.41" r="1.45" fill="#79aee0"/>
<circle cx="357.12" cy="439.36" r="1.45" fill="#79aee0"/>
<circle cx="351.54" cy="444.82" r="1.45" fill="#79aee0"/>
<circle cx="360.56" cy="444.79" r="1.45" fill="#79aee0"/>
<circle cx="361.26" cy="444.66" r="1.45" fill="#79aee0"/>
<circle cx="357.79" cy="442.92" r="1.45" fill="#79aee0"/>
<circle cx="358.83" cy="440.81" r="1.45" fill="#79aee0"/>
<circle cx="358.91" cy="445.17" r="1.45" fill="#4a976a"/>
<circle cx="353.52" cy="443.21" r="1.45" fill="#79aee0"/>
<circle cx="353.75" cy="442.76" r="1.45" fill="#79aee0"/>
<circle cx="356.34" cy="439.44" r="1.45" fill="#79aee0"/>
<circle cx="351.82" cy="440.80" r="1.45" fill="#79aee0"/>
<circle cx="358.90" cy="440.38" r="1.45" fill="#4a976a"/>
<circle cx="358.25" cy="442.15" r="1.45" fill="#79aee0"/>
<circle cx="354.90" cy="442.39" r="1.45" fill="#79aee0"/>
<circle cx="352.59" cy="439.03" r="1.45" fill="#79aee0"/>
<circle cx="358.63" cy="438.63" r="1.45" fill="#4a976a"/>
<circle cx="357.53" cy="445.65" r="1.45" fill="#79aee0"/>
<circle cx="363.67" cy="446.91" r="1.45" fill="#4a976a"/>
<circle cx="371.45" cy="444.06" r="1.45" fill="#79aee0"/>
<circle cx="373.05" cy="446.36" r="1.45" fill="#79aee0"/>
<circle cx="370.02" cy="446.06" r="1.45" fill="#4a976a"/>
<circle cx="366.34" cy="443.77" r="1.45" fill="#79aee0"/>
<circle cx="368.37" cy="443.11" r="1.45" fill="#4a976a"/>
<circle cx="368.19" cy="442.99" r="1.45" fill="#79aee0"/>
<circle cx="375.64" cy="449.44" r="1.45" fill="#79aee0"/>
<circle cx="371.35" cy="450.20" r="1.45" fill="#79aee0"/>
<circle cx="369.84" cy="448.51" r="1.45" fill="#4a976a"/>
<circle cx="357.86" cy="447.80" r="1.45" fill="#4a976a"/>
<circle cx="362.93" cy="449.33" r="1.45" fill="#4a976a"/>
<circle cx="370.07" cy="448.34" r="1.45" fill="#4a976a"/>
<circle cx="361.23" cy="444.27" r="1.45" fill="#79aee0"/>
<circle cx="365.94" cy="446.25" r="1.45" fill="#79aee0"/>
<circle cx="369.08" cy="447.96" r="1.45" fill="#4a976a"/>
<circle cx="366.11" cy="447.44" r="1.45" fill="#79aee0"/>
<circle cx="364.78" cy="449.95" r="1.45" fill="#79aee0"/>
<circle cx="377.30" cy="445.13" r="1.45" fill="#79aee0"/>
<circle cx="360.26" cy="446.02" r="1.45" fill="#79aee0"/>
<circle cx="367.47" cy="444.34" r="1.45" fill="#79aee0"/>
<circle cx="365.09" cy="443.54" r="1.45" fill="#79aee0"/>
<circle cx="365.43" cy="446.81" r="1.45" fill="#4a976a"/>
<circle cx="369.02" cy="447.49" r="1.45" fill="#79aee0"/>
<circle cx="366.79" cy="445.65" r="1.45" fill="#79aee0"/>
<circle cx="373.80" cy="452.64" r="1.45" fill="#4a976a"/>
<circle cx="359.61" cy="442.82" r="1.45" fill="#4a976a"/>
<circle cx="372.97" cy="447.70" r="1.45" fill="#4a976a"/>
<circle cx="361.58" cy="445.79" r="1.45" fill="#79aee0"/>
<circle cx="367.45" cy="451.53" r="1.45" fill="#79aee0"/>
<circle cx="365.71" cy="446.78" r="1.45" fill="#4a976a"/>
<circle cx="366.01" cy="445.08" r="1.45" fill="#79aee0"/>
<circle cx="369.87" cy="456.85" r="1.45" fill="#79aee0"/>
<circle cx="370.87" cy="451.71" r="1.45" fill="#4a976a"/>
<circle cx="367.23" cy="453.56" r="1.45" fill="#79aee0"/>
<circle cx="373.40" cy="453.77" r="1.45" fill="#79aee0"/>
<circle cx="372.29" cy="455.25" r="1.45" fill="#4a976a"/>
<circle cx="372.31" cy="453.71" r="1.45" fill="#79aee0"/>
<circle cx="369.51" cy="458.67" r="1.45" fill="#79aee0"/>
<circle cx="372.78" cy="455.60" r="1.45" fill="#79aee0"/>
<circle cx="369.12" cy="456.49" r="1.45" fill="#79aee0"/>
<circle cx="366.91" cy="453.83" r="1.45" fill="#4a976a"/>
<circle cx="367.84" cy="457.55" r="1.45" fill="#79aee0"/>
<circle cx="364.29" cy="453.82" r="1.45" fill="#4a976a"/>
<circle cx="372.19" cy="454.50" r="1.45" fill="#79aee0"/>
<circle cx="372.00" cy="456.33" r="1.45" fill="#79aee0"/>
<circle cx="365.72" cy="455.68" r="1.45" fill="#4a976a"/>
<circle cx="371.53" cy="452.56" r="1.45" fill="#79aee0"/>
<circle cx="357.00" cy="434.00" r="1.45" fill="#79aee0"/>
<circle cx="366.00" cy="437.00" r="1.45" fill="#4a976a"/>
<circle cx="368.01" cy="467.22" r="1.45" fill="#79aee0"/>
<circle cx="369.18" cy="464.05" r="1.45" fill="#79aee0"/>
<circle cx="374.13" cy="466.76" r="1.45" fill="#79aee0"/>
<circle cx="371.83" cy="463.39" r="1.45" fill="#79aee0"/>
<circle cx="374.51" cy="466.42" r="1.45" fill="#79aee0"/>
<circle cx="370.66" cy="462.82" r="1.45" fill="#79aee0"/>
<circle cx="371.17" cy="467.69" r="1.45" fill="#79aee0"/>
<circle cx="372.14" cy="463.93" r="1.45" fill="#79aee0"/>
<circle cx="367.23" cy="466.26" r="1.45" fill="#79aee0"/>
<circle cx="369.28" cy="464.61" r="1.45" fill="#4a976a"/>
<circle cx="372.54" cy="464.09" r="1.45" fill="#79aee0"/>
<circle cx="369.86" cy="464.56" r="1.45" fill="#4a976a"/>
<circle cx="370.45" cy="462.70" r="1.45" fill="#79aee0"/>
<circle cx="372.42" cy="465.34" r="1.45" fill="#79aee0"/>
<circle cx="369.41" cy="466.68" r="1.45" fill="#4a976a"/>
<circle cx="371.06" cy="465.40" r="1.45" fill="#79aee0"/>
<circle cx="381.14" cy="472.26" r="1.45" fill="#79aee0"/>
<circle cx="376.15" cy="470.41" r="1.45" fill="#4a976a"/>
<circle cx="381.60" cy="473.18" r="1.45" fill="#79aee0"/>
<circle cx="382.16" cy="472.60" r="1.45" fill="#79aee0"/>
<circle cx="380.08" cy="467.18" r="1.45" fill="#79aee0"/>
<circle cx="377.16" cy="471.96" r="1.45" fill="#79aee0"/>
<circle cx="379.44" cy="472.38" r="1.45" fill="#79aee0"/>
<circle cx="377.99" cy="467.22" r="1.45" fill="#79aee0"/>
<circle cx="380.30" cy="473.25" r="1.45" fill="#79aee0"/>
<circle cx="378.68" cy="470.94" r="1.45" fill="#4a976a"/>
<circle cx="374.42" cy="469.25" r="1.45" fill="#4a976a"/>
<circle cx="379.42" cy="472.62" r="1.45" fill="#79aee0"/>
<circle cx="376.75" cy="472.82" r="1.45" fill="#4a976a"/>
<circle cx="363.66" cy="476.49" r="1.45" fill="#79aee0"/>
<circle cx="363.91" cy="474.72" r="1.45" fill="#79aee0"/>
<circle cx="364.02" cy="479.49" r="1.45" fill="#4a976a"/>
<circle cx="364.71" cy="478.87" r="1.45" fill="#79aee0"/>
<circle cx="363.29" cy="474.74" r="1.45" fill="#79aee0"/>
<circle cx="366.12" cy="477.27" r="1.45" fill="#79aee0"/>
<circle cx="362.59" cy="479.13" r="1.45" fill="#4a976a"/>
<circle cx="363.82" cy="479.42" r="1.45" fill="#79aee0"/>
<circle cx="362.68" cy="472.33" r="1.45" fill="#4a976a"/>
<circle cx="362.69" cy="474.27" r="1.45" fill="#79aee0"/>
<circle cx="364.02" cy="479.01" r="1.45" fill="#4a976a"/>
<circle cx="375.02" cy="484.86" r="1.45" fill="#4a976a"/>
<circle cx="370.68" cy="479.78" r="1.45" fill="#79aee0"/>
<circle cx="370.13" cy="476.86" r="1.45" fill="#e7df4c"/>
<circle cx="374.64" cy="486.99" r="1.45" fill="#4a976a"/>
<circle cx="373.70" cy="486.78" r="1.45" fill="#79aee0"/>
<circle cx="375.49" cy="487.66" r="1.45" fill="#79aee0"/>
<circle cx="373.81" cy="484.27" r="1.45" fill="#79aee0"/>
<circle cx="375.69" cy="482.96" r="1.45" fill="#e7df4c"/>
<circle cx="374.69" cy="486.32" r="1.45" fill="#79aee0"/>
<circle cx="373.89" cy="484.06" r="1.45" fill="#79aee0"/>
<circle cx="371.97" cy="477.59" r="1.45" fill="#79aee0"/>
<circle cx="372.93" cy="477.48" r="1.45" fill="#79aee0"/>
<circle cx="374.31" cy="485.58" r="1.45" fill="#79aee0"/>
<circle cx="372.71" cy="474.67" r="1.45" fill="#79aee0"/>
<circle cx="371.51" cy="476.00" r="1.45" fill="#79aee0"/>
<circle cx="374.70" cy="482.31" r="1.45" fill="#79aee0"/>
<circle cx="370.30" cy="474.48" r="1.45" fill="#79aee0"/>
<circle cx="375.43" cy="487.52" r="1.45" fill="#4a976a"/>
<circle cx="374.95" cy="485.75" r="1.45" fill="#79aee0"/>
<circle cx="370.16" cy="500.37" r="1.45" fill="#79aee0"/>
<circle cx="372.63" cy="496.78" r="1.45" fill="#79aee0"/>
<circle cx="367.04" cy="499.15" r="1.45" fill="#4a976a"/>
<circle cx="356.67" cy="494.28" r="1.45" fill="#4a976a"/>
<circle cx="359.98" cy="490.94" r="1.45" fill="#4a976a"/>
<circle cx="357.88" cy="490.37" r="1.45" fill="#4a976a"/>
<circle cx="353.36" cy="493.32" r="1.45" fill="#79aee0"/>
<circle cx="366.14" cy="495.51" r="1.45" fill="#79aee0"/>
<circle cx="367.66" cy="495.19" r="1.45" fill="#79aee0"/>
<circle cx="370.61" cy="496.07" r="1.45" fill="#4a976a"/>
<circle cx="361.02" cy="495.68" r="1.45" fill="#79aee0"/>
<circle cx="359.54" cy="497.79" r="1.45" fill="#79aee0"/>
<circle cx="355.48" cy="496.24" r="1.45" fill="#4a976a"/>
<circle cx="369.77" cy="499.80" r="1.45" fill="#79aee0"/>
<circle cx="352.03" cy="495.48" r="1.45" fill="#79aee0"/>
<circle cx="357.22" cy="496.11" r="1.45" fill="#79aee0"/>
<circle cx="365.71" cy="495.82" r="1.45" fill="#4a976a"/>
<circle cx="356.58" cy="494.62" r="1.45" fill="#4a976a"/>
<circle cx="363.14" cy="493.55" r="1.45" fill="#4a976a"/>
<circle cx="354.80" cy="496.66" r="1.45" fill="#79aee0"/>
<circle cx="367.97" cy="493.42" r="1.45" fill="#4a976a"/>
<circle cx="368.15" cy="493.01" r="1.45" fill="#79aee0"/>
<circle cx="358.53" cy="494.01" r="1.45" fill="#79aee0"/>
<circle cx="369.86" cy="496.19" r="1.45" fill="#4a976a"/>
<circle cx="358.19" cy="495.35" r="1.45" fill="#4a976a"/>
<circle cx="358.21" cy="492.40" r="1.45" fill="#4a976a"/>
<circle cx="371.51" cy="496.96" r="1.45" fill="#4a976a"/>
<circle cx="370.86" cy="497.77" r="1.45" fill="#4a976a"/>
<circle cx="369.54" cy="498.77" r="1.45" fill="#79aee0"/>
<circle cx="370.06" cy="495.25" r="1.45" fill="#79aee0"/>
<circle cx="352.42" cy="496.54" r="1.45" fill="#4a976a"/>
<circle cx="356.85" cy="495.21" r="1.45" fill="#79aee0"/>
<circle cx="361.59" cy="497.00" r="1.45" fill="#79aee0"/>
<circle cx="370.77" cy="493.49" r="1.45" fill="#79aee0"/>
<circle cx="351.82" cy="492.20" r="1.45" fill="#4a976a"/>
<circle cx="359.71" cy="494.31" r="1.45" fill="#4a976a"/>
<circle cx="351.81" cy="493.16" r="1.45" fill="#79aee0"/>
<circle cx="360.68" cy="492.60" r="1.45" fill="#79aee0"/>
<circle cx="362.84" cy="493.65" r="1.45" fill="#79aee0"/>
<circle cx="352.82" cy="491.97" r="1.45" fill="#79aee0"/>
<circle cx="351.77" cy="497.54" r="1.45" fill="#4a976a"/>
<circle cx="362.70" cy="490.71" r="1.45" fill="#79aee0"/>
<circle cx="379.51" cy="492.08" r="1.45" fill="#79aee0"/>
<circle cx="391.42" cy="495.57" r="1.45" fill="#79aee0"/>
<circle cx="384.33" cy="485.94" r="1.45" fill="#79aee0"/>
<circle cx="395.23" cy="494.12" r="1.45" fill="#4a976a"/>
<circle cx="400.60" cy="492.14" r="1.45" fill="#79aee0"/>
<circle cx="384.86" cy="490.89" r="1.45" fill="#79aee0"/>
<circle cx="391.23" cy="485.03" r="1.45" fill="#79aee0"/>
<circle cx="390.28" cy="490.77" r="1.45" fill="#79aee0"/>
<circle cx="396.05" cy="485.67" r="1.45" fill="#4a976a"/>
<circle cx="391.24" cy="483.70" r="1.45" fill="#79aee0"/>
<circle cx="390.98" cy="485.44" r="1.45" fill="#4a976a"/>
<circle cx="384.59" cy="488.63" r="1.45" fill="#79aee0"/>
<circle cx="384.07" cy="486.66" r="1.45" fill="#4a976a"/>
<circle cx="385.41" cy="489.99" r="1.45" fill="#79aee0"/>
<circle cx="397.93" cy="485.09" r="1.45" fill="#4a976a"/>
<circle cx="388.59" cy="492.40" r="1.45" fill="#79aee0"/>
<circle cx="390.75" cy="493.25" r="1.45" fill="#79aee0"/>
<circle cx="392.21" cy="491.57" r="1.45" fill="#79aee0"/>
<circle cx="392.06" cy="489.20" r="1.45" fill="#4a976a"/>
<circle cx="389.55" cy="484.15" r="1.45" fill="#79aee0"/>
<circle cx="392.28" cy="485.66" r="1.45" fill="#79aee0"/>
<circle cx="394.43" cy="488.67" r="1.45" fill="#79aee0"/>
<circle cx="393.78" cy="486.67" r="1.45" fill="#4a976a"/>
<circle cx="380.99" cy="492.30" r="1.45" fill="#79aee0"/>
<circle cx="397.81" cy="485.95" r="1.45" fill="#79aee0"/>
<circle cx="396.08" cy="493.74" r="1.45" fill="#79aee0"/>
<circle cx="396.98" cy="488.84" r="1.45" fill="#79aee0"/>
<circle cx="399.79" cy="490.91" r="1.45" fill="#4a976a"/>
<circle cx="379.36" cy="491.26" r="1.45" fill="#79aee0"/>
<circle cx="389.90" cy="483.24" r="1.45" fill="#4a976a"/>
<circle cx="385.54" cy="494.48" r="1.45" fill="#79aee0"/>
<circle cx="393.00" cy="496.02" r="1.45" fill="#4a976a"/>
<circle cx="396.14" cy="485.60" r="1.45" fill="#79aee0"/>
<circle cx="398.86" cy="487.12" r="1.45" fill="#4a976a"/>
<circle cx="395.82" cy="484.42" r="1.45" fill="#4a976a"/>
<circle cx="398.71" cy="494.44" r="1.45" fill="#79aee0"/>
<circle cx="390.29" cy="490.88" r="1.45" fill="#79aee0"/>
<circle cx="383.28" cy="488.10" r="1.45" fill="#4a976a"/>
<circle cx="381.56" cy="488.51" r="1.45" fill="#79aee0"/>
<circle cx="381.31" cy="491.88" r="1.45" fill="#79aee0"/>
<circle cx="389.83" cy="487.98" r="1.45" fill="#4a976a"/>
<circle cx="386.31" cy="496.33" r="1.45" fill="#79aee0"/>
<circle cx="386.70" cy="484.15" r="1.45" fill="#79aee0"/>
<circle cx="381.91" cy="495.05" r="1.45" fill="#4a976a"/>
<circle cx="386.42" cy="485.06" r="1.45" fill="#e7df4c"/>
<circle cx="391.45" cy="488.79" r="1.45" fill="#79aee0"/>
<circle cx="381.31" cy="488.21" r="1.45" fill="#79aee0"/>
<circle cx="396.92" cy="490.60" r="1.45" fill="#79aee0"/>
<circle cx="380.59" cy="489.05" r="1.45" fill="#79aee0"/>
<circle cx="393.41" cy="488.76" r="1.45" fill="#4a976a"/>
<circle cx="384.62" cy="494.40" r="1.45" fill="#79aee0"/>
<circle cx="398.47" cy="492.09" r="1.45" fill="#79aee0"/>
<circle cx="381.18" cy="493.37" r="1.45" fill="#4a976a"/>
<circle cx="392.58" cy="493.29" r="1.45" fill="#4a976a"/>
<circle cx="395.65" cy="490.89" r="1.45" fill="#79aee0"/>
<circle cx="387.23" cy="494.72" r="1.45" fill="#79aee0"/>
<circle cx="385.28" cy="485.96" r="1.45" fill="#79aee0"/>
<circle cx="382.62" cy="492.53" r="1.45" fill="#79aee0"/>
<circle cx="388.78" cy="490.63" r="1.45" fill="#79aee0"/>
<circle cx="388.00" cy="490.68" r="1.45" fill="#4a976a"/>
<circle cx="386.90" cy="491.21" r="1.45" fill="#79aee0"/>
<circle cx="378.58" cy="486.08" r="1.45" fill="#79aee0"/>
<circle cx="368.03" cy="484.70" r="1.45" fill="#4a976a"/>
<circle cx="368.65" cy="480.16" r="1.45" fill="#4a976a"/>
<circle cx="378.35" cy="486.18" r="1.45" fill="#79aee0"/>
<circle cx="377.03" cy="486.57" r="1.45" fill="#79aee0"/>
<circle cx="368.15" cy="484.00" r="1.45" fill="#4a976a"/>
<circle cx="370.74" cy="482.08" r="1.45" fill="#79aee0"/>
<circle cx="368.93" cy="484.47" r="1.45" fill="#79aee0"/>
<circle cx="378.76" cy="485.61" r="1.45" fill="#4a976a"/>
<circle cx="377.61" cy="487.92" r="1.45" fill="#79aee0"/>
<circle cx="365.32" cy="485.62" r="1.45" fill="#4a976a"/>
<circle cx="369.82" cy="485.03" r="1.45" fill="#4a976a"/>
<circle cx="371.65" cy="482.96" r="1.45" fill="#79aee0"/>
<circle cx="396.47" cy="466.39" r="1.45" fill="#79aee0"/>
<circle cx="396.57" cy="463.51" r="1.45" fill="#4a976a"/>
<circle cx="393.26" cy="468.29" r="1.45" fill="#4a976a"/>
<circle cx="397.12" cy="464.89" r="1.45" fill="#79aee0"/>
<circle cx="393.46" cy="463.84" r="1.45" fill="#4a976a"/>
<circle cx="391.66" cy="467.81" r="1.45" fill="#4a976a"/>
<circle cx="391.61" cy="465.73" r="1.45" fill="#79aee0"/>
<circle cx="394.90" cy="464.11" r="1.45" fill="#79aee0"/>
<circle cx="392.53" cy="463.84" r="1.45" fill="#79aee0"/>
<circle cx="397.55" cy="464.32" r="1.45" fill="#4a976a"/>
<circle cx="393.89" cy="465.36" r="1.45" fill="#4a976a"/>
<circle cx="394.64" cy="464.29" r="1.45" fill="#79aee0"/>
<circle cx="390.43" cy="464.98" r="1.45" fill="#79aee0"/>
<circle cx="415.59" cy="444.96" r="1.45" fill="#79aee0"/>
<circle cx="405.04" cy="441.53" r="1.45" fill="#79aee0"/>
<circle cx="410.34" cy="439.78" r="1.45" fill="#79aee0"/>
<circle cx="408.27" cy="443.99" r="1.45" fill="#79aee0"/>
<circle cx="397.37" cy="444.01" r="1.45" fill="#79aee0"/>
<circle cx="404.99" cy="440.45" r="1.45" fill="#4a976a"/>
<circle cx="398.14" cy="446.24" r="1.45" fill="#79aee0"/>
<circle cx="407.07" cy="442.69" r="1.45" fill="#79aee0"/>
<circle cx="410.09" cy="448.52" r="1.45" fill="#79aee0"/>
<circle cx="403.31" cy="444.32" r="1.45" fill="#79aee0"/>
<circle cx="413.82" cy="441.20" r="1.45" fill="#79aee0"/>
<circle cx="405.03" cy="443.84" r="1.45" fill="#79aee0"/>
<circle cx="403.21" cy="444.73" r="1.45" fill="#79aee0"/>
<circle cx="411.75" cy="448.46" r="1.45" fill="#e7df4c"/>
<circle cx="404.25" cy="441.40" r="1.45" fill="#4a976a"/>
<circle cx="411.36" cy="446.44" r="1.45" fill="#4a976a"/>
<circle cx="401.48" cy="443.32" r="1.45" fill="#4a976a"/>
<circle cx="400.94" cy="444.28" r="1.45" fill="#79aee0"/>
<circle cx="401.29" cy="439.05" r="1.45" fill="#79aee0"/>
<circle cx="401.99" cy="441.94" r="1.45" fill="#4a976a"/>
<circle cx="402.21" cy="449.16" r="1.45" fill="#79aee0"/>
<circle cx="411.28" cy="441.14" r="1.45" fill="#4a976a"/>
<circle cx="414.10" cy="443.79" r="1.45" fill="#79aee0"/>
<circle cx="396.30" cy="443.63" r="1.45" fill="#79aee0"/>
<circle cx="397.68" cy="441.30" r="1.45" fill="#4a976a"/>
<circle cx="415.22" cy="444.38" r="1.45" fill="#4a976a"/>
<circle cx="415.70" cy="443.30" r="1.45" fill="#79aee0"/>
<circle cx="402.67" cy="440.75" r="1.45" fill="#79aee0"/>
<circle cx="400.95" cy="447.26" r="1.45" fill="#79aee0"/>
<circle cx="407.82" cy="448.33" r="1.45" fill="#79aee0"/>
<circle cx="405.59" cy="448.44" r="1.45" fill="#4a976a"/>
<circle cx="409.37" cy="438.90" r="1.45" fill="#79aee0"/>
<circle cx="403.06" cy="439.53" r="1.45" fill="#79aee0"/>
<circle cx="408.65" cy="439.49" r="1.45" fill="#4a976a"/>
<circle cx="397.76" cy="446.83" r="1.45" fill="#4a976a"/>
<circle cx="409.57" cy="448.15" r="1.45" fill="#79aee0"/>
<circle cx="414.18" cy="446.55" r="1.45" fill="#4a976a"/>
<circle cx="412.57" cy="441.46" r="1.45" fill="#4a976a"/>
<circle cx="405.15" cy="444.54" r="1.45" fill="#79aee0"/>
<circle cx="403.95" cy="443.55" r="1.45" fill="#79aee0"/>
<circle cx="405.63" cy="444.21" r="1.45" fill="#79aee0"/>
<circle cx="411.44" cy="448.38" r="1.45" fill="#79aee0"/>
<circle cx="417.49" cy="451.01" r="1.45" fill="#79aee0"/>
<circle cx="417.81" cy="457.91" r="1.45" fill="#79aee0"/>
<circle cx="420.32" cy="458.81" r="1.45" fill="#4a976a"/>
<circle cx="420.96" cy="451.04" r="1.45" fill="#4a976a"/>
<circle cx="424.18" cy="451.08" r="1.45" fill="#4a976a"/>
<circle cx="423.93" cy="457.32" r="1.45" fill="#4a976a"/>
<circle cx="420.11" cy="450.56" r="1.45" fill="#79aee0"/>
<circle cx="417.71" cy="457.73" r="1.45" fill="#4a976a"/>
<circle cx="424.47" cy="455.17" r="1.45" fill="#79aee0"/>
<circle cx="417.42" cy="454.30" r="1.45" fill="#79aee0"/>
<circle cx="425.26" cy="452.83" r="1.45" fill="#79aee0"/>
<circle cx="421.62" cy="450.39" r="1.45" fill="#e7df4c"/>
<circle cx="418.63" cy="457.54" r="1.45" fill="#79aee0"/>
<circle cx="423.01" cy="452.44" r="1.45" fill="#79aee0"/>
<circle cx="423.58" cy="450.59" r="1.45" fill="#79aee0"/>
<circle cx="416.60" cy="452.84" r="1.45" fill="#4a976a"/>
<circle cx="421.23" cy="452.16" r="1.45" fill="#4a976a"/>
<circle cx="419.40" cy="450.56" r="1.45" fill="#79aee0"/>
<circle cx="421.50" cy="450.26" r="1.45" fill="#79aee0"/>
<circle cx="411.63" cy="477.16" r="1.45" fill="#79aee0"/>
<circle cx="409.79" cy="473.53" r="1.45" fill="#79aee0"/>
<circle cx="407.86" cy="475.37" r="1.45" fill="#4a976a"/>
<circle cx="411.65" cy="473.79" r="1.45" fill="#4a976a"/>
<circle cx="408.03" cy="476.19" r="1.45" fill="#79aee0"/>
<circle cx="413.93" cy="478.92" r="1.45" fill="#79aee0"/>
<circle cx="410.52" cy="475.88" r="1.45" fill="#4a976a"/>
<circle cx="413.94" cy="477.99" r="1.45" fill="#79aee0"/>
<circle cx="415.89" cy="486.07" r="1.45" fill="#79aee0"/>
<circle cx="412.75" cy="485.90" r="1.45" fill="#4a976a"/>
<circle cx="421.62" cy="487.27" r="1.45" fill="#e7df4c"/>
<circle cx="413.31" cy="486.19" r="1.45" fill="#4a976a"/>
<circle cx="420.36" cy="488.72" r="1.45" fill="#79aee0"/>
<circle cx="416.24" cy="486.91" r="1.45" fill="#e7df4c"/>
<circle cx="418.83" cy="489.34" r="1.45" fill="#79aee0"/>
<circle cx="418.60" cy="489.68" r="1.45" fill="#79aee0"/>
<circle cx="417.24" cy="489.03" r="1.45" fill="#79aee0"/>
<circle cx="417.28" cy="487.30" r="1.45" fill="#79aee0"/>
<circle cx="419.86" cy="486.68" r="1.45" fill="#79aee0"/>
<circle cx="420.13" cy="485.55" r="1.45" fill="#4a976a"/>
<circle cx="412.34" cy="488.11" r="1.45" fill="#4a976a"/>
<circle cx="413.47" cy="484.58" r="1.45" fill="#79aee0"/>
<circle cx="411.58" cy="486.60" r="1.45" fill="#4a976a"/>
<circle cx="416.52" cy="486.64" r="1.45" fill="#79aee0"/>
<circle cx="420.05" cy="475.73" r="1.45" fill="#79aee0"/>
<circle cx="421.65" cy="466.63" r="1.45" fill="#79aee0"/>
<circle cx="428.20" cy="476.67" r="1.45" fill="#4a976a"/>
<circle cx="418.56" cy="472.33" r="1.45" fill="#4a976a"/>
<circle cx="421.83" cy="475.19" r="1.45" fill="#4a976a"/>
<circle cx="421.76" cy="475.79" r="1.45" fill="#79aee0"/>
<circle cx="425.76" cy="471.58" r="1.45" fill="#4a976a"/>
<circle cx="427.82" cy="476.37" r="1.45" fill="#79aee0"/>
<circle cx="421.76" cy="467.26" r="1.45" fill="#79aee0"/>
<circle cx="425.66" cy="471.94" r="1.45" fill="#79aee0"/>
<circle cx="427.97" cy="477.81" r="1.45" fill="#79aee0"/>
<circle cx="420.46" cy="469.58" r="1.45" fill="#4a976a"/>
<circle cx="425.37" cy="469.98" r="1.45" fill="#79aee0"/>
<circle cx="423.84" cy="473.46" r="1.45" fill="#4a976a"/>
<circle cx="422.71" cy="467.73" r="1.45" fill="#4a976a"/>
<circle cx="421.41" cy="477.36" r="1.45" fill="#4a976a"/>
<circle cx="427.59" cy="467.42" r="1.45" fill="#79aee0"/>
<circle cx="426.32" cy="478.31" r="1.45" fill="#79aee0"/>
<circle cx="425.33" cy="479.45" r="1.45" fill="#4a976a"/>
<circle cx="433.07" cy="430.81" r="1.45" fill="#79aee0"/>
<circle cx="430.82" cy="431.50" r="1.45" fill="#79aee0"/>
<circle cx="427.80" cy="429.95" r="1.45" fill="#4a976a"/>
<circle cx="436.72" cy="432.12" r="1.45" fill="#79aee0"/>
<circle cx="429.70" cy="431.38" r="1.45" fill="#79aee0"/>
<circle cx="427.63" cy="430.23" r="1.45" fill="#79aee0"/>
<circle cx="429.95" cy="432.18" r="1.45" fill="#4a976a"/>
<circle cx="428.06" cy="431.41" r="1.45" fill="#79aee0"/>
<circle cx="430.25" cy="428.46" r="1.45" fill="#79aee0"/>
<circle cx="429.43" cy="429.59" r="1.45" fill="#79aee0"/>
<circle cx="434.72" cy="432.28" r="1.45" fill="#79aee0"/>
<circle cx="427.28" cy="430.40" r="1.45" fill="#4a976a"/>
<circle cx="431.08" cy="428.18" r="1.45" fill="#4a976a"/>
<circle cx="427.29" cy="432.45" r="1.45" fill="#79aee0"/>
<circle cx="434.26" cy="432.73" r="1.45" fill="#4a976a"/>
<circle cx="429.61" cy="431.94" r="1.45" fill="#79aee0"/>
<circle cx="451.09" cy="437.32" r="1.45" fill="#79aee0"/>
<circle cx="452.10" cy="442.78" r="1.45" fill="#79aee0"/>
<circle cx="450.41" cy="441.75" r="1.45" fill="#79aee0"/>
<circle cx="447.31" cy="442.26" r="1.45" fill="#79aee0"/>
<circle cx="447.81" cy="437.93" r="1.45" fill="#79aee0"/>
<circle cx="450.14" cy="440.39" r="1.45" fill="#79aee0"/>
<circle cx="449.16" cy="442.15" r="1.45" fill="#79aee0"/>
<circle cx="452.05" cy="439.70" r="1.45" fill="#79aee0"/>
<circle cx="453.34" cy="438.71" r="1.45" fill="#4a976a"/>
<circle cx="448.39" cy="443.34" r="1.45" fill="#79aee0"/>
<circle cx="447.64" cy="436.57" r="1.45" fill="#79aee0"/>
<circle cx="453.05" cy="441.01" r="1.45" fill="#4a976a"/>
<circle cx="447.71" cy="441.96" r="1.45" fill="#4a976a"/>
<circle cx="451.28" cy="439.12" r="1.45" fill="#e7df4c"/>
<circle cx="449.80" cy="443.10" r="1.45" fill="#79aee0"/>
<circle cx="449.90" cy="436.33" r="1.45" fill="#79aee0"/>
<circle cx="448.89" cy="437.93" r="1.45" fill="#79aee0"/>
<circle cx="454.09" cy="439.00" r="1.45" fill="#e7df4c"/>
<circle cx="448.50" cy="441.62" r="1.45" fill="#79aee0"/>
<circle cx="452.16" cy="436.14" r="1.45" fill="#4a976a"/>
<circle cx="451.30" cy="442.97" r="1.45" fill="#79aee0"/>
<circle cx="450.31" cy="437.72" r="1.45" fill="#79aee0"/>
<circle cx="449.40" cy="437.08" r="1.45" fill="#4a976a"/>
<circle cx="450.05" cy="438.71" r="1.45" fill="#79aee0"/>
<circle cx="485.40" cy="444.68" r="1.45" fill="#79aee0"/>
<circle cx="481.09" cy="437.81" r="1.45" fill="#4a976a"/>
<circle cx="484.60" cy="440.15" r="1.45" fill="#4a976a"/>
<circle cx="482.35" cy="438.53" r="1.45" fill="#4a976a"/>
<circle cx="485.86" cy="437.11" r="1.45" fill="#4a976a"/>
<circle cx="482.87" cy="434.46" r="1.45" fill="#e7df4c"/>
<circle cx="485.53" cy="442.93" r="1.45" fill="#79aee0"/>
<circle cx="483.30" cy="445.17" r="1.45" fill="#79aee0"/>
<circle cx="485.90" cy="438.79" r="1.45" fill="#79aee0"/>
<circle cx="487.67" cy="441.49" r="1.45" fill="#79aee0"/>
<circle cx="484.35" cy="443.54" r="1.45" fill="#4a976a"/>
<circle cx="485.81" cy="445.41" r="1.45" fill="#79aee0"/>
<circle cx="483.71" cy="445.30" r="1.45" fill="#79aee0"/>
<circle cx="485.25" cy="442.20" r="1.45" fill="#4a976a"/>
<circle cx="484.78" cy="436.89" r="1.45" fill="#4a976a"/>
<circle cx="483.65" cy="443.95" r="1.45" fill="#79aee0"/>
<circle cx="485.12" cy="435.96" r="1.45" fill="#79aee0"/>
<circle cx="483.66" cy="440.32" r="1.45" fill="#79aee0"/>
<circle cx="483.49" cy="442.83" r="1.45" fill="#79aee0"/>
<circle cx="487.51" cy="461.69" r="1.45" fill="#79aee0"/>
<circle cx="488.98" cy="460.88" r="1.45" fill="#4a976a"/>
<circle cx="485.11" cy="456.37" r="1.45" fill="#4a976a"/>
<circle cx="484.46" cy="451.06" r="1.45" fill="#79aee0"/>
<circle cx="481.84" cy="451.82" r="1.45" fill="#79aee0"/>
<circle cx="480.65" cy="448.82" r="1.45" fill="#79aee0"/>
<circle cx="485.00" cy="459.52" r="1.45" fill="#79aee0"/>
<circle cx="478.97" cy="447.86" r="1.45" fill="#79aee0"/>
<circle cx="485.94" cy="458.73" r="1.45" fill="#79aee0"/>
<circle cx="481.14" cy="457.30" r="1.45" fill="#4a976a"/>
<circle cx="484.79" cy="453.01" r="1.45" fill="#4a976a"/>
<circle cx="477.15" cy="450.50" r="1.45" fill="#79aee0"/>
<circle cx="481.23" cy="446.83" r="1.45" fill="#79aee0"/>
<circle cx="489.38" cy="451.07" r="1.45" fill="#4a976a"/>
<circle cx="492.03" cy="452.40" r="1.45" fill="#79aee0"/>
<circle cx="487.40" cy="450.64" r="1.45" fill="#79aee0"/>
<circle cx="488.18" cy="454.11" r="1.45" fill="#79aee0"/>
<circle cx="483.29" cy="457.41" r="1.45" fill="#79aee0"/>
<circle cx="489.29" cy="458.28" r="1.45" fill="#4a976a"/>
<circle cx="480.80" cy="457.04" r="1.45" fill="#79aee0"/>
<circle cx="480.83" cy="450.70" r="1.45" fill="#4a976a"/>
<circle cx="486.02" cy="456.76" r="1.45" fill="#4a976a"/>
<circle cx="485.65" cy="448.91" r="1.45" fill="#79aee0"/>
<circle cx="481.43" cy="456.76" r="1.45" fill="#79aee0"/>
<circle cx="485.07" cy="455.59" r="1.45" fill="#4a976a"/>
<circle cx="479.35" cy="452.10" r="1.45" fill="#4a976a"/>
<circle cx="485.44" cy="453.87" r="1.45" fill="#79aee0"/>
<circle cx="489.42" cy="460.17" r="1.45" fill="#79aee0"/>
<circle cx="482.64" cy="454.18" r="1.45" fill="#79aee0"/>
<circle cx="478.49" cy="453.37" r="1.45" fill="#4a976a"/>
<circle cx="483.14" cy="448.81" r="1.45" fill="#79aee0"/>
<circle cx="488.32" cy="448.88" r="1.45" fill="#79aee0"/>
<circle cx="454.71" cy="482.93" r="1.45" fill="#4a976a"/>
<circle cx="471.98" cy="473.38" r="1.45" fill="#79aee0"/>
<circle cx="453.80" cy="486.29" r="1.45" fill="#79aee0"/>
<circle cx="452.52" cy="462.13" r="1.45" fill="#4a976a"/>
<circle cx="454.04" cy="476.45" r="1.45" fill="#4a976a"/>
<circle cx="443.32" cy="479.81" r="1.45" fill="#4a976a"/>
<circle cx="449.44" cy="452.40" r="1.45" fill="#79aee0"/>
<circle cx="463.71" cy="485.40" r="1.45" fill="#4a976a"/>
<circle cx="445.12" cy="452.29" r="1.45" fill="#4a976a"/>
<circle cx="458.84" cy="477.70" r="1.45" fill="#79aee0"/>
<circle cx="456.46" cy="466.46" r="1.45" fill="#79aee0"/>
<circle cx="435.99" cy="478.93" r="1.45" fill="#79aee0"/>
<circle cx="433.37" cy="473.16" r="1.45" fill="#4a976a"/>
<circle cx="437.29" cy="468.22" r="1.45" fill="#79aee0"/>
<circle cx="458.61" cy="459.85" r="1.45" fill="#4a976a"/>
<circle cx="466.20" cy="460.24" r="1.45" fill="#79aee0"/>
<circle cx="471.11" cy="465.71" r="1.45" fill="#e7df4c"/>
<circle cx="463.23" cy="468.05" r="1.45" fill="#4a976a"/>
<circle cx="447.07" cy="453.71" r="1.45" fill="#79aee0"/>
<circle cx="459.91" cy="452.06" r="1.45" fill="#4a976a"/>
<circle cx="453.62" cy="466.25" r="1.45" fill="#4a976a"/>
<circle cx="445.85" cy="460.06" r="1.45" fill="#4a976a"/>
<circle cx="454.43" cy="485.25" r="1.45" fill="#79aee0"/>
<circle cx="467.94" cy="462.29" r="1.45" fill="#4a976a"/>
<circle cx="459.17" cy="475.22" r="1.45" fill="#4a976a"/>
<circle cx="464.78" cy="475.01" r="1.45" fill="#79aee0"/>
<circle cx="467.70" cy="460.49" r="1.45" fill="#4a976a"/>
<circle cx="458.01" cy="452.13" r="1.45" fill="#79aee0"/>
<circle cx="458.57" cy="461.52" r="1.45" fill="#e7df4c"/>
<circle cx="443.50" cy="470.64" r="1.45" fill="#79aee0"/>
<circle cx="455.32" cy="463.41" r="1.45" fill="#e7df4c"/>
<circle cx="459.72" cy="478.06" r="1.45" fill="#4a976a"/>
<circle cx="436.70" cy="459.90" r="1.45" fill="#79aee0"/>
<circle cx="471.23" cy="476.55" r="1.45" fill="#4a976a"/>
<circle cx="440.34" cy="471.52" r="1.45" fill="#79aee0"/>
<circle cx="449.00" cy="456.18" r="1.45" fill="#79aee0"/>
<circle cx="450.88" cy="471.22" r="1.45" fill="#4a976a"/>
<circle cx="461.91" cy="485.32" r="1.45" fill="#79aee0"/>
<circle cx="449.18" cy="475.90" r="1.45" fill="#4a976a"/>
<circle cx="450.40" cy="467.96" r="1.45" fill="#4a976a"/>
<circle cx="463.24" cy="479.67" r="1.45" fill="#4a976a"/>
<circle cx="448.28" cy="462.70" r="1.45" fill="#4a976a"/>
<circle cx="452.62" cy="487.80" r="1.45" fill="#4a976a"/>
<circle cx="446.24" cy="459.09" r="1.45" fill="#4a976a"/>
<circle cx="451.97" cy="463.32" r="1.45" fill="#79aee0"/>
<circle cx="451.12" cy="471.03" r="1.45" fill="#4a976a"/>
<circle cx="437.98" cy="480.26" r="1.45" fill="#4a976a"/>
<circle cx="460.86" cy="480.14" r="1.45" fill="#79aee0"/>
<circle cx="452.38" cy="457.02" r="1.45" fill="#79aee0"/>
<circle cx="465.67" cy="484.89" r="1.45" fill="#79aee0"/>
<circle cx="472.25" cy="478.88" r="1.45" fill="#79aee0"/>
<circle cx="438.52" cy="461.72" r="1.45" fill="#79aee0"/>
<circle cx="463.38" cy="451.60" r="1.45" fill="#e7df4c"/>
<circle cx="445.46" cy="465.47" r="1.45" fill="#4a976a"/>
<circle cx="445.05" cy="475.48" r="1.45" fill="#79aee0"/>
<circle cx="465.38" cy="468.60" r="1.45" fill="#79aee0"/>
<circle cx="465.67" cy="459.82" r="1.45" fill="#e7df4c"/>
<circle cx="464.39" cy="456.27" r="1.45" fill="#79aee0"/>
<circle cx="460.69" cy="481.59" r="1.45" fill="#79aee0"/>
<circle cx="435.75" cy="461.24" r="1.45" fill="#4a976a"/>
<circle cx="447.57" cy="485.36" r="1.45" fill="#4a976a"/>
<circle cx="436.03" cy="466.45" r="1.45" fill="#e7df4c"/>
<circle cx="456.91" cy="467.97" r="1.45" fill="#4a976a"/>
<circle cx="463.07" cy="461.43" r="1.45" fill="#79aee0"/>
<circle cx="453.75" cy="484.67" r="1.45" fill="#79aee0"/>
<circle cx="442.86" cy="471.52" r="1.45" fill="#79aee0"/>
<circle cx="446.65" cy="468.81" r="1.45" fill="#4a976a"/>
<circle cx="435.62" cy="462.06" r="1.45" fill="#79aee0"/>
<circle cx="461.97" cy="472.29" r="1.45" fill="#4a976a"/>
<circle cx="453.34" cy="451.02" r="1.45" fill="#4a976a"/>
<circle cx="466.37" cy="453.92" r="1.45" fill="#79aee0"/>
<circle cx="463.75" cy="466.27" r="1.45" fill="#4a976a"/>
<circle cx="448.46" cy="451.67" r="1.45" fill="#4a976a"/>
<circle cx="474.24" cy="474.62" r="1.45" fill="#4a976a"/>
<circle cx="447.90" cy="456.45" r="1.45" fill="#79aee0"/>
<circle cx="472.20" cy="464.22" r="1.45" fill="#79aee0"/>
<circle cx="438.54" cy="468.75" r="1.45" fill="#79aee0"/>
<circle cx="448.99" cy="482.75" r="1.45" fill="#79aee0"/>
<circle cx="462.90" cy="479.04" r="1.45" fill="#4a976a"/>
<circle cx="466.35" cy="484.73" r="1.45" fill="#4a976a"/>
<circle cx="453.56" cy="475.88" r="1.45" fill="#4a976a"/>
<circle cx="458.83" cy="467.65" r="1.45" fill="#4a976a"/>
<circle cx="438.88" cy="471.71" r="1.45" fill="#4a976a"/>
<circle cx="456.18" cy="463.82" r="1.45" fill="#4a976a"/>
<circle cx="465.09" cy="485.48" r="1.45" fill="#4a976a"/>
<circle cx="455.40" cy="465.15" r="1.45" fill="#4a976a"/>
<circle cx="455.41" cy="479.50" r="1.45" fill="#4a976a"/>
<circle cx="446.27" cy="483.01" r="1.45" fill="#4a976a"/>
<circle cx="462.07" cy="478.11" r="1.45" fill="#79aee0"/>
<circle cx="459.20" cy="452.70" r="1.45" fill="#79aee0"/>
<circle cx="461.46" cy="484.67" r="1.45" fill="#4a976a"/>
<circle cx="462.41" cy="483.68" r="1.45" fill="#4a976a"/>
<circle cx="439.40" cy="468.20" r="1.45" fill="#79aee0"/>
<circle cx="464.58" cy="487.87" r="1.45" fill="#e7df4c"/>
<circle cx="443.51" cy="460.17" r="1.45" fill="#79aee0"/>
<circle cx="461.51" cy="466.42" r="1.45" fill="#4a976a"/>
<circle cx="511.62" cy="478.55" r="1.45" fill="#4a976a"/>
<circle cx="507.52" cy="484.56" r="1.45" fill="#79aee0"/>
<circle cx="502.62" cy="477.90" r="1.45" fill="#79aee0"/>
<circle cx="508.03" cy="484.50" r="1.45" fill="#79aee0"/>
<circle cx="498.69" cy="473.89" r="1.45" fill="#79aee0"/>
<circle cx="495.77" cy="472.03" r="1.45" fill="#4a976a"/>
<circle cx="502.09" cy="477.52" r="1.45" fill="#4a976a"/>
<circle cx="506.60" cy="483.27" r="1.45" fill="#79aee0"/>
<circle cx="500.07" cy="468.19" r="1.45" fill="#4a976a"/>
<circle cx="505.72" cy="464.55" r="1.45" fill="#e7df4c"/>
<circle cx="508.66" cy="464.03" r="1.45" fill="#4a976a"/>
<circle cx="510.05" cy="468.58" r="1.45" fill="#79aee0"/>
<circle cx="511.76" cy="477.42" r="1.45" fill="#4a976a"/>
<circle cx="508.86" cy="466.28" r="1.45" fill="#79aee0"/>
<circle cx="507.09" cy="478.07" r="1.45" fill="#79aee0"/>
<circle cx="502.20" cy="475.43" r="1.45" fill="#4a976a"/>
<circle cx="504.66" cy="482.88" r="1.45" fill="#79aee0"/>
<circle cx="503.97" cy="463.62" r="1.45" fill="#4a976a"/>
<circle cx="506.38" cy="486.29" r="1.45" fill="#e7df4c"/>
<circle cx="498.87" cy="464.50" r="1.45" fill="#4a976a"/>
<circle cx="504.22" cy="466.24" r="1.45" fill="#4a976a"/>
<circle cx="510.68" cy="474.84" r="1.45" fill="#4a976a"/>
<circle cx="503.07" cy="478.33" r="1.45" fill="#e7df4c"/>
<circle cx="502.30" cy="475.66" r="1.45" fill="#79aee0"/>
<circle cx="496.12" cy="475.28" r="1.45" fill="#e7df4c"/>
<circle cx="505.09" cy="466.65" r="1.45" fill="#4a976a"/>
<circle cx="498.24" cy="472.37" r="1.45" fill="#4a976a"/>
<circle cx="507.76" cy="469.54" r="1.45" fill="#79aee0"/>
<circle cx="500.92" cy="485.08" r="1.45" fill="#4a976a"/>
<circle cx="499.80" cy="476.55" r="1.45" fill="#4a976a"/>
<circle cx="508.00" cy="468.32" r="1.45" fill="#e7df4c"/>
<circle cx="511.68" cy="467.51" r="1.45" fill="#79aee0"/>
<circle cx="504.50" cy="476.01" r="1.45" fill="#4a976a"/>
<circle cx="495.77" cy="469.27" r="1.45" fill="#4a976a"/>
<circle cx="495.16" cy="471.98" r="1.45" fill="#4a976a"/>
<circle cx="434.11" cy="491.56" r="1.45" fill="#79aee0"/>
<circle cx="431.26" cy="486.60" r="1.45" fill="#4a976a"/>
<circle cx="424.11" cy="490.30" r="1.45" fill="#79aee0"/>
<circle cx="425.10" cy="498.68" r="1.45" fill="#4a976a"/>
<circle cx="435.60" cy="489.79" r="1.45" fill="#4a976a"/>
<circle cx="436.75" cy="490.72" r="1.45" fill="#79aee0"/>
<circle cx="436.65" cy="498.43" r="1.45" fill="#79aee0"/>
<circle cx="430.01" cy="499.91" r="1.45" fill="#79aee0"/>
<circle cx="435.78" cy="487.85" r="1.45" fill="#79aee0"/>
<circle cx="437.97" cy="490.52" r="1.45" fill="#79aee0"/>
<circle cx="435.63" cy="498.21" r="1.45" fill="#79aee0"/>
<circle cx="432.55" cy="500.88" r="1.45" fill="#79aee0"/>
<circle cx="427.32" cy="491.94" r="1.45" fill="#4a976a"/>
<circle cx="432.34" cy="489.78" r="1.45" fill="#79aee0"/>
<circle cx="433.09" cy="502.42" r="1.45" fill="#4a976a"/>
<circle cx="428.95" cy="502.58" r="1.45" fill="#79aee0"/>
<circle cx="435.27" cy="488.74" r="1.45" fill="#4a976a"/>
<circle cx="421.36" cy="489.95" r="1.45" fill="#79aee0"/>
<circle cx="431.92" cy="495.79" r="1.45" fill="#79aee0"/>
<circle cx="423.24" cy="498.08" r="1.45" fill="#4a976a"/>
<circle cx="426.37" cy="491.44" r="1.45" fill="#4a976a"/>
<circle cx="422.26" cy="498.62" r="1.45" fill="#79aee0"/>
<circle cx="424.99" cy="487.46" r="1.45" fill="#79aee0"/>
<circle cx="437.91" cy="490.34" r="1.45" fill="#4a976a"/>
<circle cx="430.08" cy="497.21" r="1.45" fill="#79aee0"/>
<circle cx="434.09" cy="493.21" r="1.45" fill="#79aee0"/>
<circle cx="423.45" cy="494.96" r="1.45" fill="#79aee0"/>
<circle cx="437.67" cy="489.48" r="1.45" fill="#79aee0"/>
<circle cx="428.13" cy="497.60" r="1.45" fill="#79aee0"/>
<circle cx="427.03" cy="497.29" r="1.45" fill="#79aee0"/>
<circle cx="428.35" cy="486.61" r="1.45" fill="#79aee0"/>
<circle cx="429.56" cy="484.36" r="1.45" fill="#e7df4c"/>
<circle cx="421.60" cy="492.46" r="1.45" fill="#4a976a"/>
<circle cx="426.83" cy="500.66" r="1.45" fill="#79aee0"/>
<circle cx="421.07" cy="490.62" r="1.45" fill="#79aee0"/>
<circle cx="485.94" cy="500.78" r="1.45" fill="#79aee0"/>
<circle cx="486.96" cy="501.15" r="1.45" fill="#4a976a"/>
<circle cx="480.35" cy="474.07" r="1.45" fill="#4a976a"/>
<circle cx="495.31" cy="499.62" r="1.45" fill="#79aee0"/>
<circle cx="482.20" cy="484.48" r="1.45" fill="#e7df4c"/>
<circle cx="475.36" cy="520.11" r="1.45" fill="#79aee0"/>
<circle cx="464.33" cy="477.16" r="1.45" fill="#79aee0"/>
<circle cx="474.41" cy="484.64" r="1.45" fill="#4a976a"/>
<circle cx="495.66" cy="508.50" r="1.45" fill="#e7df4c"/>
<circle cx="466.27" cy="515.30" r="1.45" fill="#79aee0"/>
<circle cx="460.89" cy="501.16" r="1.45" fill="#4a976a"/>
<circle cx="495.84" cy="508.73" r="1.45" fill="#79aee0"/>
<circle cx="460.31" cy="491.21" r="1.45" fill="#4a976a"/>
<circle cx="498.51" cy="504.24" r="1.45" fill="#4a976a"/>
<circle cx="495.52" cy="478.24" r="1.45" fill="#e7df4c"/>
<circle cx="497.52" cy="479.24" r="1.45" fill="#79aee0"/>
<circle cx="452.78" cy="495.91" r="1.45" fill="#4a976a"/>
<circle cx="488.48" cy="504.23" r="1.45" fill="#e7df4c"/>
<circle cx="479.20" cy="479.85" r="1.45" fill="#79aee0"/>
<circle cx="483.89" cy="495.60" r="1.45" fill="#4a976a"/>
<circle cx="473.27" cy="509.55" r="1.45" fill="#79aee0"/>
<circle cx="483.94" cy="489.06" r="1.45" fill="#e7df4c"/>
<circle cx="500.73" cy="513.19" r="1.45" fill="#e7df4c"/>
<circle cx="488.39" cy="482.65" r="1.45" fill="#e7df4c"/>
<circle cx="491.03" cy="520.02" r="1.45" fill="#4a976a"/>
<circle cx="497.56" cy="481.52" r="1.45" fill="#4a976a"/>
<circle cx="463.32" cy="482.91" r="1.45" fill="#4a976a"/>
<circle cx="478.58" cy="479.70" r="1.45" fill="#4a976a"/>
<circle cx="470.83" cy="483.84" r="1.45" fill="#79aee0"/>
<circle cx="458.88" cy="481.16" r="1.45" fill="#4a976a"/>
<circle cx="466.84" cy="486.96" r="1.45" fill="#4a976a"/>
<circle cx="491.81" cy="473.25" r="1.45" fill="#4a976a"/>
<circle cx="483.40" cy="513.70" r="1.45" fill="#e7df4c"/>
<circle cx="465.00" cy="504.15" r="1.45" fill="#e7df4c"/>
<circle cx="466.29" cy="518.31" r="1.45" fill="#4a976a"/>
<circle cx="480.03" cy="489.81" r="1.45" fill="#79aee0"/>
<circle cx="504.51" cy="497.73" r="1.45" fill="#4a976a"/>
<circle cx="473.22" cy="480.10" r="1.45" fill="#79aee0"/>
<circle cx="457.34" cy="486.90" r="1.45" fill="#79aee0"/>
<circle cx="478.97" cy="489.08" r="1.45" fill="#e7df4c"/>
<circle cx="467.69" cy="477.41" r="1.45" fill="#4a976a"/>
<circle cx="467.70" cy="486.72" r="1.45" fill="#4a976a"/>
<circle cx="480.19" cy="480.26" r="1.45" fill="#4a976a"/>
<circle cx="481.42" cy="496.89" r="1.45" fill="#4a976a"/>
<circle cx="459.15" cy="501.23" r="1.45" fill="#79aee0"/>
<circle cx="503.53" cy="510.76" r="1.45" fill="#4a976a"/>
<circle cx="482.42" cy="483.34" r="1.45" fill="#4a976a"/>
<circle cx="492.55" cy="482.89" r="1.45" fill="#79aee0"/>
<circle cx="500.20" cy="484.98" r="1.45" fill="#4a976a"/>
<circle cx="462.24" cy="512.03" r="1.45" fill="#4a976a"/>
<circle cx="463.22" cy="485.09" r="1.45" fill="#4a976a"/>
<circle cx="491.42" cy="490.69" r="1.45" fill="#79aee0"/>
<circle cx="473.86" cy="519.41" r="1.45" fill="#79aee0"/>
<circle cx="483.40" cy="490.41" r="1.45" fill="#79aee0"/>
<circle cx="485.21" cy="492.08" r="1.45" fill="#4a976a"/>
<circle cx="498.94" cy="512.50" r="1.45" fill="#79aee0"/>
<circle cx="467.18" cy="512.13" r="1.45" fill="#4a976a"/>
<circle cx="491.17" cy="513.03" r="1.45" fill="#79aee0"/>
<circle cx="480.96" cy="477.70" r="1.45" fill="#79aee0"/>
<circle cx="478.99" cy="521.57" r="1.45" fill="#4a976a"/>
<circle cx="503.61" cy="487.25" r="1.45" fill="#4a976a"/>
<circle cx="488.62" cy="471.56" r="1.45" fill="#e7df4c"/>
<circle cx="492.79" cy="501.46" r="1.45" fill="#4a976a"/>
<circle cx="473.54" cy="484.65" r="1.45" fill="#4a976a"/>
<circle cx="455.82" cy="482.89" r="1.45" fill="#4a976a"/>
<circle cx="475.86" cy="492.93" r="1.45" fill="#4a976a"/>
<circle cx="459.95" cy="507.52" r="1.45" fill="#e7df4c"/>
<circle cx="467.48" cy="479.54" r="1.45" fill="#79aee0"/>
<circle cx="478.28" cy="488.10" r="1.45" fill="#e7df4c"/>
<circle cx="499.90" cy="510.89" r="1.45" fill="#4a976a"/>
<circle cx="488.72" cy="519.86" r="1.45" fill="#e7df4c"/>
<circle cx="455.29" cy="501.97" r="1.45" fill="#79aee0"/>
<circle cx="502.32" cy="497.32" r="1.45" fill="#4a976a"/>
<circle cx="503.19" cy="495.29" r="1.45" fill="#79aee0"/>
<circle cx="462.18" cy="504.16" r="1.45" fill="#4a976a"/>
<circle cx="490.82" cy="484.32" r="1.45" fill="#e7df4c"/>
<circle cx="472.57" cy="503.18" r="1.45" fill="#4a976a"/>
<circle cx="495.65" cy="496.74" r="1.45" fill="#4a976a"/>
<circle cx="504.97" cy="505.33" r="1.45" fill="#79aee0"/>
<circle cx="453.05" cy="503.20" r="1.45" fill="#e7df4c"/>
<circle cx="482.03" cy="492.08" r="1.45" fill="#79aee0"/>
<circle cx="490.79" cy="492.03" r="1.45" fill="#4a976a"/>
<circle cx="497.97" cy="499.86" r="1.45" fill="#4a976a"/>
<circle cx="485.39" cy="503.19" r="1.45" fill="#4a976a"/>
<circle cx="480.14" cy="498.77" r="1.45" fill="#4a976a"/>
<circle cx="469.12" cy="482.33" r="1.45" fill="#79aee0"/>
<circle cx="462.14" cy="507.39" r="1.45" fill="#4a976a"/>
<circle cx="476.66" cy="478.72" r="1.45" fill="#4a976a"/>
<circle cx="488.99" cy="479.52" r="1.45" fill="#4a976a"/>
<circle cx="468.38" cy="480.83" r="1.45" fill="#4a976a"/>
<circle cx="490.31" cy="497.22" r="1.45" fill="#e7df4c"/>
<circle cx="461.41" cy="484.11" r="1.45" fill="#4a976a"/>
<circle cx="456.97" cy="502.19" r="1.45" fill="#79aee0"/>
<circle cx="483.28" cy="483.57" r="1.45" fill="#79aee0"/>
<circle cx="458.74" cy="513.25" r="1.45" fill="#4a976a"/>
<circle cx="480.73" cy="495.13" r="1.45" fill="#4a976a"/>
<circle cx="486.13" cy="495.58" r="1.45" fill="#4a976a"/>
<circle cx="476.10" cy="472.36" r="1.45" fill="#79aee0"/>
<circle cx="497.28" cy="499.72" r="1.45" fill="#79aee0"/>
<circle cx="492.39" cy="473.17" r="1.45" fill="#4a976a"/>
<circle cx="478.42" cy="488.49" r="1.45" fill="#4a976a"/>
<circle cx="481.50" cy="507.52" r="1.45" fill="#e7df4c"/>
<circle cx="465.86" cy="509.67" r="1.45" fill="#79aee0"/>
<circle cx="491.35" cy="473.84" r="1.45" fill="#4a976a"/>
<circle cx="500.80" cy="503.76" r="1.45" fill="#4a976a"/>
<circle cx="466.60" cy="518.22" r="1.45" fill="#4a976a"/>
<circle cx="453.56" cy="501.02" r="1.45" fill="#4a976a"/>
<circle cx="500.47" cy="509.14" r="1.45" fill="#4a976a"/>
<circle cx="503.96" cy="496.23" r="1.45" fill="#4a976a"/>
<circle cx="498.89" cy="480.37" r="1.45" fill="#e7df4c"/>
<circle cx="479.93" cy="515.67" r="1.45" fill="#79aee0"/>
<circle cx="490.55" cy="515.65" r="1.45" fill="#4a976a"/>
<circle cx="451.23" cy="496.27" r="1.45" fill="#e7df4c"/>
<circle cx="488.73" cy="509.16" r="1.45" fill="#4a976a"/>
<circle cx="481.39" cy="503.58" r="1.45" fill="#79aee0"/>
<circle cx="474.14" cy="519.57" r="1.45" fill="#4a976a"/>
<circle cx="480.24" cy="473.99" r="1.45" fill="#e7df4c"/>
<circle cx="488.20" cy="510.23" r="1.45" fill="#4a976a"/>
<circle cx="491.55" cy="496.41" r="1.45" fill="#4a976a"/>
<circle cx="478.12" cy="516.13" r="1.45" fill="#79aee0"/>
<circle cx="491.73" cy="508.07" r="1.45" fill="#e7df4c"/>
<circle cx="491.59" cy="516.19" r="1.45" fill="#79aee0"/>
<circle cx="473.93" cy="510.81" r="1.45" fill="#4a976a"/>
<circle cx="495.38" cy="510.34" r="1.45" fill="#e7df4c"/>
<circle cx="480.82" cy="496.02" r="1.45" fill="#e7df4c"/>
<circle cx="469.41" cy="479.12" r="1.45" fill="#4a976a"/>
<circle cx="499.98" cy="515.13" r="1.45" fill="#4a976a"/>
<circle cx="471.69" cy="491.60" r="1.45" fill="#e7df4c"/>
<circle cx="496.72" cy="504.56" r="1.45" fill="#4a976a"/>
<circle cx="476.00" cy="521.36" r="1.45" fill="#4a976a"/>
<circle cx="481.76" cy="475.07" r="1.45" fill="#79aee0"/>
<circle cx="472.32" cy="489.07" r="1.45" fill="#79aee0"/>
<circle cx="459.77" cy="503.80" r="1.45" fill="#79aee0"/>
<circle cx="483.07" cy="507.99" r="1.45" fill="#4a976a"/>
<circle cx="503.64" cy="481.45" r="1.45" fill="#4a976a"/>
<circle cx="467.10" cy="504.46" r="1.45" fill="#e7df4c"/>
<circle cx="493.80" cy="507.24" r="1.45" fill="#79aee0"/>
<circle cx="465.07" cy="473.93" r="1.45" fill="#4a976a"/>
<circle cx="453.29" cy="506.85" r="1.45" fill="#4a976a"/>
<circle cx="476.19" cy="484.94" r="1.45" fill="#e7df4c"/>
<circle cx="475.76" cy="513.31" r="1.45" fill="#e7df4c"/>
<circle cx="478.05" cy="520.28" r="1.45" fill="#4a976a"/>
<circle cx="505.36" cy="502.67" r="1.45" fill="#4a976a"/>
<circle cx="482.25" cy="514.71" r="1.45" fill="#79aee0"/>
<circle cx="485.33" cy="476.89" r="1.45" fill="#4a976a"/>
<circle cx="491.67" cy="520.66" r="1.45" fill="#79aee0"/>
<circle cx="466.88" cy="500.99" r="1.45" fill="#4a976a"/>
<circle cx="487.45" cy="502.66" r="1.45" fill="#4a976a"/>
<circle cx="470.55" cy="499.66" r="1.45" fill="#79aee0"/>
<circle cx="504.42" cy="499.78" r="1.45" fill="#79aee0"/>
<circle cx="460.78" cy="500.85" r="1.45" fill="#4a976a"/>
<circle cx="494.20" cy="474.18" r="1.45" fill="#79aee0"/>
<circle cx="501.02" cy="495.68" r="1.45" fill="#4a976a"/>
<circle cx="463.44" cy="482.03" r="1.45" fill="#4a976a"/>
<circle cx="498.52" cy="492.37" r="1.45" fill="#79aee0"/>
<circle cx="495.11" cy="479.82" r="1.45" fill="#79aee0"/>
<circle cx="469.52" cy="474.33" r="1.45" fill="#4a976a"/>
<circle cx="483.29" cy="498.72" r="1.45" fill="#e7df4c"/>
<circle cx="487.67" cy="515.50" r="1.45" fill="#e7df4c"/>
<circle cx="500.13" cy="488.54" r="1.45" fill="#4a976a"/>
<circle cx="475.34" cy="478.22" r="1.45" fill="#e7df4c"/>
<circle cx="484.87" cy="490.94" r="1.45" fill="#79aee0"/>
<circle cx="491.35" cy="486.41" r="1.45" fill="#79aee0"/>
<circle cx="471.90" cy="505.12" r="1.45" fill="#79aee0"/>
<circle cx="459.71" cy="482.78" r="1.45" fill="#79aee0"/>
<circle cx="483.35" cy="505.90" r="1.45" fill="#79aee0"/>
<circle cx="458.07" cy="492.17" r="1.45" fill="#4a976a"/>
<circle cx="477.28" cy="491.92" r="1.45" fill="#4a976a"/>
<circle cx="454.97" cy="507.04" r="1.45" fill="#79aee0"/>
<circle cx="491.49" cy="483.31" r="1.45" fill="#79aee0"/>
<circle cx="482.09" cy="514.69" r="1.45" fill="#4a976a"/>
<circle cx="469.44" cy="481.96" r="1.45" fill="#e7df4c"/>
<circle cx="501.38" cy="507.75" r="1.45" fill="#4a976a"/>
<circle cx="494.22" cy="477.66" r="1.45" fill="#e7df4c"/>
<circle cx="461.69" cy="495.07" r="1.45" fill="#79aee0"/>
<circle cx="486.25" cy="483.72" r="1.45" fill="#4a976a"/>
<circle cx="501.00" cy="509.44" r="1.45" fill="#4a976a"/>
<circle cx="478.33" cy="489.80" r="1.45" fill="#4a976a"/>
<circle cx="474.00" cy="475.39" r="1.45" fill="#4a976a"/>
<circle cx="496.90" cy="516.94" r="1.45" fill="#79aee0"/>
<circle cx="469.76" cy="480.28" r="1.45" fill="#79aee0"/>
<circle cx="467.26" cy="493.30" r="1.45" fill="#79aee0"/>
<circle cx="486.58" cy="484.37" r="1.45" fill="#4a976a"/>
<circle cx="493.93" cy="509.69" r="1.45" fill="#4a976a"/>
<circle cx="496.22" cy="490.88" r="1.45" fill="#4a976a"/>
<circle cx="505.80" cy="505.71" r="1.45" fill="#79aee0"/>
<circle cx="496.58" cy="485.14" r="1.45" fill="#4a976a"/>
<circle cx="468.10" cy="493.55" r="1.45" fill="#e7df4c"/>
<circle cx="499.36" cy="508.24" r="1.45" fill="#79aee0"/>
<circle cx="476.34" cy="503.42" r="1.45" fill="#e7df4c"/>
<circle cx="476.97" cy="491.02" r="1.45" fill="#4a976a"/>
<circle cx="503.06" cy="497.48" r="1.45" fill="#79aee0"/>
<circle cx="459.83" cy="490.94" r="1.45" fill="#79aee0"/>
<circle cx="474.00" cy="485.43" r="1.45" fill="#4a976a"/>
<circle cx="490.99" cy="496.93" r="1.45" fill="#4a976a"/>
<circle cx="508.79" cy="513.29" r="1.45" fill="#4a976a"/>
<circle cx="496.56" cy="505.24" r="1.45" fill="#4a976a"/>
<circle cx="492.64" cy="518.66" r="1.45" fill="#79aee0"/>
<circle cx="494.71" cy="508.89" r="1.45" fill="#4a976a"/>
<circle cx="489.19" cy="516.43" r="1.45" fill="#79aee0"/>
<circle cx="487.52" cy="505.28" r="1.45" fill="#79aee0"/>
<circle cx="490.71" cy="509.53" r="1.45" fill="#79aee0"/>
<circle cx="499.30" cy="515.99" r="1.45" fill="#79aee0"/>
<circle cx="496.50" cy="514.49" r="1.45" fill="#4a976a"/>
<circle cx="484.12" cy="513.32" r="1.45" fill="#4a976a"/>
<circle cx="499.36" cy="502.50" r="1.45" fill="#4a976a"/>
<circle cx="510.13" cy="512.95" r="1.45" fill="#4a976a"/>
<circle cx="496.45" cy="505.20" r="1.45" fill="#4a976a"/>
<circle cx="497.57" cy="517.98" r="1.45" fill="#79aee0"/>
<circle cx="502.52" cy="502.72" r="1.45" fill="#79aee0"/>
<circle cx="491.79" cy="519.42" r="1.45" fill="#4a976a"/>
<circle cx="486.02" cy="513.54" r="1.45" fill="#e7df4c"/>
<circle cx="507.32" cy="514.63" r="1.45" fill="#e7df4c"/>
<circle cx="500.75" cy="501.75" r="1.45" fill="#79aee0"/>
<circle cx="490.96" cy="505.74" r="1.45" fill="#79aee0"/>
<circle cx="490.28" cy="514.25" r="1.45" fill="#4a976a"/>
<circle cx="484.48" cy="509.24" r="1.45" fill="#4a976a"/>
<circle cx="495.09" cy="512.14" r="1.45" fill="#4a976a"/>
<circle cx="491.85" cy="517.00" r="1.45" fill="#e7df4c"/>
<circle cx="509.36" cy="508.56" r="1.45" fill="#79aee0"/>
<circle cx="495.54" cy="518.51" r="1.45" fill="#4a976a"/>
<circle cx="505.85" cy="507.14" r="1.45" fill="#79aee0"/>
<circle cx="483.09" cy="511.57" r="1.45" fill="#4a976a"/>
<circle cx="488.51" cy="504.75" r="1.45" fill="#79aee0"/>
<circle cx="493.73" cy="509.12" r="1.45" fill="#79aee0"/>
<circle cx="503.84" cy="514.91" r="1.45" fill="#4a976a"/>
<circle cx="505.54" cy="516.56" r="1.45" fill="#4a976a"/>
<circle cx="494.21" cy="507.98" r="1.45" fill="#4a976a"/>
<circle cx="493.65" cy="511.49" r="1.45" fill="#4a976a"/>
<circle cx="496.52" cy="512.37" r="1.45" fill="#79aee0"/>
<circle cx="477.35" cy="526.23" r="1.45" fill="#79aee0"/>
<circle cx="465.31" cy="526.37" r="1.45" fill="#e7df4c"/>
<circle cx="468.77" cy="535.09" r="1.45" fill="#4a976a"/>
<circle cx="470.89" cy="530.95" r="1.45" fill="#4a976a"/>
<circle cx="453.88" cy="534.60" r="1.45" fill="#79aee0"/>
<circle cx="456.67" cy="529.41" r="1.45" fill="#79aee0"/>
<circle cx="480.46" cy="533.90" r="1.45" fill="#4a976a"/>
<circle cx="457.55" cy="532.06" r="1.45" fill="#79aee0"/>
<circle cx="465.12" cy="531.95" r="1.45" fill="#4a976a"/>
<circle cx="460.17" cy="525.50" r="1.45" fill="#79aee0"/>
<circle cx="467.50" cy="530.35" r="1.45" fill="#4a976a"/>
<circle cx="469.25" cy="533.82" r="1.45" fill="#79aee0"/>
<circle cx="464.23" cy="540.48" r="1.45" fill="#4a976a"/>
<circle cx="457.55" cy="533.62" r="1.45" fill="#4a976a"/>
<circle cx="477.66" cy="535.29" r="1.45" fill="#79aee0"/>
<circle cx="455.62" cy="533.54" r="1.45" fill="#79aee0"/>
<circle cx="463.79" cy="526.10" r="1.45" fill="#79aee0"/>
<circle cx="474.20" cy="534.10" r="1.45" fill="#79aee0"/>
<circle cx="460.53" cy="531.66" r="1.45" fill="#4a976a"/>
<circle cx="454.07" cy="530.52" r="1.45" fill="#4a976a"/>
<circle cx="468.52" cy="534.19" r="1.45" fill="#4a976a"/>
<circle cx="478.72" cy="537.04" r="1.45" fill="#4a976a"/>
<circle cx="473.57" cy="533.27" r="1.45" fill="#4a976a"/>
<circle cx="457.57" cy="535.57" r="1.45" fill="#79aee0"/>
<circle cx="480.20" cy="536.05" r="1.45" fill="#4a976a"/>
<circle cx="476.53" cy="539.99" r="1.45" fill="#79aee0"/>
<circle cx="474.12" cy="524.78" r="1.45" fill="#4a976a"/>
<circle cx="469.38" cy="534.77" r="1.45" fill="#79aee0"/>
<circle cx="478.52" cy="537.24" r="1.45" fill="#79aee0"/>
<circle cx="477.74" cy="528.91" r="1.45" fill="#e7df4c"/>
<circle cx="476.65" cy="528.61" r="1.45" fill="#4a976a"/>
<circle cx="464.29" cy="534.48" r="1.45" fill="#79aee0"/>
<circle cx="465.05" cy="522.29" r="1.45" fill="#79aee0"/>
<circle cx="460.71" cy="544.80" r="1.45" fill="#79aee0"/>
<circle cx="478.56" cy="528.59" r="1.45" fill="#4a976a"/>
<circle cx="464.77" cy="541.49" r="1.45" fill="#79aee0"/>
<circle cx="456.34" cy="534.85" r="1.45" fill="#4a976a"/>
<circle cx="454.60" cy="533.23" r="1.45" fill="#79aee0"/>
<circle cx="481.46" cy="531.88" r="1.45" fill="#4a976a"/>
<circle cx="457.44" cy="526.79" r="1.45" fill="#79aee0"/>
<circle cx="473.18" cy="526.40" r="1.45" fill="#79aee0"/>
<circle cx="456.79" cy="537.15" r="1.45" fill="#79aee0"/>
<circle cx="463.70" cy="545.82" r="1.45" fill="#e7df4c"/>
<circle cx="454.42" cy="534.76" r="1.45" fill="#79aee0"/>
<circle cx="457.76" cy="542.56" r="1.45" fill="#4a976a"/>
<circle cx="465.68" cy="533.78" r="1.45" fill="#e7df4c"/>
<circle cx="478.75" cy="531.66" r="1.45" fill="#4a976a"/>
<circle cx="469.32" cy="542.02" r="1.45" fill="#79aee0"/>
<circle cx="471.92" cy="542.05" r="1.45" fill="#4a976a"/>
<circle cx="472.20" cy="537.48" r="1.45" fill="#79aee0"/>
<circle cx="463.69" cy="524.97" r="1.45" fill="#79aee0"/>
<circle cx="471.63" cy="541.59" r="1.45" fill="#79aee0"/>
<circle cx="461.62" cy="544.81" r="1.45" fill="#79aee0"/>
<circle cx="460.05" cy="543.42" r="1.45" fill="#4a976a"/>
<circle cx="469.35" cy="542.33" r="1.45" fill="#4a976a"/>
<circle cx="458.98" cy="527.61" r="1.45" fill="#4a976a"/>
<circle cx="457.09" cy="529.38" r="1.45" fill="#4a976a"/>
<circle cx="467.81" cy="534.68" r="1.45" fill="#4a976a"/>
<circle cx="469.54" cy="537.76" r="1.45" fill="#e7df4c"/>
<circle cx="478.65" cy="537.70" r="1.45" fill="#79aee0"/>
<circle cx="464.39" cy="534.64" r="1.45" fill="#e7df4c"/>
<circle cx="462.19" cy="526.79" r="1.45" fill="#e7df4c"/>
<circle cx="461.55" cy="527.26" r="1.45" fill="#4a976a"/>
<circle cx="464.48" cy="536.38" r="1.45" fill="#4a976a"/>
<circle cx="480.66" cy="535.27" r="1.45" fill="#4a976a"/>
<circle cx="463.80" cy="536.99" r="1.45" fill="#4a976a"/>
<circle cx="464.91" cy="536.71" r="1.45" fill="#4a976a"/>
<circle cx="441.21" cy="519.20" r="1.45" fill="#4a976a"/>
<circle cx="435.48" cy="513.94" r="1.45" fill="#4a976a"/>
<circle cx="431.54" cy="512.80" r="1.45" fill="#79aee0"/>
<circle cx="432.42" cy="518.24" r="1.45" fill="#79aee0"/>
<circle cx="440.21" cy="517.88" r="1.45" fill="#79aee0"/>
<circle cx="430.17" cy="514.77" r="1.45" fill="#79aee0"/>
<circle cx="440.76" cy="512.21" r="1.45" fill="#4a976a"/>
<circle cx="438.61" cy="510.40" r="1.45" fill="#79aee0"/>
<circle cx="440.65" cy="516.02" r="1.45" fill="#4a976a"/>
<circle cx="440.60" cy="510.41" r="1.45" fill="#4a976a"/>
<circle cx="438.82" cy="513.63" r="1.45" fill="#4a976a"/>
<circle cx="438.42" cy="517.07" r="1.45" fill="#79aee0"/>
<circle cx="437.89" cy="518.91" r="1.45" fill="#4a976a"/>
<circle cx="431.96" cy="514.85" r="1.45" fill="#79aee0"/>
<circle cx="441.62" cy="511.73" r="1.45" fill="#79aee0"/>
<circle cx="431.59" cy="514.89" r="1.45" fill="#4a976a"/>
<circle cx="438.66" cy="518.73" r="1.45" fill="#4a976a"/>
<circle cx="440.57" cy="512.35" r="1.45" fill="#79aee0"/>
<circle cx="434.92" cy="518.33" r="1.45" fill="#79aee0"/>
<circle cx="416.96" cy="496.23" r="1.45" fill="#4a976a"/>
<circle cx="416.74" cy="496.25" r="1.45" fill="#79aee0"/>
<circle cx="420.00" cy="507.50" r="1.45" fill="#4a976a"/>
<circle cx="417.47" cy="499.74" r="1.45" fill="#4a976a"/>
<circle cx="417.06" cy="499.50" r="1.45" fill="#4a976a"/>
<circle cx="418.74" cy="501.43" r="1.45" fill="#e7df4c"/>
<circle cx="421.12" cy="506.53" r="1.45" fill="#4a976a"/>
<circle cx="417.74" cy="499.12" r="1.45" fill="#79aee0"/>
<circle cx="424.74" cy="508.70" r="1.45" fill="#4a976a"/>
<circle cx="418.89" cy="506.78" r="1.45" fill="#79aee0"/>
<circle cx="419.65" cy="504.53" r="1.45" fill="#79aee0"/>
<circle cx="417.06" cy="499.85" r="1.45" fill="#4a976a"/>
<circle cx="424.55" cy="505.23" r="1.45" fill="#79aee0"/>
<circle cx="421.79" cy="512.88" r="1.45" fill="#79aee0"/>
<circle cx="424.91" cy="514.42" r="1.45" fill="#4a976a"/>
<circle cx="417.93" cy="499.86" r="1.45" fill="#4a976a"/>
<circle cx="414.75" cy="497.83" r="1.45" fill="#79aee0"/>
<circle cx="422.12" cy="507.52" r="1.45" fill="#4a976a"/>
<circle cx="416.23" cy="495.79" r="1.45" fill="#e7df4c"/>
<circle cx="424.46" cy="513.37" r="1.45" fill="#4a976a"/>
<circle cx="411.47" cy="499.01" r="1.45" fill="#79aee0"/>
<circle cx="415.93" cy="499.10" r="1.45" fill="#79aee0"/>
<circle cx="421.62" cy="505.41" r="1.45" fill="#79aee0"/>
<circle cx="415.70" cy="494.31" r="1.45" fill="#79aee0"/>
</g>
<text x="353.00" y="539.60" font-size="5.4" fill="#222" text-anchor="start" font-weight="normal" stroke="#222" stroke-width="0.14">Disease</text>
<circle cx="356.20" cy="547.70" r="3.10" fill="#79aee0"/>
<text x="362.20" y="549.70" font-size="5.5" fill="#222" text-anchor="start" font-weight="normal" stroke="#222" stroke-width="0.15">Lymphoma</text>
<circle cx="356.20" cy="560.00" r="3.10" fill="#4a976a"/>
<text x="362.20" y="562.00" font-size="5.5" fill="#222" text-anchor="start" font-weight="normal" stroke="#222" stroke-width="0.15">Myeloma</text>
<circle cx="356.20" cy="572.80" r="3.10" fill="#e7df4c"/>
<text x="362.20" y="574.80" font-size="5.5" fill="#222" text-anchor="start" font-weight="normal" stroke="#222" stroke-width="0.15">Amyloidosis</text>
<rect x="0.5" y="0.5" width="519" height="608" fill="none" stroke="#000" stroke-width="1.4"/>
</svg></body></html>
